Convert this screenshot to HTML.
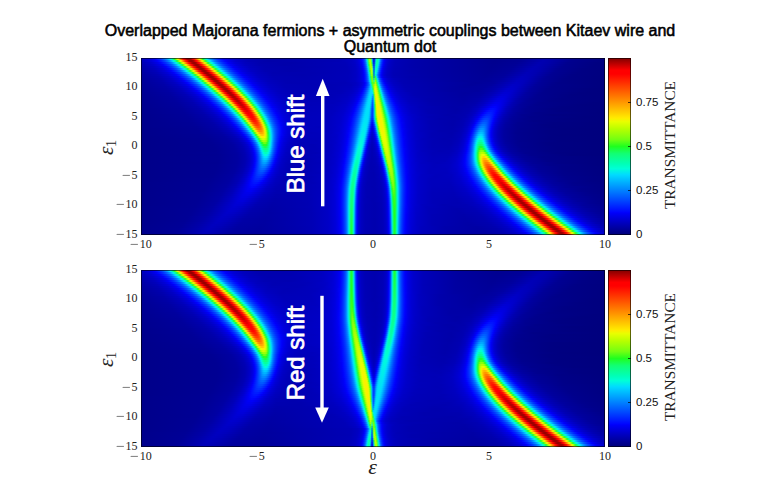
<!DOCTYPE html>
<html lang="en">
<head>
<meta charset="utf-8">
<title>Overlapped Majorana fermions - transmittance</title>
<style>
html,body{margin:0;padding:0;background:#fff}
body{width:780px;height:500px;position:relative;overflow:hidden;font-family:"Liberation Sans",sans-serif;color:#000}
.abs{position:absolute}
.title{left:0;width:780px;text-align:center;font-weight:normal;font-size:16px;line-height:18px;white-space:nowrap;color:#000;-webkit-text-stroke:.55px #000}
.hm{position:absolute;width:464px;height:177px;overflow:hidden;background:#0000c8}
.hm i{display:block;width:464px;height:2px}
.hm b{display:block;filter:blur(.6px)}
.frame{position:absolute;box-sizing:border-box;border:1px solid rgba(0,0,0,.6)}
.cb{position:absolute;width:23px;height:177px;background:linear-gradient(0deg,#000078 0.0%,#0000bb 6.5%,#0000fa 12.5%,#0005ff 13.0%,#006bff 23.0%,#00dbff 34.0%,#00ffd6 37.5%,#00ffb9 40.0%,#12ff73 46.0%,#1fff1f 50.0%,#73ff12 54.0%,#b9ff00 60.0%,#e8ff00 64.0%,#ffec00 66.0%,#ff7b00 78.0%,#ff0000 91.0%,#ff0000 93.0%,#800000 100.0%)}
.cbt{position:absolute;width:3px;height:1px;background:rgba(0,0,0,.7)}
.tk{position:absolute;font-family:"Liberation Serif",serif;font-size:12px;line-height:14px;color:#222;white-space:nowrap}
.m{display:inline-block;transform:scaleX(1.3);transform-origin:100% 50%;margin-left:2px;margin-right:.5px}
.tky{width:30px;text-align:right}
.tkx{width:40px;text-align:center}
.cl{position:absolute;font-family:"Liberation Sans",sans-serif;font-size:11.5px;line-height:14px;color:#111;white-space:nowrap}
.rot{position:absolute;white-space:nowrap;transform-origin:0 0;transform:rotate(-90deg)}
.tr{font-family:"Liberation Serif",serif;font-size:15.3px;line-height:16px;color:#222;width:160px;text-align:center}
.sh{font-family:"Liberation Sans",sans-serif;font-weight:normal;font-size:24px;line-height:22px;color:#fff;width:140px;-webkit-text-stroke:.7px #fff;text-align:center}
.eps{font-family:"Liberation Serif",serif;font-style:italic;color:#222}
</style>
</head>
<body>
<div class="abs title" style="top:21.5px">Overlapped Majorana fermions + asymmetric couplings between Kitaev wire and</div>
<div class="abs title" style="top:38px">Quantum dot</div>
<div class="hm" style="left:141px;top:58px"><b>
<i style="background:linear-gradient(90deg,#0000be 0,#00d 9px,#0000fa 14px,#0007ff 15px,#0035ff 20px,#005dff 23px,#0092ff 26px,#00dcff 29px,#00f9dd 30px,#00ffb8 31px,#0bff90 32px,#16ff58 33px,#3aff1b 34px,#86ff0d 35px,#bf0 36px,#f2f700 37px,#ffc900 38px,#ff4300 41px,#ff1c00 42px,#f00 43px,#e50000 44px,#be0000 45px,#a50000 46px,#980000 47px,#960000 48px,#9b0000 49px,#ab0000 50px,#c80000 51px,#f30000 52px,#ff0400 53px,#ff4f00 55px,#ffd600 58px,#e2ff00 59px,#abff04 60px,#7f1 61px,#21ff1e 62px,#13ff6f 63px,#00ffc3 65px,#00f0e7 66px,#00d4ff 67px,#008cff 70px,#0059ff 73px,#0029ff 77px,#0007ff 81px,#0001fa 82px,#0000d8 89px,#0000bd 99px,#0000ad 115px,#0000a9 144px,#0000b8 204px,#0000c6 213px,#0000d7 217px,#0000e8 219px,#0000f4 220px,#000aff 221px,#001fff 222px,#003cff 223px,#0064ff 224px,#00a1ff 225px,#00fbdb 226px,#17ff51 227px,#99ff08 228px,#beff00 229px,#75ff12 230px,#00e1f9 231px,#0025ff 232px,#0000be 233px,#0045ff 234px,#00d3ff 235px,#05ffa4 236px,#05ffa4 237px,#00f2e4 238px,#00a6ff 239px,#0068ff 240px,#003cff 241px,#001cff 242px,#0005fe 243px,#0000e1 245px,#0000ca 248px,#0000b8 254px,#0000ab 271px,#00008f 355px,#000094 380px,#0000b0 405px,#0000a3 416px,#00008d 434px,#000081 464px)"></i>
<i style="background:linear-gradient(90deg,#0000b8 0,#0000d6 10px,#0000f5 16px,#0002fc 17px,#001aff 20px,#0045ff 24px,#0072ff 27px,#0098ff 29px,#00c9ff 31px,#00e5f4 32px,#00ffd1 33px,#04ffab 34px,#0fff81 35px,#1aff3c 36px,#58ff16 37px,#98ff09 38px,#ceff00 39px,#ffe600 40px,#ff5e00 43px,#ff0f00 45px,#f00 46px,#d40000 47px,#b20000 48px,#9e0000 49px,#970000 50px,#970000 51px,#a00000 52px,#b50000 53px,#f00 55px,#ff1300 56px,#ff6200 58px,#ffeb00 61px,#c8ff00 62px,#92ff0a 63px,#4fff18 64px,#19ff44 65px,#0dff86 66px,#03ffaf 67px,#00ffd5 68px,#00e2f7 69px,#00c6ff 70px,#0082ff 73px,#0052ff 76px,#0024ff 80px,#0004fe 84px,#0000ec 87px,#00c 95px,#0000b6 107px,#00a 127px,#0000b4 198px,#0000c0 211px,#0000cf 216px,#0000e4 219px,#0004fe 221px,#0018ff 222px,#0032ff 223px,#0057ff 224px,#008cff 225px,#00e1f9 226px,#0fff80 227px,#81ff0f 228px,#bfff00 229px,#9dff07 230px,#01ffb4 231px,#003dff 232px,#0000c2 233px,#0061ff 234px,#00f5e1 235px,#06ffa1 236px,#02ffb3 237px,#00ddfd 238px,#0091ff 239px,#0059ff 240px,#0031ff 241px,#0013ff 242px,#0000f8 243px,#00d 245px,#0000c8 248px,#0000b7 254px,#0000ab 272px,#00008f 354px,#000095 378px,#0000b1 402px,#0000a6 412px,#00008e 430px,#000082 461px,#000081 464px)"></i>
<i style="background:linear-gradient(90deg,#0000b2 0,#0000cb 10px,#0000ea 17px,#0004fe 20px,#0030ff 25px,#0057ff 28px,#008aff 31px,#00d2ff 34px,#00efe9 35px,#00ffc5 36px,#13ff71 38px,#20ff1e 39px,#76ff11 40px,#abff04 41px,#e3ff00 42px,#ffd500 43px,#ff4d00 46px,#ff0200 48px,#ef0000 49px,#c50000 50px,#a90000 51px,#9a0000 52px,#960000 53px,#9a0000 54px,#a80000 55px,#c30000 56px,#ed0000 57px,#f00 58px,#ff2300 59px,#f70 61px,#ffd300 63px,#e5ff00 64px,#aeff03 65px,#79ff11 66px,#24ff1e 67px,#13ff6d 68px,#08ff9b 69px,#00ffc3 70px,#00f0e7 71px,#00d3ff 72px,#008bff 75px,#0058ff 78px,#0028ff 82px,#0007ff 86px,#0000fa 87px,#0000d7 94px,#0000be 104px,#0000ae 120px,#0000ab 150px,#0000b8 205px,#0000c6 214px,#0000d9 218px,#0000eb 220px,#0000f9 221px,#01f 222px,#0029ff 223px,#004bff 224px,#007aff 225px,#00c7ff 226px,#06ffa3 227px,#56ff17 228px,#baff00 229px,#b6ff01 230px,#15ff60 231px,#005bff 232px,#0000c8 233px,#0082ff 234px,#00ffc3 235px,#06ffa4 236px,#00ffc7 237px,#00c5ff 238px,#007cff 239px,#004bff 240px,#0026ff 241px,#000bff 242px,#0000f2 243px,#0000d9 245px,#0000c6 248px,#0000b6 254px,#00a 274px,#000090 353px,#000096 376px,#0000b2 399px,#00a 408px,#00008f 426px,#000082 455px,#000081 464px)"></i>
<i style="background:linear-gradient(90deg,#0000ae 0,#0000c9 12px,#0000e6 19px,#0000f8 22px,#0006ff 23px,#0034ff 28px,#005bff 31px,#0091ff 34px,#00dcff 37px,#00fadc 38px,#01ffb7 39px,#0bff8e 40px,#17ff53 41px,#41ff1a 42px,#8aff0c 43px,#c0ff00 44px,#f9f100 45px,#ffc300 46px,#ff3c00 49px,#ff1600 50px,#f00 51px,#b70000 53px,#a10000 54px,#970000 55px,#970000 56px,#9f0000 57px,#b30000 58px,#d50000 59px,#f00 60px,#ff1000 61px,#ff6000 63px,#ffea00 66px,#c9ff00 67px,#92ff0a 68px,#4eff18 69px,#19ff46 70px,#0dff87 71px,#02ffb1 72px,#00ffd7 73px,#00e0f9 74px,#00c4ff 75px,#0080ff 78px,#0050ff 81px,#02f 85px,#0003fd 89px,#00d 95px,#0000c2 104px,#0000b1 118px,#0000ab 143px,#0000b7 205px,#0000c4 214px,#0000d6 218px,#0000e7 220px,#0000f3 221px,#000aff 222px,#0020ff 223px,#003fff 224px,#0069ff 225px,#00acff 226px,#00ffc7 227px,#1dff27 228px,#aaff04 229px,#c2ff00 230px,#5dff16 231px,#0083ff 232px,#0000cf 233px,#00acff 234px,#02ffb2 235px,#04ffab 236px,#00f5e1 237px,#00abff 238px,#006aff 239px,#003cff 240px,#001bff 241px,#0003fd 242px,#0000df 244px,#0000c8 247px,#0000b7 253px,#0000ab 271px,#000091 352px,#000097 374px,#0000b3 397px,#0000a8 407px,#00008f 424px,#000082 453px,#000080 464px)"></i>
<i style="background:linear-gradient(90deg,#00a 0,#0000c3 13px,#0000e2 21px,#0001fa 25px,#0010ff 27px,#0038ff 31px,#0061ff 34px,#0083ff 36px,#00caff 39px,#00e6f2 40px,#00ffcf 41px,#05ffa8 42px,#10ff7d 43px,#1cff32 44px,#64ff14 45px,#a0ff07 46px,#d7ff00 47px,#ffde00 48px,#ff5400 51px,#ff0700 53px,#f60000 54px,#c90000 55px,#ab0000 56px,#9b0000 57px,#970000 58px,#900 59px,#a70000 60px,#c20000 61px,#eb0000 62px,#f00 63px,#f20 64px,#f70 66px,#ffd400 68px,#e3ff00 69px,#abff04 70px,#76ff11 71px,#1fff1f 72px,#12ff73 73px,#00ffc6 75px,#00edeb 76px,#00d0ff 77px,#08f 80px,#0056ff 83px,#0026ff 87px,#0005ff 91px,#0000f8 92px,#0000d7 99px,#0000be 109px,#0000af 125px,#0000ad 158px,#0000b7 206px,#0000c3 214px,#0000d3 218px,#00e 221px,#0003fd 222px,#0017ff 223px,#03f 224px,#0059ff 225px,#0092ff 226px,#00ebed 227px,#13ff6d 228px,#90ff0b 229px,#c6ff00 230px,#9dff07 231px,#0bf 232px,#0000d9 233px,#00d3ff 234px,#03ffae 235px,#00ffba 236px,#00dbff 237px,#0090ff 238px,#0058ff 239px,#002fff 240px,#01f 241px,#0000f5 242px,#0000da 244px,#0000c6 247px,#0000b6 253px,#00a 273px,#000091 351px,#000098 372px,#0000b4 394px,#0000ab 403px,#000090 421px,#000083 449px,#000080 464px)"></i>
<i style="background:linear-gradient(90deg,#0000a6 0,#0000bf 14px,#0000da 22px,#0003fd 28px,#0030ff 33px,#0057ff 36px,#008bff 39px,#00d5ff 42px,#00f2e5 43px,#00ffc0 44px,#09ff97 45px,#14ff64 46px,#2fff1c 47px,#80ff0f 48px,#b7ff01 49px,#eff900 50px,#ffca00 51px,#ff4100 54px,#ff1a00 55px,#f00 56px,#df0000 57px,#ba0000 58px,#a20000 59px,#980000 60px,#970000 61px,#9f0000 62px,#b30000 63px,#d50000 64px,#f00 65px,#f10 66px,#ff6200 68px,#fdee00 71px,#c4ff00 72px,#8dff0b 73px,#45ff19 74px,#17ff50 75px,#0cff8d 76px,#01ffb6 77px,#00fadc 78px,#00dbff 79px,#0090ff 82px,#005bff 85px,#002aff 89px,#0008ff 93px,#0001fb 94px,#0000dc 100px,#0000c2 109px,#0000b1 123px,#0000ad 150px,#0000b7 206px,#0000c4 215px,#0000d7 219px,#0000e9 221px,#0000f7 222px,#000fff 223px,#0028ff 224px,#004aff 225px,#007bff 226px,#00cbff 227px,#08ff9a 228px,#6aff14 229px,#c2ff00 230px,#bcff00 231px,#00f8df 232px,#0000e8 233px,#00efe9 234px,#02ffb1 235px,#00ffd2 236px,#00bfff 237px,#0078ff 238px,#0046ff 239px,#0021ff 240px,#0007ff 241px,#00e 242px,#0000d6 244px,#0000c3 247px,#0000b4 254px,#0000a7 283px,#000092 350px,#009 370px,#0000b5 391px,#0000af 399px,#000092 417px,#000084 442px,#000080 464px)"></i>
<i style="background:linear-gradient(90deg,#0000a4 0,#0000ba 15px,#0000d7 24px,#0000f8 30px,#0005ff 31px,#0029ff 35px,#005cff 39px,#0093ff 42px,#00c4ff 44px,#00e0f9 45px,#00ffd6 46px,#03ffaf 47px,#0eff85 48px,#1aff40 49px,#57ff16 50px,#98ff09 51px,#d0ff00 52px,#ffe400 53px,#ff5800 56px,#ff0900 58px,#f90000 59px,#cb0000 60px,#ac0000 61px,#9c0000 62px,#970000 63px,#9a0000 64px,#a80000 65px,#c30000 66px,#e00 67px,#ff0200 68px,#ff2500 69px,#ff7b00 71px,#ffda00 73px,#dcff00 74px,#a4ff06 75px,#6aff14 76px,#1cff2e 77px,#10ff7b 78px,#05ffa6 79px,#00ffce 80px,#00e7f2 81px,#00caff 82px,#0083ff 85px,#0052ff 88px,#0023ff 92px,#0003fd 96px,#0000e1 101px,#0000c5 110px,#0000b3 124px,#0000ad 150px,#0000b7 207px,#0000c3 215px,#0000d4 219px,#0000e5 221px,#0000f2 222px,#0008ff 223px,#001fff 224px,#003eff 225px,#006aff 226px,#00aeff 227px,#00ffc3 228px,#22ff1e 229px,#b0ff02 230px,#c9ff00 231px,#08ff99 232px,#0008ff 233px,#00fdd9 234px,#0fb 235px,#00e9ef 236px,#00a1ff 237px,#0063ff 238px,#0037ff 239px,#0016ff 240px,#0000f9 241px,#0000dc 243px,#0000c6 246px,#0000b6 252px,#00a 271px,#000093 349px,#00009c 369px,#0000b7 389px,#0000b0 397px,#000092 415px,#000084 441px,#000080 464px)"></i>
<i style="background:linear-gradient(90deg,#0000a1 0,#0000b7 16px,#0000d4 26px,#0000f3 32px,#0001fa 33px,#0010ff 35px,#0038ff 39px,#0063ff 42px,#0087ff 44px,#00d0ff 47px,#00edeb 48px,#00ffc5 49px,#07ff9d 50px,#13ff6f 51px,#25ff1e 52px,#7bff10 53px,#b2ff02 54px,#ebfc00 55px,#ffcd00 56px,#ff4200 59px,#ff1b00 60px,#f00 61px,#e00000 62px,#ba0000 63px,#a20000 64px,#900 65px,#980000 66px,#a00000 67px,#b60000 68px,#f00 70px,#ff1600 71px,#ff6800 73px,#ffc700 75px,#f3f600 76px,#b9ff00 77px,#82ff0e 78px,#31ff1c 79px,#15ff63 80px,#09ff97 81px,#00ffc0 82px,#00f1e6 83px,#00d3ff 84px,#0089ff 87px,#0056ff 90px,#0026ff 94px,#0005ff 98px,#0000f8 99px,#0000d7 106px,#0000bf 116px,#0000b0 132px,#0000b0 172px,#0000b8 208px,#0000c6 216px,#0000da 220px,#00e 222px,#0004fe 223px,#0018ff 224px,#0035ff 225px,#005cff 226px,#0096ff 227px,#00f0e8 228px,#14ff66 229px,#93ff0a 230px,#cf0 231px,#14ff6a 232px,#0028ff 233px,#00fdd9 234px,#00ffd0 235px,#0cf 236px,#0085ff 237px,#0051ff 238px,#002aff 239px,#000dff 240px,#0000f3 241px,#0000d8 243px,#0000c5 246px,#0000b5 252px,#00a 273px,#000094 347px,#00009c 366px,#0000b8 386px,#0000b2 394px,#000093 412px,#000085 436px,#000080 464px)"></i>
<i style="background:linear-gradient(90deg,#00009f 0,#0000b3 17px,#0000ce 27px,#0000ef 34px,#0003fd 36px,#0026ff 40px,#0059ff 44px,#0090ff 47px,#00c0ff 49px,#00dcfe 50px,#00fbda 51px,#01ffb3 52px,#0dff89 53px,#19ff47 54px,#50ff17 55px,#95ff09 56px,#cdff00 57px,#ffe500 58px,#ff5700 61px,#ff2d00 62px,#ff0800 63px,#f70000 64px,#ca0000 65px,#ab0000 66px,#9c0000 67px,#980000 68px,#9c0000 69px,#ab0000 70px,#c90000 71px,#f60000 72px,#ff0800 73px,#ff2d00 74px,#ff8500 76px,#ffe500 78px,#ceff00 79px,#95ff09 80px,#51ff17 81px,#19ff46 82px,#0dff88 83px,#02ffb3 84px,#00fcda 85px,#00ddfd 86px,#00a7ff 88px,#007cff 90px,#004cff 93px,#001fff 97px,#0007ff 100px,#0000fa 101px,#0000dc 107px,#0000c3 116px,#0000b2 131px,#0000af 162px,#0000b8 207px,#0000c3 215px,#0000d3 219px,#0000ed 222px,#0001fb 223px,#0014ff 224px,#002eff 225px,#0052ff 226px,#0084ff 227px,#00d5ff 228px,#0aff92 229px,#6dff13 230px,#c3ff00 231px,#1aff3f 232px,#0049ff 233px,#0bff8f 234px,#00ecec 235px,#00aeff 236px,#0070ff 237px,#0042ff 238px,#0020ff 239px,#0006ff 240px,#00e 241px,#0000d6 243px,#0000c4 246px,#0000b4 253px,#0000a8 281px,#000095 345px,#00009d 364px,#0000ba 384px,#0000b3 392px,#000094 409px,#000085 432px,#000080 464px)"></i>
<i style="background:linear-gradient(90deg,#00009d 0,#0000b0 18px,#0000cb 29px,#0000eb 36px,#0000f8 38px,#0006ff 39px,#002bff 43px,#0051ff 46px,#0084ff 49px,#00cdff 52px,#00ebee 53px,#00ffc8 54px,#12ff72 56px,#22ff1e 57px,#7aff10 58px,#b1ff02 59px,#ebfc00 60px,#fc0 61px,#ff4000 64px,#ff1800 65px,#f00 66px,#b70000 68px,#a10000 69px,#900 70px,#9a0000 71px,#a40000 72px,#bc0000 73px,#e40000 74px,#f00 75px,#ff1f00 76px,#ff7500 78px,#ffd400 80px,#e1ff00 81px,#a8ff05 82px,#6fff13 83px,#1dff2b 84px,#10ff7b 85px,#05ffa7 86px,#00ffcf 87px,#00e5f4 88px,#00c8ff 89px,#0080ff 92px,#004fff 95px,#0021ff 99px,#0008ff 102px,#0002fb 103px,#00d 109px,#0000c3 118px,#0000b4 132px,#0000b0 162px,#0000b8 207px,#0000c3 215px,#0000d3 219px,#0000ec 222px,#0000fa 223px,#0012ff 224px,#002aff 225px,#004bff 226px,#0078ff 227px,#00bfff 228px,#01ffb4 229px,#2dff1c 230px,#afff03 231px,#23ff1e 232px,#0074ff 233px,#28ff1d 234px,#08ff9a 235px,#00cdff 236px,#007dff 237px,#004bff 238px,#0027ff 239px,#000eff 240px,#0000f5 241px,#0000dc 243px,#0000c8 246px,#0000b7 252px,#0000ab 270px,#000096 344px,#00009e 362px,#0000bc 381px,#0000b7 388px,#000095 406px,#000086 428px,#00007f 464px)"></i>
<i style="background:linear-gradient(90deg,#00009b 0,#0000ad 19px,#0000c6 30px,#0000e2 37px,#0002fb 41px,#001aff 44px,#0049ff 48px,#0079ff 51px,#00a5ff 53px,#00dbff 55px,#00fadb 56px,#01ffb4 57px,#0dff89 58px,#19ff46 59px,#53ff17 60px,#97ff09 61px,#d0ff00 62px,#ffe200 63px,#ff5300 66px,#ff2900 67px,#ff0300 68px,#f00000 69px,#c50000 70px,#a90000 71px,#9c0000 72px,#900 73px,#9f0000 74px,#b20000 75px,#d50000 76px,#f00 77px,#ff1200 78px,#f60 80px,#ffc500 82px,#f3f600 83px,#b8ff00 84px,#80ff0f 85px,#2cff1d 86px,#14ff6a 87px,#08ff9b 88px,#00ffc5 89px,#00edeb 90px,#00cfff 91px,#009bff 93px,#0072ff 95px,#0045ff 98px,#001aff 102px,#0003fd 105px,#00d 111px,#0000c4 120px,#0000b4 134px,#0000b1 165px,#0000b8 207px,#0000c4 215px,#0000d4 219px,#0000ec 222px,#0000f9 223px,#01f 224px,#0027ff 225px,#0046ff 226px,#006fff 227px,#00aeff 228px,#00ffcf 229px,#18ff4b 230px,#96ff09 231px,#4bff18 232px,#00b9ff 233px,#7eff0f 234px,#1aff3f 235px,#00ffc9 236px,#00b3ff 237px,#0072ff 238px,#0048ff 239px,#0029ff 240px,#01f 241px,#0000f9 242px,#0000e1 244px,#00c 247px,#0000ba 253px,#0000ad 269px,#000097 341px,#00009f 359px,#0000be 379px,#0000b9 386px,#000097 403px,#000087 424px,#00007f 464px)"></i>
<i style="background:linear-gradient(90deg,#009 0,#0000ac 21px,#0000c4 32px,#0000e4 40px,#0000f7 43px,#0005ff 44px,#0029ff 48px,#004fff 51px,#0083ff 54px,#00b2ff 56px,#00cdff 57px,#00ebed 58px,#00ffc7 59px,#07ff9e 60px,#13ff6e 61px,#28ff1d 62px,#7eff0f 63px,#b7ff01 64px,#f2f700 65px,#ffc600 66px,#f60 68px,#ff1200 70px,#f00 71px,#d40000 72px,#b20000 73px,#a00000 74px,#9a0000 75px,#9d0000 76px,#ab0000 77px,#c80000 78px,#f50000 79px,#ff0700 80px,#ff2d00 81px,#ff8700 83px,#ffe900 85px,#c8ff00 86px,#8fff0b 87px,#43ff19 88px,#17ff55 89px,#0bff91 90px,#0fb 91px,#00f4e2 92px,#00d5ff 93px,#00a0ff 95px,#0076ff 97px,#0047ff 100px,#001bff 104px,#0004fe 107px,#0000f1 109px,#0000d3 116px,#0000be 126px,#0000b2 144px,#0000b7 204px,#0000c1 214px,#0000d2 219px,#0000e9 222px,#0000f6 223px,#000cff 224px,#0020ff 225px,#003cff 226px,#0062ff 227px,#0098ff 228px,#00e8f0 229px,#0fff81 230px,#78ff11 231px,#73ff12 232px,#00ffbe 233px,#a7ff05 234px,#5bff16 235px,#0aff92 236px,#00dffb 237px,#0093ff 238px,#0060ff 239px,#003bff 240px,#0020ff 241px,#000cff 242px,#0000f6 243px,#0000d8 246px,#0000c4 250px,#0000b4 259px,#00009b 323px,#00009a 349px,#0000a9 363px,#0000c0 376px,#0000bc 383px,#000097 401px,#000087 422px,#00007f 464px)"></i>
<i style="background:linear-gradient(90deg,#000098 0,#00a 22px,#0000c2 34px,#0000e1 42px,#0000fa 46px,#0010ff 48px,#003bff 52px,#0067ff 55px,#008eff 57px,#00c0ff 59px,#00dcfe 60px,#00fcd9 61px,#02ffb1 62px,#0eff85 63px,#1aff3c 64px,#5eff15 65px,#9fff07 66px,#d9ff00 67px,#ffda00 68px,#ff4a00 71px,#ff2000 72px,#f00 73px,#e40000 74px,#bd0000 75px,#a50000 76px,#9c0000 77px,#9c0000 78px,#a60000 79px,#bf0000 80px,#e70000 81px,#f00 82px,#f20 83px,#ff7b00 85px,#fd0 87px,#d5ff00 88px,#9bff08 89px,#58ff16 90px,#19ff42 91px,#0dff88 92px,#01ffb3 93px,#00fadb 94px,#00dbff 95px,#00a4ff 97px,#0078ff 99px,#0049ff 102px,#001cff 106px,#0005fe 109px,#0000f2 111px,#0000d4 118px,#0000bf 128px,#0000b2 146px,#0000b6 205px,#0000c0 215px,#0000d2 220px,#0000eb 223px,#0000f9 224px,#0012ff 225px,#002aff 226px,#004bff 227px,#0079ff 228px,#00c1ff 229px,#02ffb0 230px,#35ff1b 231px,#80ff0f 232px,#19ff43 233px,#c6ff00 234px,#93ff0a 235px,#19ff44 236px,#00ffc3 237px,#00beff 238px,#007dff 239px,#0053ff 240px,#0034ff 241px,#001bff 242px,#0009ff 243px,#0000f4 244px,#0000d8 247px,#0000c2 252px,#0000b3 262px,#009 335px,#00009f 353px,#0000b5 366px,#0000c3 375px,#0000bc 382px,#009 398px,#008 417px,#00007f 464px)"></i>
<i style="background:linear-gradient(90deg,#000097 0,#0000a8 23px,#0000c0 36px,#0000de 44px,#0000f6 48px,#0004fe 49px,#0029ff 53px,#004fff 56px,#0084ff 59px,#00b3ff 61px,#00cfff 62px,#00eee9 63px,#00ffc2 64px,#09ff97 65px,#15ff60 66px,#38ff1b 67px,#89ff0d 68px,#c3ff00 69px,#ffec00 70px,#ff5a00 73px,#ff2e00 74px,#ff0700 75px,#f50000 76px,#c80000 77px,#ac0000 78px,#9e0000 79px,#9c0000 80px,#a30000 81px,#b80000 82px,#f00 84px,#ff1900 85px,#ff7100 87px,#ffd300 89px,#e1ff00 90px,#a6ff05 91px,#6aff14 92px,#1cff33 93px,#0fff80 94px,#03ffad 95px,#00ffd6 96px,#00dffb 97px,#00a7ff 99px,#007aff 101px,#004aff 104px,#001dff 108px,#0005ff 111px,#0000f8 112px,#0000db 118px,#0000c4 127px,#0000b5 142px,#0000b3 188px,#0000b9 210px,#0000c6 217px,#0000db 221px,#0000ef 223px,#0004fe 224px,#0017ff 225px,#002fff 226px,#004eff 227px,#0073ff 228px,#00a2ff 229px,#00f0e8 230px,#15ff60 231px,#7dff10 232px,#7aff10 233px,#daff00 234px,#b7ff01 235px,#56ff16 236px,#0cff8a 237px,#00edeb 238px,#00a5ff 239px,#006fff 240px,#004bff 241px,#002eff 242px,#0007ff 244px,#0000f4 245px,#0000d9 248px,#0000c3 253px,#0000b4 263px,#00009a 330px,#0000a0 350px,#0000b5 363px,#0000c6 372px,#0000c2 378px,#00009b 395px,#00008a 413px,#00007f 463px,#00007f 464px)"></i>
<i style="background:linear-gradient(90deg,#000096 0,#0000a7 25px,#0000be 38px,#0000db 46px,#0000fa 51px,#0008ff 52px,#002fff 56px,#0058ff 59px,#007bff 61px,#00a8ff 63px,#00c3ff 64px,#00e1f8 65px,#00ffd2 66px,#04ffa9 67px,#10ff7b 68px,#1dff28 69px,#74ff12 70px,#adff03 71px,#e9fe00 72px,#fc0 73px,#ff6900 75px,#ff3b00 76px,#ff1300 77px,#f00 78px,#d50000 79px,#b30000 80px,#a20000 81px,#9e0000 82px,#a20000 83px,#b30000 84px,#d40000 85px,#f00 86px,#ff1200 87px,#ff3a00 88px,#ff9800 90px,#ffca00 91px,#ebfc00 92px,#afff03 93px,#76ff12 94px,#1eff26 95px,#10ff7a 96px,#05ffa8 97px,#00ffd1 98px,#00e2f7 99px,#00c4ff 100px,#0091ff 102px,#0069ff 104px,#003dff 107px,#0014ff 111px,#0005ff 113px,#0000f8 114px,#0000db 120px,#0000c4 129px,#0000b5 144px,#0000b4 191px,#00b 210px,#0000ca 217px,#0000da 220px,#0000ed 222px,#0000fa 223px,#01f 224px,#0026ff 225px,#0041ff 226px,#0062ff 227px,#08f 228px,#00b5ff 229px,#00d8ff 230px,#05ffa5 231px,#58ff16 232px,#a1ff06 233px,#e5ff00 234px,#d0ff00 235px,#8eff0b 236px,#1aff3d 237px,#01ffb5 238px,#00d0ff 239px,#0091ff 240px,#0065ff 241px,#04f 242px,#002bff 243px,#0007ff 245px,#0000f4 246px,#0000da 249px,#0000c5 254px,#0000b4 264px,#00009c 323px,#00009f 345px,#0000ae 357px,#0000c9 370px,#0000c4 376px,#00009b 393px,#00008a 411px,#00007f 461px,#00007f 464px)"></i>
<i style="background:linear-gradient(90deg,#000095 0,#0000a5 26px,#0000ba 39px,#0000d4 47px,#0000f6 53px,#0004fe 54px,#0029ff 58px,#0051ff 61px,#0087ff 64px,#00b8ff 66px,#00d5ff 67px,#00f5e1 68px,#00ffb8 69px,#0cff8c 70px,#19ff48 71px,#54ff17 72px,#9aff08 73px,#d6ff00 74px,#ffdb00 75px,#ff4800 78px,#ff1e00 79px,#f00 80px,#e10000 81px,#bc0000 82px,#a70000 83px,#a00000 84px,#a20000 85px,#b00000 86px,#ce0000 87px,#fc0000 88px,#ff0c00 89px,#ff3400 90px,#ff9200 92px,#ffc400 93px,#f2f600 94px,#b6ff01 95px,#7bff10 96px,#20ff1e 97px,#12ff76 98px,#05ffa4 99px,#00ffcf 100px,#00e4f5 101px,#00c6ff 102px,#0092ff 104px,#006aff 106px,#003dff 109px,#0014ff 113px,#0005ff 115px,#0000f8 116px,#0000db 122px,#0000c4 131px,#0000b6 146px,#0000b4 192px,#0000bd 210px,#0000cb 216px,#0000e2 220px,#0000f7 222px,#000cff 223px,#0037ff 225px,#0075ff 227px,#00c3ff 229px,#00defc 230px,#00eaee 231px,#1aff3b 232px,#a9ff04 233px,#eafd00 234px,#e2ff00 235px,#b1ff02 236px,#55ff17 237px,#0fff81 238px,#00fcda 239px,#00b9ff 240px,#0081ff 241px,#005cff 242px,#003fff 243px,#0016ff 245px,#0007ff 246px,#0000f4 247px,#0000db 250px,#0000c6 255px,#0000b5 265px,#00009f 315px,#00009e 340px,#0000ac 353px,#0000cb 367px,#0000c9 373px,#00009e 390px,#00008c 406px,#000080 447px,#00007f 464px)"></i>
<i style="background:linear-gradient(90deg,#000094 0,#0000a3 27px,#0000b9 41px,#0000d7 50px,#0000fa 56px,#01f 58px,#003dff 62px,#006bff 65px,#0095ff 67px,#00cbff 69px,#00eaee 70px,#00ffc7 71px,#08ff9b 72px,#14ff65 73px,#35ff1b 74px,#89ff0d 75px,#c4ff00 76px,#ffea00 77px,#ff5400 80px,#ff2800 81px,#ff0200 82px,#e00 83px,#c40000 84px,#ac0000 85px,#a20000 86px,#a30000 87px,#af0000 88px,#ca0000 89px,#f60000 90px,#ff0800 91px,#ff2f00 92px,#ff8d00 94px,#ffc000 95px,#f7f200 96px,#baff00 97px,#7fff0f 98px,#25ff1e 99px,#12ff74 100px,#06ffa3 101px,#00ffce 102px,#00e5f4 103px,#00c6ff 104px,#0091ff 106px,#0069ff 108px,#003dff 111px,#0014ff 115px,#0005ff 117px,#0000f2 119px,#0000d4 126px,#0000c0 136px,#0000b5 154px,#0000b7 201px,#0000c3 212px,#0000d4 217px,#0000ea 220px,#0000f5 221px,#0009ff 222px,#002fff 224px,#06f 226px,#08f 227px,#00afff 228px,#00ceff 229px,#00e0f9 230px,#00e2f8 231px,#08ff99 232px,#95ff09 233px,#ebfc00 234px,#ecfb00 235px,#caff00 236px,#89ff0c 237px,#1bff38 238px,#04ffa9 239px,#00e1f9 240px,#00a5ff 241px,#0076ff 242px,#05f 243px,#003bff 244px,#0015ff 246px,#0007ff 247px,#0000f5 248px,#00d 251px,#0000c7 256px,#0000b6 266px,#0000a2 309px,#00009f 337px,#0000ac 350px,#0000cf 365px,#00c 371px,#00009f 388px,#00008c 404px,#000081 445px,#00007f 464px)"></i>
<i style="background:linear-gradient(90deg,#000093 0,#0000a2 29px,#0000b8 43px,#0000d4 52px,#0000f7 58px,#0005fe 59px,#002bff 63px,#0054ff 66px,#008dff 69px,#00c1ff 71px,#00dffa 72px,#00ffd4 73px,#04ffa9 74px,#11ff7a 75px,#1eff23 76px,#79ff11 77px,#b4ff01 78px,#f2f700 79px,#ffc400 80px,#ff5f00 82px,#ff3200 83px,#ff0a00 84px,#f90000 85px,#c00 86px,#b10000 87px,#a50000 88px,#a50000 89px,#af0000 90px,#c80000 91px,#f30000 92px,#ff0600 93px,#ff2d00 94px,#ff8a00 96px,#ffbd00 97px,#faf100 98px,#bf0 99px,#80ff0f 100px,#26ff1d 101px,#12ff74 102px,#06ffa3 103px,#00ffce 104px,#00e4f6 105px,#00c5ff 106px,#0090ff 108px,#0068ff 110px,#003cff 113px,#0013ff 117px,#0004fe 119px,#0000f1 121px,#0000d4 128px,#0000c0 138px,#0000b5 157px,#0000b8 200px,#0000c4 211px,#0000d5 216px,#0000ea 219px,#0000f4 220px,#0006ff 221px,#0028ff 223px,#005aff 225px,#0079ff 226px,#00bfff 228px,#00d7ff 229px,#00e1f8 230px,#00dcfe 231px,#00edea 232px,#5eff15 233px,#e5ff00 234px,#f2f700 235px,#df0 236px,#a9ff04 237px,#50ff17 238px,#10ff7b 239px,#0fc 240px,#00c9ff 241px,#0094ff 242px,#006dff 243px,#004fff 244px,#0024ff 246px,#0007ff 248px,#0000f6 249px,#0000d8 253px,#0000c4 259px,#0000b3 272px,#00009f 324px,#0000a5 342px,#0000b9 353px,#0000d3 363px,#0000d2 368px,#00009f 386px,#00008d 401px,#000081 439px,#00007f 464px)"></i>
<i style="background:linear-gradient(90deg,#000092 0,#0000a1 30px,#0000b6 45px,#0000d2 54px,#0000f4 60px,#0001fb 61px,#0012ff 63px,#0040ff 67px,#0071ff 70px,#009dff 72px,#00d6ff 74px,#00f7df 75px,#01ffb5 76px,#0dff87 77px,#1aff3b 78px,#65ff14 79px,#a6ff05 80px,#e4ff00 81px,#ffcf00 82px,#ff6900 84px,#ff3a00 85px,#f10 86px,#f00 87px,#d40000 88px,#b60000 89px,#a90000 90px,#a70000 91px,#b00000 92px,#c80000 93px,#f20000 94px,#ff0500 95px,#ff2c00 96px,#ff8a00 98px,#ffbd00 99px,#f9f100 100px,#baff00 101px,#7eff0f 102px,#22ff1e 103px,#12ff76 104px,#05ffa6 105px,#00ffd1 106px,#00e1f8 107px,#00c2ff 108px,#008dff 110px,#06f 112px,#003aff 115px,#01f 119px,#0003fd 121px,#0000de 127px,#0000c6 136px,#0000b8 151px,#0000b6 191px,#0000c0 207px,#0000d1 214px,#0000e9 218px,#0005fe 220px,#0024ff 222px,#0051ff 224px,#008cff 226px,#00afff 227px,#0cf 228px,#00ddfd 229px,#00e1f8 230px,#00d1ff 231px,#0af 232px,#17ff52 233px,#d6ff00 234px,#f4f500 235px,#eafd00 236px,#c2ff00 237px,#83ff0e 238px,#1bff38 239px,#06ffa1 240px,#00edeb 241px,#00b4ff 242px,#0085ff 243px,#0064ff 244px,#03f 246px,#0013ff 248px,#0006ff 249px,#0000f6 250px,#0000d9 254px,#0000c5 260px,#0000b3 273px,#0000a0 322px,#0000a5 339px,#0000b8 350px,#0000d7 361px,#0000d6 366px,#0000a3 383px,#00008f 397px,#000082 430px,#00007f 464px)"></i>
<i style="background:linear-gradient(90deg,#000091 0,#0000a0 32px,#0000b5 47px,#0000d0 56px,#0000f1 62px,#0000f8 63px,#0006ff 64px,#002eff 68px,#005aff 71px,#007fff 73px,#00b1ff 75px,#00ceff 76px,#00efe9 77px,#00ffbf 78px,#0aff92 79px,#17ff50 80px,#4fff17 81px,#9aff08 82px,#d8ff00 83px,#ffd800 84px,#ff7100 86px,#ff4100 87px,#ff1700 88px,#f00 89px,#bc0000 91px,#ad0000 92px,#ab0000 93px,#b30000 94px,#cb0000 95px,#f40000 96px,#ff0600 97px,#ff2d00 98px,#ff8c00 100px,#ffc000 101px,#f5f400 102px,#b6ff01 103px,#7aff11 104px,#1eff23 105px,#10ff7b 106px,#04ffab 107px,#00ffd6 108px,#00ddfd 109px,#00a2ff 111px,#0075ff 113px,#04f 116px,#0018ff 120px,#0008ff 122px,#0001fb 123px,#00d 129px,#0000c6 138px,#0000b8 153px,#0000b7 191px,#0000c1 206px,#0000d2 213px,#0000e9 217px,#0003fd 219px,#001fff 221px,#0048ff 223px,#007eff 225px,#00bfff 227px,#00d6ff 228px,#00e1f9 229px,#00e0fa 230px,#00baff 231px,#007bff 232px,#06ffa1 233px,#bf0 234px,#f5f400 235px,#f3f600 236px,#d6ff00 237px,#a0ff06 238px,#47ff19 239px,#10ff7a 240px,#00ffc4 241px,#00d4ff 242px,#00a2ff 243px,#0079ff 244px,#005cff 245px,#002fff 247px,#01f 249px,#0005ff 250px,#0000f5 251px,#0000da 255px,#0000c3 262px,#0000b3 276px,#0000a1 321px,#0000a7 338px,#0000ba 348px,#0000dc 359px,#0000db 364px,#0000a4 381px,#000090 395px,#000083 427px,#00007f 464px)"></i>
<i style="background:linear-gradient(90deg,#000091 0,#00009f 33px,#0000b4 49px,#0000cf 58px,#00e 64px,#0003fd 66px,#002bff 70px,#05f 73px,#0079ff 75px,#0af 77px,#00c7ff 78px,#00e7f2 79px,#00ffc9 80px,#08ff9b 81px,#15ff62 82px,#3dff1a 83px,#90ff0b 84px,#ceff00 85px,#ffe000 86px,#ff7800 88px,#ff4700 89px,#ff1c00 90px,#f00 91px,#c10000 93px,#b10000 94px,#af0000 95px,#b70000 96px,#cf0000 97px,#f90000 98px,#ff0900 99px,#ff3100 100px,#ff9100 102px,#ffc500 103px,#eefa00 104px,#aeff03 105px,#71ff13 106px,#1cff31 107px,#0eff83 108px,#02ffb2 109px,#00f9dd 110px,#00d7ff 111px,#009dff 113px,#0070ff 115px,#0041ff 118px,#0016ff 122px,#0006ff 124px,#0000f9 125px,#0000dc 131px,#0000c5 140px,#0000b8 156px,#0000b9 193px,#0000c5 207px,#0000d6 213px,#0000f1 217px,#0001fb 218px,#001cff 220px,#0042ff 222px,#0074ff 224px,#00b2ff 226px,#0cf 227px,#00ddfe 228px,#00e1f8 229px,#00dbff 230px,#009cff 231px,#0064ff 232px,#00ffd0 233px,#9bff08 234px,#f4f500 235px,#f7f200 236px,#e5ff00 237px,#baff00 238px,#7cff10 239px,#1aff3b 240px,#07ff9d 241px,#00f5e1 242px,#00c0ff 243px,#0093ff 244px,#0070ff 245px,#003fff 247px,#001dff 249px,#0005ff 251px,#0000ed 253px,#0000d2 258px,#0000bf 266px,#0000ae 286px,#0000a2 324px,#0000ab 338px,#0000bf 347px,#0000e0 357px,#0000e1 362px,#0000c3 370px,#0000a5 379px,#000091 392px,#000084 421px,#00007f 464px)"></i>
<i style="background:linear-gradient(90deg,#000090 0,#00009e 35px,#0000b3 51px,#0000cd 60px,#0000ec 66px,#0001fa 68px,#0012ff 70px,#0041ff 74px,#0075ff 77px,#00a4ff 79px,#00c1ff 80px,#00e1f9 81px,#00ffd0 82px,#06ffa3 83px,#13ff70 84px,#2fff1c 85px,#88ff0d 86px,#c6ff00 87px,#ffe600 88px,#ff4b00 91px,#ff2000 92px,#f00 93px,#e70000 94px,#c60000 95px,#b70000 96px,#b40000 97px,#bd0000 98px,#d60000 99px,#f00 100px,#ff0f00 101px,#ff3700 102px,#f90 104px,#ffce00 105px,#e3ff00 106px,#a3ff06 107px,#5eff15 108px,#19ff45 109px,#0bff8d 110px,#00ffbc 111px,#00f0e7 112px,#00cfff 113px,#0096ff 115px,#006bff 117px,#003dff 120px,#0013ff 124px,#0004fd 126px,#0000eb 129px,#0000d1 136px,#0000bf 147px,#0000b7 169px,#0000bc 198px,#0000ca 208px,#0000dc 213px,#0000f1 216px,#0000fa 217px,#0019ff 219px,#003cff 221px,#0085ff 224px,#00c1ff 226px,#00d6ff 227px,#00e0f9 228px,#00e1f8 229px,#00d0ff 230px,#0080ff 231px,#0058ff 232px,#00e9ef 233px,#7aff10 234px,#eff900 235px,#faf000 236px,#f1f700 237px,#d0ff00 238px,#9aff08 239px,#44ff19 240px,#12ff76 241px,#0fb 242px,#00e0fa 243px,#00b0ff 244px,#0086ff 245px,#0068ff 246px,#003bff 248px,#001cff 250px,#0005ff 252px,#00e 254px,#0000d3 259px,#0000be 268px,#0000ad 289px,#0000a4 323px,#0000ad 337px,#0000c4 346px,#0000e5 355px,#0000e8 359px,#0000da 364px,#0000ac 375px,#000096 386px,#000087 408px,#00007f 464px)"></i>
<i style="background:linear-gradient(90deg,#000090 0,#00009d 36px,#0000b0 52px,#0000cb 62px,#0000ea 68px,#0000f8 70px,#0006ff 71px,#0030ff 75px,#005eff 78px,#0086ff 80px,#00bcff 82px,#00dcff 83px,#00ffd6 84px,#04ffa9 85px,#1f7 86px,#24ff1e 87px,#82ff0e 88px,#c1ff00 89px,#ffea00 90px,#ff4e00 93px,#f20 94px,#f00 95px,#ec0000 96px,#cb0000 97px,#bc0000 98px,#b00 99px,#c50000 100px,#f00 102px,#ff1600 103px,#ff4000 104px,#ffa400 106px,#ffd900 107px,#d4ff00 108px,#95ff09 109px,#44ff19 110px,#15ff5e 111px,#08ff9a 112px,#00ffc9 113px,#00e6f3 114px,#00c5ff 115px,#008eff 117px,#0065ff 119px,#0038ff 122px,#000fff 126px,#0001fb 128px,#00d 134px,#0000c6 143px,#0000b9 159px,#0000ba 192px,#0000c6 205px,#0000d8 211px,#0000f0 215px,#0000f9 216px,#000aff 217px,#0037ff 220px,#007bff 223px,#00b5ff 225px,#00cdff 226px,#00ddfe 227px,#00e1f8 228px,#00e0fa 229px,#00c0ff 230px,#006cff 231px,#0052ff 232px,#00d9ff 233px,#4fff18 234px,#e6ff00 235px,#fbef00 236px,#f9f100 237px,#e1ff00 238px,#b5ff01 239px,#7aff11 240px,#1bff36 241px,#09ff95 242px,#00ffd5 243px,#00ceff 244px,#00a1ff 245px,#007dff 246px,#004bff 248px,#0028ff 250px,#0005ff 253px,#00e 255px,#0000d4 260px,#0000bf 269px,#0000ae 290px,#0000a5 322px,#0000ae 335px,#0000c2 343px,#0000ed 354px,#00e 358px,#0000db 363px,#0000b2 372px,#00009a 382px,#00008a 400px,#00007f 454px,#00007f 464px)"></i>
<i style="background:linear-gradient(90deg,#00008f 0,#00009d 38px,#0000b0 54px,#0000ca 64px,#0000e8 70px,#0000f6 72px,#0004fe 73px,#002eff 77px,#005bff 80px,#0082ff 82px,#00b8ff 84px,#00d8ff 85px,#00fbdb 86px,#03ffad 87px,#10ff7b 88px,#1eff20 89px,#7fff0f 90px,#beff00 91px,#ffeb00 92px,#ff8000 94px,#ff4f00 95px,#ff2300 96px,#f00 97px,#ef0000 98px,#d00000 99px,#c30000 100px,#c30000 101px,#cf0000 102px,#ed0000 103px,#f00 104px,#ff2100 105px,#ff4c00 106px,#ffb200 108px,#ffe800 109px,#c2ff00 110px,#82ff0e 111px,#23ff1e 112px,#11ff78 113px,#04ffaa 114px,#00fdd8 115px,#00daff 116px,#009dff 118px,#0070ff 120px,#003fff 123px,#0014ff 127px,#0004fe 129px,#0000f1 131px,#0000d4 138px,#0000c2 148px,#0000b8 168px,#0000be 196px,#0000cb 206px,#0000e2 212px,#0000f8 215px,#0009ff 216px,#03f 219px,#0072ff 222px,#00c3ff 225px,#00d6ff 226px,#00e0f9 227px,#00e1f8 228px,#00dcff 229px,#00afff 230px,#005cff 231px,#004fff 232px,#00cdff 233px,#23ff1e 234px,#d9ff00 235px,#fbef00 236px,#fcee00 237px,#eef900 238px,#cbff00 239px,#97ff09 240px,#44ff19 241px,#13ff6f 242px,#02ffb1 243px,#00ebed 244px,#00bdff 245px,#0094ff 246px,#0074ff 247px,#0047ff 249px,#0019ff 252px,#0004fe 254px,#00e 256px,#0000d5 261px,#0000c0 270px,#0000ae 291px,#0000a6 321px,#0000b0 334px,#0000c6 342px,#0000f3 352px,#0000f5 356px,#0000e2 361px,#0000b5 370px,#00009c 379px,#00008c 395px,#000080 440px,#00007e 464px)"></i>
<i style="background:linear-gradient(90deg,#00008f 0,#00009c 39px,#0000af 56px,#0000c9 66px,#0000e6 72px,#0002fc 75px,#002bff 79px,#0058ff 82px,#0080ff 84px,#00b5ff 86px,#00d5ff 87px,#00f9dd 88px,#02ffb0 89px,#10ff7d 90px,#1eff22 91px,#7eff0f 92px,#beff00 93px,#ffeb00 94px,#ff7f00 96px,#ff4e00 97px,#f20 98px,#f00 99px,#f20000 100px,#d60000 101px,#cb0000 102px,#cd0000 103px,#dc0000 104px,#fe0000 105px,#ff0900 106px,#ff2f00 107px,#ff5c00 108px,#ffc500 110px,#ecfb00 111px,#aaff04 112px,#66ff14 113px,#1aff40 114px,#0cff8d 115px,#00ffbe 116px,#00eeea 117px,#0cf 118px,#0091ff 120px,#0067ff 122px,#0038ff 125px,#000fff 129px,#0000fa 131px,#0000dc 137px,#0000c6 146px,#0000ba 162px,#0000bc 191px,#0000c9 204px,#00d 210px,#0000f7 214px,#0006ff 215px,#002eff 218px,#0069ff 221px,#009dff 223px,#00cdff 225px,#00dcfe 226px,#00e1f8 227px,#00e1f9 228px,#00d4ff 229px,#009cff 230px,#004fff 231px,#004cff 232px,#00c0ff 233px,#19ff47 234px,#c8ff00 235px,#faf000 236px,#fded00 237px,#f8f200 238px,#dcff00 239px,#b0ff02 240px,#7f1 241px,#1cff33 242px,#0bff8f 243px,#0fc 244px,#00d7ff 245px,#00adff 246px,#0087ff 247px,#05f 249px,#0031ff 251px,#000cff 254px,#0003fd 255px,#0000e2 259px,#0000ca 266px,#0000b7 279px,#0000a7 312px,#0000ab 328px,#0000bc 337px,#0000da 344px,#0000f9 350px,#0003fd 354px,#0000ef 358px,#0000bc 367px,#0000a2 375px,#000090 388px,#000083 421px,#00007e 464px)"></i>
<i style="background:linear-gradient(90deg,#00008e 0,#00009b 41px,#0000ae 58px,#0000c8 68px,#0000e5 74px,#0001fa 77px,#0013ff 79px,#0037ff 82px,#0069ff 85px,#0097ff 87px,#00d4ff 89px,#00f8de 90px,#02ffb0 91px,#10ff7d 92px,#1eff21 93px,#80ff0f 94px,#c0ff00 95px,#ffe900 96px,#ff7c00 98px,#ff4b00 99px,#ff2100 100px,#f00 101px,#f50000 102px,#d00 103px,#d60000 104px,#da0000 105px,#f00 107px,#ff1800 108px,#ff4000 109px,#ffa400 111px,#ffdb00 112px,#d0ff00 113px,#8fff0b 114px,#37ff1b 115px,#13ff6d 116px,#05ffa4 117px,#00ffd3 118px,#00dcfe 119px,#009eff 121px,#0084ff 122px,#004cff 125px,#0025ff 128px,#0003fd 132px,#00d 138px,#0000c7 147px,#0000ba 163px,#0000bd 191px,#0000c9 203px,#0000dc 209px,#0000f5 213px,#0004fe 214px,#0028ff 217px,#0060ff 220px,#0090ff 222px,#00c3ff 224px,#00d6ff 225px,#00e0fa 226px,#00dffa 228px,#00caff 229px,#0089ff 230px,#0042ff 231px,#0046ff 232px,#00b1ff 233px,#1f7 234px,#b2ff02 235px,#f5f400 236px,#feed00 237px,#fdee00 238px,#ebfd00 239px,#c5ff00 240px,#92ff0a 241px,#40ff1a 242px,#13ff6d 243px,#03ffad 244px,#00f1e6 245px,#00c4ff 246px,#009dff 247px,#007cff 248px,#004eff 250px,#001fff 253px,#000aff 255px,#0001fb 256px,#00d 261px,#0000c5 269px,#0000b3 285px,#0000a7 316px,#0000af 329px,#0000c3 337px,#0000e8 344px,#0000fa 347px,#0008ff 349px,#000cff 352px,#0004fe 355px,#0000f3 357px,#0000c0 365px,#0000a6 372px,#000092 384px,#000084 412px,#00007e 464px)"></i>
<i style="background:linear-gradient(90deg,#00008e 0,#00009a 42px,#0000ad 60px,#0000c7 70px,#0000e3 76px,#0000f9 79px,#0008ff 80px,#0035ff 84px,#0068ff 87px,#0096ff 89px,#00d4ff 91px,#00f8de 92px,#03ffaf 93px,#10ff7b 94px,#23ff1e 95px,#84ff0e 96px,#c6ff00 97px,#ffe400 98px,#f70 100px,#ff4700 101px,#ff1e00 102px,#f00 103px,#fa0000 104px,#e60000 105px,#e20000 106px,#ea0000 107px,#f00 108px,#ff0800 109px,#ff2b00 110px,#ff5600 111px,#ffbe00 113px,#f3f600 114px,#b0ff02 115px,#6dff13 116px,#1aff3d 117px,#0cff8c 118px,#00ffbe 119px,#00ecec 120px,#00c9ff 121px,#008eff 123px,#0063ff 125px,#0035ff 128px,#000cff 132px,#0005ff 133px,#0000f1 135px,#0000d7 141px,#0000c3 151px,#0000ba 170px,#0000bf 194px,#0000ce 204px,#0000e5 210px,#0001fb 213px,#0016ff 215px,#04f 218px,#0083ff 221px,#00b8ff 223px,#00cdff 224px,#00dcff 225px,#00e1f8 226px,#00e1f8 227px,#00dcfe 228px,#00bfff 229px,#003aff 231px,#0046ff 232px,#0af 233px,#0dff89 234px,#9eff07 235px,#eefa00 236px,#feed00 237px,#feed00 238px,#f5f400 239px,#d7ff00 240px,#aaff04 241px,#73ff12 242px,#1bff36 243px,#0bff8e 244px,#00ffc8 245px,#00ddfe 246px,#00b3ff 247px,#008eff 248px,#0072ff 249px,#0048ff 251px,#001cff 254px,#0008ff 256px,#0000f9 257px,#0000dc 262px,#0000c5 270px,#0000b3 286px,#0000a8 315px,#0000b0 328px,#0000c2 335px,#0000e2 341px,#0000f7 344px,#0004fd 345px,#0012ff 348px,#0015ff 351px,#000aff 354px,#0003fd 355px,#0000df 359px,#0000ba 365px,#0000a2 372px,#000090 385px,#000083 418px,#00007e 464px)"></i>
<i style="background:linear-gradient(90deg,#00008e 0,#00009a 44px,#0000ad 62px,#0000c6 72px,#0000e2 78px,#0000f8 81px,#0007ff 82px,#0027ff 85px,#0054ff 88px,#007dff 90px,#00b4ff 92px,#00d5ff 93px,#00fbdb 94px,#04ffab 95px,#12ff76 96px,#2eff1c 97px,#8bff0c 98px,#ceff00 99px,#ffdc00 100px,#ff7100 102px,#ff4200 103px,#ff1b00 104px,#f00 105px,#f00 106px,#f20000 107px,#f30000 108px,#f00 109px,#f00 110px,#ff1c00 111px,#ff4300 112px,#ff7200 113px,#fd0 115px,#cdff00 116px,#8aff0c 117px,#2cff1d 118px,#1f7 119px,#03ffac 120px,#00fadb 121px,#00d5ff 122px,#0097ff 124px,#0069ff 126px,#0038ff 129px,#000eff 133px,#0006ff 134px,#0000f9 135px,#0000db 141px,#0000c6 150px,#00b 166px,#0000be 191px,#00c 202px,#0000df 208px,#0000f9 212px,#0008ff 213px,#002dff 216px,#0063ff 219px,#0092ff 221px,#00c3ff 223px,#00d5ff 224px,#00e0fa 225px,#00e1f9 227px,#00d8ff 228px,#00b5ff 229px,#0037ff 231px,#0049ff 232px,#00a9ff 233px,#09ff95 234px,#8eff0b 235px,#e4ff00 236px,#fcee00 237px,#feed00 238px,#fbef00 239px,#e6ff00 240px,#c0ff00 241px,#8eff0b 242px,#3cff1a 243px,#13ff6d 244px,#04ffaa 245px,#00f5e1 246px,#00caff 247px,#00a3ff 248px,#0082ff 249px,#0054ff 251px,#0025ff 254px,#0006ff 257px,#0000f8 258px,#0000dc 263px,#0000c5 271px,#0000b2 288px,#0000a9 315px,#0000b1 327px,#0000c4 334px,#0000e1 339px,#0000f8 342px,#0006ff 343px,#001dff 347px,#001eff 350px,#000fff 353px,#0008ff 354px,#0000f9 355px,#0000ca 361px,#0000ad 367px,#000098 376px,#000089 395px,#00007e 458px,#00007e 464px)"></i>
<i style="background:linear-gradient(90deg,#00008d 0,#009 45px,#00a 63px,#0000c1 73px,#0000e1 80px,#0000f7 83px,#0006ff 84px,#0027ff 87px,#05f 90px,#007eff 92px,#00b7ff 94px,#00d9ff 95px,#00ffd6 96px,#05ffa5 97px,#14ff6a 98px,#3eff1a 99px,#96ff09 100px,#daff00 101px,#ffd200 102px,#ff6900 104px,#ff3c00 105px,#ff1900 106px,#f00 107px,#f00 111px,#ff1400 112px,#ff3500 113px,#ff6100 114px,#ffc900 116px,#e5ff00 117px,#a1ff06 118px,#52ff17 119px,#16ff58 120px,#08ff9c 121px,#00ffce 122px,#00dffa 123px,#009eff 125px,#0082ff 126px,#0049ff 129px,#02f 132px,#0007ff 135px,#0000fa 136px,#0000db 142px,#0000c6 151px,#00b 167px,#0000bf 191px,#0000ce 202px,#0000e3 208px,#0000f6 211px,#0005ff 212px,#0027ff 215px,#005aff 218px,#0085ff 220px,#00b8ff 222px,#00cdff 223px,#00dbff 224px,#00e2f8 225px,#00e0f9 227px,#00d4ff 228px,#00acff 229px,#03f 231px,#004bff 232px,#00a6ff 233px,#06ffa2 234px,#7cff10 235px,#d9ff00 236px,#f9f100 237px,#fded00 239px,#f1f700 240px,#d2ff00 241px,#a5ff05 242px,#6eff13 243px,#1bff38 244px,#0cff8d 245px,#00ffc5 246px,#00e1f9 247px,#00b8ff 248px,#0094ff 249px,#07f 250px,#004dff 252px,#0021ff 255px,#0004fd 258px,#0000e9 261px,#0000ce 268px,#0000ba 280px,#00a 307px,#0000ae 323px,#0000be 331px,#0000d7 336px,#0000f7 340px,#0006ff 341px,#0024ff 345px,#002aff 348px,#001dff 351px,#0003fd 354px,#0000e1 357px,#0000bd 362px,#0000a3 369px,#000090 381px,#000083 411px,#00007e 464px)"></i>
<i style="background:linear-gradient(90deg,#00008d 0,#009 47px,#00a 65px,#0000c1 75px,#0000db 81px,#0000f6 85px,#0005ff 86px,#0027ff 89px,#0056ff 92px,#0080ff 94px,#0bf 96px,#00defc 97px,#00ffce 98px,#08ff9c 99px,#16ff57 100px,#55ff17 101px,#a4ff05 102px,#e9fe00 103px,#ffc600 104px,#ff5f00 106px,#ff3600 107px,#ff1700 108px,#ff0400 109px,#f00 111px,#ff0100 112px,#ff1200 113px,#ff2e00 114px,#f50 115px,#ff8500 116px,#ffba00 117px,#f8f100 118px,#b3ff01 119px,#6fff13 120px,#1aff3e 121px,#0bff8f 122px,#00ffc3 123px,#00e7f2 124px,#00c3ff 125px,#0086ff 127px,#005cff 129px,#002fff 132px,#0007ff 136px,#0000fa 137px,#0000df 142px,#0000c9 150px,#0000bc 164px,#0000be 188px,#0000cb 200px,#0000e1 207px,#0002fc 211px,#02f 214px,#0051ff 217px,#007aff 219px,#00c3ff 222px,#00d5ff 223px,#00e0f9 224px,#00e3f7 226px,#00dffb 227px,#00cdff 228px,#00a1ff 229px,#0064ff 230px,#002dff 231px,#0046ff 232px,#009aff 233px,#00ffb9 234px,#57ff16 235px,#caff00 236px,#f4f500 237px,#fdee00 238px,#fded00 239px,#f8f100 240px,#e0ff00 241px,#baff00 242px,#89ff0d 243px,#36ff1b 244px,#13ff70 245px,#04ffaa 246px,#00f7df 247px,#0cf 248px,#0085ff 250px,#0058ff 252px,#0028ff 255px,#0009ff 258px,#0001fb 259px,#0000de 264px,#0000c7 272px,#0000b3 288px,#00a 313px,#0000b2 325px,#0000c4 331px,#0000e2 336px,#0000f4 338px,#0004fe 339px,#002aff 343px,#0036ff 346px,#002dff 349px,#0007ff 353px,#0000f6 354px,#0000c9 359px,#0000af 364px,#00009a 372px,#00008a 389px,#00007f 443px,#00007e 464px)"></i>
<i style="background:linear-gradient(90deg,#00008d 0,#000098 48px,#0000a9 67px,#0000c0 77px,#0000da 83px,#0000f6 87px,#0005ff 88px,#0027ff 91px,#0057ff 94px,#0083ff 96px,#00c0ff 98px,#00e5f4 99px,#00ffc4 100px,#0bff90 101px,#1aff3e 102px,#72ff13 103px,#b5ff01 104px,#fbf000 105px,#ff8400 107px,#ff5600 108px,#ff3200 109px,#ff1800 110px,#ff0b00 111px,#ff0700 112px,#ff0900 113px,#ff1600 114px,#ff2d00 115px,#ff5000 116px,#ff7d00 117px,#ffe700 119px,#c0ff00 120px,#7cff10 121px,#1dff2c 122px,#0dff87 123px,#00ffbc 124px,#00ecec 125px,#00c6ff 126px,#08f 128px,#005dff 130px,#002eff 133px,#0006ff 137px,#0000f9 138px,#0000de 143px,#0000c9 151px,#0000bc 165px,#0000be 188px,#00c 200px,#0000df 206px,#0000f8 210px,#0007ff 211px,#0029ff 214px,#005bff 217px,#0086ff 219px,#00b8ff 221px,#00cdff 222px,#00dcfe 223px,#00e3f6 224px,#00e3f6 226px,#00ddfe 227px,#00c3ff 228px,#0090ff 229px,#05f 230px,#02f 231px,#003aff 232px,#0081ff 233px,#00f8df 234px,#1dff29 235px,#b2ff02 236px,#ebfc00 237px,#fbef00 238px,#fcef00 240px,#ecfb00 241px,#cbff00 242px,#9eff07 243px,#62ff15 244px,#19ff42 245px,#0aff91 246px,#00ffc8 247px,#00dffa 248px,#0094ff 250px,#0078ff 251px,#004eff 253px,#02f 256px,#0005ff 259px,#0000f0 261px,#0000d5 267px,#0000bf 277px,#0000ad 299px,#0000ac 318px,#0000ba 327px,#0000cf 332px,#0000ef 336px,#0000f9 337px,#000aff 338px,#0036ff 342px,#0041ff 344px,#0042ff 346px,#0038ff 348px,#000cff 352px,#0000fa 353px,#0000d1 357px,#0000b3 362px,#00009d 369px,#00008d 383px,#000081 424px,#00007e 464px)"></i>
<i style="background:linear-gradient(90deg,#00008c 0,#000098 50px,#0000a9 69px,#0000c0 79px,#0000da 85px,#0000f6 89px,#0006ff 90px,#0028ff 93px,#005aff 96px,#08f 98px,#00c8ff 100px,#00efe9 101px,#00ffb7 102px,#0fff80 103px,#1fff1e 104px,#86ff0d 105px,#caff00 106px,#ffdf00 107px,#ff7800 109px,#ff4f00 110px,#ff3000 111px,#ff1e00 112px,#ff1600 113px,#ff1600 114px,#ff1e00 115px,#ff3200 116px,#ff5100 117px,#ff7a00 118px,#ffe200 120px,#c6ff00 121px,#82ff0e 122px,#1eff24 123px,#0eff83 124px,#00ffba 125px,#00edeb 126px,#00c7ff 127px,#0087ff 129px,#005cff 131px,#002dff 134px,#0005ff 138px,#0000f8 139px,#00d 144px,#0000c8 152px,#0000bc 166px,#0000bf 188px,#0000cd 200px,#0000e1 206px,#0002fc 210px,#0021ff 213px,#0051ff 216px,#0079ff 218px,#00c2ff 221px,#00d5ff 222px,#00e1f8 223px,#00e5f4 225px,#00e3f6 226px,#00d6ff 227px,#00b3ff 228px,#0040ff 230px,#01f 231px,#0025ff 232px,#0062ff 233px,#00c6ff 234px,#0eff83 235px,#8aff0c 236px,#daff00 237px,#f7f300 238px,#fcef00 240px,#f4f500 241px,#d9ff00 242px,#b1ff02 243px,#7fff0f 244px,#24ff1e 245px,#10ff7a 246px,#02ffb2 247px,#00f1e7 248px,#00c7ff 249px,#0082ff 251px,#0056ff 253px,#0027ff 256px,#0008ff 259px,#0000fa 260px,#0000de 265px,#0000c6 273px,#0000b3 289px,#0000ab 313px,#0000b3 323px,#0000c5 329px,#0000df 333px,#0004fd 336px,#0042ff 341px,#004fff 343px,#0050ff 345px,#04f 347px,#0012ff 351px,#0004fe 352px,#0000e6 354px,#0000c3 358px,#00a 363px,#000096 372px,#000087 392px,#00007e 464px)"></i>
<i style="background:linear-gradient(90deg,#00008c 0,#000097 51px,#0000a8 71px,#0000bf 81px,#0000da 87px,#0000f7 91px,#0007ff 92px,#002aff 95px,#005fff 98px,#008fff 100px,#00d3ff 102px,#00fbdb 103px,#05ffa7 104px,#14ff68 105px,#46ff19 106px,#9dff07 107px,#e2ff00 108px,#ffcd00 109px,#ff9a00 110px,#ff6d00 111px,#ff4b00 112px,#ff3400 113px,#ff2900 114px,#ff2700 115px,#ff2c00 116px,#ff3c00 117px,#ff5700 118px,#ff7e00 119px,#ffae00 120px,#ffe300 121px,#c6ff00 122px,#81ff0f 123px,#1eff26 124px,#0eff85 125px,#00ffbc 126px,#00eaee 127px,#00c4ff 128px,#0084ff 130px,#0059ff 132px,#002aff 135px,#000bff 138px,#0003fd 139px,#0000e0 144px,#0000c9 152px,#0000bc 166px,#0000bf 188px,#00c 199px,#0000df 205px,#0000f7 209px,#0005ff 210px,#0027ff 213px,#0059ff 216px,#0083ff 218px,#00b6ff 220px,#0cf 221px,#00dcfe 222px,#00e6f3 223px,#00e6f2 225px,#00e1f8 226px,#0cf 227px,#009cff 228px,#0061ff 229px,#002bff 230px,#0002fc 231px,#0012ff 232px,#0045ff 233px,#0096ff 234px,#00ffc2 235px,#41ff1a 236px,#c0ff00 237px,#eff900 238px,#faf000 239px,#f9f100 241px,#e5ff00 242px,#c2ff00 243px,#93ff0a 244px,#4cff18 245px,#16ff59 246px,#07ff9d 247px,#00ffd3 248px,#00d6ff 249px,#008dff 251px,#0073ff 252px,#004aff 254px,#001fff 257px,#0003fd 260px,#0000df 265px,#0000c7 273px,#0000b3 289px,#0000ab 312px,#0000b3 322px,#0000c5 328px,#0000df 332px,#0000f4 334px,#0007ff 335px,#004dff 340px,#005eff 342px,#005fff 344px,#0053ff 346px,#0019ff 350px,#000aff 351px,#0000f6 352px,#0000d4 355px,#0000b8 359px,#0000a1 365px,#00008f 377px,#000083 410px,#00007e 464px)"></i>
<i style="background:linear-gradient(90deg,#00008c 0,#000097 53px,#0000a8 73px,#0000bf 83px,#0000da 89px,#0000f8 93px,#0008ff 94px,#002dff 97px,#0064ff 100px,#007cff 101px,#00baff 103px,#00e0fa 104px,#00ffc9 105px,#0aff92 106px,#1aff3e 107px,#73ff12 108px,#b7ff00 109px,#fbef00 110px,#fb0 111px,#ff8c00 112px,#ff6700 113px,#ff4c00 114px,#ff3e00 115px,#ff3a00 116px,#ff3d00 117px,#ff4b00 118px,#ff6400 119px,#f80 120px,#ffb600 121px,#ffea00 122px,#beff00 123px,#7aff11 124px,#1cff33 125px,#0cff8c 126px,#00ffc3 127px,#00e4f5 128px,#00beff 129px,#007fff 131px,#0054ff 133px,#0026ff 136px,#0008ff 139px,#0000fa 140px,#00d 145px,#0000c8 153px,#0000bc 167px,#0000c0 189px,#0000cf 200px,#0000e6 206px,#0000fa 209px,#0013ff 211px,#003cff 214px,#0076ff 217px,#00c1ff 220px,#00d5ff 221px,#00e3f7 222px,#00e8f0 223px,#00e7f2 225px,#00dcfe 226px,#00bcff 227px,#0049ff 229px,#0018ff 230px,#00e 231px,#0003fc 232px,#002dff 233px,#006eff 234px,#00d9ff 235px,#14ff67 236px,#9aff08 237px,#e0ff00 238px,#f7f300 239px,#faf000 241px,#eef900 242px,#d0ff00 243px,#a6ff05 244px,#71ff13 245px,#1cff32 246px,#0dff88 247px,#00ffc0 248px,#00e6f3 249px,#00bdff 250px,#09f 251px,#007bff 252px,#0051ff 254px,#0023ff 257px,#0006ff 260px,#0000f8 261px,#0000dc 266px,#0000c6 274px,#0000b3 290px,#0000ab 312px,#0000b4 322px,#0000c4 327px,#0000e0 331px,#0000f5 333px,#0009ff 334px,#0059ff 339px,#006dff 341px,#0070ff 343px,#0063ff 345px,#0034ff 348px,#0002fc 351px,#0000d7 354px,#0000b9 358px,#0000a1 364px,#000090 375px,#000083 405px,#00007e 464px)"></i>
<i style="background:linear-gradient(90deg,#00008c 0,#000096 55px,#0000a8 75px,#0000bf 85px,#0000da 91px,#0000fa 95px,#000aff 96px,#0031ff 99px,#05f 101px,#0084ff 103px,#00c8ff 105px,#00f0e7 106px,#02ffb3 107px,#11ff79 108px,#30ff1c 109px,#90ff0b 110px,#d3ff00 111px,#ffda00 112px,#ffab00 113px,#ff8300 114px,#ff6700 115px,#ff5600 116px,#ff5100 117px,#ff5300 118px,#ff5e00 119px,#ff7500 120px,#ff9800 121px,#ffc400 122px,#f1f700 123px,#aeff03 124px,#64ff14 125px,#18ff4d 126px,#08ff9a 127px,#00ffd0 128px,#00d9ff 129px,#0092ff 131px,#07f 132px,#004dff 134px,#0021ff 137px,#0004fd 140px,#0000e9 143px,#0000d1 149px,#0000c0 159px,#00b 178px,#0000c5 194px,#0000d6 202px,#00e 207px,#0004fd 209px,#0024ff 212px,#0056ff 215px,#007fff 217px,#00caff 220px,#00ddfe 221px,#00e8f1 222px,#00e9ef 224px,#00e6f3 225px,#00d3ff 226px,#00a7ff 227px,#006aff 228px,#03f 229px,#0007ff 230px,#0000e3 231px,#0000ef 232px,#0018ff 233px,#004fff 234px,#00a5ff 235px,#03ffad 236px,#61ff15 237px,#c8ff00 238px,#f0f800 239px,#f8f100 240px,#f9f100 241px,#f4f500 242px,#df0 243px,#b6ff01 244px,#85ff0d 245px,#31ff1c 246px,#12ff74 247px,#03ffac 248px,#00f5e2 249px,#00cbff 250px,#0084ff 252px,#0057ff 254px,#0027ff 257px,#0008ff 260px,#0000fa 261px,#00d 266px,#0000c6 274px,#0000b3 290px,#0000ac 312px,#0000b4 321px,#0000c4 326px,#0000df 330px,#0000f5 332px,#0009ff 333px,#0050ff 337px,#0072ff 339px,#007cff 340px,#0082ff 342px,#007fff 343px,#0076ff 344px,#0056ff 346px,#000bff 350px,#0000f5 351px,#0000d1 354px,#0000b5 358px,#0000a0 364px,#00008f 376px,#000082 410px,#00007e 464px)"></i>
<i style="background:linear-gradient(90deg,#00008b 0,#000095 56px,#0000a6 76px,#00b 86px,#0000d4 92px,#0000f1 96px,#0001fb 97px,#0018ff 99px,#0047ff 102px,#0073ff 104px,#008fff 105px,#00d7ff 107px,#00ffd3 108px,#08ff9b 109px,#18ff4e 110px,#63ff15 111px,#adff03 112px,#eefa00 113px,#ffc900 114px,#ffa000 115px,#ff8200 116px,#ff7100 117px,#ff6a00 118px,#ff6b00 119px,#ff7600 120px,#ff8c00 121px,#ffae00 122px,#ffda00 123px,#d7ff00 124px,#95ff09 125px,#39ff1b 126px,#12ff75 127px,#02ffb0 128px,#00f2e5 129px,#00c9ff 130px,#0084ff 132px,#0056ff 134px,#0026ff 137px,#0006ff 140px,#0000f8 141px,#0000db 146px,#0000c6 154px,#00b 168px,#0000c0 189px,#0000ce 199px,#0000e4 205px,#0000f8 208px,#0007ff 209px,#002aff 212px,#005dff 215px,#008aff 217px,#00beff 219px,#00d3ff 220px,#00e3f6 221px,#00ebed 222px,#00eaee 224px,#00e2f8 225px,#00c5ff 226px,#0051ff 228px,#001eff 229px,#0000f3 230px,#0000da 231px,#0000e4 232px,#0007ff 233px,#0034ff 234px,#0078ff 235px,#00eaee 236px,#19ff46 237px,#a6ff05 238px,#e4ff00 239px,#f6f400 240px,#f7f300 242px,#e7ff00 243px,#c6ff00 244px,#98ff09 245px,#55ff17 246px,#17ff50 247px,#08ff99 248px,#00ffd0 249px,#00d8ff 250px,#008eff 252px,#0073ff 253px,#004aff 255px,#001fff 258px,#0002fc 261px,#0000df 266px,#0000c6 274px,#0000b4 289px,#0000ac 311px,#0000b6 321px,#0000c8 326px,#0000de 329px,#0000f4 331px,#0008ff 332px,#003fff 335px,#007cff 338px,#008bff 339px,#0094ff 340px,#0095ff 342px,#008cff 343px,#006bff 345px,#0016ff 349px,#0005ff 350px,#0000f0 351px,#0000cd 354px,#0000b2 358px,#00009c 365px,#00008c 379px,#000080 423px,#00007e 464px)"></i>
<i style="background:linear-gradient(90deg,#00008b 0,#000095 58px,#0000a5 78px,#0000ba 88px,#0000d3 94px,#0000f1 98px,#0001fb 99px,#0019ff 101px,#004aff 104px,#0079ff 106px,#0098ff 107px,#00bcff 108px,#00e6f3 109px,#00ffbe 110px,#0eff83 111px,#1fff1f 112px,#86ff0d 113px,#c7ff00 114px,#ffe800 115px,#ffbf00 116px,#ffa000 117px,#ff8d00 118px,#ff8600 119px,#ff8700 120px,#ff9200 121px,#ffa900 122px,#ffcb00 123px,#f1f800 124px,#b2ff02 125px,#6eff13 126px,#19ff44 127px,#09ff97 128px,#00ffd0 129px,#00d8ff 130px,#008eff 132px,#005bff 134px,#0036ff 136px,#0010ff 139px,#0006ff 140px,#0000f7 141px,#0000da 146px,#0000c7 153px,#00b 166px,#0000be 187px,#00c 198px,#0000e1 204px,#0001fb 208px,#0015ff 210px,#003fff 213px,#007bff 216px,#00c8ff 219px,#00dcfe 220px,#00e9ef 221px,#00eceb 223px,#00eaef 224px,#00daff 225px,#00b0ff 226px,#0039ff 228px,#000cff 229px,#0000e6 230px,#0000d2 231px,#0000db 232px,#0000f2 233px,#001dff 234px,#0056ff 235px,#00b2ff 236px,#08ff9c 237px,#76ff12 238px,#ceff00 239px,#f0f800 240px,#f6f300 241px,#f6f300 242px,#eff900 243px,#d3ff00 244px,#a9ff04 245px,#75ff12 246px,#1dff2c 247px,#0dff86 248px,#00ffbe 249px,#00e6f2 250px,#00bdff 251px,#09f 252px,#007bff 253px,#0050ff 255px,#02f 258px,#0005fe 261px,#0000f0 263px,#0000d4 269px,#0000be 279px,#0000ae 300px,#0000ae 315px,#0000ba 322px,#00c 326px,#0000e5 329px,#0005ff 331px,#0028ff 333px,#0097ff 338px,#00a4ff 339px,#0af 340px,#0af 341px,#00a4ff 342px,#0097ff 343px,#0054ff 346px,#0012ff 349px,#0000fa 350px,#0000d3 353px,#0000b5 357px,#00009f 363px,#00008f 375px,#000082 409px,#00007e 464px)"></i>
<i style="background:linear-gradient(90deg,#00008b 0,#000095 60px,#0000a4 80px,#0000b9 90px,#0000d3 96px,#0000f1 100px,#0002fc 101px,#002aff 104px,#0050ff 106px,#0083ff 108px,#0cf 110px,#00f9dd 111px,#05ffa4 112px,#16ff5c 113px,#55ff17 114px,#a3ff06 115px,#dfff00 116px,#ffdc00 117px,#ffbe00 118px,#ffab00 119px,#ffa500 120px,#ffa700 121px,#ffb200 122px,#ffca00 123px,#fcee00 124px,#c4ff00 125px,#85ff0d 126px,#1fff1f 127px,#0eff83 128px,#00ffbf 129px,#00e4f5 130px,#00baff 131px,#0095ff 132px,#07f 133px,#0049ff 135px,#001aff 138px,#0005ff 140px,#00e 142px,#0000d5 147px,#0000c2 155px,#0000b9 170px,#0000c1 190px,#0000d2 200px,#0000e8 205px,#0004fe 208px,#0025ff 211px,#0058ff 214px,#0084ff 216px,#0bf 218px,#00d2ff 219px,#00e4f5 220px,#00edea 221px,#00eeea 223px,#00e7f2 224px,#0cf 225px,#0096ff 226px,#0059ff 227px,#0024ff 228px,#0000f6 229px,#0000dc 230px,#00c 231px,#0000d3 232px,#0000e6 233px,#000aff 234px,#0039ff 235px,#0080ff 236px,#00f6e1 237px,#1cff30 238px,#acff03 239px,#e4ff00 240px,#f3f600 241px,#f2f600 243px,#deff00 244px,#b9ff00 245px,#88ff0d 246px,#34ff1c 247px,#12ff73 248px,#03ffac 249px,#00f4e2 250px,#00c9ff 251px,#0082ff 253px,#05f 255px,#0026ff 258px,#0007ff 261px,#0000f8 262px,#0000dc 267px,#0000c5 275px,#0000b3 291px,#0000ad 311px,#0000b7 320px,#0000ca 325px,#0000e2 328px,#0001fb 330px,#0023ff 332px,#006bff 335px,#009eff 337px,#00b2ff 338px,#00bdff 339px,#00c0ff 340px,#00beff 341px,#00b4ff 342px,#00a1ff 343px,#0023ff 348px,#000fff 349px,#0000f7 350px,#0000d1 353px,#0000b4 357px,#00009f 363px,#00008e 375px,#000082 410px,#00007e 464px)"></i>
<i style="background:linear-gradient(90deg,#00008b 0,#000094 62px,#0000a3 82px,#0000b8 92px,#0000d2 98px,#0000f2 102px,#0003fd 103px,#002eff 106px,#0058ff 108px,#0071ff 109px,#0090ff 110px,#00b6ff 111px,#00e1f8 112px,#00ffc1 113px,#0eff85 114px,#1eff22 115px,#82ff0e 116px,#bdff00 117px,#eff900 118px,#ffdc00 119px,#ffcb00 120px,#ffc700 121px,#ffc900 122px,#ffd700 123px,#f8f100 124px,#c9ff00 125px,#90ff0b 126px,#37ff1b 127px,#11ff76 128px,#01ffb3 129px,#00ecec 130px,#00c0ff 131px,#09f 132px,#0079ff 133px,#0049ff 135px,#0026ff 137px,#0003fd 140px,#0000e0 144px,#0000c9 150px,#00b 161px,#00b 182px,#0000c9 196px,#0000de 203px,#0000f8 207px,#0007ff 208px,#002aff 211px,#0060ff 214px,#008fff 216px,#00c5ff 218px,#00dbff 219px,#00ebed 220px,#00f0e7 221px,#00eeea 223px,#00e0fa 224px,#00b8ff 225px,#003fff 227px,#0010ff 228px,#0000e9 229px,#0000d4 230px,#0000c6 231px,#0000cd 232px,#0000dc 233px,#0000f4 234px,#0020ff 235px,#005bff 236px,#0bf 237px,#0aff91 238px,#7eff10 239px,#d0ff00 240px,#edfb00 241px,#f2f700 243px,#e6ff00 244px,#c6ff00 245px,#99ff08 246px,#55ff17 247px,#17ff51 248px,#08ff9b 249px,#00ffd2 250px,#00d6ff 251px,#008bff 253px,#005aff 255px,#0029ff 258px,#0009ff 261px,#0000fa 262px,#00d 267px,#0000c6 275px,#0000b3 291px,#0000ae 311px,#0000b9 320px,#0000cf 325px,#0000e9 328px,#0000f6 329px,#000bff 330px,#0032ff 332px,#0082ff 335px,#00baff 337px,#0cf 338px,#00d6ff 339px,#00d7ff 340px,#00d2ff 341px,#00c3ff 342px,#00acff 343px,#003aff 347px,#000eff 349px,#0000f7 350px,#0000d1 353px,#0000b4 357px,#00009f 363px,#00008e 376px,#000081 414px,#00007e 464px)"></i>
<i style="background:linear-gradient(90deg,#00008a 0,#000094 64px,#0000a2 84px,#0000b7 94px,#0000d2 100px,#0000f4 104px,#0006ff 105px,#0035ff 108px,#0062ff 110px,#007fff 111px,#00a3ff 112px,#0cf 113px,#00fbdb 114px,#07ffa0 115px,#17ff55 116px,#58ff16 117px,#9dff07 118px,#cf0 119px,#ecfb00 120px,#fded00 121px,#ffeb00 122px,#fbf000 123px,#e6ff00 124px,#c1ff00 125px,#8fff0b 126px,#3dff1a 127px,#13ff70 128px,#03ffae 129px,#00efe8 130px,#00c2ff 131px,#009aff 132px,#0078ff 133px,#0047ff 135px,#0024ff 137px,#000aff 139px,#0000f9 140px,#00d 144px,#0000c7 150px,#0000ba 161px,#00b 182px,#0000c7 195px,#0000db 202px,#0000f2 206px,#0000fa 207px,#0015ff 209px,#0040ff 212px,#007fff 215px,#00d0ff 218px,#00e4f5 219px,#00f0e7 220px,#00f2e5 222px,#00ecec 223px,#00d3ff 224px,#009eff 225px,#005fff 226px,#0028ff 227px,#0000f9 228px,#0000de 229px,#0000cd 230px,#0000c2 231px,#0000c8 232px,#0000d4 233px,#0000e7 234px,#000cff 235px,#003cff 236px,#0086ff 237px,#00fdd8 238px,#1eff22 239px,#afff03 240px,#e2ff00 241px,#eef900 242px,#eff900 243px,#ebfc00 244px,#d2ff00 245px,#a9ff04 246px,#74ff12 247px,#1cff30 248px,#0dff89 249px,#00ffc2 250px,#00e2f7 251px,#00b9ff 252px,#0094ff 253px,#07f 254px,#004cff 256px,#001fff 259px,#0002fc 262px,#0000de 267px,#0000c6 275px,#0000b4 290px,#0000ae 310px,#0000b8 319px,#00c 324px,#0000e5 327px,#0000f1 328px,#0005ff 329px,#002aff 331px,#005cff 333px,#0bf 336px,#00d5ff 337px,#00e7f1 338px,#00efe8 339px,#00efe9 340px,#00e7f2 341px,#00d5ff 342px,#00baff 343px,#005aff 346px,#0026ff 348px,#01f 349px,#0000f9 350px,#0000d2 353px,#0000b5 357px,#00009f 363px,#00008f 375px,#000082 410px,#00007e 464px)"></i>
<i style="background:linear-gradient(90deg,#00008a 0,#000093 66px,#0000a2 86px,#0000b6 96px,#0000cd 101px,#0000ec 105px,#0000f7 106px,#000aff 107px,#002aff 109px,#05f 111px,#0071ff 112px,#0092ff 113px,#0bf 114px,#00e8f0 115px,#01ffb7 116px,#10ff7b 117px,#27ff1d 118px,#7eff0f 119px,#a9ff04 120px,#c5ff00 121px,#d1ff00 122px,#d1ff00 123px,#c7ff00 124px,#adff03 125px,#83ff0e 126px,#32ff1c 127px,#12ff74 128px,#02ffb0 129px,#00eeea 130px,#00c0ff 131px,#0097ff 132px,#0075ff 133px,#0043ff 135px,#001fff 137px,#0006ff 139px,#0000f5 140px,#0000d9 144px,#0000c5 150px,#0000b8 161px,#00b 183px,#0000ca 196px,#0000dc 202px,#0000f4 206px,#0003fd 207px,#0026ff 210px,#005aff 213px,#0089ff 215px,#00c2ff 217px,#00daff 218px,#00eceb 219px,#00f4e2 220px,#00f3e4 222px,#00e6f3 223px,#00c0ff 224px,#0045ff 226px,#0014ff 227px,#0000eb 228px,#0000d5 229px,#0000c7 230px,#0000be 231px,#0000c3 232px,#0000cd 233px,#00d 234px,#0000f6 235px,#0023ff 236px,#005fff 237px,#00c1ff 238px,#0cff8b 239px,#81ff0f 240px,#cfff00 241px,#e9fe00 242px,#ecfc00 244px,#dcff00 245px,#b7ff01 246px,#86ff0d 247px,#2eff1c 248px,#1f7 249px,#02ffb2 250px,#00efe8 251px,#00c4ff 252px,#009dff 253px,#007dff 254px,#0050ff 256px,#02f 259px,#0004fe 262px,#0000e9 265px,#0000d0 271px,#00b 282px,#0000ae 303px,#0000b3 315px,#0000c1 321px,#0000d8 325px,#0000f8 328px,#000eff 329px,#0036ff 331px,#006eff 333px,#00d5ff 336px,#00f0e7 337px,#00ffd3 338px,#00ffcb 339px,#0fc 340px,#00fed7 341px,#00e9ef 342px,#00cbff 343px,#0064ff 346px,#002cff 348px,#0004fe 350px,#0000d5 353px,#0000b7 357px,#0000a0 363px,#00008f 375px,#000082 408px,#00007e 464px)"></i>
<i style="background:linear-gradient(90deg,#00008a 0,#000093 68px,#0000a1 88px,#0000b3 97px,#0000ce 103px,#0000f0 107px,#0002fc 108px,#0021ff 110px,#004bff 112px,#0085ff 114px,#00adff 115px,#00daff 116px,#00ffc9 117px,#0bff8f 118px,#1aff41 119px,#54ff17 120px,#86ff0d 121px,#9bff08 122px,#a2ff06 123px,#9eff07 124px,#8dff0b 125px,#68ff14 126px,#1dff28 127px,#0fff80 128px,#00ffb9 129px,#00e7f2 130px,#00b9ff 131px,#0090ff 132px,#006fff 133px,#003dff 135px,#001aff 137px,#0000fa 139px,#0000e1 142px,#0000ca 147px,#0000ba 156px,#0000b7 175px,#0000c3 192px,#0000d5 200px,#0000ef 205px,#0000f7 206px,#0006ff 207px,#002aff 210px,#0062ff 213px,#0095ff 215px,#00ceff 217px,#00e4f4 218px,#00f4e3 219px,#00f7df 221px,#00f2e5 222px,#00daff 223px,#00a6ff 224px,#0065ff 225px,#002dff 226px,#0003fc 227px,#0000e0 228px,#0000ce 229px,#00b 231px,#0000c8 233px,#0000d5 234px,#0000e8 235px,#000eff 236px,#003fff 237px,#008aff 238px,#00ffd3 239px,#22ff1e 240px,#afff02 241px,#deff00 242px,#e9fe00 243px,#e9fe00 244px,#e2ff00 245px,#c4ff00 246px,#96ff09 247px,#4eff18 248px,#16ff5a 249px,#06ffa1 250px,#00fcda 251px,#00cfff 252px,#00a7ff 253px,#0084ff 254px,#05f 256px,#0025ff 259px,#0005ff 262px,#0000f7 263px,#0000db 268px,#0000c4 276px,#0000b3 292px,#0000b0 310px,#0000ba 318px,#0000ce 323px,#0000e6 326px,#0000f2 327px,#0006ff 328px,#002bff 330px,#005eff 332px,#007eff 333px,#00caff 335px,#00eeea 336px,#00ffc9 337px,#01ffb4 338px,#03ffac 339px,#03ffad 340px,#00ffba 341px,#00ffd4 342px,#00e1f8 343px,#00bcff 344px,#0071ff 346px,#0036ff 348px,#000bff 350px,#0000f4 351px,#0000d0 354px,#0000b4 358px,#00009d 365px,#00008d 379px,#000081 421px,#00007e 464px)"></i>
<i style="background:linear-gradient(90deg,#00008a 0,#000093 70px,#0000a1 90px,#0000b3 99px,#0000c9 104px,#0000ea 108px,#0000f6 109px,#000aff 110px,#002dff 112px,#005eff 114px,#007dff 115px,#00a3ff 116px,#00cfff 117px,#00fed7 118px,#07ffa0 119px,#14ff68 120px,#21ff1e 121px,#55ff17 122px,#6cff13 123px,#6fff13 124px,#5dff15 125px,#31ff1c 126px,#17ff53 127px,#0aff92 128px,#00ffc9 129px,#00dbff 130px,#0086ff 132px,#004cff 134px,#0023ff 136px,#0006ff 138px,#0000f4 139px,#0000d6 143px,#0000c1 149px,#0000b6 160px,#0000ba 183px,#0000c8 195px,#0000df 202px,#0000f9 206px,#0009ff 207px,#0030ff 210px,#006aff 213px,#0082ff 214px,#00d9ff 217px,#00eeea 218px,#00f9dd 219px,#00f8de 221px,#00eceb 222px,#00c8ff 223px,#004aff 225px,#0017ff 226px,#00e 227px,#0000d7 228px,#0000c8 229px,#0000b9 231px,#0000c3 233px,#0000ce 234px,#0000de 235px,#0000f7 236px,#0024ff 237px,#0061ff 238px,#00c5ff 239px,#0dff87 240px,#82ff0e 241px,#cf0 242px,#e3ff00 243px,#e4ff00 245px,#cfff00 246px,#a5ff05 247px,#6eff13 248px,#1bff3a 249px,#0bff90 250px,#00ffca 251px,#00daff 252px,#00b1ff 253px,#008cff 254px,#0070ff 255px,#0046ff 257px,#001bff 260px,#0007ff 262px,#0000f8 263px,#0000dc 268px,#0000c5 276px,#0000b3 292px,#0000b1 310px,#0000bc 318px,#0000d2 323px,#0000ec 326px,#0000f8 327px,#000dff 328px,#0034ff 330px,#006bff 332px,#008dff 333px,#00defc 335px,#00ffd0 336px,#03ffac 337px,#09ff95 338px,#0cff8c 339px,#0bff8d 340px,#08ff99 341px,#02ffb3 342px,#00fdd9 343px,#00d5ff 344px,#0085ff 346px,#0045ff 348px,#0016ff 350px,#0004fe 351px,#0000d6 354px,#0000b8 358px,#0000a1 364px,#000090 376px,#000083 408px,#00007e 464px)"></i>
<i style="background:linear-gradient(90deg,#00008a 0,#000093 72px,#0000a1 92px,#0000b5 101px,#0000ce 106px,#0000e9 109px,#0000f5 110px,#0009ff 111px,#002dff 113px,#005fff 115px,#007fff 116px,#00d2ff 118px,#00ffd5 119px,#06ffa1 120px,#12ff73 121px,#1bff37 122px,#29ff1d 123px,#32ff1c 124px,#2aff1d 125px,#1bff34 126px,#13ff70 127px,#07ff9e 128px,#00ffd2 129px,#00d5ff 130px,#0081ff 132px,#0048ff 134px,#001fff 136px,#0002fc 138px,#0000e0 141px,#0000c7 146px,#0000b9 154px,#0000b5 172px,#0000c2 191px,#0000d3 199px,#0000ec 204px,#0002fc 206px,#0025ff 209px,#0047ff 211px,#0073ff 213px,#00cbff 216px,#00e4f5 217px,#00f6e0 218px,#00fcd9 219px,#00f8df 221px,#00e1f8 222px,#00aeff 223px,#006aff 224px,#0031ff 225px,#0005ff 226px,#0000e2 227px,#0000cf 228px,#0000bc 230px,#0000b7 231px,#0000c0 233px,#0000d5 235px,#0000e9 236px,#000fff 237px,#0040ff 238px,#008dff 239px,#00ffcf 240px,#26ff1e 241px,#aeff03 242px,#d9ff00 243px,#e2ff00 244px,#e3ff00 245px,#d7ff00 246px,#b3ff02 247px,#81ff0f 248px,#23ff1e 249px,#0fff7f 250px,#0fb 251px,#00e6f2 252px,#0bf 253px,#0095ff 254px,#0076ff 255px,#004aff 257px,#001dff 260px,#0008ff 262px,#0000fa 263px,#0000dc 268px,#0000c5 276px,#0000b4 291px,#0000b1 309px,#0000bc 317px,#0000cf 322px,#0000e6 325px,#0004fe 327px,#0026ff 329px,#0057ff 331px,#0075ff 332px,#00c4ff 334px,#00efe8 335px,#00ffb9 336px,#0aff92 337px,#11ff78 338px,#14ff67 339px,#14ff66 340px,#12ff76 341px,#0bff8e 342px,#01ffb3 343px,#00f5e1 344px,#00caff 345px,#0079ff 347px,#003dff 349px,#01f 351px,#0000f9 352px,#0000d4 355px,#0000b7 359px,#0000a2 365px,#000090 377px,#000083 409px,#00007e 464px)"></i>
<i style="background:linear-gradient(90deg,#00008a 0,#000093 73px,#0000a1 93px,#0000b5 102px,#0000ce 107px,#0000e9 110px,#0000f5 111px,#000aff 112px,#0030ff 114px,#0064ff 116px,#0085ff 117px,#00d9ff 119px,#00ffcf 120px,#06ffa0 121px,#16ff59 123px,#18ff49 124px,#18ff4c 125px,#15ff64 126px,#0dff87 127px,#03ffaf 128px,#00f7e0 129px,#00caff 130px,#007aff 132px,#0042ff 134px,#001aff 136px,#000aff 137px,#0000f8 138px,#0000dc 141px,#0000c5 146px,#0000b7 154px,#0000b5 173px,#0000c2 191px,#0000d4 199px,#00e 204px,#0005ff 206px,#002aff 209px,#004eff 211px,#007cff 213px,#00d7ff 216px,#00efe9 217px,#00fdd8 218px,#00fed7 220px,#00f3e4 221px,#00cfff 222px,#004eff 224px,#001bff 225px,#0000f0 226px,#0000d8 227px,#0000c9 228px,#0000ba 230px,#0000b5 231px,#0000c4 234px,#0000ce 235px,#0000de 236px,#0000f8 237px,#0026ff 238px,#0063ff 239px,#00c7ff 240px,#0eff84 241px,#82ff0e 242px,#c8ff00 243px,#df0 244px,#e0ff00 245px,#dcff00 246px,#c0ff00 247px,#91ff0a 248px,#43ff19 249px,#14ff69 250px,#04ffab 251px,#00f3e4 252px,#00c6ff 253px,#009eff 254px,#007cff 255px,#004eff 257px,#001fff 260px,#000aff 262px,#0001fb 263px,#00d 268px,#0000c5 276px,#0000b4 291px,#0000b2 308px,#0000be 317px,#0000d2 322px,#0000ea 325px,#0000f6 326px,#0009ff 327px,#002cff 329px,#005eff 331px,#007eff 332px,#00d0ff 334px,#00fdd9 335px,#05ffa7 336px,#10ff7c 337px,#18ff4b 338px,#1cff2e 339px,#1dff28 340px,#1bff34 341px,#16ff59 342px,#01ffb5 344px,#00efe8 345px,#00c2ff 346px,#0098ff 347px,#0072ff 348px,#0038ff 350px,#000eff 352px,#0000f8 353px,#0000d4 356px,#0000b8 360px,#0000a0 367px,#00008e 380px,#000082 416px,#00007e 464px)"></i>
<i style="background:linear-gradient(90deg,#00008a 0,#000093 74px,#0000a1 94px,#0000b5 103px,#0000cf 108px,#0000eb 111px,#0000f8 112px,#000eff 113px,#0036ff 115px,#006dff 117px,#0090ff 118px,#00b9ff 119px,#00e3f6 120px,#00ffc8 121px,#06ffa2 122px,#0dff89 123px,#10ff7d 124px,#10ff7d 125px,#0dff87 126px,#07ffa0 127px,#00ffc5 128px,#00e7f2 129px,#00bcff 130px,#0093ff 131px,#0070ff 132px,#003aff 134px,#0014ff 136px,#0005ff 137px,#0000f3 138px,#0000d9 141px,#0000c3 146px,#0000b6 155px,#0000b6 176px,#0000c4 192px,#0000d5 199px,#0000f0 204px,#0000f8 205px,#0008ff 206px,#002fff 209px,#05f 211px,#0086ff 213px,#00c6ff 215px,#00e3f6 216px,#00f9dd 217px,#00ffd3 218px,#00fed7 220px,#00e9ef 221px,#00b6ff 222px,#0070ff 223px,#0035ff 224px,#0008ff 225px,#0000e4 226px,#0000d1 227px,#0000bd 229px,#0000b4 231px,#0000c0 234px,#0000d6 236px,#0000ea 237px,#0010ff 238px,#0042ff 239px,#008fff 240px,#00ffcd 241px,#28ff1d 242px,#acff03 243px,#d4ff00 244px,#dcff00 245px,#dcff00 246px,#caff00 247px,#a0ff06 248px,#62ff15 249px,#18ff49 250px,#08ff9a 251px,#00ffd5 252px,#00d0ff 253px,#00a7ff 254px,#0083ff 255px,#0053ff 257px,#0030ff 259px,#000cff 262px,#0003fd 263px,#0000de 268px,#0000c6 276px,#0000b5 291px,#0000b3 308px,#0000c0 317px,#0000d6 322px,#00e 325px,#0000fa 326px,#000dff 327px,#0031ff 329px,#0063ff 331px,#0083ff 332px,#00d7ff 334px,#00ffce 335px,#15ff63 337px,#1eff21 338px,#44ff19 339px,#52ff17 340px,#4dff18 341px,#32ff1c 342px,#1aff41 343px,#0eff82 344px,#01ffb6 345px,#00ecec 346px,#00beff 347px,#0094ff 348px,#0070ff 349px,#0037ff 351px,#000fff 353px,#0000f8 354px,#0000d5 357px,#0000b9 361px,#0000a1 368px,#00008f 381px,#000082 416px,#00007e 464px)"></i>
<i style="background:linear-gradient(90deg,#00008a 0,#000092 75px,#0000a1 95px,#0000b2 103px,#0000c9 108px,#0000e3 111px,#0004fd 113px,#0028ff 115px,#005bff 117px,#007aff 118px,#00c7ff 120px,#00edea 121px,#00ffc5 122px,#04ffab 123px,#07ff9e 124px,#07ff9d 125px,#05ffa6 126px,#0fb 127px,#00f8de 128px,#00d3ff 129px,#0085ff 131px,#0049ff 133px,#001eff 135px,#000dff 136px,#0000f9 137px,#0000dc 140px,#0000c7 144px,#0000b8 151px,#0000b3 167px,#0000be 188px,#0000cf 197px,#0000e4 202px,#0001fb 205px,#0017ff 207px,#0034ff 209px,#005dff 211px,#0075ff 212px,#00d4ff 215px,#00efe8 216px,#00ffd3 217px,#00ffcf 218px,#00ffd0 219px,#00fbdb 220px,#00d8ff 221px,#0053ff 223px,#001eff 224px,#0000f3 225px,#0000da 226px,#0000cb 227px,#0000ba 229px,#0000b3 231px,#0000bd 234px,#0000cf 236px,#0000df 237px,#0000f9 238px,#0027ff 239px,#0065ff 240px,#00c9ff 241px,#0eff82 242px,#82ff0e 243px,#c4ff00 244px,#d7ff00 245px,#d8ff00 246px,#d1ff00 247px,#aeff03 248px,#7bff10 249px,#1dff29 250px,#0cff89 251px,#00ffc6 252px,#00dcff 253px,#00b0ff 254px,#008aff 255px,#006eff 256px,#0043ff 258px,#0018ff 261px,#0004fe 263px,#0000ef 265px,#0000d3 271px,#0000be 281px,#0000b3 299px,#0000b8 312px,#0000ca 319px,#0000e1 323px,#0000f3 325px,#0005ff 326px,#0023ff 328px,#004eff 330px,#0069ff 331px,#008aff 332px,#00dffb 334px,#00ffc4 335px,#0cff8c 336px,#19ff42 337px,#49ff18 338px,#79ff11 339px,#88ff0d 340px,#8aff0c 341px,#81ff0f 342px,#63ff15 343px,#1fff1f 344px,#12ff75 345px,#03ffac 346px,#00f3e4 347px,#00c4ff 348px,#009aff 349px,#0075ff 350px,#003dff 352px,#0013ff 354px,#0003fd 355px,#0000d9 358px,#0000bc 362px,#0000a5 368px,#000093 379px,#000085 406px,#00007e 464px)"></i>
<i style="background:linear-gradient(90deg,#00008a 0,#000093 76px,#0000a1 96px,#0000b3 104px,#00c 109px,#0000e9 112px,#0000f6 113px,#000bff 114px,#0034ff 116px,#006aff 118px,#00b1ff 120px,#00d5ff 121px,#00f4e3 122px,#00ffca 123px,#00ffbe 124px,#00ffbc 125px,#00ffc4 126px,#00fdd9 127px,#00e1f9 128px,#00beff 129px,#0076ff 131px,#003eff 133px,#0016ff 135px,#0006ff 136px,#0000f3 137px,#0000d8 140px,#0000c1 145px,#0000b4 154px,#0000b5 175px,#0000c3 191px,#0000d7 199px,#0000ed 203px,#0004fe 205px,#0029ff 208px,#004eff 210px,#007fff 212px,#00c1ff 214px,#00e1f8 215px,#00fbdb 216px,#0fc 217px,#00ffcf 219px,#00f2e6 220px,#00beff 221px,#0076ff 222px,#0039ff 223px,#000bff 224px,#0000e6 225px,#0000d2 226px,#0000be 228px,#0000b2 231px,#00b 234px,#0000c9 236px,#0000d6 237px,#0000eb 238px,#01f 239px,#0043ff 240px,#0091ff 241px,#00ffca 242px,#29ff1d 243px,#a9ff04 244px,#ceff00 245px,#d4ff00 246px,#d3ff00 247px,#baff00 248px,#8bff0c 249px,#33ff1c 250px,#11ff78 251px,#01ffb7 252px,#00e7f1 253px,#00baff 254px,#0092ff 255px,#0073ff 256px,#0047ff 258px,#001aff 261px,#0005ff 263px,#0000f7 264px,#0000db 269px,#0000c5 277px,#0000b6 292px,#0000b6 308px,#0000c3 316px,#0000d8 321px,#0000ef 324px,#0000f9 325px,#000bff 326px,#002aff 328px,#05f 330px,#0070ff 331px,#0092ff 332px,#00baff 333px,#00e7f2 334px,#00ffb9 335px,#0fff7f 336px,#1eff22 337px,#74ff12 338px,#9bff08 339px,#b2ff02 340px,#bf0 341px,#b9ff00 342px,#abff04 343px,#8dff0c 344px,#53ff17 345px,#18ff4b 346px,#09ff97 347px,#00ffd1 348px,#00d4ff 349px,#00a8ff 350px,#0082ff 351px,#0048ff 353px,#001dff 355px,#000cff 356px,#0000f8 357px,#0000d7 360px,#0000bc 364px,#0000a3 371px,#000090 384px,#000083 416px,#00007e 464px)"></i>
<i style="background:linear-gradient(90deg,#00008a 0,#000092 76px,#0000a0 96px,#0000b1 104px,#0000c9 109px,#0000e4 112px,#0000f1 113px,#0006ff 114px,#002cff 116px,#005fff 118px,#00a0ff 120px,#00c1ff 121px,#00defc 122px,#00f1e6 123px,#00fadb 124px,#00fbdb 125px,#00f4e3 126px,#00e2f7 127px,#00c7ff 128px,#0084ff 130px,#004aff 132px,#001eff 134px,#000dff 135px,#0000f9 136px,#0000db 139px,#0000c6 143px,#0000b7 150px,#0000b3 166px,#0000bf 188px,#0000d1 197px,#0000e8 202px,#0000f7 204px,#0007ff 205px,#002eff 208px,#0056ff 210px,#008aff 212px,#00d0ff 214px,#00efe9 215px,#00ffcf 216px,#00ffc7 217px,#00ffc8 218px,#00ffd2 219px,#00e1f9 220px,#009fff 221px,#0059ff 222px,#02f 223px,#0000f6 224px,#0000dc 225px,#00c 226px,#00b 228px,#0000b2 231px,#0000be 235px,#0000d0 237px,#0000e0 238px,#0000fa 239px,#0028ff 240px,#06f 241px,#00cbff 242px,#0fff81 243px,#81ff0f 244px,#bfff00 245px,#cfff00 246px,#d0ff00 247px,#c4ff00 248px,#9aff08 249px,#53ff17 250px,#16ff5d 251px,#05ffa7 252px,#00f4e3 253px,#00c4ff 254px,#009bff 255px,#0079ff 256px,#004bff 258px,#0029ff 260px,#0007ff 263px,#0000f8 264px,#0000db 269px,#0000c5 277px,#0000b7 292px,#0000b8 308px,#0000c6 316px,#0000dc 321px,#0000f3 324px,#0004fe 325px,#002fff 328px,#0059ff 330px,#0075ff 331px,#0096ff 332px,#00bdff 333px,#00eaee 334px,#01ffb6 335px,#10ff7a 336px,#2aff1d 337px,#83ff0e 338px,#b2ff02 339px,#d4ff00 340px,#e6ff00 341px,#eafd00 342px,#e6ff00 343px,#d3ff00 344px,#b0ff02 345px,#80ff0f 346px,#25ff1e 347px,#10ff7d 348px,#00ffb9 349px,#00e7f1 350px,#0bf 351px,#0093ff 352px,#0072ff 353px,#003dff 355px,#0017ff 357px,#0008ff 358px,#0000f4 359px,#0000d6 362px,#0000b7 367px,#0000a0 375px,#00008e 390px,#000081 429px,#00007e 464px)"></i>
<i style="background:linear-gradient(90deg,#00008a 0,#000093 77px,#0000a0 96px,#0000b0 104px,#0000c8 109px,#0000e2 112px,#0002fc 114px,#0027ff 116px,#0058ff 118px,#00b1ff 121px,#00caff 122px,#00dbff 123px,#00e2f7 124px,#00e2f8 125px,#00d9ff 126px,#00c7ff 127px,#008eff 129px,#05f 131px,#0026ff 133px,#0005ff 135px,#0000e7 137px,#0000d0 140px,#0000be 145px,#0000b3 155px,#0000b8 179px,#0000c7 193px,#0000d9 199px,#0000f1 203px,#0000fa 204px,#000aff 205px,#0034ff 208px,#005eff 210px,#0078ff 211px,#00dffb 214px,#00fcd9 215px,#00ffc5 216px,#00ffc3 217px,#00ffc6 218px,#00fadb 219px,#00c8ff 220px,#007cff 221px,#003eff 222px,#000fff 223px,#0000e9 224px,#0000d4 225px,#0000bf 227px,#0000b1 231px,#00b 235px,#0000ca 237px,#0000d7 238px,#0000ec 239px,#0012ff 240px,#04f 241px,#0092ff 242px,#00ffca 243px,#27ff1d 244px,#a5ff05 245px,#c7ff00 246px,#cf0 247px,#c8ff00 248px,#a8ff04 249px,#73ff12 250px,#1aff3b 251px,#09ff95 252px,#00ffd4 253px,#00d0ff 254px,#00a4ff 255px,#0080ff 256px,#004fff 258px,#002cff 260px,#0009ff 263px,#0000fa 264px,#0000dc 269px,#0000c6 277px,#0000b8 292px,#0000b9 307px,#0000c9 316px,#0000df 321px,#0000f7 324px,#0007ff 325px,#0032ff 328px,#005bff 330px,#0076ff 331px,#0096ff 332px,#00bcff 333px,#00e8f1 334px,#00ffba 335px,#10ff7e 336px,#27ff1d 337px,#86ff0d 338px,#bdff00 339px,#e9fe00 340px,#ffe600 341px,#ffda00 342px,#ffd800 343px,#ffde00 344px,#faf000 345px,#d5ff00 346px,#a3ff06 347px,#5fff15 348px,#18ff4e 349px,#08ff9c 350px,#00ffd6 351px,#00d1ff 352px,#00a8ff 353px,#0084ff 354px,#004dff 356px,#0024ff 358px,#0005ff 360px,#0000f2 361px,#0000ce 365px,#0000b1 371px,#00009a 381px,#000089 401px,#00007f 461px,#00007f 464px)"></i>
<i style="background:linear-gradient(90deg,#00008a 0,#000093 77px,#0000a1 97px,#0000b3 105px,#0000c7 109px,#0000e1 112px,#0001fb 114px,#0025ff 116px,#006eff 119px,#00a4ff 121px,#00baff 122px,#00c7ff 123px,#00cbff 124px,#00c9ff 125px,#00bfff 126px,#00acff 127px,#04f 131px,#001bff 133px,#000aff 134px,#0000f6 135px,#0000d9 138px,#0000c4 142px,#0000b6 149px,#0000b2 166px,#0000be 187px,#0000d0 196px,#0000e5 201px,#0003fd 204px,#0029ff 207px,#004fff 209px,#0083ff 211px,#0cf 213px,#00eeea 214px,#00ffcb 215px,#00ffbf 216px,#00ffbf 217px,#00ffc8 218px,#00e9ef 219px,#00a6ff 220px,#005eff 221px,#0026ff 222px,#0000f8 223px,#0000de 224px,#0000ce 225px,#0000bc 227px,#0000b1 231px,#0000b9 235px,#0000c5 237px,#0000d0 238px,#0000e0 239px,#0000fa 240px,#0028ff 241px,#0065ff 242px,#00caff 243px,#0eff84 244px,#7cff10 245px,#b8ff00 246px,#c7ff00 247px,#c8ff00 248px,#b5ff01 249px,#85ff0e 250px,#25ff1e 251px,#0eff82 252px,#00ffc3 253px,#00dcfe 254px,#00afff 255px,#0087ff 256px,#006bff 257px,#0040ff 259px,#0015ff 262px,#0001fb 264px,#00d 269px,#0000c7 277px,#0000b9 291px,#0000ba 306px,#0000c9 315px,#0000dc 320px,#0000fa 324px,#000aff 325px,#03f 328px,#005bff 330px,#0074ff 331px,#0093ff 332px,#00b7ff 333px,#00e0f9 334px,#00ffc4 335px,#0cff89 336px,#1dff2b 337px,#7dff10 338px,#baff00 339px,#eff900 340px,#ffd700 341px,#ffc000 342px,#ffb600 343px,#ffb500 344px,#ffbd00 345px,#ffd000 346px,#fbef00 347px,#c8ff00 348px,#8cff0c 349px,#2eff1c 350px,#10ff7a 351px,#01ffb6 352px,#00ebed 353px,#00c0ff 354px,#009aff 355px,#007aff 356px,#0047ff 358px,#0021ff 360px,#0004fe 362px,#0000e8 364px,#0000c9 368px,#0000af 374px,#009 384px,#000089 405px,#00007f 464px)"></i>
<i style="background:linear-gradient(90deg,#00008a 0,#000093 77px,#0000a0 96px,#0000b0 104px,#0000c8 109px,#0000e2 112px,#0002fc 114px,#0025ff 116px,#09f 121px,#0af 122px,#00b3ff 123px,#00b5ff 124px,#00b0ff 125px,#00a4ff 126px,#0079ff 128px,#0034ff 131px,#000fff 133px,#0001fb 134px,#0000dc 137px,#0000c5 141px,#0000b6 148px,#0000b2 164px,#0000be 186px,#0000ce 195px,#0000e1 200px,#0000f7 203px,#0006ff 204px,#002fff 207px,#0058ff 209px,#0071ff 210px,#0091ff 211px,#00dcfe 213px,#00fdd8 214px,#00ffbe 215px,#00ffba 216px,#00ffbd 217px,#00ffd2 218px,#00cfff 219px,#0081ff 220px,#0041ff 221px,#01f 222px,#0000ea 223px,#0000d5 224px,#0000c0 226px,#0000b2 230px,#0000b5 234px,#0000c2 237px,#0000d7 239px,#0000eb 240px,#01f 241px,#0043ff 242px,#008fff 243px,#00ffce 244px,#1fff1f 245px,#9fff07 246px,#bfff00 247px,#c3ff00 248px,#bdff00 249px,#95ff09 250px,#48ff19 251px,#13ff6c 252px,#02ffb1 253px,#00eaee 254px,#00baff 255px,#0091ff 256px,#0071ff 257px,#04f 259px,#0023ff 261px,#0003fd 264px,#0000e3 268px,#0000cb 275px,#00b 288px,#0000ba 304px,#0000c8 314px,#0000de 320px,#0001fb 324px,#0016ff 326px,#04f 329px,#0070ff 331px,#008cff 332px,#00d5ff 334px,#00ffd4 335px,#08ff9c 336px,#18ff4f 337px,#61ff15 338px,#a9ff04 339px,#e6ff00 340px,#ffd600 341px,#ffb400 342px,#ff9f00 343px,#ff9600 344px,#ff9500 345px,#ff9d00 346px,#ffb000 347px,#ffcf00 348px,#f0f800 349px,#b4ff01 350px,#74ff12 351px,#1aff3c 352px,#0aff92 353px,#00ffcb 354px,#00dcfe 355px,#0091ff 357px,#0059ff 359px,#0030ff 361px,#0004fe 364px,#0000e8 366px,#0000ca 370px,#0000b0 376px,#00009a 386px,#000089 407px,#00007f 464px)"></i>
<i style="background:linear-gradient(90deg,#00008a 0,#000092 76px,#0000a0 96px,#0000b1 104px,#0000ca 109px,#0000e4 112px,#0005ff 114px,#003dff 117px,#007dff 120px,#008fff 121px,#009bff 122px,#00a0ff 123px,#009fff 124px,#0098ff 125px,#0078ff 127px,#0024ff 131px,#0005fe 133px,#0000e7 135px,#0000cb 139px,#0000b9 145px,#0000b1 157px,#0000ba 182px,#0000c9 193px,#0000de 199px,#0000fa 203px,#000aff 204px,#0024ff 206px,#0049ff 208px,#007cff 210px,#00c7ff 212px,#00edeb 213px,#00ffc7 214px,#01ffb6 215px,#01ffb6 216px,#00ffbf 217px,#00f2e5 218px,#00adff 219px,#0062ff 220px,#0028ff 221px,#0000fa 222px,#0000e0 223px,#0000cf 224px,#0000bd 226px,#0000b1 230px,#0000b6 235px,#0000c6 238px,#0000d0 239px,#0000e0 240px,#0000fa 241px,#0027ff 242px,#0064ff 243px,#00c7ff 244px,#0dff88 245px,#76ff11 246px,#b1ff02 247px,#beff00 248px,#beff00 249px,#a4ff05 250px,#6aff14 251px,#19ff48 252px,#07ff9e 253px,#00f8de 254px,#00c6ff 255px,#009bff 256px,#0078ff 257px,#0048ff 259px,#0026ff 261px,#0005ff 264px,#0000ef 266px,#0000d7 271px,#0000c3 280px,#0000b9 296px,#0000c0 309px,#0000d2 317px,#0000ec 322px,#0002fb 324px,#02f 327px,#0054ff 330px,#0083ff 332px,#00c6ff 334px,#00efe8 335px,#01ffb4 336px,#10ff7a 337px,#2dff1c 338px,#8dff0b 339px,#ceff00 340px,#ffe300 341px,#ffb800 342px,#ff9700 343px,#ff8200 344px,#ff7900 345px,#ff7800 346px,#ff7e00 347px,#ff9000 348px,#ffae00 349px,#ffd600 350px,#dfff00 351px,#9fff07 352px,#4eff18 353px,#15ff62 354px,#05ffa5 355px,#00fbdb 356px,#00d1ff 357px,#008aff 359px,#0056ff 361px,#002fff 363px,#0005ff 366px,#0000ea 368px,#0000c6 373px,#0000ac 380px,#000096 392px,#000087 417px,#00007f 464px)"></i>
<i style="background:linear-gradient(90deg,#00008a 0,#000093 76px,#0000a1 96px,#0000b3 104px,#00c 109px,#0000e8 112px,#0000f5 113px,#0009ff 114px,#003fff 117px,#07f 120px,#008aff 122px,#08f 124px,#0072ff 126px,#0016ff 131px,#0007ff 132px,#0000f4 133px,#0000d8 136px,#0000c4 140px,#0000b5 147px,#0000b2 163px,#0000be 186px,#0000cf 195px,#0000e5 200px,#0003fd 203px,#002aff 206px,#0052ff 208px,#0089ff 210px,#00d8ff 212px,#00fdd8 213px,#00ffb9 214px,#02ffb1 215px,#01ffb4 216px,#00ffc8 217px,#00d7ff 218px,#0087ff 219px,#0045ff 220px,#0014ff 221px,#0000ec 222px,#0000d7 223px,#0000c1 225px,#0000b2 229px,#0000b2 233px,#0000bc 237px,#0000cb 239px,#0000d8 240px,#0000ec 241px,#01f 242px,#0042ff 243px,#008eff 244px,#00ffd0 245px,#1eff26 246px,#98ff09 247px,#b6ff01 248px,#baff00 249px,#afff03 250px,#80ff0f 251px,#1eff24 252px,#0cff8b 253px,#00ffcd 254px,#00d3ff 255px,#00a5ff 256px,#007fff 257px,#004dff 259px,#0029ff 261px,#0006ff 264px,#0000f8 265px,#0000db 270px,#0000c7 278px,#00b 293px,#0000c0 308px,#0000d0 316px,#0000e5 321px,#0001fa 324px,#0014ff 326px,#003cff 329px,#0061ff 331px,#0094ff 333px,#00daff 335px,#00ffd0 336px,#08ff9b 337px,#17ff51 338px,#5dff15 339px,#a8ff04 340px,#e9fe00 341px,#fc0 342px,#ffa100 343px,#ff8000 344px,#ff6900 345px,#ff5f00 346px,#ff5d00 347px,#ff6200 348px,#ff7200 349px,#ff8d00 350px,#ffb300 351px,#ffe100 352px,#cdff00 353px,#8bff0c 354px,#2bff1d 355px,#10ff7b 356px,#01ffb4 357px,#00f0e7 358px,#00c8ff 359px,#0086ff 361px,#0054ff 363px,#001fff 366px,#0006ff 368px,#0000f5 369px,#0000d4 373px,#0000b7 379px,#00009e 389px,#00008c 408px,#000080 457px,#000080 464px)"></i>
<i style="background:linear-gradient(90deg,#00008a 0,#000093 76px,#0000a0 95px,#0000b1 103px,#0000c9 108px,#0000e2 111px,#0000fa 113px,#000eff 114px,#0063ff 119px,#07f 121px,#0078ff 123px,#0068ff 125px,#0008ff 131px,#0000f6 132px,#0000da 135px,#0000c5 139px,#0000b6 146px,#0000b1 162px,#0000be 185px,#0000d0 195px,#0000e7 200px,#0000f6 202px,#0006ff 203px,#001fff 205px,#0043ff 207px,#0075ff 209px,#0098ff 210px,#00c0ff 211px,#00e9f0 212px,#00ffc7 213px,#03ffaf 214px,#03ffae 215px,#01ffb5 216px,#00fbda 217px,#00b7ff 218px,#0068ff 219px,#002dff 220px,#0003fd 221px,#0000e2 222px,#0000d0 223px,#0000be 225px,#0000b2 229px,#0000b1 233px,#0000ba 237px,#0000c6 239px,#0000d1 240px,#0000e1 241px,#0001fa 242px,#0028ff 243px,#0065ff 244px,#00c8ff 245px,#0dff88 246px,#73ff12 247px,#a9ff04 248px,#b5ff01 249px,#b2ff02 250px,#90ff0b 251px,#3cff1a 252px,#11ff78 253px,#0fb 254px,#00e0fa 255px,#00b0ff 256px,#0087ff 257px,#0069ff 258px,#003dff 260px,#001eff 262px,#0008ff 264px,#0000f9 265px,#0000dc 270px,#0000c7 278px,#00b 293px,#0000c0 308px,#0000d2 317px,#0000e9 322px,#0000f7 324px,#0005ff 325px,#0025ff 328px,#0054ff 331px,#0080ff 333px,#00beff 335px,#00e4f5 336px,#00ffc4 337px,#0bff8e 338px,#1bff39 339px,#75ff12 340px,#b7ff01 341px,#f9f100 342px,#ffbf00 343px,#ff9200 344px,#ff6e00 345px,#f50 346px,#ff4800 347px,#ff4500 348px,#ff4800 349px,#f50 350px,#ff6e00 351px,#ff9100 352px,#ffbe00 353px,#faf000 354px,#b8ff00 355px,#75ff12 356px,#1bff39 357px,#0bff8e 358px,#00ffc4 359px,#00e4f5 360px,#00beff 361px,#007fff 363px,#0050ff 365px,#001eff 368px,#0005ff 370px,#0000eb 372px,#0000c9 377px,#0000ae 384px,#000098 396px,#008 421px,#000080 464px)"></i>
<i style="background:linear-gradient(90deg,#00008a 0,#000093 75px,#0000a0 94px,#0000b4 103px,#0000cd 108px,#0000e7 111px,#0000f3 112px,#0006ff 113px,#0052ff 118px,#0065ff 120px,#0068ff 122px,#005dff 124px,#03f 127px,#0008ff 130px,#0000f6 131px,#0000da 134px,#0000c2 139px,#0000b4 147px,#0000b3 166px,#0000c1 187px,#0000d1 195px,#0000e9 200px,#0000f9 202px,#0009ff 203px,#0024ff 205px,#004aff 207px,#007fff 209px,#00d0ff 211px,#00f9dd 212px,#00ffb7 213px,#04ffaa 214px,#04ffab 215px,#00ffbc 216px,#00e4f5 217px,#0093ff 218px,#004dff 219px,#0019ff 220px,#0000f0 221px,#0000da 222px,#0000cb 223px,#0000bc 225px,#0000b0 230px,#0000b6 236px,#0000c3 239px,#0000d9 241px,#0000ed 242px,#0013ff 243px,#0045ff 244px,#0093ff 245px,#00ffca 246px,#1eff20 247px,#95ff0a 248px,#aeff03 249px,#b0ff02 250px,#9dff07 251px,#5cff16 252px,#16ff5a 253px,#04ffaa 254px,#00edeb 255px,#0bf 256px,#0090ff 257px,#006fff 258px,#0041ff 260px,#0021ff 262px,#000aff 264px,#0001fb 265px,#0000e1 269px,#0000cb 276px,#0000bd 289px,#0000bd 305px,#0000cb 315px,#0000e1 321px,#0000fa 325px,#0008ff 326px,#0029ff 329px,#0059ff 332px,#0085ff 334px,#00c4ff 336px,#00eaee 337px,#00ffbe 338px,#0dff88 339px,#1cff2e 340px,#7bff10 341px,#bdff00 342px,#ffeb00 343px,#ffb700 344px,#ff8900 345px,#ff6200 346px,#ff4700 347px,#ff3600 348px,#ff3000 349px,#ff3100 350px,#ff3b00 351px,#ff4f00 352px,#ff6f00 353px,#f90 354px,#ffca00 355px,#e7ff00 356px,#a4ff05 357px,#56ff17 358px,#16ff58 359px,#07ff9d 360px,#00ffd1 361px,#00daff 362px,#0096ff 364px,#0063ff 366px,#002bff 369px,#0005ff 372px,#0000eb 374px,#0000c9 379px,#0000af 386px,#000098 398px,#008 422px,#000080 464px)"></i>
<i style="background:linear-gradient(90deg,#00008a 0,#000093 74px,#0000a1 94px,#0000b3 102px,#0000cb 107px,#00e 111px,#0000fa 112px,#000dff 113px,#04f 117px,#0056ff 119px,#005aff 121px,#0051ff 123px,#002eff 126px,#0007ff 129px,#0000f5 130px,#0000d4 134px,#0000bf 139px,#0000b3 148px,#0000b4 170px,#0000c2 188px,#0000d6 196px,#0000eb 200px,#0002fc 202px,#0029ff 205px,#0051ff 207px,#006cff 208px,#008cff 209px,#00b5ff 210px,#00e0fa 211px,#00ffcb 212px,#04ffab 213px,#05ffa6 214px,#04ffab 215px,#00ffcb 216px,#00c7ff 217px,#0074ff 218px,#0035ff 219px,#0009ff 220px,#0000e6 221px,#0000d3 222px,#0000c0 224px,#0000b3 228px,#0000b1 233px,#00b 238px,#0000c8 240px,#0000d2 241px,#0000e3 242px,#0004fe 243px,#002dff 244px,#006cff 245px,#00d3ff 246px,#10ff7d 247px,#76ff11 248px,#a3ff06 249px,#abff04 250px,#a4ff06 251px,#76ff12 252px,#1bff3a 253px,#08ff99 254px,#00fadc 255px,#00c6ff 256px,#0098ff 257px,#0075ff 258px,#0045ff 260px,#0023ff 262px,#0002fc 265px,#0000e2 269px,#0000cb 276px,#0000bd 289px,#0000be 306px,#0000cd 316px,#0000e3 322px,#0002fc 326px,#001fff 329px,#0049ff 332px,#0070ff 334px,#08f 335px,#00c6ff 337px,#00ebed 338px,#00ffbd 339px,#0dff88 340px,#1cff2f 341px,#7aff11 342px,#bcff00 343px,#ffec00 344px,#ff8600 346px,#ff5d00 347px,#ff3d00 348px,#ff2900 349px,#ff1f00 350px,#ff1e00 351px,#ff2300 352px,#f30 353px,#ff4f00 354px,#ff7400 355px,#ffa200 356px,#ffd600 357px,#d7ff00 358px,#94ff0a 359px,#3aff1b 360px,#13ff70 361px,#04ffa9 362px,#00fbdb 363px,#00d4ff 364px,#0092ff 366px,#0061ff 368px,#002bff 371px,#0005ff 374px,#0000ec 376px,#0000ca 381px,#0000af 388px,#009 400px,#000089 424px,#000081 464px)"></i>
<i style="background:linear-gradient(90deg,#00008a 0,#000093 73px,#0000a1 93px,#0000b3 101px,#0000ca 106px,#0000eb 110px,#0000f5 111px,#0007ff 112px,#0038ff 116px,#0048ff 118px,#004cff 120px,#0045ff 122px,#0027ff 125px,#0004fe 128px,#0000ea 130px,#0000cf 134px,#00b 140px,#0000b1 151px,#0000b8 177px,#0000c8 191px,#0000db 197px,#0000f5 201px,#0005ff 202px,#001dff 204px,#0041ff 206px,#0074ff 208px,#0098ff 209px,#00c3ff 210px,#00efe8 211px,#0fb 212px,#06ffa3 213px,#06ffa3 214px,#03ffaf 215px,#00f7e0 216px,#00a8ff 217px,#005bff 218px,#0023ff 219px,#0000f7 220px,#0000de 221px,#0000ce 222px,#0000be 224px,#0000b2 228px,#0000b0 233px,#0000ba 238px,#0000c4 240px,#0000dc 242px,#0000f1 243px,#001aff 244px,#004fff 245px,#00a3ff 246px,#01ffb6 247px,#33ff1c 248px,#93ff0a 249px,#a4ff05 250px,#a4ff06 251px,#82ff0e 252px,#1fff1f 253px,#0cff8a 254px,#00ffce 255px,#00d0ff 256px,#00a0ff 257px,#007aff 258px,#0048ff 260px,#0025ff 262px,#0003fd 265px,#0000e2 269px,#00c 276px,#0000bd 289px,#0000bd 306px,#0000cb 316px,#0000e4 323px,#0000f6 326px,#0004fe 327px,#0021ff 330px,#004aff 333px,#0071ff 335px,#00a5ff 337px,#00c5ff 338px,#00e9ef 339px,#00ffc1 340px,#0cff8d 341px,#1aff3b 342px,#72ff13 343px,#b4ff01 344px,#f7f300 345px,#ffbd00 346px,#ff8a00 347px,#ff5d00 348px,#ff3a00 349px,#ff2000 350px,#ff1200 351px,#ff0e00 352px,#ff1000 353px,#ff1a00 354px,#ff3000 355px,#ff5000 356px,#ff7a00 357px,#ffe100 359px,#caff00 360px,#87ff0d 361px,#26ff1e 362px,#10ff7b 363px,#02ffb1 364px,#00f5e1 365px,#00cfff 366px,#0090ff 368px,#0060ff 370px,#002bff 373px,#0006ff 376px,#0000f6 377px,#0000d1 382px,#0000b3 389px,#00009c 400px,#00008b 421px,#000081 464px)"></i>
<i style="background:linear-gradient(90deg,#00008a 0,#000093 72px,#0000a2 92px,#0000b7 101px,#0000d0 106px,#0000f2 110px,#0003fc 111px,#0036ff 116px,#003eff 118px,#003dff 120px,#002aff 123px,#000bff 126px,#0000fa 127px,#0000da 131px,#0000c3 136px,#0000b4 144px,#0000b2 162px,#0000bf 185px,#0000d1 194px,#0000e8 199px,#0000f8 201px,#0008ff 202px,#02f 204px,#0048ff 206px,#007eff 208px,#00d2ff 210px,#00fed7 211px,#03ffad 212px,#07ff9f 213px,#06ffa1 214px,#00ffb8 215px,#00dffa 216px,#0089ff 217px,#0045ff 218px,#0013ff 219px,#0000ed 220px,#0000d8 221px,#0000c2 223px,#0000b3 227px,#0000b0 233px,#0000b8 238px,#0000ca 241px,#0000d5 242px,#0000e8 243px,#000aff 244px,#0037ff 245px,#007bff 246px,#00eaee 247px,#16ff5d 248px,#7cff10 249px,#9cff08 250px,#9fff07 251px,#8bff0c 252px,#38ff1b 253px,#10ff7b 254px,#00ffc1 255px,#00daff 256px,#00a9ff 257px,#0080ff 258px,#004bff 260px,#0027ff 262px,#0004fe 265px,#00e 267px,#0000d6 272px,#0000c4 281px,#00b 297px,#0000c1 311px,#0000d4 320px,#0000f0 326px,#0004fe 328px,#002dff 332px,#005bff 335px,#0086ff 337px,#00c0ff 339px,#00e3f6 340px,#00ffc9 341px,#09ff97 342px,#17ff50 343px,#59ff16 344px,#a5ff05 345px,#e8ff00 346px,#ffc900 347px,#ff6500 349px,#ff3d00 350px,#ff1e00 351px,#ff0a00 352px,#ff0100 353px,#f00 354px,#ff0600 355px,#ff1500 356px,#ff2f00 357px,#ff5300 358px,#ff8000 359px,#ffe900 361px,#bfff00 362px,#7eff0f 363px,#1dff26 364px,#0eff82 365px,#01ffb6 366px,#00f2e5 367px,#00cdff 368px,#008fff 370px,#0060ff 372px,#002cff 375px,#0007ff 378px,#0000f7 379px,#0000d2 384px,#0000b4 391px,#00009d 402px,#00008b 423px,#000081 464px)"></i>
<i style="background:linear-gradient(90deg,#00008a 0,#000093 71px,#0000a2 91px,#0000b7 100px,#0000cf 105px,#0000f9 110px,#0009ff 111px,#002bff 115px,#03f 118px,#0028ff 121px,#0005ff 125px,#0000f6 126px,#0000d3 131px,#0000bd 137px,#0000b2 147px,#0000b5 171px,#0000c4 188px,#0000d5 195px,#0000ea 199px,#0000fa 201px,#0017ff 203px,#0039ff 205px,#0069ff 207px,#0089ff 208px,#00b4ff 209px,#00e1f8 210px,#00ffc6 211px,#06ffa1 212px,#08ff9b 213px,#06ffa2 214px,#00ffc8 215px,#00c3ff 216px,#006fff 217px,#0031ff 218px,#0006ff 219px,#0000e4 220px,#0000d3 221px,#0000c0 223px,#0000b3 227px,#0000b0 233px,#00b 239px,#0000c6 241px,#0000d0 242px,#0000e0 243px,#0000f8 244px,#0023ff 245px,#005dff 246px,#0bf 247px,#08ff9b 248px,#4bff18 249px,#8fff0b 250px,#98ff08 251px,#90ff0b 252px,#50ff17 253px,#14ff67 254px,#02ffb2 255px,#00e4f4 256px,#00b2ff 257px,#0087ff 258px,#0068ff 259px,#003bff 261px,#001bff 263px,#0005ff 265px,#0000f7 266px,#0000da 271px,#0000c6 279px,#00b 294px,#0000bf 310px,#0000d1 320px,#0000ea 326px,#0000f6 328px,#0004fe 329px,#002bff 333px,#0058ff 336px,#0081ff 338px,#00b9ff 340px,#00daff 341px,#00ffd5 342px,#05ffa5 343px,#13ff6e 344px,#37ff1b 345px,#90ff0b 346px,#d2ff00 347px,#ffda00 348px,#ff7300 350px,#ff4600 351px,#ff2300 352px,#ff0900 353px,#f00 354px,#f00 357px,#f10 358px,#ff2f00 359px,#ff5600 360px,#ffb900 362px,#fbef00 363px,#b8ff00 364px,#78ff11 365px,#1cff2f 366px,#0dff85 367px,#00ffb9 368px,#00f0e7 369px,#0cf 370px,#0090ff 372px,#0061ff 374px,#002dff 377px,#0009ff 380px,#0000f9 381px,#0000d4 386px,#0000b6 393px,#00009e 404px,#00008c 425px,#000082 464px)"></i>
<i style="background:linear-gradient(90deg,#00008a 0,#000094 70px,#0000a1 89px,#0000b4 98px,#0000cf 104px,#0000f5 109px,#0005fe 110px,#02f 114px,#0028ff 117px,#001eff 120px,#0008ff 123px,#0000f9 124px,#0000d6 129px,#0000bf 135px,#0000b2 145px,#0000b4 168px,#0000c3 187px,#0000d7 195px,#0000ec 199px,#0003fd 201px,#001bff 203px,#003eff 205px,#0072ff 207px,#0096ff 208px,#00c2ff 209px,#00f1e6 210px,#01ffb5 211px,#08ff99 212px,#08ff99 213px,#05ffa7 214px,#00f8de 215px,#00a5ff 216px,#0057ff 217px,#0020ff 218px,#0000f5 219px,#00d 220px,#0000ce 221px,#0000be 223px,#0000b1 228px,#0000b2 235px,#0000bd 240px,#00c 242px,#0000d9 243px,#0000ed 244px,#0012ff 245px,#04f 246px,#0090ff 247px,#00ffd1 248px,#1bff3a 249px,#7dff10 250px,#91ff0b 251px,#90ff0b 252px,#65ff14 253px,#18ff4d 254px,#05ffa4 255px,#00efe8 256px,#0bf 257px,#008eff 258px,#006dff 259px,#003eff 261px,#001dff 263px,#0007ff 265px,#0000f8 266px,#0000df 270px,#0000ca 277px,#0000bc 290px,#0000bd 308px,#00c 319px,#0000e4 326px,#0003fd 330px,#0029ff 334px,#0054ff 337px,#007bff 339px,#00afff 341px,#00cfff 342px,#00f2e4 343px,#00ffb7 344px,#0eff85 345px,#1cff2f 346px,#7f1 347px,#b6ff01 348px,#f9f100 349px,#fb0 350px,#ff5700 352px,#ff2e00 353px,#ff0e00 354px,#f00 355px,#f00 356px,#fa0000 357px,#f00 358px,#f00 359px,#ff0f00 360px,#ff2f00 361px,#ff5800 362px,#ffbd00 364px,#f7f300 365px,#b5ff01 366px,#75ff12 367px,#1cff33 368px,#0dff87 369px,#00ffb9 370px,#00f1e6 371px,#00cdff 372px,#0091ff 374px,#0063ff 376px,#0030ff 379px,#000bff 382px,#0001fb 383px,#0000d5 388px,#0000b7 395px,#00009f 406px,#00008c 427px,#000082 464px)"></i>
<i style="background:linear-gradient(90deg,#00008a 0,#000094 69px,#0000a2 88px,#0000b5 97px,#0000cf 103px,#0001fb 109px,#000fff 111px,#001dff 114px,#001dff 117px,#0008ff 121px,#0001fa 122px,#0000d4 128px,#0000be 134px,#0000b2 144px,#0000b4 167px,#0000c2 186px,#0000d4 194px,#00e 199px,#0000f6 200px,#0006ff 201px,#001fff 203px,#0045ff 205px,#007bff 207px,#00a3ff 208px,#00d1ff 209px,#00ffd5 210px,#05ffa6 211px,#09ff95 212px,#09ff98 213px,#02ffb1 214px,#00e0f9 215px,#0087ff 216px,#0042ff 217px,#0012ff 218px,#0000ec 219px,#0000d7 220px,#0000c2 222px,#0000b4 226px,#0000b0 233px,#0000b8 239px,#0000c8 242px,#0000d3 243px,#0000e4 244px,#0005ff 245px,#002eff 246px,#006eff 247px,#00d5ff 248px,#0fff81 249px,#5aff16 250px,#87ff0d 251px,#8bff0c 252px,#74ff12 253px,#1bff35 254px,#09ff97 255px,#00fadc 256px,#00c4ff 257px,#0095ff 258px,#0071ff 259px,#0040ff 261px,#001fff 263px,#0008ff 265px,#0000f9 266px,#0000df 270px,#0000ca 277px,#0000bc 290px,#0000bc 308px,#0000c9 319px,#0000df 326px,#0001fb 331px,#01f 333px,#0032ff 336px,#0060ff 339px,#008aff 341px,#00c2ff 343px,#00e3f6 344px,#00ffcb 345px,#08ff9c 346px,#15ff5f 347px,#45ff19 348px,#97ff09 349px,#d7ff00 350px,#ffd700 351px,#ff6f00 353px,#ff4100 354px,#ff1b00 355px,#f00 356px,#fd0000 357px,#ec0000 358px,#ea0000 359px,#f00 361px,#ff0c00 362px,#ff2e00 363px,#ff5900 364px,#ffbe00 366px,#f6f400 367px,#b4ff01 368px,#75ff12 369px,#1cff31 370px,#0eff85 371px,#01ffb7 372px,#00f3e4 373px,#00d0ff 374px,#0094ff 376px,#06f 378px,#0032ff 381px,#000dff 384px,#0003fd 385px,#0000e4 388px,#0000c4 394px,#0000a9 403px,#000094 418px,#000085 450px,#000083 464px)"></i>
<i style="background:linear-gradient(90deg,#00008b 0,#000094 67px,#0000a2 87px,#0000b5 96px,#0000cf 102px,#0000f7 108px,#0004fe 109px,#0015ff 113px,#0013ff 116px,#0006ff 119px,#0000fa 120px,#0000d1 127px,#00b 134px,#0000b1 146px,#0000b7 173px,#0000c6 188px,#0000d9 195px,#0000f0 199px,#0000f8 200px,#0009ff 201px,#0023ff 203px,#004aff 205px,#0064ff 206px,#0084ff 207px,#00dffb 209px,#00ffc4 210px,#08ff9a 211px,#0aff91 212px,#08ff99 213px,#00ffc0 214px,#00c6ff 215px,#006fff 216px,#0031ff 217px,#0006ff 218px,#0000e4 219px,#0000d3 220px,#0000c0 222px,#0000b3 226px,#0000b0 234px,#0000ba 240px,#0000c5 242px,#00d 244px,#0000f4 245px,#001dff 246px,#0054ff 247px,#00abff 248px,#02ffb0 249px,#24ff1e 250px,#7aff10 251px,#83ff0e 252px,#79ff11 253px,#1eff21 254px,#0cff8b 255px,#00ffd1 256px,#0cf 257px,#009cff 258px,#0076ff 259px,#0043ff 261px,#0021ff 263px,#0009ff 265px,#0000f9 266px,#0000e0 270px,#0000ca 277px,#0000bc 290px,#00b 309px,#0000cb 321px,#0000e2 328px,#0000f9 332px,#0006ff 333px,#002dff 337px,#0058ff 340px,#007fff 342px,#00b3ff 344px,#00d2ff 345px,#00f5e2 346px,#01ffb5 347px,#0eff84 348px,#1cff32 349px,#74ff12 350px,#b2ff02 351px,#f3f600 352px,#ffc100 353px,#ff5b00 355px,#ff3000 356px,#ff0c00 357px,#f00 358px,#ea0000 359px,#d00 360px,#dc0000 361px,#e80000 362px,#f00 363px,#ff0a00 364px,#ff2d00 365px,#ff5800 366px,#ffbd00 368px,#f7f200 369px,#b6ff01 370px,#78ff11 371px,#1dff2b 372px,#0fff81 373px,#02ffb3 374px,#00f7df 375px,#00d4ff 376px,#0098ff 378px,#006aff 380px,#0036ff 383px,#0010ff 386px,#0006ff 387px,#0000f7 388px,#0000d4 393px,#0000b7 400px,#00009f 411px,#00008c 432px,#000083 464px)"></i>
<i style="background:linear-gradient(90deg,#00008b 0,#000094 66px,#0000a3 86px,#0000b6 95px,#0000d5 102px,#0000fa 108px,#0009ff 110px,#000dff 114px,#0003fd 117px,#0000e1 122px,#0000c3 129px,#0000b4 138px,#0000b0 156px,#0000be 182px,#0000cf 192px,#0000e4 197px,#0001fa 200px,#0018ff 202px,#0039ff 204px,#006bff 206px,#008eff 207px,#0bf 208px,#00eceb 209px,#01ffb5 210px,#0aff91 211px,#0bff8f 212px,#07ff9d 213px,#00ffd3 214px,#00acff 215px,#005bff 216px,#0023ff 217px,#0000f7 218px,#0000df 219px,#0000cf 220px,#0000bf 222px,#0000b3 226px,#0000b0 234px,#0000b9 240px,#0000cb 243px,#0000d8 244px,#0000eb 245px,#0010ff 246px,#003fff 247px,#08f 248px,#00f8de 249px,#17ff56 250px,#64ff15 251px,#7cff10 252px,#78ff11 253px,#2dff1d 254px,#0fff80 255px,#00ffc7 256px,#00d3ff 257px,#00a1ff 258px,#007aff 259px,#005dff 260px,#0032ff 262px,#0014ff 264px,#0009ff 265px,#0000fa 266px,#0000e0 270px,#0000ca 277px,#0000bc 290px,#0000ba 309px,#0000c8 321px,#0000e0 329px,#0003fd 334px,#0028ff 338px,#0050ff 341px,#0074ff 343px,#00a4ff 345px,#00c0ff 346px,#00e1f9 347px,#00ffd0 348px,#06ffa3 349px,#13ff6f 350px,#31ff1c 351px,#89ff0c 352px,#c8ff00 353px,#ffe400 354px,#ff7c00 356px,#ff4c00 357px,#ff2300 358px,#ff0100 359px,#f70000 360px,#db0000 361px,#d10000 362px,#d10000 363px,#df0000 364px,#fe0000 365px,#ff0700 366px,#ff2a00 367px,#f50 368px,#ffba00 370px,#fcef00 371px,#bf0 372px,#7dff10 373px,#1eff21 374px,#10ff7b 375px,#03ffac 376px,#00fcd9 377px,#00d9ff 378px,#009dff 380px,#006eff 382px,#003aff 385px,#0014ff 388px,#0009ff 389px,#0000fa 390px,#0000d6 395px,#0000b8 402px,#0000a0 413px,#00008d 433px,#000084 464px)"></i>
<i style="background:linear-gradient(90deg,#00008b 0,#000094 65px,#0000a3 85px,#0000ba 95px,#0000da 102px,#0000fa 108px,#0006ff 111px,#0003fc 114px,#0000c7 126px,#0000b5 135px,#0000af 152px,#0000bc 180px,#0000cd 191px,#0000e5 197px,#0002fc 200px,#001aff 202px,#003dff 204px,#0071ff 206px,#0097ff 207px,#00c6ff 208px,#00f8de 209px,#04ffa8 210px,#0cff8c 211px,#0bff8d 212px,#06ffa3 213px,#00f0e8 214px,#0095ff 215px,#004bff 216px,#0017ff 217px,#0000ef 218px,#0000da 219px,#0000c3 221px,#0000b6 224px,#0000af 232px,#0000b8 240px,#0000c8 243px,#0000d3 244px,#0000e4 245px,#0005ff 246px,#002fff 247px,#006fff 248px,#00d5ff 249px,#0eff85 250px,#43ff19 251px,#73ff12 252px,#75ff12 253px,#38ff1b 254px,#11ff78 255px,#00ffbf 256px,#00d9ff 257px,#00a6ff 258px,#007cff 259px,#005fff 260px,#03f 262px,#0015ff 264px,#000aff 265px,#0000fa 266px,#0000e0 270px,#0000ca 277px,#00b 291px,#0000ba 311px,#0000c9 323px,#0000de 330px,#0000f9 335px,#0007ff 336px,#002dff 340px,#0057ff 343px,#007dff 345px,#00aeff 347px,#0cf 348px,#00eceb 349px,#00ffc1 350px,#0aff93 351px,#17ff51 352px,#4fff17 353px,#9bff08 354px,#d9ff00 355px,#ffd600 356px,#ff7000 358px,#ff4100 359px,#ff1900 360px,#f00 361px,#d00000 363px,#c70000 364px,#c80000 365px,#d60000 366px,#f60000 367px,#ff0300 368px,#ff2600 369px,#ff5100 370px,#ffb400 372px,#ffe900 373px,#c3ff00 374px,#85ff0e 375px,#2bff1d 376px,#12ff73 377px,#05ffa4 378px,#00ffd1 379px,#00e0fa 380px,#00c0ff 381px,#008aff 383px,#004eff 386px,#0023ff 389px,#0003fd 392px,#0000e5 395px,#0000c5 401px,#00a 410px,#000095 425px,#000086 457px,#000084 464px)"></i>
<i style="background:linear-gradient(90deg,#00008b 0,#000094 64px,#0000a3 83px,#0000b8 93px,#0000da 101px,#0000f5 107px,#0000f9 111px,#0000e9 116px,#0000c4 125px,#0000b4 134px,#0000af 152px,#0000bd 181px,#0000cd 191px,#0000e0 196px,#0000f4 199px,#0004fe 200px,#001cff 202px,#0041ff 204px,#0059ff 205px,#0076ff 206px,#009fff 207px,#00cfff 208px,#00ffd2 209px,#07ff9d 210px,#0dff88 211px,#0cff8c 212px,#04ffaa 213px,#00dffb 214px,#0081ff 215px,#003eff 216px,#000fff 217px,#0000ea 218px,#0000d7 219px,#0000c2 221px,#0000b4 225px,#0000b0 234px,#0000b8 240px,#0000c6 243px,#0000d0 244px,#0000df 245px,#0000f7 246px,#02f 247px,#005cff 248px,#00b8ff 249px,#05ffa5 250px,#20ff1e 251px,#63ff15 252px,#6cff13 253px,#3eff1a 254px,#12ff73 255px,#00ffba 256px,#00dcfe 257px,#00a9ff 258px,#007eff 259px,#0060ff 260px,#03f 262px,#0015ff 264px,#000aff 265px,#0000fa 266px,#0000e0 270px,#0000ca 277px,#0000ba 291px,#0000b9 311px,#0000c7 324px,#0000e0 332px,#0003fc 337px,#0026ff 341px,#004dff 344px,#0084ff 347px,#00b7ff 349px,#00d5ff 350px,#00f6e0 351px,#01ffb6 352px,#0dff87 353px,#1aff3b 354px,#66ff14 355px,#a7ff05 356px,#e6ff00 357px,#fc0 358px,#ff6700 360px,#ff3900 361px,#ff1200 362px,#f00 363px,#df0000 364px,#c70000 365px,#be0000 366px,#c00000 367px,#ce0000 368px,#e00 369px,#f00 370px,#ff2000 371px,#ff4b00 372px,#ffad00 374px,#ffe100 375px,#cdff00 376px,#90ff0b 377px,#3eff1a 378px,#15ff61 379px,#08ff9a 380px,#00ffc8 381px,#00e8f1 382px,#00c8ff 383px,#0091ff 385px,#0054ff 388px,#0027ff 391px,#0007ff 394px,#0000f8 395px,#0000d6 400px,#0000b8 407px,#00009f 419px,#00008c 441px,#000085 464px)"></i>
<i style="background:linear-gradient(90deg,#00008b 0,#000094 63px,#0000a3 82px,#0000b8 92px,#0000f1 106px,#0000f2 110px,#0000d9 117px,#0000bf 125px,#0000b0 136px,#0000b1 159px,#0000bf 183px,#0000d0 192px,#0000e6 197px,#0000f5 199px,#0005ff 200px,#001eff 202px,#0043ff 204px,#005cff 205px,#007aff 206px,#00a4ff 207px,#00d6ff 208px,#00ffc9 209px,#09ff95 210px,#0eff85 211px,#0cff8b 212px,#02ffb2 213px,#00d1ff 214px,#0075ff 215px,#0035ff 216px,#0009ff 217px,#0000e6 218px,#0000d4 219px,#0000c1 221px,#0000b4 225px,#0000b0 234px,#0000ba 241px,#0000c5 243px,#0000dc 245px,#0000f1 246px,#0019ff 247px,#004fff 248px,#00a2ff 249px,#00ffbf 250px,#1aff3d 251px,#53ff17 252px,#61ff15 253px,#3eff1a 254px,#13ff6f 255px,#00ffb8 256px,#00defc 257px,#00a9ff 258px,#007eff 259px,#0060ff 260px,#03f 262px,#0015ff 264px,#0009ff 265px,#0000f9 266px,#0000df 270px,#0000c9 277px,#0000ba 291px,#0000b8 312px,#0000c6 325px,#00d 333px,#0000f8 338px,#0005ff 339px,#002aff 343px,#0051ff 346px,#008aff 349px,#00bdff 351px,#00dcff 352px,#00fdd8 353px,#03ffad 354px,#0fff7e 355px,#1dff2b 356px,#75ff12 357px,#b0ff02 358px,#eef900 359px,#ffc600 360px,#ff6200 362px,#ff3500 363px,#ff0e00 364px,#f00 365px,#d90000 366px,#c00000 367px,#b80000 368px,#b90000 369px,#c60000 370px,#f00 372px,#ff1a00 373px,#ff4300 374px,#ffa300 376px,#ffd700 377px,#daff00 378px,#9cff07 379px,#55ff17 380px,#18ff4a 381px,#0bff8f 382px,#00ffbc 383px,#00f1e6 384px,#00d1ff 385px,#09f 387px,#006cff 389px,#003aff 392px,#000bff 396px,#0002fc 397px,#0000d8 402px,#0000ba 409px,#0000a1 420px,#00008e 440px,#000085 464px)"></i>
<i style="background:linear-gradient(90deg,#00008b 0,#000095 62px,#0000a4 81px,#0000b9 91px,#0000ea 104px,#0000eb 109px,#0000be 123px,#0000b0 134px,#0000b0 157px,#0000bf 183px,#0000d1 192px,#0000e7 197px,#0000f6 199px,#0005ff 200px,#001fff 202px,#04f 204px,#005eff 205px,#007dff 206px,#00a9ff 207px,#00dbff 208px,#00ffc2 209px,#0bff8f 210px,#0eff82 211px,#0cff8b 212px,#00ffb9 213px,#00c5ff 214px,#006bff 215px,#002eff 216px,#0004fe 217px,#0000e3 218px,#0000d2 219px,#0000c0 221px,#0000b4 225px,#0000b0 234px,#0000ba 241px,#00c 244px,#0000d9 245px,#0000ed 246px,#0012ff 247px,#04f 248px,#008fff 249px,#00ffd6 250px,#16ff5b 251px,#44ff19 252px,#57ff16 253px,#3cff1a 254px,#13ff6d 255px,#00ffb8 256px,#00defc 257px,#00a9ff 258px,#007eff 259px,#005fff 260px,#0032ff 262px,#0014ff 264px,#0008ff 265px,#0000f9 266px,#0000df 270px,#0000c9 277px,#0000b9 291px,#0000b7 313px,#0000c4 326px,#0000da 334px,#0000fa 340px,#0007ff 341px,#002cff 345px,#05f 348px,#0078ff 350px,#00a7ff 352px,#00c2ff 353px,#00e0f9 354px,#00ffd2 355px,#05ffa8 356px,#11ff78 357px,#1eff21 358px,#7aff10 359px,#b5ff01 360px,#f3f600 361px,#ffc300 362px,#ff5f00 364px,#f30 365px,#ff0c00 366px,#f00 367px,#d50000 368px,#bc0000 369px,#b20000 370px,#b30000 371px,#bf0000 372px,#db0000 373px,#f00 374px,#ff1200 375px,#ff3a00 376px,#ff9800 378px,#ffcb00 379px,#e9fe00 380px,#abff04 381px,#6fff13 382px,#1cff31 383px,#0fff81 384px,#03ffaf 385px,#00fcda 386px,#00dbff 387px,#00a2ff 389px,#0074ff 391px,#0040ff 394px,#000fff 398px,#0006ff 399px,#0000f7 400px,#0000d6 405px,#0000b6 413px,#00009e 425px,#00008c 448px,#000086 464px)"></i>
<i style="background:linear-gradient(90deg,#00008b 0,#000095 61px,#0000a4 80px,#0000ba 90px,#0000e5 102px,#0000e7 107px,#0000b9 123px,#0000ad 136px,#0000b3 165px,#0000c2 185px,#0000d4 193px,#00e 198px,#0000f6 199px,#0006ff 200px,#0020ff 202px,#0046ff 204px,#0060ff 205px,#0080ff 206px,#00adff 207px,#00e1f9 208px,#00ffba 209px,#0dff88 210px,#0fff7f 211px,#0cff8b 212px,#00ffc1 213px,#00b9ff 214px,#0062ff 215px,#0027ff 216px,#0000fa 217px,#0000e1 218px,#0000d1 219px,#0000c0 221px,#0000b4 225px,#0000b0 234px,#0000b9 241px,#0000ca 244px,#0000d6 245px,#0000e9 246px,#000cff 247px,#003aff 248px,#007fff 249px,#00ecec 250px,#1f7 251px,#34ff1b 252px,#4dff18 253px,#3aff1b 254px,#13ff6b 255px,#01ffb7 256px,#00defc 257px,#00a9ff 258px,#007dff 259px,#005fff 260px,#0031ff 262px,#0013ff 264px,#0008ff 265px,#0000f8 266px,#0000de 270px,#0000c8 277px,#0000b9 291px,#0000b6 313px,#0000c3 327px,#0000d7 335px,#0000f4 341px,#0001fb 342px,#01f 344px,#003bff 348px,#0068ff 351px,#0091ff 353px,#00c5ff 355px,#00e3f6 356px,#00ffcf 357px,#05ffa5 358px,#12ff76 359px,#21ff1e 360px,#7cff10 361px,#b7ff01 362px,#f4f500 363px,#ffc300 364px,#ff6000 366px,#f30 367px,#ff0d00 368px,#f00 369px,#d40000 370px,#b90000 371px,#ae0000 372px,#ad0000 373px,#b70000 374px,#d00000 375px,#fa0000 376px,#ff0900 377px,#ff2f00 378px,#ff8b00 380px,#ffbe00 381px,#faf000 382px,#bdff00 383px,#82ff0e 384px,#2aff1d 385px,#13ff70 386px,#06ffa0 387px,#0fc 388px,#00e6f3 389px,#00c7ff 390px,#0092ff 392px,#0056ff 395px,#002bff 398px,#000aff 401px,#0002fb 402px,#0000d9 407px,#00b 414px,#0000a2 425px,#00008f 445px,#000087 464px)"></i>
<i style="background:linear-gradient(90deg,#00008b 0,#000095 60px,#0000a5 79px,#0000be 90px,#0000e2 101px,#0000e1 106px,#0000b9 121px,#0000ad 134px,#0000b2 163px,#0000c2 185px,#0000d4 193px,#00e 198px,#0000f6 199px,#0006ff 200px,#0020ff 202px,#0047ff 204px,#0062ff 205px,#0082ff 206px,#00b1ff 207px,#00e6f3 208px,#01ffb3 209px,#0eff83 210px,#10ff7d 211px,#0cff8c 212px,#00ffca 213px,#00adff 214px,#005aff 215px,#0021ff 216px,#0000f6 217px,#0000de 218px,#0000cf 219px,#0000bf 221px,#0000b2 226px,#0000b0 235px,#0000b8 241px,#0000c9 244px,#0000d4 245px,#0000e5 246px,#0007ff 247px,#0031ff 248px,#0073ff 249px,#00daff 250px,#0dff87 251px,#25ff1e 252px,#46ff19 253px,#39ff1b 254px,#14ff69 255px,#01ffb6 256px,#00dffb 257px,#00a9ff 258px,#007dff 259px,#005eff 260px,#0031ff 262px,#0012ff 264px,#0007ff 265px,#0000f7 266px,#0000de 270px,#0000c8 277px,#0000b9 291px,#0000b5 314px,#0000c1 328px,#0000d8 337px,#0000f5 343px,#0002fc 344px,#0025ff 348px,#004aff 351px,#007dff 354px,#00abff 356px,#00c6ff 357px,#00e4f5 358px,#00ffce 359px,#05ffa4 360px,#12ff76 361px,#20ff1e 362px,#7bff10 363px,#b5ff01 364px,#f1f700 365px,#ffc500 366px,#ff6300 368px,#ff3600 369px,#ff0f00 370px,#f00 371px,#d50000 372px,#b80000 373px,#ab0000 374px,#a90000 375px,#b00000 376px,#c60000 377px,#ec0000 378px,#f00 379px,#ff2400 380px,#ff7d00 382px,#ffe100 384px,#d0ff00 385px,#95ff09 386px,#4bff18 387px,#17ff50 388px,#0bff90 389px,#00ffbc 390px,#00f3e4 391px,#00d3ff 392px,#009cff 394px,#005eff 397px,#0031ff 400px,#0006ff 404px,#0000f7 405px,#0000d1 411px,#0000b4 419px,#00009c 432px,#00008a 457px,#008 464px)"></i>
<i style="background:linear-gradient(90deg,#00008b 0,#000095 59px,#0000a5 78px,#0000bf 89px,#00d 99px,#00d 104px,#0000b6 120px,#0000ab 134px,#0000b3 166px,#0000c4 186px,#0000d8 194px,#00e 198px,#0000f7 199px,#0007ff 200px,#0021ff 202px,#0048ff 204px,#0063ff 205px,#0085ff 206px,#00b4ff 207px,#00ebed 208px,#03ffad 209px,#0fff7e 210px,#10ff7a 211px,#0bff8e 212px,#00ffd2 213px,#00a3ff 214px,#0052ff 215px,#001cff 216px,#0000f3 217px,#0000dc 218px,#0000c5 220px,#0000b7 223px,#0000af 232px,#0000b6 240px,#0000c0 243px,#0000d2 245px,#0000e2 246px,#0002fc 247px,#002aff 248px,#0068ff 249px,#00cbff 250px,#09ff96 251px,#1eff26 252px,#3fff1a 253px,#37ff1b 254px,#14ff65 255px,#01ffb4 256px,#00dffb 257px,#00a9ff 258px,#007dff 259px,#005eff 260px,#0030ff 262px,#0012ff 264px,#0007ff 265px,#0000f7 266px,#00d 270px,#0000c8 277px,#0000b8 292px,#0000b4 316px,#0000c1 330px,#0000d8 339px,#0000f6 345px,#000aff 347px,#0030ff 351px,#0059ff 354px,#007dff 356px,#00abff 358px,#00c6ff 359px,#00e4f5 360px,#00ffd0 361px,#05ffa6 362px,#11ff78 363px,#1eff24 364px,#7f1 365px,#b0ff02 366px,#ebfc00 367px,#ffca00 368px,#ff6900 370px,#ff3c00 371px,#ff1400 372px,#f00 373px,#da0000 374px,#b90000 375px,#a90000 376px,#a50000 377px,#a00 378px,#bc0000 379px,#f00 381px,#ff1800 382px,#ff6d00 384px,#ffcf00 386px,#e5ff00 387px,#aaff04 388px,#6fff13 389px,#1cff2d 390px,#10ff7e 391px,#04ffab 392px,#00ffd4 393px,#00e0fa 394px,#00c2ff 395px,#008fff 397px,#05f 400px,#002bff 403px,#0002fc 407px,#0000da 412px,#0000b9 420px,#0000a0 432px,#00008d 454px,#000089 464px)"></i>
<i style="background:linear-gradient(90deg,#00008b 0,#000095 57px,#0000a4 76px,#0000bd 87px,#0000d9 97px,#0000da 102px,#0000b3 119px,#00a 134px,#0000b4 168px,#0000c4 186px,#0000d8 194px,#0000ef 198px,#0000f7 199px,#0007ff 200px,#0021ff 202px,#0049ff 204px,#0065ff 205px,#0087ff 206px,#00b7ff 207px,#00efe9 208px,#05ffa7 209px,#10ff7a 210px,#11ff78 211px,#0bff8f 212px,#00fbdb 213px,#09f 214px,#004cff 215px,#0018ff 216px,#0000f0 217px,#0000da 218px,#0000c4 220px,#0000b7 223px,#0000af 232px,#0000b8 241px,#0000c6 244px,#0000d0 245px,#0000e0 246px,#0000f8 247px,#0024ff 248px,#005fff 249px,#00bdff 250px,#06ffa4 251px,#1cff33 252px,#3aff1b 253px,#36ff1b 254px,#15ff62 255px,#01ffb3 256px,#00dffb 257px,#00a9ff 258px,#007cff 259px,#005dff 260px,#002fff 262px,#01f 264px,#0006ff 265px,#0000f6 266px,#00d 270px,#0000c7 277px,#0000b7 292px,#0000b3 316px,#0000bf 331px,#0000d4 340px,#0000f0 346px,#0003fd 348px,#0025ff 352px,#004aff 355px,#007cff 358px,#0af 360px,#00c4ff 361px,#00e1f8 362px,#00ffd3 363px,#04ffaa 364px,#10ff7d 365px,#1cff2e 366px,#6eff13 367px,#a8ff04 368px,#e3ff00 369px,#ffd200 370px,#ff4300 373px,#ff1a00 374px,#f00 375px,#e10000 376px,#bd0000 377px,#a90000 378px,#a30000 379px,#a50000 380px,#b30000 381px,#cf0000 382px,#fc0000 383px,#ff0b00 384px,#ff3100 385px,#ff8c00 387px,#fcee00 389px,#c1ff00 390px,#87ff0d 391px,#36ff1b 392px,#15ff62 393px,#09ff98 394px,#00ffc2 395px,#00eee9 396px,#00d0ff 397px,#009bff 399px,#005eff 402px,#0031ff 405px,#0007ff 409px,#0000f9 410px,#0000d2 416px,#0000b5 424px,#00009d 437px,#00008b 461px,#00008a 464px)"></i>
<i style="background:linear-gradient(90deg,#00008b 0,#000095 56px,#0000a5 75px,#0000c1 87px,#0000d7 96px,#0000d3 102px,#0000b2 117px,#0000a9 132px,#0000b3 167px,#0000c4 186px,#0000d8 194px,#0000ef 198px,#0000f7 199px,#0007ff 200px,#02f 202px,#004aff 204px,#06f 205px,#08f 206px,#00baff 207px,#00f2e5 208px,#06ffa2 209px,#11ff76 210px,#12ff76 211px,#0aff91 212px,#00f4e2 213px,#0091ff 214px,#0046ff 215px,#0014ff 216px,#00e 217px,#0000d9 218px,#0000c3 220px,#0000b5 224px,#0000af 234px,#0000b7 241px,#0000c5 244px,#0000cf 245px,#0000de 246px,#0000f5 247px,#001fff 248px,#0058ff 249px,#00b1ff 250px,#02ffb1 251px,#1aff3f 252px,#35ff1b 253px,#34ff1b 254px,#15ff61 255px,#02ffb3 256px,#00dffb 257px,#00a8ff 258px,#007bff 259px,#005cff 260px,#002fff 262px,#01f 264px,#0005ff 265px,#0000f6 266px,#0000dc 270px,#0000c7 277px,#0000b7 292px,#0000b2 317px,#0000bd 332px,#0000d4 342px,#0000ef 348px,#0003fc 350px,#0025ff 354px,#0049ff 357px,#007bff 360px,#00a7ff 362px,#00defc 364px,#00fdd8 365px,#02ffb0 366px,#0eff84 367px,#1aff3c 368px,#5dff15 369px,#9eff07 370px,#d8ff00 371px,#ffdc00 372px,#ff4d00 375px,#ff2300 376px,#f00 377px,#eb0000 378px,#c30000 379px,#ab0000 380px,#a10000 381px,#a10000 382px,#ab0000 383px,#c20000 384px,#e90000 385px,#f00 386px,#f20 387px,#ff7900 389px,#ffda00 391px,#d9ff00 392px,#9fff07 393px,#60ff15 394px,#1bff3a 395px,#0eff83 396px,#03ffaf 397px,#00fed7 398px,#00defc 399px,#00a7ff 401px,#0067ff 404px,#0039ff 407px,#000cff 411px,#0004fe 412px,#0000e7 415px,#0000c4 422px,#0000a9 432px,#000094 449px,#00008b 464px)"></i>
<i style="background:linear-gradient(90deg,#00008b 0,#000095 55px,#0000a4 73px,#0000bf 85px,#0000d4 94px,#0000d1 100px,#0000b1 115px,#0000a8 131px,#0000b3 167px,#0000c4 186px,#0000d8 194px,#0000ef 198px,#0000f7 199px,#0007ff 200px,#02f 202px,#004aff 204px,#06f 205px,#0089ff 206px,#00bcff 207px,#00f5e2 208px,#07ff9d 209px,#12ff73 210px,#12ff74 211px,#0aff93 212px,#00efe9 213px,#008aff 214px,#0042ff 215px,#01f 216px,#0000ec 217px,#0000d8 218px,#0000c3 220px,#0000b4 224px,#0000af 234px,#0000b7 241px,#0000c5 244px,#0000dc 246px,#0000f2 247px,#001bff 248px,#0051ff 249px,#00a7ff 250px,#00ffbc 251px,#18ff4b 252px,#2fff1c 253px,#32ff1c 254px,#15ff60 255px,#01ffb4 256px,#00defc 257px,#00a6ff 258px,#007aff 259px,#005bff 260px,#002eff 262px,#0010ff 264px,#0005fe 265px,#0000ed 267px,#0000d4 272px,#0000c0 281px,#0000b2 302px,#0000b4 325px,#0000c3 338px,#0000db 346px,#0002fc 352px,#0024ff 356px,#0048ff 359px,#0078ff 362px,#00a3ff 364px,#00d9ff 366px,#00f8df 367px,#00ffb8 368px,#0bff8d 369px,#18ff4e 370px,#49ff18 371px,#91ff0a 372px,#caff00 373px,#ffe700 374px,#ff5800 377px,#ff2e00 378px,#ff0800 379px,#f80000 380px,#c00 381px,#af0000 382px,#a10000 383px,#9f0000 384px,#a40000 385px,#b60000 386px,#d70000 387px,#f00 388px,#ff1200 389px,#ff6500 391px,#ffc400 393px,#f4f500 394px,#baff00 395px,#82ff0e 396px,#2eff1c 397px,#14ff67 398px,#08ff9a 399px,#00ffc4 400px,#00eeea 401px,#00d0ff 402px,#009cff 404px,#0060ff 407px,#03f 410px,#0009ff 414px,#0001fa 415px,#0000d4 421px,#0000b6 429px,#00009d 442px,#00008c 464px)"></i>
<i style="background:linear-gradient(90deg,#00008c 0,#000095 54px,#0000a5 72px,#0000c2 85px,#0000d1 93px,#0000ca 100px,#0000af 114px,#0000a7 131px,#0000b5 170px,#0000c5 187px,#0000d8 194px,#00e 198px,#0000f7 199px,#0007ff 200px,#02f 202px,#004aff 204px,#06f 205px,#008aff 206px,#00bdff 207px,#00f7e0 208px,#08ff9a 209px,#13ff6d 210px,#13ff71 211px,#0aff94 212px,#00eaee 213px,#0085ff 214px,#003eff 215px,#000fff 216px,#0000ea 217px,#0000d7 218px,#0000c2 220px,#0000b4 224px,#0000af 234px,#0000b7 241px,#0000c4 244px,#0000da 246px,#0000f0 247px,#0017ff 248px,#004cff 249px,#009eff 250px,#00ffc5 251px,#17ff56 252px,#2aff1d 253px,#2fff1c 254px,#15ff62 255px,#01ffb5 256px,#00dcfe 257px,#00a4ff 258px,#0078ff 259px,#0059ff 260px,#002cff 262px,#000fff 264px,#0004fd 265px,#0000e6 268px,#0000cd 274px,#00b 285px,#0000b0 311px,#0000b6 331px,#0000c7 342px,#0000e3 350px,#0001fb 354px,#0010ff 356px,#0039ff 360px,#0063ff 363px,#08f 365px,#00b7ff 367px,#00d3ff 368px,#00f1e7 369px,#00ffc1 370px,#09ff97 371px,#15ff63 372px,#32ff1c 373px,#83ff0e 374px,#bf0 375px,#f5f500 376px,#ffc500 377px,#ff3a00 380px,#ff1300 381px,#f00 382px,#b60000 384px,#a30000 385px,#9d0000 386px,#9f0000 387px,#ac0000 388px,#c60000 389px,#f00000 390px,#ff0300 391px,#ff2700 392px,#ff7e00 394px,#ffde00 396px,#d6ff00 397px,#9dff07 398px,#5dff15 399px,#1aff3b 400px,#0eff83 401px,#03ffae 402px,#00ffd6 403px,#00e0fa 404px,#00c3ff 405px,#007dff 408px,#004aff 411px,#0018ff 415px,#0006ff 417px,#0000f8 418px,#0000d3 424px,#0000b5 432px,#00009d 445px,#00008e 464px)"></i>
<i style="background:linear-gradient(90deg,#00008c 0,#000096 53px,#0000a6 71px,#0000ce 90px,#0000ca 97px,#0000ae 112px,#0000a6 129px,#0000b3 168px,#0000c4 186px,#0000d8 194px,#00e 198px,#0000f7 199px,#0007ff 200px,#0021ff 202px,#004aff 204px,#06f 205px,#0089ff 206px,#00bdff 207px,#00f8df 208px,#09ff98 209px,#14ff68 210px,#13ff6d 211px,#0aff94 212px,#00e7f1 213px,#0081ff 214px,#003cff 215px,#000dff 216px,#0000e9 217px,#0000d6 218px,#0000c2 220px,#0000b4 224px,#0000af 234px,#0000b6 241px,#0000c3 244px,#0000d9 246px,#00e 247px,#0015ff 248px,#0048ff 249px,#0098ff 250px,#00ffcd 251px,#15ff5e 252px,#26ff1e 253px,#2bff1d 254px,#14ff65 255px,#00ffb8 256px,#00d9ff 257px,#00a2ff 258px,#0076ff 259px,#0057ff 260px,#002bff 262px,#000dff 264px,#0003fc 265px,#0000df 269px,#0000ca 275px,#0000b8 288px,#0000ae 316px,#0000b6 334px,#0000c9 345px,#0000e2 352px,#0000f9 356px,#0007ff 357px,#002bff 361px,#0051ff 364px,#0084ff 367px,#00cbff 370px,#00e9f0 371px,#00ffcb 372px,#06ffa3 373px,#1f7 374px,#1eff26 375px,#73ff12 376px,#a9ff04 377px,#e2ff00 378px,#ffd400 379px,#ff4900 382px,#ff2000 383px,#f00 384px,#e80000 385px,#c10000 386px,#a80000 387px,#9d0000 388px,#9c0000 389px,#a30000 390px,#b80000 391px,#f00 393px,#ff1500 394px,#ff6800 396px,#ffc600 398px,#f4f500 399px,#baff00 400px,#83ff0e 401px,#32ff1c 402px,#15ff63 403px,#09ff97 404px,#00ffc0 405px,#00f1e6 406px,#00d3ff 407px,#0089ff 410px,#0053ff 413px,#001fff 417px,#0003fd 420px,#0000e1 424px,#0000c1 431px,#0000a6 442px,#000091 461px,#00008f 464px)"></i>
<i style="background:linear-gradient(90deg,#00008c 0,#000096 51px,#0000a6 69px,#00c 88px,#0000c7 95px,#0000ad 110px,#0000a5 128px,#0000b4 169px,#0000c5 187px,#0000d8 194px,#00e 198px,#0000f6 199px,#0006ff 200px,#0021ff 202px,#0049ff 204px,#0065ff 205px,#0089ff 206px,#00bcff 207px,#00f8de 208px,#09ff96 209px,#15ff63 210px,#14ff69 211px,#0aff94 212px,#00e5f4 213px,#007fff 214px,#003aff 215px,#000cff 216px,#0000e8 217px,#0000d6 218px,#0000c2 220px,#0000b4 224px,#0000af 234px,#0000b6 241px,#0000c3 244px,#0000d8 246px,#0000ec 247px,#0012ff 248px,#0045ff 249px,#0092ff 250px,#00ffd4 251px,#14ff66 252px,#22ff1e 253px,#28ff1d 254px,#14ff69 255px,#00ffbc 256px,#00d6ff 257px,#009fff 258px,#0074ff 259px,#05f 260px,#0029ff 262px,#000cff 264px,#0002fb 265px,#0000df 269px,#0000ca 275px,#0000b8 288px,#0000ad 317px,#0000b5 336px,#0000c8 347px,#0000e1 354px,#0000f8 358px,#0005ff 359px,#0028ff 363px,#004dff 366px,#007fff 369px,#00c4ff 372px,#00e0fa 373px,#00fed7 374px,#02ffb0 375px,#0dff86 376px,#19ff43 377px,#54ff17 378px,#96ff09 379px,#ceff00 380px,#ffe500 381px,#ff5900 384px,#ff0a00 386px,#fc0000 387px,#ce0000 388px,#b00000 389px,#9f0000 390px,#9b0000 391px,#9d0000 392px,#ab0000 393px,#c70000 394px,#f20000 395px,#ff0400 396px,#ff2800 397px,#ff7e00 399px,#ffdc00 401px,#d9ff00 402px,#a1ff06 403px,#65ff14 404px,#1cff32 405px,#10ff7e 406px,#04ffa9 407px,#00ffd0 408px,#00e5f4 409px,#00c8ff 410px,#0082ff 413px,#004eff 416px,#001cff 420px,#0009ff 422px,#0001fb 423px,#0000d5 429px,#0000b7 437px,#00009e 450px,#000091 464px)"></i>
<i style="background:linear-gradient(90deg,#00008c 0,#000096 50px,#0000a7 68px,#0000ca 86px,#0000c5 93px,#0000ab 109px,#0000a4 128px,#0000b5 171px,#0000c5 187px,#0000d8 194px,#00e 198px,#0000f6 199px,#0006ff 200px,#0020ff 202px,#0048ff 204px,#0064ff 205px,#08f 206px,#00bcff 207px,#00f9de 208px,#0aff94 209px,#15ff5e 210px,#14ff65 211px,#0aff94 212px,#00e2f7 213px,#007cff 214px,#0038ff 215px,#000bff 216px,#0000e7 217px,#0000d5 218px,#0000c2 220px,#0000b4 224px,#0000af 234px,#0000b6 241px,#0000c3 244px,#0000d7 246px,#0000eb 247px,#0010ff 248px,#0041ff 249px,#008dff 250px,#00fcda 251px,#13ff6e 252px,#1eff20 253px,#25ff1e 254px,#00ffbf 256px,#00d3ff 257px,#009cff 258px,#0072ff 259px,#0053ff 260px,#0028ff 262px,#000bff 264px,#0001fa 265px,#0000de 269px,#0000c9 275px,#0000b8 288px,#0000ac 318px,#0000b3 337px,#0000c7 349px,#0000e5 357px,#0003fd 361px,#0025ff 365px,#0057ff 369px,#008cff 372px,#00d6ff 375px,#00f4e3 376px,#00ffbe 377px,#09ff95 378px,#15ff61 379px,#32ff1c 380px,#82ff0e 381px,#b8ff00 382px,#f1f800 383px,#ffc900 384px,#ff4100 387px,#ff1900 388px,#f00 389px,#e00000 390px,#b00 391px,#a40000 392px,#9b0000 393px,#9a0000 394px,#a20000 395px,#b70000 396px,#f00 398px,#ff1400 399px,#ff6500 401px,#ffc200 403px,#f9f100 404px,#c1ff00 405px,#8aff0c 406px,#3fff1a 407px,#17ff55 408px,#0bff8f 409px,#00ffb8 410px,#00f8de 411px,#00daff 412px,#008fff 415px,#0058ff 418px,#0023ff 422px,#0007ff 425px,#0000f8 426px,#0000d4 432px,#0000b4 441px,#00009c 455px,#000093 464px)"></i>
<i style="background:linear-gradient(90deg,#00008c 0,#000096 49px,#0000a6 66px,#0000c8 84px,#0000c1 92px,#00a 107px,#0000a4 127px,#0000b5 171px,#0000c5 187px,#0000d8 194px,#00e 198px,#0000f6 199px,#0006ff 200px,#0020ff 202px,#0048ff 204px,#0064ff 205px,#0087ff 206px,#00bcff 207px,#00f9dd 208px,#0aff92 209px,#16ff59 210px,#15ff61 211px,#0aff94 212px,#00e0fa 213px,#007aff 214px,#0036ff 215px,#0009ff 216px,#0000e7 217px,#0000d5 218px,#0000c2 220px,#0000b4 224px,#0000af 234px,#0000b6 241px,#0000c2 244px,#0000d7 246px,#0000ea 247px,#000eff 248px,#003eff 249px,#0087ff 250px,#00f6e0 251px,#12ff74 252px,#1eff23 253px,#22ff1e 254px,#00ffc2 256px,#00d0ff 257px,#09f 258px,#0070ff 259px,#0051ff 260px,#0026ff 262px,#000aff 264px,#0000f9 265px,#00d 269px,#0000c7 276px,#0000b5 291px,#0000ab 322px,#0000b3 340px,#0000c6 351px,#0000e3 359px,#0001fb 363px,#0010ff 365px,#0038ff 369px,#0062ff 372px,#009bff 375px,#0cf 377px,#00e8f0 378px,#00ffcd 379px,#05ffa6 380px,#10ff7b 381px,#1cff2f 382px,#67ff14 383px,#a1ff06 384px,#d8ff00 385px,#fd0 386px,#ff5400 389px,#ff0700 391px,#f70000 392px,#cb0000 393px,#ad0000 394px,#9d0000 395px,#900 396px,#9c0000 397px,#a90000 398px,#c40000 399px,#e00 400px,#ff0100 401px,#ff2400 402px,#ff7800 404px,#ffd500 406px,#e2ff00 407px,#aaff04 408px,#75ff12 409px,#1eff20 410px,#12ff74 411px,#00ffc7 413px,#00edeb 414px,#00d0ff 415px,#08f 418px,#0053ff 421px,#0020ff 425px,#0004fe 428px,#0000ef 430px,#0000ce 436px,#0000b1 445px,#009 460px,#000096 464px)"></i>
<i style="background:linear-gradient(90deg,#00008c 0,#000096 47px,#0000a8 65px,#0000c5 81px,#0000c2 88px,#0000a9 105px,#0000a3 125px,#0000b4 170px,#0000c5 187px,#0000d7 194px,#0000ed 198px,#0000f5 199px,#0005ff 200px,#001fff 202px,#0047ff 204px,#0063ff 205px,#0087ff 206px,#0bf 207px,#00f9dd 208px,#0bff90 209px,#17ff54 210px,#15ff5d 211px,#0aff94 212px,#00defc 213px,#07f 214px,#0034ff 215px,#0008ff 216px,#0000e6 217px,#0000d4 218px,#0000c1 220px,#0000b4 224px,#0000af 234px,#0000b6 241px,#0000c2 244px,#0000d6 246px,#0000e8 247px,#000cff 248px,#003bff 249px,#0083ff 250px,#00f1e6 251px,#11ff79 252px,#1dff27 253px,#20ff1e 254px,#00ffc5 256px,#00cdff 257px,#0096ff 258px,#006dff 259px,#0050ff 260px,#0025ff 262px,#0009ff 264px,#0000f9 265px,#00d 269px,#0000c6 276px,#0000b5 291px,#00a 323px,#0000b2 342px,#0000c8 354px,#0000e6 362px,#0000f8 365px,#0005ff 366px,#0029ff 370px,#005cff 374px,#0092ff 377px,#00dcfe 380px,#00fadc 381px,#01ffb6 382px,#0bff8e 383px,#17ff54 384px,#3fff1a 385px,#89ff0c 386px,#bfff00 387px,#f7f200 388px,#ffc400 389px,#ff3e00 392px,#ff1800 393px,#f00 394px,#ba0000 396px,#a30000 397px,#900 398px,#900 399px,#a00000 400px,#b30000 401px,#d40000 402px,#f00 403px,#ff0f00 404px,#ff5e00 406px,#ffe700 409px,#cdff00 410px,#96ff09 411px,#55ff17 412px,#1aff3f 413px,#0eff83 414px,#03ffad 415px,#00ffd3 416px,#00e3f6 417px,#00c7ff 418px,#0082ff 421px,#004fff 424px,#001dff 428px,#0003fc 431px,#0000d6 437px,#0000b8 445px,#00009f 458px,#000098 464px)"></i>
<i style="background:linear-gradient(90deg,#00008c 0,#000096 46px,#0000a7 63px,#0000c4 79px,#0000bf 87px,#0000a7 103px,#0000a2 124px,#0000b4 170px,#0000c5 187px,#0000d7 194px,#0000ed 198px,#0000f5 199px,#0005ff 200px,#001fff 202px,#0047ff 204px,#0063ff 205px,#0086ff 206px,#0bf 207px,#00f9dd 208px,#0bff8e 209px,#17ff4f 210px,#16ff5a 211px,#0aff94 212px,#00dbff 213px,#0075ff 214px,#03f 215px,#0007ff 216px,#0000e5 217px,#0000d4 218px,#0000c1 220px,#0000b4 224px,#0000ae 234px,#0000b8 242px,#0000c9 245px,#0000d5 246px,#0000e7 247px,#000aff 248px,#0038ff 249px,#007fff 250px,#00ecec 251px,#10ff7d 252px,#1dff2b 253px,#1eff20 254px,#00ffc8 256px,#00caff 257px,#0093ff 258px,#006bff 259px,#004eff 260px,#0024ff 262px,#0008ff 264px,#0000f8 265px,#0000dc 269px,#0000c6 276px,#0000b5 291px,#0000a9 324px,#0000b1 343px,#0000c4 355px,#0000df 363px,#0003fc 368px,#002fff 373px,#0056ff 376px,#0089ff 379px,#00d0ff 382px,#00eceb 383px,#00ffc8 384px,#11ff76 386px,#1dff27 387px,#6fff13 388px,#a5ff05 389px,#dbff00 390px,#ffdb00 391px,#ff5400 394px,#ff0700 396px,#f80000 397px,#c00 398px,#ae0000 399px,#9d0000 400px,#980000 401px,#9a0000 402px,#a60000 403px,#bf0000 404px,#e60000 405px,#f00 406px,#ff1d00 407px,#ff6e00 409px,#ffca00 411px,#f1f800 412px,#b9ff00 413px,#84ff0e 414px,#37ff1b 415px,#16ff5b 416px,#0aff91 417px,#00ffba 418px,#00f8df 419px,#00daff 420px,#0091ff 423px,#005aff 426px,#0025ff 430px,#0009ff 433px,#0001fb 434px,#0000d5 440px,#0000b8 448px,#00009f 461px,#00009b 464px)"></i>
<i style="background:linear-gradient(90deg,#00008c 0,#000096 44px,#0000a7 61px,#0000c2 77px,#0000bd 85px,#0000a6 102px,#0000a1 124px,#0000b6 172px,#0000c7 188px,#0000dc 195px,#0000f5 199px,#0005ff 200px,#001fff 202px,#0046ff 204px,#0062ff 205px,#0085ff 206px,#00baff 207px,#00f9dc 208px,#0cff8d 209px,#18ff4b 210px,#17ff56 211px,#0aff95 212px,#00d9ff 213px,#0073ff 214px,#0031ff 215px,#0006ff 216px,#0000e5 217px,#0000d3 218px,#0000c1 220px,#0000b4 224px,#0000ae 234px,#0000b8 242px,#0000c9 245px,#0000d4 246px,#0000e6 247px,#0009ff 248px,#0036ff 249px,#007bff 250px,#00e7f2 251px,#0fff80 252px,#1cff2e 253px,#1eff22 254px,#00ffcb 256px,#00c7ff 257px,#0091ff 258px,#0069ff 259px,#004cff 260px,#02f 262px,#0007ff 264px,#0000f7 265px,#0000dc 269px,#0000c6 276px,#0000b4 291px,#0000a8 325px,#0000b0 345px,#0000c2 357px,#00d 365px,#0000fa 370px,#0007ff 371px,#002bff 375px,#005eff 379px,#0095ff 382px,#00c4ff 384px,#00dffb 385px,#00fcd9 386px,#01ffb4 387px,#0cff8c 388px,#17ff51 389px,#41ff1a 390px,#8aff0c 391px,#bfff00 392px,#f6f300 393px,#ffc500 394px,#ff4100 397px,#ff1a00 398px,#f00 399px,#e30000 400px,#bd0000 401px,#a50000 402px,#900 403px,#970000 404px,#9d0000 405px,#ae0000 406px,#c00 407px,#f80000 408px,#ff0700 409px,#ff5300 411px,#ffd900 414px,#deff00 415px,#a7ff05 416px,#73ff12 417px,#1eff22 418px,#12ff74 419px,#00ffc5 421px,#00efe9 422px,#00d2ff 423px,#008bff 426px,#0056ff 429px,#0023ff 433px,#0007ff 436px,#0000f9 437px,#0000d5 443px,#0000b5 452px,#00009f 464px)"></i>
<i style="background:linear-gradient(90deg,#00008c 0,#000097 43px,#0000a9 60px,#0000c1 75px,#0000ba 84px,#0000a5 100px,#0000a1 123px,#0000b6 172px,#0000c7 188px,#0000db 195px,#0000f5 199px,#0005fe 200px,#001eff 202px,#0046ff 204px,#0061ff 205px,#0085ff 206px,#00baff 207px,#00fadc 208px,#0cff8b 209px,#19ff46 210px,#17ff52 211px,#09ff95 212px,#00d7ff 213px,#0071ff 214px,#002fff 215px,#0005ff 216px,#0000e4 217px,#0000d3 218px,#0000c1 220px,#0000b4 224px,#0000ae 234px,#0000b8 242px,#0000c8 245px,#0000d3 246px,#0000e5 247px,#0007ff 248px,#03f 249px,#0078ff 250px,#00e3f7 251px,#0eff84 252px,#1cff31 253px,#1eff24 254px,#00ffce 256px,#00c5ff 257px,#008eff 258px,#0068ff 259px,#004bff 260px,#0021ff 262px,#0006ff 264px,#0000f6 265px,#0000db 269px,#0000c6 276px,#0000b4 291px,#0000a7 326px,#0000af 347px,#0000c1 359px,#0000db 367px,#0000f6 372px,#0003fd 373px,#0030ff 378px,#0057ff 381px,#008bff 384px,#00d1ff 387px,#00edeb 388px,#00ffc8 389px,#1f7 391px,#1dff29 392px,#6bff14 393px,#a2ff06 394px,#d8ff00 395px,#ffdf00 396px,#ff5800 399px,#ff0c00 401px,#f00 402px,#d20000 403px,#b10000 404px,#9f0000 405px,#970000 406px,#980000 407px,#a10000 408px,#b70000 409px,#f00 411px,#ff1200 412px,#ff6100 414px,#ffe800 417px,#cdff00 418px,#97ff09 419px,#59ff16 420px,#1bff3b 421px,#0fff80 422px,#04ffa9 423px,#00ffcf 424px,#00e7f2 425px,#00cbff 426px,#0086ff 429px,#0053ff 432px,#0021ff 436px,#0005ff 439px,#0000f8 440px,#0000d4 446px,#0000b4 455px,#0000a3 464px)"></i>
<i style="background:linear-gradient(90deg,#00008d 0,#000097 41px,#0000a9 58px,#0000bf 72px,#00b 80px,#0000a4 98px,#0000a0 122px,#0000b6 172px,#0000c7 188px,#0000db 195px,#0000f5 199px,#0004fe 200px,#001eff 202px,#0045ff 204px,#0061ff 205px,#0084ff 206px,#00b9ff 207px,#00f9dc 208px,#0cff8a 209px,#1aff42 210px,#18ff4f 211px,#09ff95 212px,#00d5ff 213px,#006fff 214px,#002eff 215px,#0004fe 216px,#0000e3 217px,#0000d3 218px,#0000c1 220px,#0000b4 224px,#0000ae 234px,#0000b8 242px,#0000c8 245px,#0000d3 246px,#0000e4 247px,#0006ff 248px,#0031ff 249px,#0074ff 250px,#00defc 251px,#0dff87 252px,#1cff34 253px,#1dff26 254px,#00ffd0 256px,#00c2ff 257px,#008cff 258px,#06f 259px,#0049ff 260px,#0020ff 262px,#0005ff 264px,#0000f5 265px,#0000db 269px,#0000c5 276px,#0000b3 292px,#0000a6 328px,#0000ae 349px,#0000c0 361px,#0000d9 369px,#0000fa 375px,#0007ff 376px,#002bff 380px,#005fff 384px,#0095ff 387px,#00defc 390px,#00fbdb 391px,#01ffb6 392px,#0bff8f 393px,#16ff57 394px,#39ff1b 395px,#84ff0e 396px,#b9ff00 397px,#eff900 398px,#fc0 399px,#ff4800 402px,#ff2100 403px,#f00 404px,#ec0000 405px,#c40000 406px,#a90000 407px,#9a0000 408px,#970000 409px,#9a0000 410px,#a70000 411px,#c10000 412px,#e80000 413px,#f00 414px,#ff1e00 415px,#ff6e00 417px,#ffc800 419px,#f4f500 420px,#bdff00 421px,#88ff0d 422px,#40ff1a 423px,#17ff51 424px,#0cff8b 425px,#01ffb3 426px,#00fdd8 427px,#00e0fa 428px,#00acff 430px,#006fff 433px,#0042ff 436px,#0015ff 440px,#0004fe 442px,#0000ef 444px,#0000cb 451px,#0000ad 461px,#0000a8 464px)"></i>
<i style="background:linear-gradient(90deg,#00008d 0,#000097 40px,#00a 57px,#0000be 70px,#0000b8 79px,#0000a3 96px,#00009f 120px,#0000b4 170px,#0000c5 187px,#0000d7 194px,#0000ed 198px,#0004fe 200px,#001dff 202px,#0045ff 204px,#0060ff 205px,#0083ff 206px,#00b8ff 207px,#00f9dd 208px,#0dff88 209px,#1aff3d 210px,#18ff4b 211px,#09ff95 212px,#00d3ff 213px,#006dff 214px,#002dff 215px,#0003fd 216px,#0000e3 217px,#0000d2 218px,#0000c0 220px,#0000b4 224px,#0000ae 234px,#0000b7 242px,#0000c7 245px,#0000d2 246px,#0000e3 247px,#0004fe 248px,#002fff 249px,#0071ff 250px,#00daff 251px,#0cff8a 252px,#1bff36 253px,#1dff28 254px,#00ffd3 256px,#00bfff 257px,#0089ff 258px,#0064ff 259px,#0047ff 260px,#001fff 262px,#0005ff 264px,#0000ec 266px,#0000d2 271px,#0000be 280px,#0000ac 304px,#0000a5 336px,#0000b0 354px,#0000c6 366px,#0000e5 374px,#0000f6 377px,#0003fd 378px,#0030ff 383px,#06f 387px,#009eff 390px,#00cfff 392px,#00eaee 393px,#0fc 394px,#05ffa6 395px,#10ff7d 396px,#1bff35 397px,#5dff15 398px,#99ff08 399px,#ceff00 400px,#ffe700 401px,#ff6200 404px,#ff1400 406px,#f00 407px,#b80000 409px,#a20000 410px,#980000 411px,#970000 412px,#9d0000 413px,#ae0000 414px,#c00 415px,#f70000 416px,#ff0600 417px,#ff5000 419px,#ffd500 422px,#e5ff00 423px,#afff03 424px,#7bff10 425px,#2aff1d 426px,#14ff65 427px,#09ff96 428px,#00ffbd 429px,#00f6e1 430px,#00d9ff 431px,#0091ff 434px,#005cff 437px,#0027ff 441px,#0003fd 445px,#0000d7 451px,#0000b9 459px,#0000ad 464px)"></i>
<i style="background:linear-gradient(90deg,#00008d 0,#000098 38px,#00a 55px,#0000bd 68px,#0000b6 77px,#0000a2 94px,#00009e 119px,#0000b4 170px,#0000c5 187px,#0000d7 194px,#0000ec 198px,#0004fe 200px,#001dff 202px,#04f 204px,#005fff 205px,#0082ff 206px,#00b8ff 207px,#00f9dd 208px,#0dff87 209px,#1bff39 210px,#19ff48 211px,#09ff95 212px,#00d1ff 213px,#006cff 214px,#002bff 215px,#0002fc 216px,#0000e2 217px,#0000d2 218px,#0000c0 220px,#0000b3 224px,#0000ae 234px,#0000b7 242px,#0000c7 245px,#0000d2 246px,#0000e2 247px,#0003fd 248px,#002dff 249px,#006fff 250px,#00d7ff 251px,#0bff8d 252px,#1bff38 253px,#1dff29 254px,#00ffd6 256px,#00bdff 257px,#0087ff 258px,#0062ff 259px,#0046ff 260px,#001eff 262px,#0004fe 264px,#0000ec 266px,#0000d2 271px,#0000be 280px,#0000ac 304px,#0000a4 337px,#0000ae 356px,#0000c4 368px,#0000e2 376px,#0000f9 380px,#0007ff 381px,#0035ff 386px,#005dff 389px,#0092ff 392px,#00daff 395px,#00f6e0 396px,#00ffbd 397px,#09ff96 398px,#14ff66 399px,#28ff1d 400px,#7aff11 401px,#adff03 402px,#e2ff00 403px,#ffd700 404px,#ff5300 407px,#ff0800 409px,#fb0000 410px,#ce0000 411px,#af0000 412px,#9d0000 413px,#970000 414px,#970000 415px,#a00000 416px,#b50000 417px,#d70000 418px,#f00 419px,#ff0f00 420px,#ff5c00 422px,#ffe000 425px,#d7ff00 426px,#a2ff06 427px,#6cff13 428px,#1dff27 429px,#12ff75 430px,#00ffc5 432px,#00f0e8 433px,#00d4ff 434px,#008dff 437px,#0059ff 440px,#0026ff 444px,#000aff 447px,#0002fc 448px,#0000d7 454px,#0000b6 463px,#0000b4 464px)"></i>
<i style="background:linear-gradient(90deg,#00008d 0,#000098 37px,#0000ac 54px,#0000bc 66px,#0000b3 76px,#0000a1 93px,#00009e 120px,#0000b6 172px,#0000c7 188px,#0000db 195px,#0000f4 199px,#0004fe 200px,#001dff 202px,#04f 204px,#005fff 205px,#0082ff 206px,#00b7ff 207px,#00f9dd 208px,#0dff86 209px,#1bff34 210px,#19ff45 211px,#09ff95 212px,#00d0ff 213px,#006aff 214px,#002aff 215px,#0002fb 216px,#0000e2 217px,#0000d2 218px,#0000c0 220px,#0000b3 224px,#0000ae 234px,#0000b7 242px,#0000c6 245px,#0000d1 246px,#0000e1 247px,#0002fb 248px,#002bff 249px,#006cff 250px,#00d3ff 251px,#0bff90 252px,#1bff3a 253px,#1dff2a 254px,#00fdd8 256px,#0bf 257px,#0085ff 258px,#0061ff 259px,#0045ff 260px,#001dff 262px,#0003fd 264px,#0000e5 267px,#0000cf 272px,#0000bc 282px,#0000a8 312px,#0000a4 343px,#0000b1 361px,#0000c8 372px,#0000e4 379px,#0003fd 383px,#002fff 388px,#0064ff 392px,#009bff 395px,#00c9ff 397px,#00e4f5 398px,#00ffd3 399px,#03ffae 400px,#0dff87 401px,#18ff49 402px,#47ff19 403px,#8cff0c 404px,#c0ff00 405px,#f6f400 406px,#ffc700 407px,#ff4500 410px,#ff1f00 411px,#f00 412px,#eb0000 413px,#c30000 414px,#a90000 415px,#9a0000 416px,#960000 417px,#900 418px,#a50000 419px,#bd0000 420px,#e20000 421px,#f00 422px,#ff1800 423px,#f60 425px,#ffeb00 428px,#caff00 429px,#96ff09 430px,#59ff16 431px,#1bff39 432px,#0fff7e 433px,#05ffa7 434px,#0fc 435px,#00eaee 436px,#00ceff 437px,#008aff 440px,#0056ff 443px,#0024ff 447px,#0008ff 450px,#0001fb 451px,#0000d6 457px,#0000bc 464px)"></i>
<i style="background:linear-gradient(90deg,#00008d 0,#000098 35px,#0000ac 52px,#00b 63px,#0000b3 73px,#0000a0 90px,#00009d 116px,#0000b3 167px,#0000c4 186px,#0000d7 194px,#0000ec 198px,#0004fe 200px,#001dff 202px,#0043ff 204px,#005eff 205px,#0081ff 206px,#00b6ff 207px,#00f8de 208px,#0dff86 209px,#1cff30 210px,#1aff41 211px,#09ff95 212px,#00ceff 213px,#0069ff 214px,#0029ff 215px,#0001fb 216px,#0000e1 217px,#0000d1 218px,#0000c0 220px,#0000b3 224px,#0000ae 234px,#0000b7 242px,#0000c6 245px,#0000d0 246px,#0000e1 247px,#0000fa 248px,#0029ff 249px,#006aff 250px,#00d0ff 251px,#0aff92 252px,#1aff3c 253px,#1dff2b 254px,#00fbdb 256px,#00b8ff 257px,#0083ff 258px,#005fff 259px,#04f 260px,#001cff 262px,#0003fd 264px,#0000e4 267px,#0000ce 272px,#00b 282px,#0000a8 312px,#0000a3 344px,#0000af 362px,#0000c6 374px,#0000e6 382px,#0000f8 385px,#0006ff 386px,#03f 391px,#006aff 395px,#00a3ff 398px,#00d3ff 400px,#00efe9 401px,#00ffc6 402px,#11ff78 404px,#1cff2d 405px,#65ff14 406px,#9dff07 407px,#d1ff00 408px,#ffe500 409px,#ff6200 412px,#ff1500 414px,#f00 415px,#ba0000 417px,#a30000 418px,#980000 419px,#960000 420px,#9b0000 421px,#a00 422px,#c50000 423px,#ed0000 424px,#f00 425px,#ff2100 426px,#ff7000 428px,#ffc800 430px,#f5f400 431px,#bfff00 432px,#8bff0c 433px,#47ff19 434px,#18ff49 435px,#0dff86 436px,#03ffae 437px,#00ffd3 438px,#00e5f4 439px,#00caff 440px,#0087ff 443px,#0054ff 446px,#0023ff 450px,#0008ff 453px,#0000fa 454px,#0000d6 460px,#0000c5 464px)"></i>
<i style="background:linear-gradient(90deg,#00008e 0,#009 34px,#0000b0 52px,#0000ba 62px,#0000ab 76px,#00009d 94px,#0000a0 127px,#0000ba 178px,#0000cb 190px,#0000e0 196px,#0000f4 199px,#0004fd 200px,#001cff 202px,#0043ff 204px,#005eff 205px,#0080ff 206px,#00b5ff 207px,#00f8de 208px,#0eff85 209px,#1dff2c 210px,#1aff3e 211px,#09ff95 212px,#00cdff 213px,#0067ff 214px,#0028ff 215px,#0000fa 216px,#0000e1 217px,#0000d1 218px,#0000c0 220px,#0000b3 224px,#0000ae 235px,#0000b7 242px,#0000c6 245px,#0000d0 246px,#0000e0 247px,#0000f9 248px,#0028ff 249px,#0068ff 250px,#00cdff 251px,#0aff94 252px,#1aff3d 253px,#1dff2b 254px,#0eff84 255px,#00f9dd 256px,#00b6ff 257px,#0081ff 258px,#005eff 259px,#0043ff 260px,#001cff 262px,#0002fc 264px,#0000e4 267px,#0000cb 273px,#0000b8 285px,#0000a4 322px,#0000a3 350px,#0000b1 367px,#0000ca 378px,#0000e8 385px,#0001fb 388px,#0010ff 390px,#0038ff 394px,#0060ff 397px,#0095ff 400px,#00dcfe 403px,#00f8de 404px,#00ffba 405px,#0aff94 406px,#15ff63 407px,#2aff1d 408px,#7aff10 409px,#adff03 410px,#e1ff00 411px,#ffd800 412px,#ff5600 415px,#ff0c00 417px,#f00 418px,#d30000 419px,#b30000 420px,#9f0000 421px,#970000 422px,#960000 423px,#9d0000 424px,#af0000 425px,#cd0000 426px,#f90000 427px,#ff0700 428px,#ff4f00 430px,#ffd100 433px,#eafd00 434px,#b5ff01 435px,#82ff0e 436px,#37ff1b 437px,#16ff58 438px,#0bff8e 439px,#01ffb5 440px,#00fdd9 441px,#00e0fa 442px,#00c6ff 443px,#0084ff 446px,#0052ff 449px,#02f 453px,#0007ff 456px,#0000f9 457px,#0000d5 463px,#0000d1 464px)"></i>
</b></div>
<div class="hm" style="left:141px;top:270px"><b>
<i style="background:linear-gradient(90deg,#0000bf 0,#0000de 9px,#0001fb 14px,#0010ff 16px,#0036ff 20px,#005dff 23px,#0093ff 26px,#00dcfe 29px,#00fadc 30px,#00ffb7 31px,#0bff8f 32px,#16ff57 33px,#3bff1a 34px,#86ff0d 35px,#bf0 36px,#f2f600 37px,#ffc800 38px,#ff4300 41px,#ff1c00 42px,#f00 43px,#e50000 44px,#be0000 45px,#a50000 46px,#980000 47px,#960000 48px,#9b0000 49px,#a00 50px,#c80000 51px,#f30000 52px,#ff0400 53px,#ff4f00 55px,#ffd600 58px,#e2ff00 59px,#acff03 60px,#7f1 61px,#22ff1e 62px,#13ff6e 63px,#08ff9b 64px,#00ffc2 65px,#00f1e6 66px,#00d5ff 67px,#008dff 70px,#005aff 73px,#002aff 77px,#0002fc 82px,#0000d9 89px,#0000bf 99px,#0000af 115px,#0000ad 142px,#0000be 179px,#0000d0 191px,#0000e7 197px,#0000f6 199px,#0005ff 200px,#001eff 202px,#04f 204px,#005fff 205px,#0082ff 206px,#00b7ff 207px,#00fadc 208px,#0eff83 209px,#1dff2b 210px,#1aff3c 211px,#0aff93 212px,#00cfff 213px,#0069ff 214px,#0029ff 215px,#0001fb 216px,#0000e2 217px,#0000d2 218px,#0000c0 220px,#0000b4 224px,#0000ae 235px,#0000b6 242px,#0000c5 245px,#0000d0 246px,#0000e0 247px,#0000f9 248px,#0028ff 249px,#0068ff 250px,#00cdff 251px,#09ff95 252px,#1aff3f 253px,#1cff2e 254px,#0eff85 255px,#00f8de 256px,#00b6ff 257px,#0081ff 258px,#005dff 259px,#0042ff 260px,#001bff 262px,#0001fb 264px,#0000e3 267px,#00c 272px,#0000b9 282px,#00009f 317px,#000091 358px,#000096 381px,#0000b1 405px,#0000a5 416px,#00008e 434px,#000082 464px)"></i>
<i style="background:linear-gradient(90deg,#0000b9 0,#0000d6 10px,#0000f6 16px,#000aff 18px,#002eff 22px,#0062ff 26px,#09f 29px,#00caff 31px,#00e5f3 32px,#00ffd0 33px,#04ffaa 34px,#0fff81 35px,#1aff3b 36px,#59ff16 37px,#98ff09 38px,#ceff00 39px,#ffe600 40px,#ff5e00 43px,#ff0f00 45px,#f00 46px,#d40000 47px,#b20000 48px,#9e0000 49px,#970000 50px,#970000 51px,#a00000 52px,#b50000 53px,#f00 55px,#ff1200 56px,#ff6200 58px,#ffeb00 61px,#c9ff00 62px,#93ff0a 63px,#51ff17 64px,#19ff43 65px,#0eff85 66px,#03ffae 67px,#00ffd4 68px,#00e3f6 69px,#00c7ff 70px,#0083ff 73px,#0053ff 76px,#0025ff 80px,#0005ff 84px,#0000f9 85px,#0000d7 92px,#0000bf 102px,#0000af 118px,#0000af 146px,#0000bf 180px,#0000d0 191px,#0000e8 197px,#0000f6 199px,#0006ff 200px,#001fff 202px,#0045ff 204px,#0061ff 205px,#0084ff 206px,#00b9ff 207px,#00fcda 208px,#1dff2a 210px,#1aff3b 211px,#0aff91 212px,#00d2ff 213px,#006bff 214px,#002bff 215px,#0002fc 216px,#0000e2 217px,#0000d2 218px,#0000c1 220px,#0000b4 224px,#0000ae 234px,#0000b6 242px,#0000c5 245px,#0000d0 246px,#0000e0 247px,#0000fa 248px,#0029ff 249px,#0069ff 250px,#00cfff 251px,#09ff95 252px,#19ff43 253px,#1cff32 254px,#0dff86 255px,#00f9dd 256px,#00b6ff 257px,#0081ff 258px,#005eff 259px,#0042ff 260px,#001bff 262px,#0001fb 264px,#0000e3 267px,#00c 272px,#0000b9 282px,#00009f 317px,#000091 357px,#000098 379px,#0000b2 402px,#0000a8 412px,#00008f 430px,#000082 461px,#000082 464px)"></i>
<i style="background:linear-gradient(90deg,#0000b3 0,#00c 10px,#0000eb 17px,#0000f7 19px,#0004fe 20px,#0031ff 25px,#0057ff 28px,#008bff 31px,#00d3ff 34px,#00efe8 35px,#00ffc4 36px,#13ff70 38px,#21ff1e 39px,#7f1 40px,#acff03 41px,#e3ff00 42px,#ffd500 43px,#ff4d00 46px,#ff0200 48px,#ef0000 49px,#c50000 50px,#a90000 51px,#9a0000 52px,#960000 53px,#9a0000 54px,#a80000 55px,#c30000 56px,#ed0000 57px,#f00 58px,#ff2300 59px,#ff7600 61px,#ffd200 63px,#e6ff00 64px,#aeff03 65px,#7aff11 66px,#25ff1e 67px,#13ff6c 68px,#08ff9a 69px,#00ffc2 70px,#00f1e6 71px,#00d4ff 72px,#008cff 75px,#0059ff 78px,#0029ff 82px,#0008ff 86px,#0002fb 87px,#0000d9 94px,#0000c0 104px,#0000b0 120px,#0000b0 148px,#0000c0 181px,#0000d0 191px,#0000e2 196px,#0000f7 199px,#0006ff 200px,#001fff 202px,#0046ff 204px,#0062ff 205px,#0086ff 206px,#00bcff 207px,#00fed7 208px,#1dff2a 210px,#1bff39 211px,#0bff8f 212px,#00d5ff 213px,#006dff 214px,#002dff 215px,#0003fd 216px,#0000e3 217px,#0000d3 218px,#0000c1 220px,#0000b4 224px,#0000ae 234px,#0000b7 242px,#0000c6 245px,#0000d0 246px,#0000e0 247px,#0001fa 248px,#002aff 249px,#006aff 250px,#00d0ff 251px,#09ff95 252px,#19ff46 253px,#1bff37 254px,#0dff87 255px,#00f9dd 256px,#00b7ff 257px,#0082ff 258px,#005fff 259px,#0043ff 260px,#001bff 262px,#0001fb 264px,#0000e3 267px,#00c 272px,#0000b9 282px,#0000a0 316px,#000092 356px,#009 378px,#0000b3 399px,#0000ab 408px,#000090 426px,#000083 455px,#000082 464px)"></i>
<i style="background:linear-gradient(90deg,#0000af 0,#0000c9 12px,#0000e7 19px,#0000f9 22px,#0006ff 23px,#0035ff 28px,#005cff 31px,#0092ff 34px,#00dcfe 37px,#00fadc 38px,#01ffb6 39px,#0bff8d 40px,#17ff52 41px,#42ff1a 42px,#8bff0c 43px,#c1ff00 44px,#f9f100 45px,#ffc200 46px,#ff3c00 49px,#ff1600 50px,#f00 51px,#b70000 53px,#a10000 54px,#970000 55px,#970000 56px,#9f0000 57px,#b30000 58px,#d50000 59px,#f00 60px,#ff1000 61px,#ff6000 63px,#ffea00 66px,#caff00 67px,#93ff0a 68px,#50ff17 69px,#19ff44 70px,#0dff86 71px,#02ffaf 72px,#00ffd6 73px,#00e1f8 74px,#00c6ff 75px,#0081ff 78px,#0051ff 81px,#0024ff 85px,#0004fe 89px,#0000f2 91px,#0000d4 98px,#0000bc 109px,#0000af 127px,#0000b4 160px,#0000c4 184px,#0000d6 193px,#0000ef 198px,#0000f7 199px,#0007ff 200px,#0020ff 202px,#0048ff 204px,#0064ff 205px,#08f 206px,#00beff 207px,#00ffd5 208px,#1dff28 210px,#1bff37 211px,#0cff8c 212px,#00d8ff 213px,#0070ff 214px,#002fff 215px,#0005ff 216px,#0000e4 217px,#0000d3 218px,#0000c1 220px,#0000b4 224px,#0000ae 234px,#0000b7 242px,#0000c6 245px,#0000d1 246px,#0000e1 247px,#0001fb 248px,#002bff 249px,#006cff 250px,#00d2ff 251px,#09ff95 252px,#18ff4a 253px,#1aff3b 254px,#0dff88 255px,#00f9dd 256px,#00b8ff 257px,#0083ff 258px,#005fff 259px,#0043ff 260px,#001bff 262px,#0002fb 264px,#0000e3 267px,#00c 272px,#0000b9 282px,#0000a0 316px,#000093 355px,#00009b 376px,#0000b4 396px,#0000ad 405px,#000091 423px,#000084 450px,#000081 464px)"></i>
<i style="background:linear-gradient(90deg,#0000ab 0,#0000c4 13px,#0000e3 21px,#0001fb 25px,#0019ff 28px,#0045ff 32px,#0072ff 35px,#09f 37px,#00cbff 39px,#00e7f2 40px,#00ffce 41px,#05ffa7 42px,#10ff7c 43px,#1cff31 44px,#65ff14 45px,#a0ff06 46px,#d7ff00 47px,#ffde00 48px,#ff5400 51px,#ff0600 53px,#f60000 54px,#c90000 55px,#ab0000 56px,#9b0000 57px,#970000 58px,#900 59px,#a70000 60px,#c10000 61px,#eb0000 62px,#f00 63px,#f20 64px,#ff7600 66px,#ffd300 68px,#e4ff00 69px,#acff03 70px,#7f1 71px,#20ff1e 72px,#13ff72 73px,#00ffc5 75px,#00eeea 76px,#00d1ff 77px,#0089ff 80px,#0057ff 83px,#0027ff 87px,#0007ff 91px,#0000fa 92px,#0000d9 99px,#0000c0 109px,#0000b1 125px,#0000b2 154px,#0000c1 182px,#0000d3 192px,#0000e9 197px,#0000f8 199px,#0007ff 200px,#0021ff 202px,#0049ff 204px,#0065ff 205px,#008aff 206px,#00c1ff 207px,#00ffd2 208px,#1dff27 210px,#1bff35 211px,#0dff89 212px,#00dcfe 213px,#0073ff 214px,#0031ff 215px,#0006ff 216px,#0000e5 217px,#0000d4 218px,#0000c2 220px,#0000b4 224px,#0000ae 234px,#0000b7 242px,#0000c6 245px,#0000d1 246px,#0000e2 247px,#0002fc 248px,#002cff 249px,#006eff 250px,#00d4ff 251px,#09ff95 252px,#18ff4d 253px,#1aff3f 254px,#0dff89 255px,#00f9dd 256px,#00b9ff 257px,#0083ff 258px,#0060ff 259px,#04f 260px,#001cff 262px,#0002fc 264px,#0000e3 267px,#00c 272px,#0000b9 282px,#0000a0 316px,#000094 354px,#00009c 374px,#0000b6 394px,#0000ad 403px,#000091 421px,#000084 449px,#000081 464px)"></i>
<i style="background:linear-gradient(90deg,#0000a7 0,#0000bf 14px,#0000db 22px,#0000f6 27px,#0004fe 28px,#0031ff 33px,#0058ff 36px,#008cff 39px,#00d5ff 42px,#00f3e4 43px,#00ffbf 44px,#09ff96 45px,#15ff63 46px,#30ff1c 47px,#81ff0f 48px,#b7ff00 49px,#f0f800 50px,#ffc900 51px,#ff4100 54px,#ff1a00 55px,#f00 56px,#df0000 57px,#b90000 58px,#a20000 59px,#980000 60px,#970000 61px,#9f0000 62px,#b30000 63px,#d50000 64px,#f00 65px,#f10 66px,#ff6200 68px,#feed00 71px,#c5ff00 72px,#8eff0b 73px,#46ff19 74px,#18ff4e 75px,#0cff8c 76px,#01ffb5 77px,#00fbdb 78px,#00dcfe 79px,#0091ff 82px,#005cff 85px,#002bff 89px,#0003fc 94px,#0000de 100px,#0000c4 109px,#0000b4 123px,#0000b1 148px,#0000c0 180px,#0000d1 191px,#0000e4 196px,#0000f8 199px,#0008ff 200px,#02f 202px,#004bff 204px,#0067ff 205px,#008dff 206px,#00c3ff 207px,#00ffcf 208px,#1eff25 210px,#1cff33 211px,#0dff86 212px,#00e0f9 213px,#0076ff 214px,#03f 215px,#0007ff 216px,#0000e6 217px,#0000d5 218px,#0000c2 220px,#0000b4 224px,#0000ae 234px,#0000b7 242px,#0000c6 245px,#0000d1 246px,#0000e2 247px,#0003fd 248px,#002eff 249px,#0070ff 250px,#00d6ff 251px,#09ff95 252px,#17ff51 253px,#19ff44 254px,#0cff8a 255px,#00f9dc 256px,#00b9ff 257px,#0084ff 258px,#0060ff 259px,#04f 260px,#001cff 262px,#0002fc 264px,#0000e3 267px,#00c 272px,#0000b9 282px,#0000a0 316px,#000095 352px,#00009c 371px,#0000b7 391px,#0000b1 399px,#000093 417px,#000085 442px,#000081 464px)"></i>
<i style="background:linear-gradient(90deg,#0000a4 0,#00b 15px,#0000d8 24px,#0000f9 30px,#0006ff 31px,#002aff 35px,#005dff 39px,#0094ff 42px,#00c5ff 44px,#00e1f9 45px,#00ffd5 46px,#03ffae 47px,#0eff84 48px,#1aff3f 49px,#58ff16 50px,#99ff08 51px,#d0ff00 52px,#ffe300 53px,#ff5800 56px,#ff0900 58px,#f90000 59px,#cb0000 60px,#ac0000 61px,#9c0000 62px,#970000 63px,#9a0000 64px,#a80000 65px,#c30000 66px,#e00 67px,#ff0100 68px,#ff2500 69px,#ff7b00 71px,#ffd900 73px,#dcff00 74px,#a4ff05 75px,#6cff13 76px,#1dff2c 77px,#10ff7a 78px,#05ffa5 79px,#00ffcd 80px,#00e8f1 81px,#00cbff 82px,#0084ff 85px,#0053ff 88px,#0025ff 92px,#0005ff 96px,#0000f2 98px,#0000d4 105px,#0000bd 116px,#0000b2 134px,#0000b8 167px,#0000c7 186px,#0000db 194px,#0000f1 198px,#0000f9 199px,#0009ff 200px,#0023ff 202px,#004cff 204px,#0069ff 205px,#008fff 206px,#00c6ff 207px,#0fc 208px,#1eff23 210px,#1cff30 211px,#0eff82 212px,#00e5f4 213px,#0079ff 214px,#0035ff 215px,#0009ff 216px,#0000e7 217px,#0000d5 218px,#0000c2 220px,#0000b4 224px,#0000ae 234px,#0000b7 242px,#0000c7 245px,#0000d2 246px,#0000e3 247px,#0004fe 248px,#002fff 249px,#0072ff 250px,#00d8ff 251px,#09ff95 252px,#17ff54 253px,#19ff48 254px,#0cff8c 255px,#00f9dc 256px,#00baff 257px,#0085ff 258px,#0061ff 259px,#0045ff 260px,#001cff 262px,#0002fc 264px,#0000e3 267px,#00c 272px,#0000b9 282px,#0000a1 315px,#000096 351px,#00009e 370px,#0000b8 389px,#0000b1 397px,#000093 415px,#000085 441px,#000081 464px)"></i>
<i style="background:linear-gradient(90deg,#0000a2 0,#0000b7 16px,#0000d5 26px,#0000f4 32px,#0001fb 33px,#01f 35px,#0039ff 39px,#0063ff 42px,#0087ff 44px,#00d0ff 47px,#00eeea 48px,#00ffc5 49px,#08ff9c 50px,#13ff6d 51px,#26ff1e 52px,#7cff10 53px,#b2ff02 54px,#ebfc00 55px,#ffcd00 56px,#ff4200 59px,#ff1a00 60px,#f00 61px,#e00000 62px,#ba0000 63px,#a20000 64px,#900 65px,#980000 66px,#a00000 67px,#b60000 68px,#f00 70px,#ff1500 71px,#ff6800 73px,#ffc600 75px,#f3f600 76px,#baff00 77px,#83ff0e 78px,#33ff1c 79px,#15ff62 80px,#09ff96 81px,#00ffbf 82px,#00f2e5 83px,#00d5ff 84px,#008bff 87px,#0057ff 90px,#0027ff 94px,#0007ff 98px,#0000fa 99px,#0000d9 106px,#0000c1 116px,#0000b3 132px,#0000b6 162px,#0000c4 184px,#0000d7 193px,#0000f2 198px,#0000fa 199px,#000aff 200px,#0025ff 202px,#004eff 204px,#006bff 205px,#0092ff 206px,#00c9ff 207px,#00ffc9 208px,#1eff21 210px,#1dff2c 211px,#0fff7e 212px,#00e9ef 213px,#007dff 214px,#0038ff 215px,#000bff 216px,#0000e8 217px,#0000d6 218px,#0000c3 220px,#0000b4 224px,#0000ae 234px,#0000b7 242px,#0000c7 245px,#0000d2 246px,#0000e3 247px,#0005ff 248px,#0031ff 249px,#0074ff 250px,#00daff 251px,#0aff94 252px,#16ff58 253px,#18ff4d 254px,#0bff8d 255px,#00f9dd 256px,#00baff 257px,#0086ff 258px,#0062ff 259px,#0045ff 260px,#001dff 262px,#0002fc 264px,#0000e3 267px,#00c 272px,#0000b8 282px,#0000a1 315px,#000097 350px,#0000a0 368px,#0000ba 386px,#0000b3 394px,#000094 412px,#000085 436px,#000080 464px)"></i>
<i style="background:linear-gradient(90deg,#00009f 0,#0000b4 17px,#0000ce 27px,#0000f0 34px,#0004fe 36px,#0027ff 40px,#005aff 44px,#0090ff 47px,#00c1ff 49px,#00ddfd 50px,#00fcd9 51px,#02ffb3 52px,#0dff88 53px,#19ff46 54px,#51ff17 55px,#96ff09 56px,#ceff00 57px,#ffe500 58px,#ff5700 61px,#ff2d00 62px,#ff0800 63px,#f70000 64px,#c90000 65px,#ab0000 66px,#9c0000 67px,#980000 68px,#9c0000 69px,#ab0000 70px,#c90000 71px,#f60000 72px,#ff0700 73px,#ff2d00 74px,#ff8500 76px,#ffe400 78px,#ceff00 79px,#96ff09 80px,#53ff17 81px,#19ff45 82px,#0dff87 83px,#02ffb2 84px,#00fdd9 85px,#00defc 86px,#00a8ff 88px,#007dff 90px,#004dff 93px,#0021ff 97px,#0002fc 101px,#0000de 107px,#0000c5 116px,#0000b6 130px,#0000b5 156px,#0000c2 182px,#0000d5 192px,#0000eb 197px,#0001fb 199px,#0017ff 201px,#0038ff 203px,#0050ff 204px,#006dff 205px,#0094ff 206px,#00cbff 207px,#00ffc6 208px,#12ff75 209px,#1fff1f 210px,#1dff29 211px,#10ff7b 212px,#00eee9 213px,#0081ff 214px,#003aff 215px,#000cff 216px,#0000e9 217px,#0000d7 218px,#0000c3 220px,#0000b5 224px,#0000ae 234px,#0000b7 242px,#0000c7 245px,#0000d3 246px,#0000e4 247px,#0006ff 248px,#0032ff 249px,#0076ff 250px,#00dcfe 251px,#0aff94 252px,#16ff5b 253px,#17ff52 254px,#0bff8f 255px,#00f9dd 256px,#0bf 257px,#0086ff 258px,#0062ff 259px,#0046ff 260px,#001dff 262px,#0003fd 264px,#0000e3 267px,#00c 272px,#0000b9 282px,#0000a1 315px,#000098 348px,#0000a0 365px,#0000bc 384px,#0000b4 392px,#000095 409px,#000086 432px,#000080 464px)"></i>
<i style="background:linear-gradient(90deg,#00009d 0,#0000b1 18px,#00c 29px,#0000ec 36px,#0000f9 38px,#0007ff 39px,#002bff 43px,#0051ff 46px,#0085ff 49px,#00ceff 52px,#00ebed 53px,#00ffc7 54px,#13ff71 56px,#23ff1e 57px,#7bff10 58px,#b2ff02 59px,#ecfc00 60px,#fc0 61px,#ff4000 64px,#ff1800 65px,#f00 66px,#b70000 68px,#a10000 69px,#900 70px,#9a0000 71px,#a40000 72px,#bc0000 73px,#e40000 74px,#f00 75px,#ff1e00 76px,#ff7400 78px,#ffd400 80px,#e2ff00 81px,#a8ff04 82px,#71ff13 83px,#1dff29 84px,#11ff79 85px,#05ffa5 86px,#00ffce 87px,#00e6f2 88px,#00c9ff 89px,#0082ff 92px,#0051ff 95px,#0023ff 99px,#0003fd 103px,#0000ec 106px,#0000cf 114px,#00b 126px,#0000b4 146px,#0000be 177px,#0000cd 189px,#0000e1 195px,#0002fc 199px,#0018ff 201px,#003aff 203px,#0051ff 204px,#006fff 205px,#0097ff 206px,#00ceff 207px,#00ffc3 208px,#21ff1e 210px,#1eff25 211px,#1f7 212px,#00f3e3 213px,#0085ff 214px,#003dff 215px,#000eff 216px,#0000ea 217px,#0000d8 218px,#0000c3 220px,#0000b5 224px,#0000ae 234px,#0000b7 242px,#0000c8 245px,#0000d3 246px,#0000e5 247px,#0007ff 248px,#0034ff 249px,#0078ff 250px,#00dffb 251px,#0aff94 252px,#15ff5f 253px,#16ff57 254px,#0aff91 255px,#00f9dd 256px,#0bf 257px,#0087ff 258px,#0063ff 259px,#0047ff 260px,#001eff 262px,#0003fd 264px,#0000e3 267px,#00c 272px,#0000b9 282px,#0000a2 314px,#009 347px,#0000a3 364px,#0000bd 381px,#0000b9 388px,#000096 406px,#000087 428px,#000080 464px)"></i>
<i style="background:linear-gradient(90deg,#00009c 0,#0000ae 19px,#0000c6 30px,#0000e3 37px,#0002fc 41px,#0025ff 45px,#0058ff 49px,#008fff 52px,#00bfff 54px,#00dcfe 55px,#00fbdb 56px,#01ffb3 57px,#0dff88 58px,#19ff45 59px,#54ff17 60px,#98ff09 61px,#d1ff00 62px,#ffe200 63px,#ff5300 66px,#ff2800 67px,#ff0300 68px,#f00000 69px,#c40000 70px,#a90000 71px,#9c0000 72px,#900 73px,#9f0000 74px,#b20000 75px,#d40000 76px,#f00 77px,#ff1200 78px,#ff6500 80px,#ffc500 82px,#f4f500 83px,#b9ff00 84px,#81ff0f 85px,#2eff1c 86px,#14ff68 87px,#08ff9a 88px,#00ffc3 89px,#00eee9 90px,#00d0ff 91px,#009dff 93px,#0074ff 95px,#0046ff 98px,#001bff 102px,#0005ff 105px,#0000f2 107px,#0000d5 114px,#0000bf 125px,#0000b5 143px,#0000bc 174px,#00c 188px,#0000e1 195px,#0003fc 199px,#0019ff 201px,#003cff 203px,#0053ff 204px,#0071ff 205px,#009aff 206px,#00d1ff 207px,#00ffc0 208px,#24ff1e 210px,#1eff22 211px,#12ff72 212px,#00f9dd 213px,#008aff 214px,#0040ff 215px,#0010ff 216px,#0000ec 217px,#0000d8 218px,#0000c4 220px,#0000b5 224px,#0000ae 234px,#0000b7 242px,#0000c8 245px,#0000d3 246px,#0000e6 247px,#0009ff 248px,#0036ff 249px,#007bff 250px,#00e1f8 251px,#0aff94 252px,#15ff63 253px,#16ff5c 254px,#0aff93 255px,#00f9dd 256px,#00bcff 257px,#08f 258px,#0064ff 259px,#0047ff 260px,#001eff 262px,#0003fd 264px,#0000e3 267px,#00c 272px,#0000b9 282px,#0000a2 314px,#00009a 346px,#0000a4 362px,#0000c0 379px,#0000ba 386px,#000098 403px,#008 424px,#000080 464px)"></i>
<i style="background:linear-gradient(90deg,#00009a 0,#0000ad 21px,#0000c4 32px,#0000e5 40px,#0000f8 43px,#0005ff 44px,#002aff 48px,#0050ff 51px,#0084ff 54px,#00b2ff 56px,#00ceff 57px,#00ecec 58px,#00ffc6 59px,#07ff9d 60px,#13ff6d 61px,#29ff1d 62px,#7fff0f 63px,#b7ff00 64px,#f2f600 65px,#ffc600 66px,#ff6500 68px,#f10 70px,#f00 71px,#d40000 72px,#b20000 73px,#a00000 74px,#9a0000 75px,#9d0000 76px,#ab0000 77px,#c80000 78px,#f50000 79px,#ff0700 80px,#ff2d00 81px,#ff8700 83px,#ffe800 85px,#c8ff00 86px,#8fff0b 87px,#45ff19 88px,#17ff53 89px,#0bff90 90px,#00ffba 91px,#00f5e1 92px,#00d6ff 93px,#00a1ff 95px,#07f 97px,#0048ff 100px,#001dff 104px,#0006ff 107px,#0000f9 108px,#0000d9 115px,#0000c2 125px,#0000b6 141px,#00b 170px,#0000c8 186px,#0000d9 193px,#0000ed 197px,#0004fd 199px,#001bff 201px,#003dff 203px,#05f 204px,#0073ff 205px,#009dff 206px,#00d4ff 207px,#00ffbd 208px,#27ff1d 210px,#20ff1e 211px,#14ff6a 212px,#00fed7 213px,#008fff 214px,#04f 215px,#0012ff 216px,#0000ed 217px,#0000d9 218px,#0000c4 220px,#0000b5 224px,#0000ae 234px,#0000b8 242px,#0000c8 245px,#0000d4 246px,#0000e6 247px,#000aff 248px,#0038ff 249px,#007dff 250px,#00e4f5 251px,#0aff94 252px,#14ff67 253px,#15ff60 254px,#0aff95 255px,#00f8de 256px,#00bcff 257px,#08f 258px,#0064ff 259px,#0048ff 260px,#001fff 262px,#0004fe 264px,#0000e4 267px,#0000cd 272px,#0000b9 282px,#0000a3 313px,#00009b 344px,#0000a6 360px,#0000c2 377px,#00b 384px,#000098 401px,#008 422px,#000080 464px)"></i>
<i style="background:linear-gradient(90deg,#009 0,#0000ab 22px,#0000c3 34px,#0000e2 42px,#0001fb 46px,#01f 48px,#003bff 52px,#0068ff 55px,#008fff 57px,#00c0ff 59px,#00ddfd 60px,#00fdd8 61px,#02ffb0 62px,#0eff84 63px,#1aff3b 64px,#60ff15 65px,#a0ff07 66px,#daff00 67px,#ffd900 68px,#ff4900 71px,#ff2000 72px,#f00 73px,#e40000 74px,#bd0000 75px,#a50000 76px,#9c0000 77px,#9c0000 78px,#a60000 79px,#bf0000 80px,#e70000 81px,#f00 82px,#f20 83px,#ff7b00 85px,#ffdc00 87px,#d6ff00 88px,#9cff08 89px,#5aff16 90px,#1aff40 91px,#0dff86 92px,#02ffb2 93px,#00fbda 94px,#00dcfe 95px,#00a5ff 97px,#007aff 99px,#004aff 102px,#001eff 106px,#0006ff 109px,#0000fa 110px,#00d 116px,#0000c6 125px,#0000b8 140px,#0000ba 167px,#0000c7 185px,#0000da 193px,#00e 197px,#0005fe 199px,#001cff 201px,#003fff 203px,#0057ff 204px,#0075ff 205px,#00a0ff 206px,#00d7ff 207px,#00ffba 208px,#14ff68 209px,#2aff1d 210px,#24ff1e 211px,#15ff62 212px,#00ffd0 213px,#0095ff 214px,#0047ff 215px,#0015ff 216px,#0000ef 217px,#0000da 218px,#0000c5 220px,#0000b5 224px,#0000ae 234px,#0000b8 242px,#0000c9 245px,#0000d5 246px,#0000e7 247px,#000bff 248px,#003aff 249px,#0080ff 250px,#00e6f3 251px,#0aff94 252px,#14ff6b 253px,#14ff65 254px,#09ff97 255px,#00f8de 256px,#00bcff 257px,#0089ff 258px,#0065ff 259px,#0048ff 260px,#001fff 262px,#0004fe 264px,#0000eb 266px,#0000d4 270px,#0000be 278px,#0000ab 298px,#00009c 336px,#0000a2 354px,#00b 368px,#0000c5 376px,#0000b8 384px,#00009a 398px,#000089 417px,#000080 464px)"></i>
<i style="background:linear-gradient(90deg,#000097 0,#0000a8 23px,#0000c1 36px,#0000df 44px,#0000f7 48px,#0005ff 49px,#002aff 53px,#0050ff 56px,#0084ff 59px,#00b4ff 61px,#00d0ff 62px,#00efe8 63px,#00ffc1 64px,#09ff97 65px,#15ff5f 66px,#39ff1b 67px,#89ff0c 68px,#c3ff00 69px,#ffec00 70px,#ff5900 73px,#ff2e00 74px,#ff0700 75px,#f50000 76px,#c80000 77px,#ac0000 78px,#9e0000 79px,#9c0000 80px,#a30000 81px,#b80000 82px,#f00 84px,#ff1900 85px,#ff7000 87px,#ffd200 89px,#e2ff00 90px,#a7ff05 91px,#6bff13 92px,#1cff31 93px,#0fff7f 94px,#03ffac 95px,#00ffd4 96px,#00e0f9 97px,#00c3ff 98px,#0091ff 100px,#006aff 102px,#003fff 105px,#0016ff 109px,#0007ff 111px,#0000fa 112px,#00d 118px,#0000c6 127px,#0000b9 142px,#00b 169px,#0000c9 186px,#0000da 193px,#0000ef 197px,#0000f6 198px,#0006ff 199px,#001dff 201px,#0041ff 203px,#0059ff 204px,#0078ff 205px,#00a3ff 206px,#00daff 207px,#01ffb7 208px,#15ff64 209px,#2dff1d 210px,#28ff1d 211px,#16ff5a 212px,#00ffc9 213px,#009bff 214px,#004aff 215px,#0017ff 216px,#0000f0 217px,#0000db 218px,#0000c5 220px,#0000b5 224px,#0000ae 234px,#0000b5 241px,#0000c1 244px,#0000d5 246px,#0000e8 247px,#000dff 248px,#003cff 249px,#0083ff 250px,#00e9f0 251px,#0aff94 252px,#13ff6f 253px,#14ff6a 254px,#08ff99 255px,#00f7df 256px,#00bdff 257px,#008aff 258px,#0065ff 259px,#0049ff 260px,#0020ff 262px,#0004fe 264px,#0000eb 266px,#0000d4 270px,#0000bf 278px,#0000ab 298px,#00009d 335px,#0000a4 352px,#00b 365px,#0000c8 373px,#0000bf 380px,#00009c 395px,#00008a 413px,#000080 463px,#000080 464px)"></i>
<i style="background:linear-gradient(90deg,#000096 0,#0000a8 25px,#0000bf 38px,#0000dc 46px,#0001fb 51px,#01f 53px,#003cff 57px,#0069ff 60px,#0091ff 62px,#00c4ff 64px,#00e2f7 65px,#00ffd1 66px,#04ffa8 67px,#10ff7a 68px,#1dff27 69px,#75ff12 70px,#aeff03 71px,#eafd00 72px,#ffcb00 73px,#ff6900 75px,#ff3b00 76px,#ff1300 77px,#f00 78px,#d50000 79px,#b30000 80px,#a20000 81px,#9e0000 82px,#a20000 83px,#b30000 84px,#d40000 85px,#f00 86px,#ff1200 87px,#ff3a00 88px,#ff9800 90px,#ffca00 91px,#ecfc00 92px,#b0ff02 93px,#7f1 94px,#1eff24 95px,#11ff79 96px,#05ffa6 97px,#00ffd0 98px,#00e3f6 99px,#00c5ff 100px,#0092ff 102px,#006bff 104px,#003fff 107px,#0016ff 111px,#0007ff 113px,#0001fb 114px,#00d 120px,#0000c7 129px,#0000b9 144px,#0000bc 171px,#0000cb 187px,#0000df 194px,#0000f7 198px,#0007ff 199px,#001eff 201px,#0042ff 203px,#005bff 204px,#0079ff 205px,#00a5ff 206px,#00ddfd 207px,#01ffb5 208px,#15ff61 209px,#30ff1c 210px,#2dff1d 211px,#17ff51 212px,#00ffc1 213px,#00a2ff 214px,#004fff 215px,#001aff 216px,#0000f2 217px,#0000dc 218px,#0000c6 220px,#0000b8 223px,#0000ae 232px,#0000b5 241px,#0000c1 244px,#0000d6 246px,#0000e9 247px,#000fff 248px,#003fff 249px,#0087ff 250px,#00eceb 251px,#0aff93 252px,#12ff73 253px,#13ff70 254px,#08ff9c 255px,#00f6e0 256px,#00bcff 257px,#008aff 258px,#06f 259px,#0049ff 260px,#0020ff 262px,#0005ff 264px,#0000ec 266px,#0000d4 270px,#0000bf 278px,#0000ac 297px,#00009e 333px,#0000a5 350px,#0000be 363px,#0000cb 371px,#0000c1 378px,#00009e 392px,#00008c 409px,#000081 453px,#000080 464px)"></i>
<i style="background:linear-gradient(90deg,#000095 0,#0000a6 26px,#00b 39px,#0000d5 47px,#0000f7 53px,#0005ff 54px,#002aff 58px,#0052ff 61px,#08f 64px,#00b9ff 66px,#00d6ff 67px,#00f6e0 68px,#00ffb8 69px,#0cff8b 70px,#19ff47 71px,#55ff17 72px,#9bff08 73px,#d6ff00 74px,#ffdb00 75px,#ff4800 78px,#ff1e00 79px,#f00 80px,#e10000 81px,#bc0000 82px,#a60000 83px,#a00000 84px,#a20000 85px,#b00000 86px,#ce0000 87px,#fc0000 88px,#ff0c00 89px,#ff3400 90px,#ff9100 92px,#ffc400 93px,#f3f600 94px,#b6ff01 95px,#7cff10 96px,#22ff1e 97px,#12ff75 98px,#06ffa3 99px,#00ffcd 100px,#00e5f4 101px,#00c7ff 102px,#0093ff 104px,#006bff 106px,#003fff 109px,#0016ff 113px,#0007ff 115px,#0001fa 116px,#00d 122px,#0000c7 131px,#0000ba 146px,#0000bd 172px,#0000cb 187px,#0000df 194px,#0000f8 198px,#0007ff 199px,#001fff 201px,#04f 203px,#005cff 204px,#007bff 205px,#00a7ff 206px,#00defc 207px,#01ffb3 208px,#15ff60 209px,#33ff1c 210px,#32ff1c 211px,#19ff45 212px,#01ffb7 213px,#00abff 214px,#05f 215px,#001eff 216px,#0000f4 217px,#0000de 218px,#0000c6 220px,#0000b8 223px,#0000ae 232px,#0000b5 241px,#0000c2 244px,#0000d7 246px,#0000eb 247px,#01f 248px,#0043ff 249px,#008dff 250px,#00f1e6 251px,#0aff92 252px,#12ff75 253px,#12ff74 254px,#07ffa0 255px,#00f4e3 256px,#0bf 257px,#0089ff 258px,#0065ff 259px,#0049ff 260px,#0020ff 262px,#0005ff 264px,#0000ec 266px,#0000d4 270px,#0000bf 278px,#0000ac 297px,#00009f 332px,#0000a6 348px,#0000be 360px,#0000cd 368px,#0000c8 374px,#00009f 390px,#00008d 406px,#000081 447px,#00007f 464px)"></i>
<i style="background:linear-gradient(90deg,#000094 0,#0000a4 27px,#0000ba 41px,#0000d7 50px,#0001fb 56px,#0012ff 58px,#003dff 62px,#006cff 65px,#0096ff 67px,#00cbff 69px,#00ebed 70px,#00ffc6 71px,#08ff9a 72px,#15ff64 73px,#37ff1b 74px,#89ff0c 75px,#c5ff00 76px,#ffe900 77px,#ff5400 80px,#ff2800 81px,#ff0200 82px,#e00 83px,#c40000 84px,#ab0000 85px,#a20000 86px,#a30000 87px,#ae0000 88px,#ca0000 89px,#f60000 90px,#ff0800 91px,#ff2f00 92px,#ff8d00 94px,#ffbf00 95px,#f8f200 96px,#bf0 97px,#80ff0f 98px,#27ff1d 99px,#12ff72 100px,#06ffa1 101px,#0fc 102px,#00e6f3 103px,#00c7ff 104px,#0093ff 106px,#006bff 108px,#003fff 111px,#0016ff 115px,#0007ff 117px,#0000fa 118px,#00d 124px,#0000c7 133px,#00b 148px,#0000be 173px,#00c 187px,#0000e0 194px,#0000f9 198px,#0008ff 199px,#0020ff 201px,#04f 203px,#005dff 204px,#007cff 205px,#00a8ff 206px,#00dffb 207px,#01ffb3 208px,#15ff61 209px,#35ff1b 210px,#37ff1b 211px,#1bff39 212px,#04ffaa 213px,#00b7ff 214px,#005cff 215px,#02f 216px,#0000f7 217px,#0000e0 218px,#0000d1 219px,#0000c0 221px,#0000b3 226px,#0000af 236px,#0000b8 242px,#0000c2 244px,#0000d8 246px,#0000ed 247px,#0015ff 248px,#0048ff 249px,#0095ff 250px,#00f8df 251px,#0bff90 252px,#1f7 253px,#11ff78 254px,#05ffa4 255px,#00f1e7 256px,#00b9ff 257px,#08f 258px,#0065ff 259px,#0049ff 260px,#0020ff 262px,#0005ff 264px,#0000ec 266px,#0000d4 270px,#0000bf 278px,#0000ac 297px,#0000a0 331px,#0000a8 346px,#0000bd 357px,#0000d1 366px,#0000cb 372px,#0000a1 387px,#00008e 402px,#000082 438px,#00007f 464px)"></i>
<i style="background:linear-gradient(90deg,#000093 0,#0000a3 29px,#0000b8 43px,#0000d5 52px,#0000f8 58px,#0005ff 59px,#002cff 63px,#05f 66px,#008eff 69px,#00c2ff 71px,#00e0f9 72px,#00ffd3 73px,#04ffa8 74px,#11ff79 75px,#1eff22 76px,#7aff11 77px,#b5ff01 78px,#f2f600 79px,#ffc300 80px,#ff5f00 82px,#ff3200 83px,#ff0a00 84px,#f90000 85px,#c00 86px,#b10000 87px,#a50000 88px,#a50000 89px,#af0000 90px,#c80000 91px,#f30000 92px,#ff0600 93px,#ff2c00 94px,#ff8a00 96px,#faf000 98px,#bcff00 99px,#81ff0f 100px,#28ff1d 101px,#12ff72 102px,#06ffa2 103px,#00ffcd 104px,#00e5f4 105px,#00c6ff 106px,#0091ff 108px,#006aff 110px,#003dff 113px,#0015ff 117px,#0006ff 119px,#0000f9 120px,#00d 126px,#0000c7 135px,#00b 150px,#0000bf 175px,#0000ce 188px,#0000e0 194px,#0000f9 198px,#0009ff 199px,#0021ff 201px,#0045ff 203px,#005eff 204px,#007cff 205px,#00a9ff 206px,#00dffb 207px,#01ffb4 208px,#15ff64 209px,#37ff1b 210px,#3cff1a 211px,#1dff2c 212px,#07ff9d 213px,#00c3ff 214px,#0064ff 215px,#0028ff 216px,#0001fb 217px,#0000e2 218px,#0000d2 219px,#0000c1 221px,#0000b4 225px,#0000af 235px,#0000b9 242px,#0000c3 244px,#0000da 246px,#0000f0 247px,#0019ff 248px,#004eff 249px,#009eff 250px,#00ffd7 251px,#0bff8e 252px,#11ff79 253px,#10ff7c 254px,#04ffaa 255px,#00edeb 256px,#00b6ff 257px,#0086ff 258px,#0064ff 259px,#0048ff 260px,#001fff 262px,#0004fe 264px,#0000eb 266px,#0000d4 270px,#0000bf 278px,#0000ac 297px,#0000a1 329px,#0000a9 344px,#0000c0 355px,#0000d4 363px,#0000d3 368px,#0000a0 386px,#00008e 401px,#000082 438px,#00007f 464px)"></i>
<i style="background:linear-gradient(90deg,#000093 0,#0000a2 30px,#0000b7 45px,#0000d3 54px,#0000f4 60px,#0002fc 61px,#0028ff 65px,#004fff 68px,#0086ff 71px,#00b9ff 73px,#00d7ff 74px,#00f8de 75px,#01ffb4 76px,#0dff86 77px,#1bff3a 78px,#66ff14 79px,#a6ff05 80px,#e4ff00 81px,#ffce00 82px,#ff6900 84px,#ff3a00 85px,#f10 86px,#f00 87px,#d40000 88px,#b60000 89px,#a90000 90px,#a70000 91px,#b00000 92px,#c80000 93px,#f20000 94px,#ff0500 95px,#ff2c00 96px,#ff8a00 98px,#ffbd00 99px,#faf100 100px,#bf0 101px,#7fff0f 102px,#24ff1e 103px,#12ff75 104px,#05ffa4 105px,#00ffd0 106px,#00e2f7 107px,#00c3ff 108px,#008fff 110px,#0067ff 112px,#003cff 115px,#0013ff 119px,#0005ff 121px,#0000f2 123px,#0000d6 130px,#0000c2 141px,#00b 160px,#0000c4 181px,#0000d6 191px,#0000eb 196px,#0000fa 198px,#0009ff 199px,#02f 201px,#0046ff 203px,#005eff 204px,#007dff 205px,#00a9ff 206px,#00dffb 207px,#01ffb5 208px,#14ff67 209px,#38ff1b 210px,#42ff19 211px,#1fff1f 212px,#0bff8f 213px,#00d2ff 214px,#006eff 215px,#002eff 216px,#0005ff 217px,#0000e5 218px,#0000d4 219px,#0000c2 221px,#0000b5 225px,#0000af 235px,#0000b9 242px,#0000c4 244px,#0000cd 245px,#0000dc 246px,#0000f3 247px,#001dff 248px,#05f 249px,#00a8ff 250px,#00ffce 251px,#0cff8d 252px,#10ff7c 253px,#0fff81 254px,#02ffb0 255px,#00e8f0 256px,#00b3ff 257px,#0083ff 258px,#0062ff 259px,#0047ff 260px,#001fff 262px,#0004fe 264px,#0000eb 266px,#0000d0 271px,#00b 280px,#0000a9 304px,#0000a2 331px,#0000ad 344px,#0000c9 355px,#0000d9 362px,#0000d5 367px,#0000a6 382px,#000092 395px,#000084 424px,#00007f 464px)"></i>
<i style="background:linear-gradient(90deg,#000092 0,#0000a1 32px,#0000b6 47px,#0000d1 56px,#0000f2 62px,#0000f9 63px,#0007ff 64px,#002fff 68px,#005aff 71px,#0080ff 73px,#00b1ff 75px,#00cfff 76px,#00efe8 77px,#00ffbf 78px,#0aff91 79px,#18ff4f 80px,#51ff17 81px,#9aff08 82px,#d8ff00 83px,#ffd800 84px,#ff7100 86px,#ff4100 87px,#ff1700 88px,#f00 89px,#bc0000 91px,#ad0000 92px,#ab0000 93px,#b30000 94px,#cb0000 95px,#f40000 96px,#ff0600 97px,#ff2d00 98px,#ff8c00 100px,#ffc000 101px,#f6f400 102px,#b7ff01 103px,#7bff10 104px,#1eff22 105px,#11ff7a 106px,#04ffa9 107px,#00ffd5 108px,#00defc 109px,#00a4ff 111px,#0076ff 113px,#0046ff 116px,#001aff 120px,#0003fd 123px,#0000e7 127px,#0000ce 135px,#0000bf 148px,#0000be 170px,#0000cb 186px,#00d 193px,#0000f2 197px,#0001fa 198px,#0015ff 200px,#0032ff 202px,#005fff 204px,#007dff 205px,#00a9ff 206px,#00defc 207px,#01ffb6 208px,#14ff6a 209px,#39ff1b 210px,#49ff18 211px,#2dff1d 212px,#0fff7f 213px,#00e3f7 214px,#0079ff 215px,#0036ff 216px,#000aff 217px,#0000e8 218px,#0000d6 219px,#0000c3 221px,#0000b5 225px,#0000af 235px,#0000b6 241px,#0000c5 244px,#0000ce 245px,#0000de 246px,#0000f6 247px,#0023ff 248px,#005dff 249px,#00b3ff 250px,#00ffc5 251px,#0cff8c 252px,#0fff7e 253px,#0dff86 254px,#01ffb7 255px,#00e3f6 256px,#00afff 257px,#0081ff 258px,#0060ff 259px,#0030ff 261px,#0010ff 263px,#0004fe 264px,#0000e4 267px,#0000cd 272px,#0000b9 282px,#0000a6 310px,#0000a5 333px,#0000b2 344px,#00d 359px,#0000dc 364px,#0000a5 381px,#000090 395px,#000083 427px,#00007f 464px)"></i>
<i style="background:linear-gradient(90deg,#000091 0,#0000a0 33px,#0000b5 49px,#0000cf 58px,#0000ef 64px,#0004fe 66px,#002bff 70px,#0056ff 73px,#007aff 75px,#00abff 77px,#00c8ff 78px,#00e8f1 79px,#00ffc8 80px,#08ff9a 81px,#15ff60 82px,#3fff1a 83px,#90ff0b 84px,#ceff00 85px,#ffdf00 86px,#f70 88px,#ff4700 89px,#ff1c00 90px,#f00 91px,#c10000 93px,#b10000 94px,#af0000 95px,#b70000 96px,#cf0000 97px,#f90000 98px,#ff0900 99px,#ff3100 100px,#ff9100 102px,#ffc500 103px,#eff900 104px,#afff03 105px,#73ff12 106px,#1cff2f 107px,#0fff81 108px,#02ffb1 109px,#00fadc 110px,#00d8ff 111px,#009eff 113px,#0072ff 115px,#0043ff 118px,#0018ff 122px,#0008ff 124px,#0001fb 125px,#0000de 131px,#0000c9 140px,#0000bd 155px,#0000c2 177px,#0000d1 189px,#0000e7 195px,#0001fb 198px,#0015ff 200px,#03f 202px,#005fff 204px,#007dff 205px,#00a9ff 206px,#00defc 207px,#00ffb7 208px,#13ff6c 209px,#3bff1a 210px,#52ff17 211px,#3cff1a 212px,#14ff6b 213px,#00f5e2 214px,#0087ff 215px,#003fff 216px,#0010ff 217px,#0000ec 218px,#0000d9 219px,#0000c4 221px,#0000b5 225px,#0000af 235px,#0000b7 241px,#0000c6 244px,#0000d0 245px,#0000e0 246px,#0001fb 247px,#0029ff 248px,#06f 249px,#00bfff 250px,#00ffbd 251px,#0cff8b 252px,#0fff81 253px,#0cff8b 254px,#00ffbe 255px,#00defc 256px,#00abff 257px,#007eff 258px,#005eff 259px,#002fff 261px,#000fff 263px,#0003fd 264px,#0000e4 267px,#00c 272px,#0000b9 282px,#0000a7 309px,#0000a6 331px,#0000b3 342px,#0000d2 352px,#0000e3 358px,#0000df 363px,#0000a8 378px,#000094 390px,#000085 416px,#00007f 464px)"></i>
<i style="background:linear-gradient(90deg,#000091 0,#00009f 35px,#0000b4 51px,#0000ce 60px,#0000ed 66px,#0001fb 68px,#001dff 71px,#0042ff 74px,#0076ff 77px,#00a5ff 79px,#00c2ff 80px,#00e1f8 81px,#00ffcf 82px,#06ffa2 83px,#13ff6f 84px,#30ff1c 85px,#88ff0d 86px,#c7ff00 87px,#ffe500 88px,#ff4b00 91px,#ff2000 92px,#f00 93px,#e70000 94px,#c60000 95px,#b60000 96px,#b40000 97px,#bd0000 98px,#d60000 99px,#f00 100px,#ff0e00 101px,#ff3700 102px,#ff9800 104px,#ffcd00 105px,#e4ff00 106px,#a4ff05 107px,#5fff15 108px,#19ff43 109px,#0cff8c 110px,#0fb 111px,#00f2e5 112px,#00d0ff 113px,#0098ff 115px,#006dff 117px,#003eff 120px,#0015ff 124px,#0006ff 126px,#0000f9 127px,#00d 133px,#0000c8 142px,#0000be 157px,#0000c3 178px,#0000d2 189px,#0000e7 195px,#0002fc 198px,#0024ff 201px,#0048ff 203px,#0060ff 204px,#007eff 205px,#00a9ff 206px,#00defc 207px,#00ffb8 208px,#13ff6f 209px,#3dff1a 210px,#5bff16 211px,#4bff18 212px,#18ff4c 213px,#00ffcb 214px,#0098ff 215px,#0049ff 216px,#0017ff 217px,#0000f0 218px,#0000db 219px,#0000c5 221px,#0000b5 225px,#0000af 234px,#0000b7 241px,#0000c7 244px,#0000d2 245px,#0000e3 246px,#0005ff 247px,#0030ff 248px,#0070ff 249px,#00cbff 250px,#01ffb5 251px,#0cff8b 252px,#0eff84 253px,#0aff92 254px,#00ffc6 255px,#00d9ff 256px,#00a6ff 257px,#007bff 258px,#005cff 259px,#002dff 261px,#000eff 263px,#0003fc 264px,#0000e3 267px,#00c 272px,#0000b9 282px,#0000a7 309px,#0000a7 330px,#0000b6 341px,#0000d5 350px,#0000e8 356px,#0000e7 360px,#0000d1 366px,#0000ad 375px,#000097 386px,#000087 408px,#00007f 464px)"></i>
<i style="background:linear-gradient(90deg,#000090 0,#00009e 36px,#0000b1 52px,#00c 62px,#0000eb 68px,#0000f9 70px,#0007ff 71px,#0031ff 75px,#005fff 78px,#0087ff 80px,#00bdff 82px,#00dcfe 83px,#00ffd5 84px,#04ffa8 85px,#11ff76 86px,#26ff1e 87px,#83ff0e 88px,#c1ff00 89px,#ffe900 90px,#ff4e00 93px,#f20 94px,#f00 95px,#eb0000 96px,#cb0000 97px,#bc0000 98px,#b00 99px,#c50000 100px,#f00 102px,#ff1600 103px,#ff4000 104px,#ffa300 106px,#ffd900 107px,#d5ff00 108px,#96ff09 109px,#46ff19 110px,#16ff5c 111px,#08ff99 112px,#00ffc7 113px,#00e7f1 114px,#00c7ff 115px,#008fff 117px,#06f 119px,#003aff 122px,#01f 126px,#0003fd 128px,#0000df 134px,#0000c9 143px,#0000be 158px,#0000c4 179px,#0000d5 190px,#0000e8 195px,#0002fc 198px,#0024ff 201px,#0048ff 203px,#0061ff 204px,#007eff 205px,#00a9ff 206px,#00ddfd 207px,#00ffb9 208px,#13ff71 209px,#3eff1a 210px,#66ff14 211px,#5bff16 212px,#1cff2e 213px,#02ffb3 214px,#00acff 215px,#05f 216px,#001eff 217px,#0000f5 218px,#0000de 219px,#0000c6 221px,#0000b8 224px,#0000af 233px,#0000b7 241px,#0000c8 244px,#0000d4 245px,#0000e7 246px,#000aff 247px,#0038ff 248px,#007bff 249px,#00d7ff 250px,#03ffae 251px,#0cff8c 252px,#0dff87 253px,#08ff99 254px,#00ffce 255px,#00d3ff 256px,#00a2ff 257px,#0078ff 258px,#005aff 259px,#002cff 261px,#000dff 263px,#0002fc 264px,#0000e3 267px,#00c 272px,#0000b9 282px,#0000a8 308px,#0000a8 328px,#0000b4 338px,#0000ce 346px,#00e 354px,#00e 358px,#0000db 363px,#0000b2 372px,#00009a 382px,#00008a 400px,#00007f 454px,#00007f 464px)"></i>
<i style="background:linear-gradient(90deg,#000090 0,#00009d 37px,#0000b0 54px,#0000cb 64px,#0000e9 70px,#0000f7 72px,#0005ff 73px,#002eff 77px,#005bff 80px,#0083ff 82px,#00b9ff 84px,#00d8ff 85px,#00fcda 86px,#03ffad 87px,#10ff7b 88px,#1fff1f 89px,#7fff0f 90px,#beff00 91px,#ffeb00 92px,#ff8000 94px,#ff4f00 95px,#ff2300 96px,#f00 97px,#ef0000 98px,#d00000 99px,#c30000 100px,#c30000 101px,#cf0000 102px,#ed0000 103px,#f00 104px,#ff2100 105px,#ff4c00 106px,#ffb200 108px,#ffe800 109px,#c2ff00 110px,#83ff0e 111px,#25ff1e 112px,#1f7 113px,#04ffa9 114px,#00ffd7 115px,#00dbff 116px,#009fff 118px,#0071ff 120px,#0041ff 123px,#0016ff 127px,#0006ff 129px,#0000f9 130px,#00d 136px,#0000c9 145px,#0000bf 160px,#0000c5 180px,#0000d5 190px,#0000e8 195px,#0003fd 198px,#0024ff 201px,#0048ff 203px,#0060ff 204px,#007dff 205px,#00a7ff 206px,#00dbff 207px,#00ffbd 208px,#12ff76 209px,#3bff1a 210px,#71ff13 211px,#6bff13 212px,#31ff1c 213px,#09ff96 214px,#00c6ff 215px,#0065ff 216px,#0029ff 217px,#0002fc 218px,#0000e3 219px,#0000d3 220px,#0000c1 222px,#0000b4 226px,#0000af 235px,#0000b8 241px,#0000ca 244px,#0000d7 245px,#0000eb 246px,#0012ff 247px,#0043ff 248px,#008aff 249px,#00e7f2 250px,#05ffa7 251px,#0cff8c 252px,#0cff8a 253px,#06ffa2 254px,#00fed8 255px,#00cbff 256px,#009bff 257px,#0074ff 258px,#0056ff 259px,#002aff 261px,#000cff 263px,#0001fa 264px,#0000dc 268px,#0000c6 274px,#0000b4 287px,#0000a6 316px,#0000ac 331px,#0000c0 340px,#0000f3 352px,#0000f5 356px,#0000e2 361px,#0000b5 370px,#00009d 379px,#00008c 395px,#000080 440px,#00007f 464px)"></i>
<i style="background:linear-gradient(90deg,#00008f 0,#00009c 39px,#0000af 56px,#0000ca 66px,#0000e7 72px,#0003fd 75px,#002cff 79px,#0059ff 82px,#0080ff 84px,#00b6ff 86px,#00d6ff 87px,#00f9dc 88px,#03ffaf 89px,#10ff7d 90px,#1eff21 91px,#7eff0f 92px,#beff00 93px,#ffeb00 94px,#ff7f00 96px,#ff4e00 97px,#f20 98px,#f00 99px,#f20000 100px,#d60000 101px,#cb0000 102px,#cd0000 103px,#dc0000 104px,#fe0000 105px,#ff0900 106px,#ff2e00 107px,#ff5c00 108px,#ffc400 110px,#edfb00 111px,#abff04 112px,#68ff14 113px,#1aff3f 114px,#0cff8b 115px,#00ffbc 116px,#00efe8 117px,#00cdff 118px,#0093ff 120px,#0068ff 122px,#003aff 125px,#01f 129px,#0002fc 131px,#0000df 137px,#0000c9 146px,#0000bf 161px,#0000c5 180px,#0000d5 190px,#0000e8 195px,#0003fc 198px,#0024ff 201px,#0047ff 203px,#005eff 204px,#007bff 205px,#00a4ff 206px,#00d6ff 207px,#00ffc3 208px,#10ff7c 209px,#33ff1c 210px,#7f1 211px,#7f1 212px,#53ff17 213px,#12ff74 214px,#00e6f3 215px,#007aff 216px,#0037ff 217px,#000bff 218px,#0000e9 219px,#0000d7 220px,#0000c3 222px,#0000b5 226px,#0000b0 235px,#0000b9 241px,#0000c3 243px,#00c 244px,#0000db 245px,#0000f2 246px,#001cff 247px,#0052ff 248px,#00a0ff 249px,#00f8de 250px,#07ff9f 251px,#0bff8e 252px,#0bff8e 253px,#03ffae 254px,#00f2e4 255px,#00c1ff 256px,#0092ff 257px,#006eff 258px,#003aff 260px,#0017ff 262px,#000aff 263px,#0000f9 264px,#0000db 268px,#0000c6 274px,#0000b3 287px,#0000a7 316px,#0000ae 330px,#0000c0 338px,#0000e6 346px,#0002fc 351px,#0002fc 355px,#0000e4 360px,#0000b8 368px,#0000a0 376px,#00008d 391px,#000081 430px,#00007f 464px)"></i>
<i style="background:linear-gradient(90deg,#00008f 0,#00009b 40px,#0000af 58px,#0000c8 68px,#0000e5 74px,#0001fb 77px,#0014ff 79px,#0037ff 82px,#006aff 85px,#0098ff 87px,#00d4ff 89px,#00f8de 90px,#02ffb0 91px,#10ff7d 92px,#1eff20 93px,#80ff0f 94px,#c1ff00 95px,#ffe800 96px,#ff7c00 98px,#ff4b00 99px,#ff2100 100px,#f00 101px,#f50000 102px,#d00 103px,#d60000 104px,#da0000 105px,#f00 107px,#ff1800 108px,#ff4000 109px,#ffa400 111px,#ffdb00 112px,#d1ff00 113px,#90ff0b 114px,#38ff1b 115px,#13ff6b 116px,#06ffa3 117px,#00ffd2 118px,#00defc 119px,#009fff 121px,#0085ff 122px,#004eff 125px,#0027ff 128px,#0005ff 132px,#0000f2 134px,#0000d6 141px,#0000c5 151px,#0000c0 169px,#0000cb 185px,#0000df 193px,#0000f4 197px,#0002fc 198px,#0023ff 201px,#0045ff 203px,#0078ff 205px,#009fff 206px,#00d0ff 207px,#0fc 208px,#0dff86 209px,#25ff1e 210px,#79ff11 211px,#7fff0f 212px,#72ff12 213px,#1bff37 214px,#00ffc7 215px,#09f 216px,#0049ff 217px,#0017ff 218px,#0000f0 219px,#0000db 220px,#0000c5 222px,#0000b5 226px,#0000af 234px,#0000b6 240px,#0000c5 243px,#0000d0 244px,#0000e0 245px,#0000fa 246px,#0028ff 247px,#0064ff 248px,#00b9ff 249px,#00ffca 250px,#08ff9a 251px,#0bff90 252px,#09ff95 253px,#00ffbc 254px,#00e6f3 255px,#00b5ff 256px,#0089ff 257px,#0067ff 258px,#0036ff 260px,#0014ff 262px,#0008ff 263px,#0000f7 264px,#0000da 268px,#0000c5 274px,#0000b3 287px,#0000a7 315px,#0000af 329px,#0000c3 337px,#0000e8 344px,#0000fa 347px,#0009ff 349px,#000cff 352px,#0004fe 355px,#0000f3 357px,#0000c0 365px,#0000a6 372px,#000092 384px,#000084 412px,#00007e 464px)"></i>
<i style="background:linear-gradient(90deg,#00008e 0,#00009b 42px,#0000ae 60px,#0000c7 70px,#0000e4 76px,#0000fa 79px,#0009ff 80px,#0036ff 84px,#0068ff 87px,#0097ff 89px,#00d5ff 91px,#00f9dd 92px,#03ffae 93px,#10ff7a 94px,#24ff1e 95px,#85ff0e 96px,#c6ff00 97px,#ffe300 98px,#f70 100px,#ff4700 101px,#ff1e00 102px,#f00 103px,#f90000 104px,#e60000 105px,#e20000 106px,#ea0000 107px,#f00 108px,#ff0800 109px,#ff2b00 110px,#ff5600 111px,#ffbe00 113px,#f4f500 114px,#b1ff02 115px,#6eff13 116px,#1aff3b 117px,#0cff8b 118px,#00ffbd 119px,#00edea 120px,#00caff 121px,#008fff 123px,#0065ff 125px,#0037ff 128px,#000eff 132px,#0007ff 133px,#0000fa 134px,#00d 140px,#0000c9 149px,#0000c0 164px,#0000c7 182px,#0000d8 191px,#0000ed 196px,#0002fb 198px,#0021ff 201px,#0043ff 203px,#0074ff 205px,#0098ff 206px,#00c8ff 207px,#00ffd6 208px,#0aff91 209px,#1dff2b 210px,#7f1 211px,#87ff0d 212px,#81ff0f 213px,#40ff1a 214px,#08ff98 215px,#00bfff 216px,#0061ff 217px,#0026ff 218px,#0000fa 219px,#0000e2 220px,#0000d2 221px,#0000c1 223px,#0000b4 227px,#0000b0 235px,#00b 241px,#0000c8 243px,#0000d4 244px,#0000e7 245px,#000bff 246px,#0038ff 247px,#007aff 248px,#00d3ff 249px,#00ffb8 250px,#09ff98 251px,#0aff93 252px,#07ffa0 253px,#0fc 254px,#00d8ff 255px,#007fff 257px,#0046ff 259px,#0020ff 261px,#0005ff 263px,#0000ec 265px,#0000d5 269px,#0000bf 277px,#0000ae 295px,#0000a9 319px,#0000b4 330px,#0000ca 337px,#0000f7 344px,#0003fd 345px,#0012ff 348px,#0015ff 351px,#000aff 354px,#0003fd 355px,#0000df 359px,#0000ba 365px,#0000a2 372px,#000090 385px,#000083 418px,#00007e 464px)"></i>
<i style="background:linear-gradient(90deg,#00008e 0,#00009b 44px,#0000ad 62px,#0000c6 72px,#0000e3 78px,#0000f9 81px,#0007ff 82px,#0028ff 85px,#05f 88px,#007eff 90px,#00b5ff 92px,#00d6ff 93px,#00fcda 94px,#04ffaa 95px,#12ff75 96px,#2fff1c 97px,#8cff0c 98px,#cfff00 99px,#ffdc00 100px,#ff7000 102px,#ff4200 103px,#ff1b00 104px,#f00 105px,#f00 106px,#f20000 107px,#f20000 108px,#f00 109px,#f00 110px,#ff1c00 111px,#ff4300 112px,#ff7100 113px,#fd0 115px,#ceff00 116px,#8bff0c 117px,#2eff1c 118px,#12ff76 119px,#04ffaa 120px,#00fcda 121px,#00d6ff 122px,#0098ff 124px,#007eff 125px,#0048ff 128px,#02f 131px,#0008ff 134px,#0001fb 135px,#0000de 141px,#0000c9 150px,#0000c0 165px,#0000c8 182px,#0000d8 191px,#0000ed 196px,#0001fb 198px,#0014ff 200px,#002eff 202px,#05f 204px,#006fff 205px,#0091ff 206px,#00bfff 207px,#00f5e2 208px,#07ff9e 209px,#1aff41 210px,#6eff13 211px,#8eff0b 212px,#8cff0c 213px,#71ff13 214px,#15ff62 215px,#00ecec 216px,#007dff 217px,#0039ff 218px,#000cff 219px,#0000e9 220px,#0000d7 221px,#0000c3 223px,#0000b5 227px,#0000b0 235px,#0000b8 240px,#0000c2 242px,#0000d9 244px,#0000ef 245px,#0018ff 246px,#004cff 247px,#0096ff 248px,#00edeb 249px,#03ffac 250px,#09ff98 251px,#09ff97 252px,#03ffad 253px,#00f9de 254px,#00caff 255px,#009cff 256px,#0076ff 257px,#0040ff 259px,#001bff 261px,#0002fc 263px,#0000e3 266px,#00c 271px,#0000b9 281px,#0000a9 306px,#0000ac 323px,#0000ba 331px,#0000d3 337px,#0000f7 342px,#0006ff 343px,#001dff 347px,#001eff 350px,#000fff 353px,#0008ff 354px,#0000f9 355px,#0000ca 361px,#0000ad 367px,#000098 376px,#000089 395px,#00007e 458px,#00007e 464px)"></i>
<i style="background:linear-gradient(90deg,#00008e 0,#00009a 45px,#0000ab 63px,#0000c2 73px,#0000e2 80px,#0000f8 83px,#0007ff 84px,#0027ff 87px,#05f 90px,#007fff 92px,#00b7ff 94px,#00d9ff 95px,#00ffd5 96px,#06ffa4 97px,#14ff69 98px,#40ff1a 99px,#97ff09 100px,#daff00 101px,#ffd200 102px,#ff6800 104px,#ff3c00 105px,#ff1900 106px,#f00 107px,#f00 111px,#ff1400 112px,#ff3500 113px,#ff6000 114px,#ffc900 116px,#e6ff00 117px,#a2ff06 118px,#53ff17 119px,#16ff57 120px,#08ff9a 121px,#0fc 122px,#00e0f9 123px,#00beff 124px,#0084ff 126px,#005bff 128px,#002fff 131px,#0009ff 135px,#0002fc 136px,#0000de 142px,#0000c9 151px,#0000c1 166px,#0000c9 183px,#0000db 192px,#0000f2 197px,#0000fa 198px,#0008ff 199px,#002cff 202px,#0052ff 204px,#006bff 205px,#008aff 206px,#00b6ff 207px,#00eaee 208px,#04ffab 209px,#16ff5a 210px,#5bff16 211px,#91ff0a 212px,#95ff09 213px,#87ff0d 214px,#29ff1d 215px,#01ffb6 216px,#00a4ff 217px,#0050ff 218px,#001bff 219px,#0000f3 220px,#00d 221px,#0000c6 223px,#0000b8 226px,#0000af 233px,#0000b6 239px,#0000c5 242px,#0000cf 243px,#0000df 244px,#0000f9 245px,#0027ff 246px,#0062ff 247px,#00b4ff 248px,#00ffd2 249px,#05ffa4 250px,#08ff9a 251px,#07ff9d 252px,#00ffbd 253px,#00e9ef 254px,#0bf 255px,#008fff 256px,#006dff 257px,#003aff 259px,#0017ff 261px,#000aff 262px,#0000f9 263px,#0000db 267px,#0000c6 273px,#0000b3 286px,#0000a8 312px,#0000b0 325px,#0000c2 332px,#0000de 337px,#0000f6 340px,#0006ff 341px,#0024ff 345px,#002aff 348px,#001dff 351px,#0003fd 354px,#0000d0 359px,#0000b4 364px,#00009c 372px,#00008c 387px,#000080 431px,#00007e 464px)"></i>
<i style="background:linear-gradient(90deg,#00008d 0,#009 47px,#00a 65px,#0000c1 75px,#0000db 81px,#0000f7 85px,#0006ff 86px,#0027ff 89px,#0056ff 92px,#0081ff 94px,#0bf 96px,#00dffb 97px,#00ffce 98px,#08ff9b 99px,#17ff56 100px,#56ff17 101px,#a5ff05 102px,#e9fe00 103px,#ffc600 104px,#ff5f00 106px,#ff3600 107px,#ff1700 108px,#ff0400 109px,#f00 111px,#ff0100 112px,#ff1200 113px,#ff2e00 114px,#f50 115px,#ff8400 116px,#ffb900 117px,#f9f100 118px,#b4ff01 119px,#71ff13 120px,#1aff3c 121px,#0bff8e 122px,#00ffc2 123px,#00e8f0 124px,#00c4ff 125px,#08f 127px,#005eff 129px,#0030ff 132px,#0009ff 136px,#0002fc 137px,#0000e1 142px,#00c 150px,#0000c1 164px,#0000c6 181px,#0000d7 191px,#0000ec 196px,#0000f9 198px,#0007ff 199px,#002aff 202px,#004eff 204px,#0083ff 206px,#00adff 207px,#00dffb 208px,#00ffba 209px,#12ff74 210px,#44ff19 211px,#8fff0b 212px,#9cff08 213px,#96ff09 214px,#6aff14 215px,#0fff80 216px,#00d2ff 217px,#006cff 218px,#002dff 219px,#0005ff 220px,#0000e4 221px,#0000d4 222px,#0000c1 224px,#0000b4 228px,#0000b0 235px,#0000ba 240px,#0000c8 242px,#0000d4 243px,#0000e7 244px,#000cff 245px,#003aff 246px,#007bff 247px,#00d2ff 248px,#00ffbf 249px,#06ffa1 250px,#07ff9d 251px,#05ffa7 252px,#00ffcf 253px,#00d9ff 254px,#0083ff 256px,#004aff 258px,#02f 260px,#0007ff 262px,#0000f6 263px,#0000da 267px,#0000c5 273px,#0000b3 286px,#0000a9 312px,#0000b0 324px,#0000c3 331px,#0000e1 336px,#0003fd 339px,#002aff 343px,#0036ff 346px,#002dff 349px,#0007ff 353px,#0000f6 354px,#0000c9 359px,#0000af 364px,#00009a 372px,#00008a 389px,#00007f 443px,#00007e 464px)"></i>
<i style="background:linear-gradient(90deg,#00008d 0,#000098 48px,#00a 67px,#0000c1 77px,#0000db 83px,#0000f7 87px,#0006ff 88px,#0028ff 91px,#0058ff 94px,#0084ff 96px,#00c1ff 98px,#00e6f3 99px,#00ffc4 100px,#0bff8f 101px,#1aff3c 102px,#73ff12 103px,#b6ff01 104px,#fbef00 105px,#ff8400 107px,#ff5600 108px,#ff3200 109px,#ff1800 110px,#ff0a00 111px,#ff0700 112px,#ff0900 113px,#ff1500 114px,#ff2d00 115px,#ff5000 116px,#ff7c00 117px,#ffe700 119px,#c1ff00 120px,#7dff10 121px,#1dff2a 122px,#0dff85 123px,#0fb 124px,#00edeb 125px,#00c8ff 126px,#008aff 128px,#005eff 130px,#0030ff 133px,#0008ff 137px,#0001fb 138px,#0000e0 143px,#00c 151px,#0000c1 165px,#0000c7 182px,#0000d7 191px,#0000eb 196px,#0000f8 198px,#0006ff 199px,#0028ff 202px,#004aff 204px,#007dff 206px,#00a4ff 207px,#00d4ff 208px,#00ffc8 209px,#0eff83 210px,#2bff1d 211px,#87ff0d 212px,#a2ff06 213px,#a0ff06 214px,#89ff0d 215px,#1cff32 216px,#00ffd2 217px,#008eff 218px,#0043ff 219px,#0013ff 220px,#0000ed 221px,#0000d9 222px,#0000c4 224px,#0000b4 228px,#0000b0 234px,#0000b8 239px,#0000c2 241px,#0000cb 242px,#0000da 243px,#0000f0 244px,#001aff 245px,#004fff 246px,#09f 247px,#00ecec 248px,#02ffb3 249px,#06ffa2 250px,#06ffa1 251px,#01ffb4 252px,#00f6e0 253px,#00caff 254px,#009fff 255px,#0079ff 256px,#0043ff 258px,#001eff 260px,#0004fe 262px,#0000eb 264px,#0000d0 269px,#0000bd 277px,#0000ac 297px,#00a 317px,#0000b6 326px,#0000c8 331px,#0000e4 335px,#0000f8 337px,#000aff 338px,#0035ff 342px,#0041ff 344px,#0042ff 346px,#0038ff 348px,#000cff 352px,#0000f9 353px,#0000d1 357px,#0000b2 362px,#00009d 369px,#00008c 383px,#000081 424px,#00007e 464px)"></i>
<i style="background:linear-gradient(90deg,#00008d 0,#000098 50px,#0000a9 69px,#0000c0 79px,#0000db 85px,#0000f7 89px,#0007ff 90px,#0029ff 93px,#005bff 96px,#0089ff 98px,#00c9ff 100px,#00f0e8 101px,#01ffb6 102px,#0fff7f 103px,#21ff1e 104px,#86ff0d 105px,#caff00 106px,#ffdf00 107px,#ff7800 109px,#ff4f00 110px,#ff3000 111px,#ff1e00 112px,#ff1600 113px,#ff1600 114px,#ff1e00 115px,#ff3200 116px,#ff5100 117px,#ff7a00 118px,#ffe200 120px,#c7ff00 121px,#83ff0e 122px,#1eff22 123px,#0eff82 124px,#00ffb8 125px,#00eee9 126px,#00c8ff 127px,#0089ff 129px,#005dff 131px,#002fff 134px,#0007ff 138px,#0000f9 139px,#0000df 144px,#0000cb 152px,#0000c1 166px,#0000c8 183px,#0000da 192px,#0000f0 197px,#0005ff 199px,#0026ff 202px,#0047ff 204px,#0078ff 206px,#009cff 207px,#00cbff 208px,#00ffd5 209px,#0aff91 210px,#1dff2c 211px,#7dff10 212px,#a4ff05 213px,#a8ff04 214px,#9cff08 215px,#58ff16 216px,#08ff99 217px,#00baff 218px,#005dff 219px,#0023ff 220px,#0000f8 221px,#0000e0 222px,#0000d1 223px,#0000c0 225px,#0000b3 229px,#0000b1 235px,#0000b9 239px,#0000c5 241px,#0000d0 242px,#0000e0 243px,#0002fb 244px,#002bff 245px,#0067ff 246px,#00b7ff 247px,#00ffd5 248px,#03ffad 249px,#05ffa4 250px,#05ffa7 251px,#00ffc3 252px,#00e8f1 253px,#00bcff 254px,#0092ff 255px,#0070ff 256px,#003dff 258px,#001aff 260px,#0001fb 262px,#0000dc 266px,#0000c6 272px,#0000b4 284px,#0000a9 310px,#0000b0 322px,#0000c0 328px,#0000d6 332px,#0003fd 336px,#0041ff 341px,#004fff 343px,#0050ff 345px,#04f 347px,#01f 351px,#0004fe 352px,#0000e5 354px,#0000c2 358px,#00a 363px,#000096 372px,#000087 392px,#00007e 464px)"></i>
<i style="background:linear-gradient(90deg,#00008c 0,#000097 51px,#0000a9 71px,#0000c0 81px,#0000db 87px,#0000f8 91px,#0007ff 92px,#002bff 95px,#005fff 98px,#0090ff 100px,#00d3ff 102px,#00fcda 103px,#05ffa6 104px,#14ff67 105px,#47ff19 106px,#9dff07 107px,#e2ff00 108px,#ffcd00 109px,#f90 110px,#ff6d00 111px,#ff4b00 112px,#ff3400 113px,#ff2900 114px,#ff2700 115px,#ff2c00 116px,#ff3b00 117px,#ff5700 118px,#ff7e00 119px,#ffae00 120px,#ffe300 121px,#c6ff00 122px,#82ff0e 123px,#1eff24 124px,#0eff84 125px,#0fb 126px,#00ecec 127px,#00c5ff 128px,#0086ff 130px,#005aff 132px,#002cff 135px,#0005ff 139px,#0000f1 141px,#0000d7 147px,#0000c6 156px,#0000c1 172px,#00c 186px,#0000e0 194px,#0000f6 198px,#0004fe 199px,#0023ff 202px,#04f 204px,#0072ff 206px,#0094ff 207px,#00c0ff 208px,#00f3e3 209px,#06ffa1 210px,#18ff4a 211px,#6bff14 212px,#a1ff06 213px,#adff03 214px,#a9ff04 215px,#87ff0d 216px,#17ff52 217px,#00eeea 218px,#007dff 219px,#0039ff 220px,#000cff 221px,#0000e9 222px,#0000d6 223px,#0000c2 225px,#0000b4 229px,#0000b0 234px,#0000ba 239px,#0000c8 241px,#0000d5 242px,#0000e9 243px,#0010ff 244px,#0040ff 245px,#0082ff 246px,#00d6ff 247px,#00ffc3 248px,#04ffab 249px,#05ffa8 250px,#02ffb1 251px,#00ffd4 252px,#00d8ff 253px,#0085ff 255px,#004dff 257px,#0025ff 259px,#0009ff 261px,#0000f8 262px,#0000db 266px,#0000c5 272px,#0000b3 285px,#0000a9 310px,#0000b1 322px,#0000c4 328px,#0000de 332px,#0000f3 334px,#0006ff 335px,#004dff 340px,#005dff 342px,#005fff 344px,#0052ff 346px,#0019ff 350px,#000aff 351px,#0000f5 352px,#0000d4 355px,#0000b7 359px,#0000a1 365px,#00008f 377px,#000082 410px,#00007e 464px)"></i>
<i style="background:linear-gradient(90deg,#00008c 0,#000097 53px,#0000a9 73px,#0000c0 83px,#0000db 89px,#0000f9 93px,#0009ff 94px,#002eff 97px,#0065ff 100px,#007cff 101px,#0bf 103px,#00e1f9 104px,#00ffc8 105px,#0aff91 106px,#1aff3d 107px,#74ff12 108px,#b8ff00 109px,#fcef00 110px,#ffba00 111px,#ff8c00 112px,#f60 113px,#ff4c00 114px,#ff3e00 115px,#ff3a00 116px,#ff3d00 117px,#ff4a00 118px,#ff6300 119px,#f80 120px,#ffb600 121px,#ffea00 122px,#beff00 123px,#7aff10 124px,#1cff32 125px,#0cff8b 126px,#00ffc2 127px,#00e5f4 128px,#00bfff 129px,#0080ff 131px,#05f 133px,#0028ff 136px,#0009ff 139px,#0002fb 140px,#0000e0 145px,#0000cb 153px,#0000c1 166px,#0000c8 183px,#0000d9 192px,#00e 197px,#0002fc 199px,#0021ff 202px,#0040ff 204px,#006dff 206px,#008bff 207px,#00b5ff 208px,#00e6f2 209px,#02ffb3 210px,#14ff6b 211px,#4cff18 212px,#97ff09 213px,#b2ff02 214px,#b1ff02 215px,#a0ff07 216px,#4aff18 217px,#04ffa9 218px,#00adff 219px,#0054ff 220px,#001eff 221px,#0000f4 222px,#00d 223px,#0000c5 225px,#0000b7 228px,#0000b0 234px,#0000b8 238px,#0000c3 240px,#0000cd 241px,#0000dc 242px,#0000f5 243px,#0021ff 244px,#0059ff 245px,#00a5ff 246px,#00f0e7 247px,#00ffb8 248px,#03ffac 249px,#03ffac 250px,#00ffbf 251px,#00f1e6 252px,#00c8ff 253px,#007aff 255px,#0046ff 257px,#0020ff 259px,#0006ff 261px,#0000f5 262px,#0000d9 266px,#0000c2 273px,#0000b1 287px,#0000a9 311px,#0000b1 321px,#0000c3 327px,#0000df 331px,#0000f4 333px,#0008ff 334px,#0058ff 339px,#006cff 341px,#0070ff 343px,#0062ff 345px,#0034ff 348px,#0002fc 351px,#0000d6 354px,#0000b8 358px,#0000a1 364px,#000090 375px,#000083 405px,#00007e 464px)"></i>
<i style="background:linear-gradient(90deg,#00008c 0,#000097 55px,#0000a7 74px,#0000bc 84px,#0000d5 90px,#0000f1 94px,#0001fa 95px,#0016ff 97px,#0043ff 100px,#006cff 102px,#0085ff 103px,#00c8ff 105px,#00f1e6 106px,#02ffb2 107px,#11ff78 108px,#31ff1c 109px,#91ff0b 110px,#d4ff00 111px,#ffda00 112px,#fa0 113px,#ff8300 114px,#f60 115px,#ff5600 116px,#ff5100 117px,#ff5200 118px,#ff5e00 119px,#ff7500 120px,#ff9800 121px,#ffc400 122px,#f2f700 123px,#afff03 124px,#66ff14 125px,#18ff4b 126px,#08ff99 127px,#00ffcf 128px,#00dbff 129px,#0094ff 131px,#0078ff 132px,#004fff 134px,#0023ff 137px,#0005ff 140px,#0000f8 141px,#00d 146px,#0000c9 154px,#0000c1 168px,#0000c9 184px,#0000dc 193px,#0000f4 198px,#0001fb 199px,#0013ff 201px,#003cff 204px,#0067ff 206px,#0082ff 207px,#0af 208px,#00d9ff 209px,#00ffc4 210px,#0fff81 211px,#2bff1d 212px,#88ff0d 213px,#b1ff02 214px,#b7ff00 215px,#b1ff02 216px,#87ff0d 217px,#15ff5e 218px,#00e5f3 219px,#0078ff 220px,#0035ff 221px,#0009ff 222px,#0000e7 223px,#0000d5 224px,#0000c1 226px,#0000b3 230px,#0000b0 234px,#0000b9 238px,#0000c6 240px,#0000d3 241px,#0000e6 242px,#000aff 243px,#0038ff 244px,#07f 245px,#00c8ff 246px,#00ffd0 247px,#01ffb4 248px,#02ffaf 249px,#01ffb3 250px,#00ffcf 251px,#00e0f9 252px,#00b8ff 253px,#0090ff 254px,#0070ff 255px,#003eff 257px,#001bff 259px,#0002fc 261px,#00d 265px,#0000c6 271px,#0000b4 283px,#0000a9 308px,#0000b1 320px,#0000c3 326px,#0000de 330px,#0000f4 332px,#0008ff 333px,#004fff 337px,#0071ff 339px,#007cff 340px,#0082ff 342px,#007eff 343px,#0075ff 344px,#0056ff 346px,#000aff 350px,#0000f5 351px,#0000d1 354px,#0000b4 358px,#00009f 364px,#00008e 376px,#000082 411px,#00007e 464px)"></i>
<i style="background:linear-gradient(90deg,#00008c 0,#000096 56px,#0000a6 76px,#0000bc 86px,#0000d5 92px,#0000f2 96px,#0002fc 97px,#0026ff 100px,#005cff 103px,#008fff 105px,#00d7ff 107px,#00ffd2 108px,#08ff9a 109px,#18ff4d 110px,#65ff14 111px,#aeff03 112px,#eff900 113px,#ffc900 114px,#ffa000 115px,#ff8200 116px,#ff7000 117px,#ff6a00 118px,#ff6b00 119px,#ff7500 120px,#ff8c00 121px,#ffae00 122px,#ffda00 123px,#d8ff00 124px,#96ff09 125px,#3aff1b 126px,#12ff74 127px,#03ffaf 128px,#00f3e4 129px,#00caff 130px,#0086ff 132px,#0057ff 134px,#0027ff 137px,#0008ff 140px,#0000fa 141px,#0000de 146px,#0000c9 154px,#0000c0 168px,#0000c8 184px,#0000db 193px,#0000f3 198px,#0000fa 199px,#0008ff 200px,#0029ff 203px,#004bff 205px,#007bff 207px,#00a0ff 208px,#0cf 209px,#00ffd5 210px,#0aff94 211px,#1bff36 212px,#7f1 213px,#aaff04 214px,#bcff00 215px,#baff00 216px,#a6ff05 217px,#4bff18 218px,#03ffac 219px,#00a9ff 220px,#0052ff 221px,#001cff 222px,#0000f3 223px,#0000dc 224px,#0000c4 226px,#0000b6 229px,#0000b1 234px,#00b 238px,#0000cb 240px,#0000da 241px,#0000f2 242px,#001dff 243px,#0053ff 244px,#009aff 245px,#00e6f3 246px,#00ffc2 247px,#01ffb5 248px,#01ffb4 249px,#00ffc0 250px,#00f5e2 251px,#00cfff 252px,#0082ff 254px,#004dff 256px,#0025ff 258px,#000aff 260px,#0000f9 261px,#0000db 265px,#0000c5 271px,#0000b4 283px,#0000a9 308px,#0000b0 319px,#0000c2 325px,#0000dc 329px,#0000f3 331px,#0007ff 332px,#003eff 335px,#007bff 338px,#008aff 339px,#0093ff 340px,#0094ff 342px,#008cff 343px,#006aff 345px,#0016ff 349px,#0004fe 350px,#0000e2 352px,#0000c4 355px,#0000a9 360px,#000096 368px,#008 387px,#00007e 456px,#00007e 464px)"></i>
<i style="background:linear-gradient(90deg,#00008b 0,#000096 58px,#0000a5 78px,#0000ba 88px,#0000d4 94px,#0000f2 98px,#0002fc 99px,#0028ff 102px,#004bff 104px,#007aff 106px,#09f 107px,#00bdff 108px,#00e6f2 109px,#00ffbd 110px,#0eff82 111px,#20ff1e 112px,#87ff0d 113px,#c8ff00 114px,#ffe800 115px,#ffbe00 116px,#ff9f00 117px,#ff8d00 118px,#ff8600 119px,#ff8700 120px,#ff9200 121px,#ffa800 122px,#ffcb00 123px,#f1f700 124px,#b3ff02 125px,#70ff13 126px,#19ff42 127px,#09ff96 128px,#00ffce 129px,#00d9ff 130px,#008fff 132px,#0073ff 133px,#0049ff 135px,#001cff 138px,#0008ff 140px,#0000f9 141px,#0000dc 146px,#0000c9 153px,#0000c0 166px,#0000c7 183px,#0000d7 192px,#0000eb 197px,#0000f8 199px,#0006ff 200px,#0026ff 203px,#0047ff 205px,#0075ff 207px,#0096ff 208px,#00c0ff 209px,#00f1e6 210px,#05ffa7 211px,#16ff5a 212px,#59ff16 213px,#9dff07 214px,#beff00 215px,#c1ff00 216px,#b9ff00 217px,#8cff0c 218px,#16ff5a 219px,#00e6f3 220px,#0078ff 221px,#0034ff 222px,#0009ff 223px,#0000e6 224px,#0000d4 225px,#0000c1 227px,#0000b3 231px,#0000b1 234px,#0000be 238px,#0000d1 240px,#0000e4 241px,#0007ff 242px,#0034ff 243px,#0071ff 244px,#00bfff 245px,#00fbda 246px,#00ffbd 247px,#00ffb8 248px,#00ffba 249px,#00ffcf 250px,#00e4f5 251px,#00bfff 252px,#07f 254px,#0045ff 256px,#0020ff 258px,#0006ff 260px,#0000f6 261px,#0000da 265px,#0000c5 271px,#0000b3 284px,#00a 308px,#0000b2 319px,#0000c0 324px,#0000da 328px,#0000f0 330px,#0004fe 331px,#0027ff 333px,#0096ff 338px,#00a3ff 339px,#00a9ff 340px,#0af 341px,#00a4ff 342px,#0096ff 343px,#0053ff 346px,#01f 349px,#0000f9 350px,#0000d2 353px,#0000b5 357px,#00009f 363px,#00008e 375px,#000082 410px,#00007d 464px)"></i>
<i style="background:linear-gradient(90deg,#00008b 0,#000095 60px,#0000a4 80px,#0000b9 90px,#0000d4 96px,#0000f2 100px,#0003fc 101px,#002bff 104px,#0051ff 106px,#0083ff 108px,#00cdff 110px,#00fadc 111px,#06ffa3 112px,#16ff5b 113px,#57ff16 114px,#a4ff06 115px,#e0ff00 116px,#ffdc00 117px,#ffbd00 118px,#ffab00 119px,#ffa500 120px,#ffa600 121px,#ffb200 122px,#ffca00 123px,#fdee00 124px,#c5ff00 125px,#86ff0d 126px,#21ff1e 127px,#0eff82 128px,#00ffbe 129px,#00e5f4 130px,#0bf 131px,#0096ff 132px,#0078ff 133px,#004bff 135px,#001cff 138px,#0007ff 140px,#0000f8 141px,#0000db 146px,#0000c8 153px,#0000bf 166px,#0000c6 183px,#0000d7 192px,#0000f0 198px,#0005fe 200px,#0024ff 203px,#0043ff 205px,#006eff 207px,#008cff 208px,#00b4ff 209px,#00e3f6 210px,#00ffba 211px,#11ff79 212px,#36ff1b 213px,#8dff0b 214px,#b9ff00 215px,#c5ff00 216px,#c3ff00 217px,#adff03 218px,#54ff17 219px,#04ffa9 220px,#00acff 221px,#0053ff 222px,#001cff 223px,#0000f3 224px,#0000dc 225px,#0000c4 227px,#0000b6 230px,#0000b2 234px,#0000ba 237px,#0000ca 239px,#0000d9 240px,#0000f0 241px,#001aff 242px,#004fff 243px,#00ddfd 245px,#0fc 246px,#00ffbe 247px,#00ffbc 248px,#00ffc4 249px,#00f6e1 250px,#00d4ff 251px,#008aff 253px,#0053ff 255px,#002bff 257px,#0003fc 260px,#00d 264px,#0000c6 270px,#0000b4 282px,#00a 306px,#0000b1 318px,#0000c3 324px,#0000d7 327px,#0000f9 330px,#0010ff 331px,#0038ff 333px,#009dff 337px,#00b1ff 338px,#00bcff 339px,#00c0ff 340px,#00bdff 341px,#00b3ff 342px,#00a0ff 343px,#02f 348px,#000eff 349px,#0000f6 350px,#0000d0 353px,#0000b3 357px,#00009e 363px,#00008e 375px,#000082 410px,#00007d 464px)"></i>
<i style="background:linear-gradient(90deg,#00008b 0,#000095 62px,#0000a4 82px,#0000b8 92px,#0000d3 98px,#0000f3 102px,#0004fe 103px,#002fff 106px,#0058ff 108px,#0072ff 109px,#0091ff 110px,#00b7ff 111px,#00e2f8 112px,#00ffc0 113px,#0eff84 114px,#1eff20 115px,#82ff0e 116px,#beff00 117px,#eff900 118px,#ffdc00 119px,#ffcb00 120px,#ffc600 121px,#ffc900 122px,#ffd700 123px,#f9f100 124px,#caff00 125px,#91ff0a 126px,#38ff1b 127px,#12ff75 128px,#02ffb2 129px,#00edea 130px,#00c1ff 131px,#009bff 132px,#007aff 133px,#004bff 135px,#0028ff 137px,#0005fe 140px,#00e 142px,#0000d5 147px,#0000c3 155px,#0000be 170px,#0000c9 186px,#0000dc 194px,#0000f5 199px,#0003fd 200px,#0021ff 203px,#003fff 205px,#0068ff 207px,#0083ff 208px,#00a9ff 209px,#00d6ff 210px,#00ffcb 211px,#0cff8c 212px,#1dff2a 213px,#7cff10 214px,#afff03 215px,#c9ff00 216px,#caff00 217px,#c1ff00 218px,#93ff0a 219px,#17ff51 220px,#00e9ef 221px,#0079ff 222px,#0035ff 223px,#0009ff 224px,#0000e6 225px,#0000d4 226px,#0000c0 228px,#0000b2 232px,#0000b5 235px,#0000c4 238px,#0000d0 239px,#0000e2 240px,#0005ff 241px,#0031ff 242px,#006dff 243px,#00b8ff 244px,#00f3e4 245px,#00ffc6 246px,#00ffc1 247px,#00ffc1 248px,#00ffd2 249px,#00e6f3 250px,#00c4ff 251px,#007dff 253px,#004bff 255px,#0025ff 257px,#000aff 259px,#0000f9 260px,#0000dc 264px,#0000c6 270px,#0000b4 282px,#00a 306px,#0000b1 317px,#0000c2 323px,#00d 327px,#0000f5 329px,#000aff 330px,#0031ff 332px,#0081ff 335px,#00b9ff 337px,#0cf 338px,#00d5ff 339px,#00d6ff 340px,#00d1ff 341px,#00c2ff 342px,#00acff 343px,#003aff 347px,#000eff 349px,#0000f6 350px,#0000d0 353px,#0000b3 357px,#00009e 363px,#00008d 376px,#000081 414px,#00007d 464px)"></i>
<i style="background:linear-gradient(90deg,#00008b 0,#000094 64px,#0000a3 84px,#0000b8 94px,#0000d3 100px,#0000f5 104px,#0007ff 105px,#0036ff 108px,#0063ff 110px,#0080ff 111px,#00a3ff 112px,#00cdff 113px,#00fcda 114px,#07ff9f 115px,#17ff53 116px,#59ff16 117px,#9dff07 118px,#cf0 119px,#edfb00 120px,#feed00 121px,#ffea00 122px,#fbef00 123px,#e7ff00 124px,#c2ff00 125px,#90ff0b 126px,#3fff1a 127px,#13ff6e 128px,#03ffad 129px,#00f1e7 130px,#00c3ff 131px,#009bff 132px,#007aff 133px,#0049ff 135px,#0025ff 137px,#0001fb 140px,#0000df 144px,#0000ca 150px,#0000be 160px,#0000c0 178px,#0000d0 190px,#0000e8 197px,#0002fc 200px,#001fff 203px,#003bff 205px,#0063ff 207px,#007cff 208px,#009fff 209px,#00caff 210px,#00fadc 211px,#07ff9e 212px,#18ff4c 213px,#63ff15 214px,#a1ff06 215px,#c7ff00 216px,#ceff00 217px,#cf0 218px,#b4ff01 219px,#5dff16 220px,#05ffa5 221px,#00aeff 222px,#0054ff 223px,#001dff 224px,#0000f3 225px,#0000dc 226px,#0000cd 227px,#0000bd 229px,#0000b1 233px,#0000ba 236px,#0000c9 238px,#0000d7 239px,#00e 240px,#0018ff 241px,#004bff 242px,#008dff 243px,#00d5ff 244px,#00ffd5 245px,#00ffc7 246px,#00ffc5 247px,#00ffca 248px,#00f5e1 249px,#00d7ff 250px,#0091ff 252px,#0072ff 253px,#0043ff 255px,#0020ff 257px,#0006ff 259px,#0000f6 260px,#0000da 264px,#0000c5 270px,#0000b4 282px,#00a 306px,#0000b2 317px,#0000c5 323px,#0000da 326px,#0004fe 329px,#0029ff 331px,#005bff 333px,#00baff 336px,#00d5ff 337px,#00e6f2 338px,#00eee9 339px,#00eeea 340px,#00e6f3 341px,#00d4ff 342px,#00b9ff 343px,#005aff 346px,#0025ff 348px,#0010ff 349px,#0000f8 350px,#0000d1 353px,#0000b4 357px,#00009f 363px,#00008e 375px,#000082 410px,#00007d 464px)"></i>
<i style="background:linear-gradient(90deg,#00008a 0,#000094 66px,#0000a2 86px,#0000b7 96px,#0000ce 101px,#0000ed 105px,#0000f8 106px,#000bff 107px,#002bff 109px,#0056ff 111px,#0072ff 112px,#0093ff 113px,#00bcff 114px,#00e9ef 115px,#01ffb6 116px,#11ff7a 117px,#28ff1d 118px,#7fff0f 119px,#aaff04 120px,#c5ff00 121px,#d2ff00 122px,#d2ff00 123px,#c7ff00 124px,#adff03 125px,#84ff0e 126px,#33ff1c 127px,#12ff73 128px,#03ffaf 129px,#00efe9 130px,#00c1ff 131px,#0098ff 132px,#0076ff 133px,#0045ff 135px,#0021ff 137px,#0007ff 139px,#0000f7 140px,#0000db 144px,#0000c7 150px,#0000bc 161px,#0000c1 179px,#0000d2 191px,#0000e8 197px,#0000fa 200px,#0012ff 202px,#0038ff 205px,#005eff 207px,#0076ff 208px,#0096ff 209px,#00bfff 210px,#00edea 211px,#03ffaf 212px,#13ff6d 213px,#43ff19 214px,#92ff0a 215px,#c0ff00 216px,#d2ff00 217px,#d2ff00 218px,#c8ff00 219px,#97ff09 220px,#18ff4e 221px,#00eaee 222px,#007aff 223px,#0035ff 224px,#0009ff 225px,#0000e6 226px,#0000d3 227px,#0000c0 229px,#0000b2 233px,#0000bc 236px,#0000cf 238px,#0000e0 239px,#0003fd 240px,#002dff 241px,#0067ff 242px,#00afff 243px,#00eaee 244px,#00ffd0 245px,#00ffc9 246px,#00ffc9 247px,#00ffd5 248px,#00e8f1 249px,#00c8ff 250px,#0084ff 252px,#0051ff 254px,#002aff 256px,#0003fd 259px,#0000de 263px,#0000c7 269px,#0000b4 281px,#0000ab 305px,#0000b2 316px,#0000c4 322px,#0000d6 325px,#0000f7 328px,#000dff 329px,#0035ff 331px,#006dff 333px,#00d4ff 336px,#00efe8 337px,#00ffd4 338px,#0fc 339px,#00ffcd 340px,#00fdd8 341px,#00e8f0 342px,#00cbff 343px,#0063ff 346px,#002bff 348px,#0003fd 350px,#0000d4 353px,#0000b6 357px,#0000a0 363px,#00008e 375px,#000082 409px,#00007d 464px)"></i>
<i style="background:linear-gradient(90deg,#00008a 0,#000094 68px,#0000a2 88px,#0000b4 97px,#0000cf 103px,#0000f1 107px,#0003fd 108px,#02f 110px,#004cff 112px,#0086ff 114px,#00aeff 115px,#00daff 116px,#00ffc8 117px,#0bff8e 118px,#1aff40 119px,#55ff17 120px,#87ff0d 121px,#9cff08 122px,#a2ff06 123px,#9fff07 124px,#8eff0b 125px,#6aff14 126px,#1eff26 127px,#0fff7f 128px,#00ffb8 129px,#00e8f1 130px,#00baff 131px,#0091ff 132px,#0070ff 133px,#003fff 135px,#001bff 137px,#0002fc 139px,#0000e3 142px,#00c 147px,#0000be 155px,#00b 171px,#0000c9 187px,#0000de 195px,#0000f9 200px,#0007ff 201px,#0027ff 204px,#0046ff 206px,#0071ff 208px,#008eff 209px,#00b5ff 210px,#00e1f8 211px,#00ffbf 212px,#0fff81 213px,#24ff1e 214px,#83ff0e 215px,#b5ff01 216px,#d3ff00 217px,#d6ff00 218px,#d3ff00 219px,#b8ff00 220px,#5fff15 221px,#05ffa6 222px,#00acff 223px,#0053ff 224px,#001cff 225px,#0000f2 226px,#0000db 227px,#00c 228px,#0000bc 230px,#0000b2 233px,#0000bf 236px,#0000c8 237px,#0000d5 238px,#0000eb 239px,#0014ff 240px,#0046ff 241px,#0085ff 242px,#0cf 243px,#00f7df 244px,#00ffcf 245px,#00ffcf 247px,#00f5e2 248px,#00daff 249px,#007aff 252px,#004aff 254px,#0025ff 256px,#000bff 258px,#0000fa 259px,#00d 263px,#0000c6 269px,#0000b4 281px,#0000ab 304px,#0000b2 315px,#0000c2 321px,#0000db 325px,#0000f0 327px,#0005fe 328px,#0029ff 330px,#005dff 332px,#007dff 333px,#00c9ff 335px,#00edeb 336px,#00ffca 337px,#01ffb5 338px,#03ffad 339px,#03ffae 340px,#0fb 341px,#00ffd4 342px,#00e1f9 343px,#0bf 344px,#0071ff 346px,#0036ff 348px,#000aff 350px,#0000f3 351px,#0000cf 354px,#0000b3 358px,#00009c 365px,#00008c 379px,#000080 421px,#00007d 464px)"></i>
<i style="background:linear-gradient(90deg,#00008a 0,#000093 70px,#0000a1 90px,#0000b4 99px,#0000ca 104px,#0000eb 108px,#0000f7 109px,#000bff 110px,#002eff 112px,#005fff 114px,#007dff 115px,#00a4ff 116px,#00d0ff 117px,#00ffd6 118px,#07ff9f 119px,#14ff66 120px,#23ff1e 121px,#56ff17 122px,#6eff13 123px,#70ff13 124px,#5fff15 125px,#32ff1c 126px,#17ff51 127px,#0aff91 128px,#00ffc8 129px,#00dcfe 130px,#0087ff 132px,#0068ff 133px,#0037ff 135px,#0014ff 137px,#0007ff 138px,#0000f6 139px,#0000d8 143px,#0000c4 149px,#0000b9 160px,#0000bf 179px,#0000d1 191px,#0000e6 197px,#0000f8 200px,#0006ff 201px,#0024ff 204px,#0042ff 206px,#006cff 208px,#0086ff 209px,#00abff 210px,#00d6ff 211px,#00ffce 212px,#0aff92 213px,#1bff39 214px,#72ff13 215px,#a8ff05 216px,#ceff00 217px,#daff00 218px,#d9ff00 219px,#cdff00 220px,#99ff08 221px,#17ff50 222px,#00e8f1 223px,#0078ff 224px,#0034ff 225px,#0007ff 226px,#0000e5 227px,#0000d2 228px,#0000bf 230px,#0000b3 233px,#0000c2 236px,#0000cd 237px,#0000de 238px,#0000f9 239px,#0029ff 240px,#0061ff 241px,#00a6ff 242px,#00e1f8 243px,#00fdd9 244px,#00ffd1 245px,#00ffd1 246px,#00fdd8 247px,#00e9ef 248px,#00cdff 249px,#008cff 251px,#0058ff 253px,#0031ff 255px,#0007ff 258px,#0000f7 259px,#0000db 263px,#0000c6 269px,#0000b4 281px,#0000ac 304px,#0000b4 315px,#0000c5 321px,#0000e0 325px,#0000f7 327px,#000cff 328px,#03f 330px,#006aff 332px,#008cff 333px,#00ddfd 335px,#00ffd1 336px,#03ffad 337px,#09ff96 338px,#0bff8d 339px,#0bff8e 340px,#08ff9a 341px,#01ffb4 342px,#00fcda 343px,#00d5ff 344px,#0084ff 346px,#04f 348px,#0015ff 350px,#0003fd 351px,#0000d5 354px,#0000b7 358px,#0000a1 364px,#00008f 376px,#000082 408px,#00007d 464px)"></i>
<i style="background:linear-gradient(90deg,#00008a 0,#000093 71px,#0000a1 91px,#0000b3 100px,#0000c9 105px,#0000ea 109px,#0000f6 110px,#000aff 111px,#002eff 113px,#0060ff 115px,#007fff 116px,#00d3ff 118px,#00ffd4 119px,#07ffa0 120px,#12ff72 121px,#1bff35 122px,#2aff1d 123px,#33ff1c 124px,#2bff1d 125px,#1cff33 126px,#13ff6e 127px,#00ffd1 129px,#00d6ff 130px,#0082ff 132px,#0049ff 134px,#0020ff 136px,#0004fd 138px,#0000e1 141px,#0000c9 146px,#00b 154px,#0000ba 171px,#0000c9 187px,#00d 195px,#0000f7 200px,#0004fe 201px,#02f 204px,#003fff 206px,#0067ff 208px,#007fff 209px,#00a2ff 210px,#00cbff 211px,#00f9dd 212px,#06ffa2 213px,#16ff59 214px,#53ff17 215px,#99ff08 216px,#c5ff00 217px,#dcff00 218px,#deff00 219px,#d9ff00 220px,#bcff00 221px,#5eff15 222px,#04ffa8 223px,#0af 224px,#0052ff 225px,#001bff 226px,#0000f1 227px,#0000da 228px,#00c 229px,#0000bc 231px,#0000b5 233px,#0000be 235px,#0000d4 237px,#0000e9 238px,#0010ff 239px,#0041ff 240px,#007eff 241px,#00c3ff 242px,#00efe9 243px,#00fed7 244px,#00ffd5 246px,#00f4e3 247px,#00ddfd 248px,#0081ff 251px,#0051ff 253px,#002bff 255px,#0004fe 258px,#0000ec 260px,#0000d1 265px,#0000bd 273px,#0000af 291px,#0000ae 309px,#0000ba 317px,#0000cd 322px,#0000e4 325px,#0003fc 327px,#0025ff 329px,#05f 331px,#0074ff 332px,#00c3ff 334px,#00eee9 335px,#00ffba 336px,#0aff93 337px,#11ff79 338px,#14ff69 339px,#14ff67 340px,#11ff76 341px,#0bff8f 342px,#01ffb4 343px,#00f4e2 344px,#00c9ff 345px,#0078ff 347px,#003cff 349px,#0010ff 351px,#0000f8 352px,#0000d3 355px,#0000b7 359px,#0000a1 365px,#00008f 377px,#000082 409px,#00007e 464px)"></i>
<i style="background:linear-gradient(90deg,#00008a 0,#000093 73px,#0000a2 93px,#0000b6 102px,#0000cf 107px,#0000ea 110px,#0000f6 111px,#000bff 112px,#0031ff 114px,#0065ff 116px,#0086ff 117px,#00daff 119px,#00ffce 120px,#07ff9f 121px,#16ff57 123px,#19ff47 124px,#18ff4a 125px,#15ff62 126px,#0dff86 127px,#03ffae 128px,#00f8de 129px,#00cbff 130px,#007bff 132px,#0043ff 134px,#001bff 136px,#000cff 137px,#0000f9 138px,#0000de 141px,#0000c7 146px,#0000ba 154px,#0000ba 171px,#0000c8 187px,#0000dc 195px,#0000f6 200px,#0003fd 201px,#0020ff 204px,#004dff 207px,#0079ff 209px,#09f 210px,#00c0ff 211px,#00edeb 212px,#02ffb3 213px,#11ff76 214px,#33ff1c 215px,#89ff0d 216px,#baff00 217px,#daff00 218px,#e1ff00 219px,#e0ff00 220px,#d2ff00 221px,#9aff08 222px,#17ff53 223px,#00e5f3 224px,#0076ff 225px,#03f 226px,#0006ff 227px,#0000e4 228px,#0000d2 229px,#0000be 231px,#0000b6 233px,#0000c1 235px,#00c 236px,#0000dc 237px,#0000f7 238px,#0025ff 239px,#005cff 240px,#009eff 241px,#00d9ff 242px,#00f6e0 243px,#00fdd8 244px,#00fadc 246px,#00e9ef 247px,#00d1ff 248px,#07f 251px,#004aff 253px,#0018ff 256px,#0001fb 258px,#0000de 262px,#0000c7 268px,#0000b5 280px,#0000ad 303px,#0000b5 314px,#0000c6 320px,#0000df 324px,#0000f4 326px,#0008ff 327px,#002bff 329px,#005dff 331px,#007cff 332px,#00cfff 334px,#00fcda 335px,#05ffa8 336px,#18ff4d 338px,#1cff30 339px,#1dff2a 340px,#1bff36 341px,#16ff5b 342px,#01ffb6 344px,#00eee9 345px,#00c1ff 346px,#0097ff 347px,#0072ff 348px,#0037ff 350px,#000dff 352px,#0000f7 353px,#0000d3 356px,#0000b7 360px,#00009f 367px,#00008e 380px,#000081 416px,#00007e 464px)"></i>
<i style="background:linear-gradient(90deg,#00008a 0,#000093 74px,#0000a1 94px,#0000b6 103px,#0000d0 108px,#0000ec 111px,#0000f9 112px,#000fff 113px,#0036ff 115px,#006eff 117px,#0091ff 118px,#00baff 119px,#00e4f5 120px,#00ffc7 121px,#06ffa1 122px,#0dff88 123px,#10ff7d 124px,#10ff7c 125px,#0dff86 126px,#07ff9f 127px,#00ffc4 128px,#00e8f1 129px,#00beff 130px,#0095ff 131px,#0071ff 132px,#003bff 134px,#0015ff 136px,#0007ff 137px,#0000f4 138px,#0000db 141px,#0000c5 146px,#0000b8 155px,#00b 174px,#0000cb 189px,#0000df 196px,#0002fc 201px,#001eff 204px,#0049ff 207px,#0074ff 209px,#0091ff 210px,#00b6ff 211px,#00e0f9 212px,#00ffc3 213px,#0dff88 214px,#1dff2a 215px,#78ff11 216px,#acff03 217px,#d3ff00 218px,#e4ff00 219px,#e4ff00 220px,#dfff00 221px,#bfff00 222px,#5dff16 223px,#04ffab 224px,#00a8ff 225px,#0050ff 226px,#0019ff 227px,#0000f0 228px,#0000d9 229px,#0000c2 231px,#0000b8 233px,#0000c5 235px,#0000d2 236px,#0000e7 237px,#000dff 238px,#003cff 239px,#0078ff 240px,#0bf 241px,#00e8f1 242px,#00f8de 243px,#00fbdb 245px,#00f2e5 246px,#00dffb 247px,#00a7ff 249px,#08f 250px,#0057ff 252px,#02f 255px,#0009ff 257px,#0000f9 258px,#0000dc 262px,#0000c7 268px,#0000b5 280px,#0000ae 302px,#0000b7 314px,#0000c9 320px,#0000e3 324px,#0000f8 326px,#000cff 327px,#002fff 329px,#0062ff 331px,#0082ff 332px,#00d6ff 334px,#00ffcf 335px,#14ff65 337px,#1eff23 338px,#43ff19 339px,#50ff17 340px,#4cff18 341px,#31ff1c 342px,#19ff43 343px,#0eff83 344px,#01ffb7 345px,#00ebed 346px,#00beff 347px,#0093ff 348px,#006fff 349px,#0037ff 351px,#000eff 353px,#0000f8 354px,#0000d4 357px,#0000b8 361px,#0000a0 368px,#00008e 381px,#000082 416px,#00007e 464px)"></i>
<i style="background:linear-gradient(90deg,#00008a 0,#000093 75px,#0000a1 95px,#0000b3 103px,#0000ca 108px,#0000e4 111px,#0004fe 113px,#0029ff 115px,#005bff 117px,#007bff 118px,#00c8ff 120px,#00eee9 121px,#00ffc4 122px,#04ffaa 123px,#07ff9e 124px,#08ff9c 125px,#05ffa5 126px,#00ffba 127px,#00f9dd 128px,#00d4ff 129px,#0086ff 131px,#004aff 133px,#001fff 135px,#0001fb 137px,#0000de 140px,#0000c9 144px,#0000ba 151px,#0000b7 166px,#0000c5 185px,#0000d8 194px,#0000f3 200px,#0000fa 201px,#01f 203px,#0035ff 206px,#0058ff 208px,#08f 210px,#00acff 211px,#00d5ff 212px,#00ffd2 213px,#08ff99 214px,#18ff4a 215px,#5eff15 216px,#9eff07 217px,#c9ff00 218px,#e4ff00 219px,#e8ff00 220px,#e6ff00 221px,#d6ff00 222px,#9bff08 223px,#16ff57 224px,#00e3f7 225px,#0074ff 226px,#0031ff 227px,#0005ff 228px,#0000e3 229px,#0000d1 230px,#0000be 232px,#0000ba 233px,#0000cb 235px,#0000db 236px,#0000f4 237px,#0021ff 238px,#0057ff 239px,#0097ff 240px,#00d2ff 241px,#00f0e8 242px,#00f8df 243px,#00f6e0 245px,#00e9ef 246px,#00d3ff 247px,#007eff 250px,#003dff 253px,#0010ff 256px,#0006ff 257px,#0000f6 258px,#0000db 262px,#0000c4 269px,#0000b4 282px,#0000af 304px,#0000b9 314px,#00c 320px,#0000e7 324px,#0003fd 326px,#02f 328px,#004dff 330px,#0068ff 331px,#0089ff 332px,#00defc 334px,#00ffc5 335px,#0cff8d 336px,#19ff44 337px,#48ff19 338px,#79ff11 339px,#87ff0d 340px,#89ff0d 341px,#81ff0f 342px,#62ff15 343px,#1eff1f 344px,#12ff76 345px,#03ffad 346px,#00f2e5 347px,#00c3ff 348px,#09f 349px,#0074ff 350px,#003cff 352px,#0013ff 354px,#0002fc 355px,#0000d8 358px,#00b 362px,#0000a4 368px,#000091 380px,#000083 409px,#00007e 464px)"></i>
<i style="background:linear-gradient(90deg,#00008a 0,#000093 75px,#0000a0 95px,#0000b4 104px,#0000cd 109px,#0000ea 112px,#0000f7 113px,#000cff 114px,#0034ff 116px,#006bff 118px,#00d6ff 121px,#00f5e2 122px,#00ffc9 123px,#00ffbd 124px,#0fb 125px,#00ffc3 126px,#00fed8 127px,#00e2f8 128px,#00bfff 129px,#07f 131px,#003fff 133px,#0017ff 135px,#0008ff 136px,#0000f5 137px,#0000da 140px,#0000c3 145px,#0000b7 154px,#0000ba 173px,#0000c9 188px,#0000de 196px,#0000f9 201px,#0007ff 202px,#0025ff 205px,#0053ff 208px,#0081ff 210px,#00a2ff 211px,#00c9ff 212px,#00f5e1 213px,#04ffa9 214px,#14ff6b 215px,#3eff1a 216px,#8eff0b 217px,#bdff00 218px,#dfff00 219px,#ebfc00 220px,#ebfd00 221px,#e4ff00 222px,#c1ff00 223px,#5aff16 224px,#03ffaf 225px,#00a5ff 226px,#004eff 227px,#0018ff 228px,#0000ef 229px,#0000d9 230px,#0000c1 232px,#0000bd 233px,#0000d1 235px,#0000e5 236px,#000aff 237px,#0038ff 238px,#0072ff 239px,#00b4ff 240px,#00e1f8 241px,#00f3e4 242px,#00f6e1 244px,#00f0e7 245px,#00e0fa 246px,#00acff 248px,#0075ff 250px,#0037ff 253px,#000dff 256px,#0003fd 257px,#0000df 261px,#0000c8 267px,#0000b7 278px,#0000b0 300px,#0000b8 312px,#00c 319px,#0000e4 323px,#0000f7 325px,#0009ff 326px,#0028ff 328px,#0053ff 330px,#006fff 331px,#0090ff 332px,#00b9ff 333px,#00e6f3 334px,#00ffba 335px,#0fff80 336px,#1eff24 337px,#73ff12 338px,#9aff08 339px,#b1ff02 340px,#baff00 341px,#b8ff00 342px,#aaff04 343px,#8cff0c 344px,#51ff17 345px,#18ff4c 346px,#09ff98 347px,#00ffd2 348px,#00d3ff 349px,#00a7ff 350px,#0081ff 351px,#0047ff 353px,#001cff 355px,#000bff 356px,#0000f7 357px,#0000d6 360px,#00b 364px,#0000a2 371px,#000090 384px,#000083 416px,#00007e 464px)"></i>
<i style="background:linear-gradient(90deg,#00008a 0,#000093 76px,#0000a1 96px,#0000b2 104px,#0000ca 109px,#0000e5 112px,#0000f2 113px,#0006ff 114px,#002cff 116px,#0060ff 118px,#00a0ff 120px,#00c2ff 121px,#00defb 122px,#00f2e5 123px,#00fbda 124px,#00fcda 125px,#00f5e2 126px,#00e3f6 127px,#00c8ff 128px,#0067ff 131px,#0034ff 133px,#000eff 135px,#0000fa 136px,#0000dc 139px,#0000c7 143px,#0000b9 150px,#0000b6 165px,#0000c4 185px,#0000d7 194px,#0000f1 200px,#0000f8 201px,#0005ff 202px,#02f 205px,#004fff 208px,#007aff 210px,#09f 211px,#00beff 212px,#00e9f0 213px,#00ffba 214px,#0fff80 215px,#1fff1f 216px,#7dff10 217px,#b0ff02 218px,#d7ff00 219px,#ecfb00 220px,#ecfb00 222px,#daff00 223px,#9aff08 224px,#15ff5e 225px,#00dffb 226px,#0071ff 227px,#002fff 228px,#0004fe 229px,#0000e2 230px,#0000d1 231px,#0000c5 232px,#0000c0 233px,#0000ca 234px,#0000d9 235px,#0000f2 236px,#001dff 237px,#0052ff 238px,#00cbff 240px,#00eaef 241px,#00f3e4 242px,#00f3e4 244px,#00e8f0 245px,#00d5ff 246px,#00a1ff 248px,#0083ff 249px,#0043ff 252px,#0015ff 255px,#000aff 256px,#0000fa 257px,#0000de 261px,#0000c8 267px,#0000b7 279px,#0000b1 300px,#00b 312px,#0000cf 319px,#0000e8 323px,#0002fc 325px,#002dff 328px,#0058ff 330px,#0073ff 331px,#0094ff 332px,#00bcff 333px,#00e9f0 334px,#00ffb7 335px,#10ff7b 336px,#28ff1d 337px,#82ff0e 338px,#b1ff02 339px,#d3ff00 340px,#e5ff00 341px,#eafd00 342px,#e5ff00 343px,#d2ff00 344px,#afff02 345px,#7fff0f 346px,#24ff1e 347px,#0fff7e 348px,#00ffba 349px,#00e6f2 350px,#00baff 351px,#0092ff 352px,#0071ff 353px,#003cff 355px,#0016ff 357px,#0007ff 358px,#0000f3 359px,#0000d5 362px,#0000b7 367px,#00009f 375px,#00008d 390px,#000081 430px,#00007e 464px)"></i>
<i style="background:linear-gradient(90deg,#00008a 0,#000093 76px,#0000a0 96px,#0000b1 104px,#0000c9 109px,#0000e3 112px,#0003fd 114px,#0027ff 116px,#0058ff 118px,#00b2ff 121px,#00cbff 122px,#00dcfe 123px,#00e3f6 124px,#00e2f7 125px,#00daff 126px,#00c8ff 127px,#008fff 129px,#0056ff 131px,#0028ff 133px,#0006ff 135px,#0000f3 136px,#0000d8 139px,#0000c2 144px,#0000b6 153px,#0000b9 173px,#0000ca 189px,#0000e1 197px,#0000f6 201px,#0004fd 202px,#0020ff 205px,#004bff 208px,#0074ff 210px,#0090ff 211px,#00dcfe 213px,#00ffca 214px,#0aff92 215px,#1aff40 216px,#66ff14 217px,#a1ff06 218px,#cf0 219px,#e9fe00 220px,#f1f800 221px,#f0f800 222px,#e8fe00 223px,#c1ff00 224px,#53ff17 225px,#01ffb5 226px,#00a0ff 227px,#004bff 228px,#0016ff 229px,#00e 230px,#0000d8 231px,#0000ca 232px,#0000c4 233px,#0000d0 234px,#0000e3 235px,#0007ff 236px,#03f 237px,#006cff 238px,#00acff 239px,#00daff 240px,#00edea 241px,#00f1e6 243px,#00eeea 244px,#00e0fa 245px,#00cbff 246px,#007aff 249px,#003cff 252px,#01f 255px,#0006ff 256px,#0000f7 257px,#0000dc 261px,#0000c5 268px,#0000b6 281px,#0000b3 302px,#0000bf 313px,#0000d2 319px,#0000ec 323px,#0000f5 324px,#0006ff 325px,#0030ff 328px,#005aff 330px,#0074ff 331px,#0095ff 332px,#0bf 333px,#00e6f2 334px,#0fb 335px,#0fff7f 336px,#25ff1e 337px,#85ff0e 338px,#bcff00 339px,#e8fe00 340px,#ffe600 341px,#ffda00 342px,#ffd800 343px,#ffdf00 344px,#faf000 345px,#d4ff00 346px,#a2ff06 347px,#5eff15 348px,#17ff4f 349px,#07ff9d 350px,#00fed7 351px,#00d0ff 352px,#00a7ff 353px,#0083ff 354px,#004cff 356px,#0023ff 358px,#0004fe 360px,#0000e7 362px,#0000c7 366px,#0000ac 372px,#000097 382px,#008 403px,#00007e 464px)"></i>
<i style="background:linear-gradient(90deg,#00008a 0,#000093 76px,#0000a0 96px,#0000b1 104px,#0000c8 109px,#0000e2 112px,#0002fc 114px,#0025ff 116px,#006fff 119px,#00a5ff 121px,#00baff 122px,#00c7ff 123px,#0cf 124px,#00caff 125px,#00c0ff 126px,#00adff 127px,#0045ff 131px,#001cff 133px,#000bff 134px,#0000f8 135px,#0000da 138px,#0000c6 142px,#0000b8 149px,#0000b5 165px,#0000c4 185px,#0000d9 195px,#0000f5 201px,#0002fc 202px,#001dff 205px,#0046ff 208px,#006dff 210px,#0086ff 211px,#00d0ff 213px,#00fbda 214px,#06ffa4 215px,#15ff62 216px,#45ff19 217px,#90ff0b 218px,#c0ff00 219px,#e3ff00 220px,#f3f600 221px,#f1f800 223px,#dbff00 224px,#97ff09 225px,#13ff6b 226px,#00d8ff 227px,#006dff 228px,#002cff 229px,#0002fc 230px,#0000e1 231px,#0000d0 232px,#0000c9 233px,#0000d8 234px,#0000ef 235px,#0019ff 236px,#004cff 237px,#00c3ff 239px,#00e4f5 240px,#00eeea 241px,#00efe8 243px,#00e7f1 244px,#00d7ff 245px,#00a6ff 247px,#0071ff 249px,#0036ff 252px,#000eff 255px,#0003fd 256px,#0000e6 259px,#00c 265px,#00b 275px,#0000b3 295px,#0000ba 309px,#0000cd 317px,#0000e7 322px,#0000f8 324px,#0008ff 325px,#0032ff 328px,#005aff 330px,#0073ff 331px,#0091ff 332px,#00b6ff 333px,#00dffb 334px,#00ffc5 335px,#0cff8a 336px,#1dff2d 337px,#7cff10 338px,#b9ff00 339px,#eff900 340px,#ffd700 341px,#ffc100 342px,#ffb700 343px,#ffb600 344px,#ffbd00 345px,#ffd000 346px,#fbf000 347px,#c7ff00 348px,#8cff0c 349px,#2dff1c 350px,#10ff7b 351px,#00ffb7 352px,#00eaee 353px,#00bfff 354px,#09f 355px,#0079ff 356px,#0046ff 358px,#0020ff 360px,#0003fd 362px,#0000de 365px,#0000bd 370px,#0000a3 378px,#000090 392px,#000083 426px,#00007f 464px)"></i>
<i style="background:linear-gradient(90deg,#00008a 0,#000093 76px,#0000a0 96px,#0000b1 104px,#0000c9 109px,#0000e3 112px,#0003fd 114px,#0026ff 116px,#009aff 121px,#00abff 122px,#00b4ff 123px,#00b5ff 124px,#00b1ff 125px,#00a5ff 126px,#007aff 128px,#0035ff 131px,#0010ff 133px,#0002fc 134px,#00d 137px,#0000c7 141px,#0000b8 148px,#0000b5 163px,#0000c2 184px,#0000d5 194px,#0000ed 200px,#0000fa 202px,#0010ff 204px,#03f 207px,#0053ff 209px,#007eff 211px,#009eff 212px,#00c3ff 213px,#00edea 214px,#01ffb5 215px,#10ff7c 216px,#23ff1e 217px,#7fff0f 218px,#b1ff02 219px,#d9ff00 220px,#f1f700 221px,#f6f400 222px,#f5f400 223px,#ebfc00 224px,#bfff00 225px,#46ff19 226px,#00ffbe 227px,#0098ff 228px,#0047ff 229px,#0013ff 230px,#0000ec 231px,#0000d7 232px,#0000cf 233px,#0000e1 234px,#0004fe 235px,#002eff 236px,#0065ff 237px,#00a4ff 238px,#00d4ff 239px,#00e9f0 240px,#00eeea 242px,#00ebec 243px,#00e0fa 244px,#00cdff 245px,#007fff 248px,#0041ff 251px,#0015ff 254px,#0000fa 256px,#0000df 260px,#0000c9 266px,#0000b9 278px,#0000b4 299px,#0000bf 311px,#0000d3 318px,#0000f0 323px,#0000f9 324px,#0009ff 325px,#0031ff 328px,#0057ff 330px,#008bff 332px,#00d4ff 334px,#00ffd5 335px,#07ff9d 336px,#17ff51 337px,#60ff15 338px,#a8ff04 339px,#e5ff00 340px,#ffd600 341px,#ffb500 342px,#ffa000 343px,#ff9600 344px,#ff9600 345px,#ff9d00 346px,#ffb000 347px,#ffcf00 348px,#f0f900 349px,#b4ff01 350px,#74ff12 351px,#1aff3d 352px,#0aff93 353px,#0fc 354px,#00dbff 355px,#0090ff 357px,#0059ff 359px,#002fff 361px,#0003fd 364px,#0000d7 368px,#0000ba 373px,#0000a2 381px,#00008f 396px,#000082 432px,#00007f 464px)"></i>
<i style="background:linear-gradient(90deg,#00008a 0,#000093 76px,#0000a1 96px,#0000b2 104px,#0000ca 109px,#0000e5 112px,#0000f1 113px,#0006ff 114px,#003dff 117px,#007eff 120px,#0090ff 121px,#009cff 122px,#00a0ff 123px,#00a0ff 124px,#09f 125px,#0078ff 127px,#0025ff 131px,#0006ff 133px,#0000f3 134px,#0000d8 137px,#0000c1 142px,#0000b5 150px,#0000b7 169px,#0000c6 187px,#0000db 196px,#0000f2 201px,#0000f8 202px,#0006ff 203px,#02f 206px,#004eff 209px,#07f 211px,#0094ff 212px,#00dffa 214px,#00ffc7 215px,#0bff8f 216px,#1aff3e 217px,#67ff14 218px,#a1ff06 219px,#cdff00 220px,#ecfc00 221px,#f7f300 222px,#f3f600 224px,#daff00 225px,#8fff0b 226px,#10ff7a 227px,#00ceff 228px,#0067ff 229px,#0028ff 230px,#0000f9 231px,#0000df 232px,#0000d6 233px,#0000ec 234px,#0015ff 235px,#0045ff 236px,#0bf 238px,#00defc 239px,#00eaee 240px,#00ecec 242px,#00e6f2 243px,#00d8ff 244px,#0af 246px,#07f 248px,#003bff 251px,#01f 254px,#0007ff 255px,#0000f7 256px,#00d 260px,#0000c6 267px,#0000b8 280px,#0000b6 300px,#0000c2 312px,#0000d8 319px,#0000f1 323px,#0000fa 324px,#0009ff 325px,#002fff 328px,#0052ff 330px,#0082ff 332px,#00c5ff 334px,#00eee9 335px,#01ffb5 336px,#10ff7b 337px,#2cff1d 338px,#8cff0c 339px,#cdff00 340px,#ffe300 341px,#ffb900 342px,#ff9800 343px,#ff8300 344px,#ff7900 345px,#ff7800 346px,#ff7f00 347px,#ff9100 348px,#ffae00 349px,#ffd600 350px,#dfff00 351px,#9fff07 352px,#4cff18 353px,#15ff63 354px,#05ffa5 355px,#00fadc 356px,#00d0ff 357px,#0089ff 359px,#0056ff 361px,#002eff 363px,#0004fe 366px,#0000e9 368px,#0000c6 373px,#0000ab 380px,#000096 392px,#000086 417px,#00007f 464px)"></i>
<i style="background:linear-gradient(90deg,#00008a 0,#000093 76px,#0000a1 96px,#0000b3 104px,#0000cd 109px,#0000e9 112px,#0000f5 113px,#000aff 114px,#0040ff 117px,#0078ff 120px,#0084ff 121px,#008bff 122px,#0089ff 124px,#0072ff 126px,#0017ff 131px,#0008ff 132px,#0000f5 133px,#0000da 136px,#0000c5 140px,#0000b7 147px,#0000b4 163px,#0000c3 185px,#0000d7 195px,#0000f0 201px,#0004fe 203px,#001fff 206px,#0048ff 209px,#0070ff 211px,#0089ff 212px,#00d2ff 214px,#00fdd9 215px,#06ffa3 216px,#15ff62 217px,#43ff19 218px,#8fff0b 219px,#beff00 220px,#e3ff00 221px,#f6f300 222px,#f7f200 224px,#ebfc00 225px,#b9ff00 226px,#2eff1c 227px,#00ffce 228px,#008dff 229px,#0041ff 230px,#000fff 231px,#0000e9 232px,#0000de 233px,#0000f9 234px,#0028ff 235px,#005eff 236px,#009aff 237px,#00cdff 238px,#00e4f5 239px,#00eaee 240px,#00e9ef 242px,#00e0f9 243px,#00cfff 244px,#009fff 246px,#006eff 248px,#0035ff 251px,#000dff 254px,#0003fd 255px,#0000e7 258px,#0000cd 264px,#0000bc 274px,#0000b5 294px,#0000be 309px,#0000d1 317px,#0000e9 322px,#0000f9 324px,#0008ff 325px,#002bff 328px,#0060ff 331px,#0093ff 333px,#00d9ff 335px,#00ffd2 336px,#08ff9c 337px,#17ff53 338px,#5cff16 339px,#a8ff05 340px,#e9fe00 341px,#ffcd00 342px,#ffa200 343px,#ff8000 344px,#ff6a00 345px,#ff5f00 346px,#ff5d00 347px,#ff6200 348px,#ff7200 349px,#ff8d00 350px,#ffb300 351px,#ffe200 352px,#cdff00 353px,#8bff0c 354px,#29ff1d 355px,#10ff7c 356px,#01ffb4 357px,#00f0e8 358px,#00c7ff 359px,#0085ff 361px,#0054ff 363px,#001fff 366px,#0005ff 368px,#0000ea 370px,#0000c7 375px,#0000ac 382px,#000097 394px,#000087 419px,#00007f 464px)"></i>
<i style="background:linear-gradient(90deg,#00008a 0,#000093 75px,#0000a1 95px,#0000b2 103px,#0000c9 108px,#0000e2 111px,#0001fb 113px,#001fff 115px,#0064ff 119px,#07f 121px,#0079ff 123px,#0069ff 125px,#0009ff 131px,#0000f7 132px,#0000db 135px,#0000c6 139px,#0000b7 146px,#0000b4 162px,#0000c3 185px,#0000d6 195px,#00e 201px,#0001fb 203px,#001cff 206px,#0043ff 209px,#0068ff 211px,#007fff 212px,#009fff 213px,#00c4ff 214px,#00edea 215px,#01ffb6 216px,#0fff7e 217px,#1fff1f 218px,#7cff10 219px,#aeff03 220px,#d7ff00 221px,#f2f700 222px,#faf100 223px,#f9f100 224px,#f4f500 225px,#d6ff00 226px,#83ff0e 227px,#0cff8c 228px,#00bfff 229px,#005eff 230px,#02f 231px,#0000f6 232px,#0000e8 233px,#000fff 234px,#003eff 235px,#00b2ff 237px,#00d8ff 238px,#00e6f2 239px,#00e9ef 241px,#00e5f3 242px,#00d9ff 243px,#00aeff 245px,#007bff 247px,#003fff 250px,#0014ff 253px,#0000fa 255px,#0000df 259px,#0000ca 265px,#0000ba 277px,#0000b6 298px,#0000c1 311px,#0000d3 318px,#0000ed 323px,#0003fd 325px,#0023ff 328px,#0052ff 331px,#007fff 333px,#00bdff 335px,#00e3f6 336px,#00ffc6 337px,#0bff8f 338px,#1aff3b 339px,#74ff12 340px,#b6ff01 341px,#f8f200 342px,#ffbf00 343px,#ff9200 344px,#ff6e00 345px,#ff5600 346px,#ff4900 347px,#ff4500 348px,#ff4800 349px,#f50 350px,#ff6e00 351px,#ff9200 352px,#ffbe00 353px,#f9f100 354px,#b7ff00 355px,#75ff12 356px,#1bff3a 357px,#0bff8f 358px,#00ffc5 359px,#00e3f6 360px,#00bdff 361px,#007eff 363px,#0050ff 365px,#001dff 368px,#0004fe 370px,#0000ea 372px,#0000c8 377px,#0000ad 384px,#000097 396px,#000087 421px,#000080 464px)"></i>
<i style="background:linear-gradient(90deg,#00008a 0,#000093 75px,#0000a0 94px,#0000b4 103px,#0000ce 108px,#0000e8 111px,#0000f4 112px,#0007ff 113px,#0053ff 118px,#06f 120px,#0069ff 122px,#005dff 124px,#0034ff 127px,#0009ff 130px,#0000f7 131px,#0000db 134px,#0000c3 139px,#0000b5 147px,#0000b5 165px,#0000c4 186px,#0000d8 196px,#0000f2 202px,#0000f9 203px,#0006ff 204px,#0023ff 207px,#004eff 210px,#07f 212px,#0093ff 213px,#00defc 215px,#00ffc9 216px,#0aff93 217px,#19ff45 218px,#5fff15 219px,#9dff07 220px,#c9ff00 221px,#eafd00 222px,#faf000 223px,#f9f100 225px,#e8fe00 226px,#aeff03 227px,#1cff30 228px,#00f5e2 229px,#0080ff 230px,#0039ff 231px,#000aff 232px,#0000f5 233px,#0021ff 234px,#05f 235px,#0090ff 236px,#00c5ff 237px,#00dffa 238px,#00e7f2 239px,#00e7f2 241px,#00e0fa 242px,#00d0ff 243px,#00a3ff 245px,#0072ff 247px,#0038ff 250px,#0010ff 253px,#0006ff 254px,#0000f7 255px,#00d 259px,#0000c7 266px,#0000b8 279px,#0000b7 300px,#0000c2 312px,#0000d6 319px,#0000f0 324px,#0000f8 325px,#0007ff 326px,#0027ff 329px,#0057ff 332px,#0084ff 334px,#00c3ff 336px,#00e9f0 337px,#00ffbf 338px,#0dff89 339px,#1cff30 340px,#7aff10 341px,#bcff00 342px,#ffec00 343px,#ffb800 344px,#ff8900 345px,#ff6300 346px,#ff4700 347px,#ff3600 348px,#ff3000 349px,#ff3200 350px,#ff3b00 351px,#ff5000 352px,#ff7000 353px,#ff9a00 354px,#ffcb00 355px,#e7ff00 356px,#a4ff06 357px,#54ff17 358px,#16ff59 359px,#07ff9e 360px,#00ffd2 361px,#00daff 362px,#0096ff 364px,#0062ff 366px,#002aff 369px,#0004fe 372px,#0000ea 374px,#0000c9 379px,#0000ae 386px,#000098 398px,#008 422px,#000080 464px)"></i>
<i style="background:linear-gradient(90deg,#00008a 0,#000093 74px,#0000a2 94px,#0000b4 102px,#00c 107px,#0000ef 111px,#0001fa 112px,#001bff 114px,#004fff 118px,#005aff 120px,#0058ff 122px,#0048ff 124px,#0007ff 129px,#0000f6 130px,#0000d5 134px,#0000c1 139px,#0000b4 148px,#0000b6 169px,#0000c6 188px,#0000da 197px,#0000f7 203px,#0004fe 204px,#001fff 207px,#0048ff 210px,#006fff 212px,#0087ff 213px,#00cfff 215px,#00f9dd 216px,#04ffa8 217px,#13ff6c 218px,#38ff1b 219px,#89ff0c 220px,#baff00 221px,#e0ff00 222px,#f7f300 223px,#fcef00 224px,#fbef00 225px,#f3f500 226px,#ceff00 227px,#71ff13 228px,#06ffa2 229px,#00aeff 230px,#0053ff 231px,#001bff 232px,#0009ff 233px,#0035ff 234px,#00a8ff 236px,#00d2ff 237px,#00e2f7 238px,#00e6f3 240px,#00e4f5 241px,#00d9ff 242px,#00b1ff 244px,#007eff 246px,#0042ff 249px,#0017ff 252px,#0002fc 254px,#0000e0 258px,#0000cb 264px,#00b 275px,#0000b6 297px,#0000c0 311px,#0000d3 319px,#0000ec 324px,#0000fa 326px,#0013ff 328px,#0038ff 331px,#006fff 334px,#0087ff 335px,#00c5ff 337px,#00eaee 338px,#00ffbe 339px,#0dff89 340px,#1cff31 341px,#79ff11 342px,#bf0 343px,#ffec00 344px,#ff8600 346px,#ff5d00 347px,#ff3d00 348px,#ff2900 349px,#ff1f00 350px,#ff1e00 351px,#ff2400 352px,#ff3400 353px,#ff4f00 354px,#ff7500 355px,#ffa300 356px,#ffd700 357px,#d7ff00 358px,#93ff0a 359px,#39ff1b 360px,#13ff71 361px,#04ffa9 362px,#00fadc 363px,#00d3ff 364px,#0092ff 366px,#0060ff 368px,#002aff 371px,#0004fe 374px,#0000eb 376px,#0000ca 381px,#0000af 388px,#000098 400px,#008 424px,#000080 464px)"></i>
<i style="background:linear-gradient(90deg,#00008a 0,#000093 73px,#0000a2 93px,#0000b3 101px,#0000ca 106px,#0000eb 110px,#0000f6 111px,#0008ff 112px,#0038ff 116px,#0048ff 118px,#004cff 120px,#0045ff 122px,#0028ff 125px,#0005ff 128px,#0000eb 130px,#0000d0 134px,#0000bc 140px,#0000b3 151px,#0000ba 176px,#0000ca 191px,#0000e0 199px,#0001fb 204px,#01f 206px,#03f 209px,#06f 212px,#007dff 213px,#009bff 214px,#00bfff 215px,#00e8f0 216px,#00ffbd 217px,#0dff86 218px,#1cff2d 219px,#74ff12 220px,#a8ff04 221px,#d3ff00 222px,#f1f800 223px,#fcee00 224px,#f9f100 226px,#e4ff00 227px,#a0ff07 228px,#16ff59 229px,#00e0fa 230px,#0072ff 231px,#0030ff 232px,#001aff 233px,#004bff 234px,#00bcff 236px,#00daff 237px,#00e3f6 238px,#00e5f4 240px,#00dffb 241px,#00d1ff 242px,#00a6ff 244px,#0074ff 246px,#003bff 249px,#0012ff 252px,#0007ff 253px,#0000f8 254px,#0000de 258px,#0000c7 265px,#0000b9 278px,#0000b6 300px,#0000c2 313px,#0000d8 321px,#0000f4 326px,#0002fc 327px,#001fff 330px,#0049ff 333px,#006fff 335px,#00a3ff 337px,#00c3ff 338px,#00e8f1 339px,#00ffc2 340px,#0bff8e 341px,#1aff3d 342px,#70ff13 343px,#b3ff02 344px,#f6f300 345px,#ffbd00 346px,#ff8a00 347px,#ff5e00 348px,#ff3a00 349px,#ff2000 350px,#ff1200 351px,#ff0e00 352px,#ff1000 353px,#ff1b00 354px,#ff3000 355px,#ff5100 356px,#ff7b00 357px,#ffe100 359px,#c9ff00 360px,#87ff0d 361px,#24ff1e 362px,#10ff7c 363px,#02ffb2 364px,#00f4e2 365px,#00cfff 366px,#008fff 368px,#005fff 370px,#002aff 373px,#0005ff 376px,#0000f5 377px,#0000d0 382px,#0000b3 389px,#00009c 400px,#00008a 421px,#000081 464px)"></i>
<i style="background:linear-gradient(90deg,#00008a 0,#000093 72px,#0000a2 92px,#0000b7 101px,#0000d0 106px,#0000f2 110px,#0003fd 111px,#0036ff 116px,#003fff 118px,#003eff 120px,#002aff 123px,#000bff 126px,#0001fb 127px,#0000da 131px,#0000c4 136px,#0000b5 144px,#0000b3 162px,#0000c3 186px,#0000d5 196px,#0000ec 202px,#0000f8 204px,#0005ff 205px,#0021ff 208px,#004bff 211px,#0073ff 213px,#008dff 214px,#00d6ff 216px,#00ffd3 217px,#07ff9d 218px,#16ff58 219px,#4cff18 220px,#94ff0a 221px,#c3ff00 222px,#e7ff00 223px,#fbf000 224px,#fcee00 226px,#f0f800 227px,#bfff00 228px,#3aff1b 229px,#00ffc9 230px,#008fff 231px,#0041ff 232px,#0028ff 233px,#005eff 234px,#09f 235px,#00c9ff 236px,#00defc 237px,#00e3f6 238px,#00e2f7 240px,#00d9ff 241px,#00b2ff 243px,#0080ff 245px,#04f 248px,#0017ff 251px,#0003fd 253px,#0000e1 257px,#0000cb 263px,#00b 274px,#0000b5 296px,#0000be 311px,#0000d2 320px,#00e 326px,#0002fc 328px,#002bff 332px,#005aff 335px,#0084ff 337px,#00bfff 339px,#00e2f7 340px,#00ffca 341px,#09ff98 342px,#17ff52 343px,#58ff16 344px,#a4ff05 345px,#e7ff00 346px,#ffc900 347px,#ff6500 349px,#ff3d00 350px,#ff1e00 351px,#ff0b00 352px,#ff0200 353px,#f00 354px,#ff0600 355px,#ff1500 356px,#ff2f00 357px,#ff5400 358px,#ff8100 359px,#ffe900 361px,#bfff00 362px,#7dff10 363px,#1dff27 364px,#0eff82 365px,#01ffb7 366px,#00f1e6 367px,#0cf 368px,#008eff 370px,#005fff 372px,#002bff 375px,#0006ff 378px,#0000f6 379px,#0000d1 384px,#0000b4 391px,#00009c 402px,#00008b 423px,#000081 464px)"></i>
<i style="background:linear-gradient(90deg,#00008a 0,#000093 71px,#0000a2 91px,#0000b7 100px,#0000d0 105px,#0000f9 110px,#0009ff 111px,#002cff 115px,#0034ff 118px,#0028ff 121px,#0006ff 125px,#0000f6 126px,#0000d3 131px,#0000be 137px,#0000b3 147px,#0000b7 171px,#0000c7 190px,#0000dc 199px,#0000f4 204px,#0001fb 205px,#01f 207px,#03f 210px,#0053ff 212px,#007eff 214px,#009eff 215px,#00c2ff 216px,#00ecec 217px,#00ffb7 218px,#0fff7f 219px,#1fff1f 220px,#7dff10 221px,#b0ff02 222px,#daff00 223px,#f5f400 224px,#feed00 225px,#fded00 226px,#f7f300 227px,#d2ff00 228px,#6fff13 229px,#03ffac 230px,#00a1ff 231px,#004aff 232px,#0031ff 233px,#00a7ff 235px,#00d1ff 236px,#00e0fa 237px,#00e3f7 239px,#00defc 240px,#00d1ff 241px,#00a6ff 243px,#0060ff 246px,#002bff 249px,#0007ff 252px,#0000f7 253px,#00d 257px,#0000c7 264px,#0000b8 277px,#0000b6 301px,#0000c3 315px,#0000d9 323px,#0000f4 328px,#0002fc 329px,#002aff 333px,#0057ff 336px,#0080ff 338px,#00b8ff 340px,#00d9ff 341px,#00ffd6 342px,#05ffa6 343px,#13ff70 344px,#36ff1b 345px,#8fff0b 346px,#d1ff00 347px,#ffdb00 348px,#ff7300 350px,#ff4700 351px,#ff2300 352px,#ff0900 353px,#f00 354px,#f00 357px,#f10 358px,#ff2f00 359px,#ff5600 360px,#ffb900 362px,#fbef00 363px,#b8ff00 364px,#7f1 365px,#1cff30 366px,#0dff86 367px,#00ffb9 368px,#00f0e8 369px,#0cf 370px,#008fff 372px,#0060ff 374px,#002dff 377px,#0008ff 380px,#0000f8 381px,#0000d3 386px,#0000b5 393px,#00009d 404px,#00008b 425px,#000081 464px)"></i>
<i style="background:linear-gradient(90deg,#00008a 0,#000094 70px,#0000a1 89px,#0000b4 98px,#0000cf 104px,#0000f6 109px,#0005ff 110px,#0023ff 114px,#0029ff 117px,#001eff 120px,#0008ff 123px,#0000f9 124px,#0000d6 129px,#0000c0 135px,#0000b3 145px,#0000b5 168px,#0000c4 189px,#0000d9 199px,#0000f6 205px,#0003fd 206px,#001eff 209px,#0048ff 212px,#0070ff 214px,#008bff 215px,#00d5ff 217px,#00ffd3 218px,#08ff9b 219px,#17ff52 220px,#56ff17 221px,#9aff08 222px,#c9ff00 223px,#ecfc00 224px,#fdee00 225px,#fbef00 227px,#dfff00 228px,#85ff0e 229px,#08ff9b 230px,#00a8ff 231px,#004bff 232px,#0035ff 233px,#00b1ff 235px,#00d6ff 236px,#00e1f9 237px,#00e1f8 239px,#00d8ff 240px,#00c8ff 241px,#09f 243px,#0069ff 245px,#0031ff 248px,#000aff 251px,#0000fa 252px,#0000df 256px,#0000c9 262px,#0000ba 274px,#0000b4 298px,#0000bf 314px,#0000d5 323px,#0000f4 329px,#0001fb 330px,#0012ff 332px,#0034ff 335px,#0065ff 338px,#0092ff 340px,#00ceff 342px,#00f1e6 343px,#00ffb8 344px,#0dff86 345px,#1cff31 346px,#76ff12 347px,#b6ff01 348px,#f8f200 349px,#ffbc00 350px,#ff5700 352px,#ff2e00 353px,#ff0e00 354px,#f00 355px,#f00 356px,#fa0000 357px,#f00 358px,#f00 359px,#ff0f00 360px,#ff2f00 361px,#ff5800 362px,#ffbd00 364px,#f6f300 365px,#b4ff01 366px,#74ff12 367px,#1bff34 368px,#0dff87 369px,#00ffba 370px,#00f0e7 371px,#00cdff 372px,#0091ff 374px,#0062ff 376px,#002fff 379px,#000aff 382px,#0000fa 383px,#0000d5 388px,#0000b6 395px,#00009e 406px,#00008c 427px,#000082 464px)"></i>
<i style="background:linear-gradient(90deg,#00008a 0,#000094 69px,#0000a2 88px,#0000b5 97px,#0000cf 103px,#0001fb 109px,#0010ff 111px,#001dff 114px,#001dff 117px,#0008ff 121px,#0001fa 122px,#0000d4 128px,#0000bf 134px,#0000b2 144px,#0000b4 168px,#0000c4 190px,#0000da 200px,#0000f1 205px,#0005ff 207px,#02f 210px,#004fff 213px,#007aff 215px,#09f 216px,#00beff 217px,#00e9ef 218px,#00ffb9 219px,#0fff7e 220px,#22ff1e 221px,#81ff0f 222px,#b5ff01 223px,#dfff00 224px,#f9f100 225px,#feed00 226px,#fdee00 227px,#e9fe00 228px,#96ff09 229px,#0bff8f 230px,#0af 231px,#0048ff 232px,#0038ff 233px,#00baff 235px,#00dbff 236px,#00e1f8 237px,#00defc 239px,#00d1ff 240px,#00a5ff 242px,#0073ff 244px,#0037ff 247px,#000dff 250px,#0003fd 251px,#0000e0 255px,#0000ca 261px,#0000ba 272px,#0000b4 297px,#0000be 314px,#0000d1 323px,#0000ec 329px,#0000f9 331px,#0007ff 332px,#0030ff 336px,#005eff 339px,#08f 341px,#00c1ff 343px,#00e2f7 344px,#00ffcd 345px,#07ff9d 346px,#15ff61 347px,#43ff19 348px,#96ff09 349px,#d7ff00 350px,#ffd700 351px,#ff6f00 353px,#ff4100 354px,#ff1b00 355px,#f00 356px,#fd0000 357px,#ec0000 358px,#ea0000 359px,#f00 361px,#ff0d00 362px,#ff2f00 363px,#ff5900 364px,#ffbe00 366px,#f5f400 367px,#b3ff01 368px,#74ff12 369px,#1cff33 370px,#0dff86 371px,#00ffb8 372px,#00f2e5 373px,#00cfff 374px,#0094ff 376px,#0065ff 378px,#0032ff 381px,#000dff 384px,#0003fd 385px,#0000d7 390px,#0000b8 397px,#00009f 408px,#00008d 428px,#000082 464px)"></i>
<i style="background:linear-gradient(90deg,#00008a 0,#000094 67px,#0000a2 87px,#0000b5 96px,#0000cf 102px,#0000f7 108px,#0004fe 109px,#0015ff 113px,#0013ff 116px,#0006ff 119px,#0000fa 120px,#0000d1 127px,#00b 134px,#0000b1 146px,#0000b7 175px,#0000c7 193px,#0000da 201px,#0000f2 206px,#0000f9 207px,#0006ff 208px,#0025ff 211px,#05f 214px,#0084ff 216px,#00a8ff 217px,#00d0ff 218px,#00fed7 219px,#07ff9d 220px,#17ff51 221px,#5bff16 222px,#9fff07 223px,#cfff00 224px,#f0f800 225px,#feed00 226px,#feed00 227px,#f2f700 228px,#a8ff04 229px,#0fff81 230px,#00acff 231px,#0046ff 232px,#003dff 233px,#00c4ff 235px,#00defc 236px,#00e1f9 238px,#00d9ff 239px,#00c8ff 240px,#0097ff 242px,#06f 244px,#002cff 247px,#0006ff 250px,#0000f6 251px,#0000dc 255px,#0000c5 262px,#0000b7 276px,#0000b4 303px,#0000c0 317px,#0000d7 326px,#0000f7 332px,#0004fe 333px,#002bff 337px,#0057ff 340px,#007eff 342px,#00b2ff 344px,#00d1ff 345px,#00f4e3 346px,#01ffb7 347px,#0dff85 348px,#1cff34 349px,#73ff12 350px,#b1ff02 351px,#f2f700 352px,#ffc100 353px,#ff5c00 355px,#ff3000 356px,#ff0c00 357px,#f00 358px,#ea0000 359px,#d00 360px,#d00 361px,#e80000 362px,#f00 363px,#ff0a00 364px,#ff2d00 365px,#ff5800 366px,#ffbd00 368px,#f7f300 369px,#b6ff01 370px,#7f1 371px,#1dff2c 372px,#0eff82 373px,#01ffb3 374px,#00f6e0 375px,#00d3ff 376px,#0098ff 378px,#0069ff 380px,#0035ff 383px,#0010ff 386px,#0005ff 387px,#0000f6 388px,#0000d3 393px,#0000b6 400px,#00009e 411px,#00008c 432px,#000083 464px)"></i>
<i style="background:linear-gradient(90deg,#00008b 0,#000094 66px,#0000a3 86px,#0000b6 95px,#0000d5 102px,#0000fa 108px,#0009ff 110px,#000dff 114px,#0003fd 117px,#0000db 123px,#0000c0 130px,#0000b2 140px,#0000b1 162px,#0000c0 189px,#0000d4 200px,#0000ed 206px,#0000fa 208px,#0012ff 210px,#0038ff 213px,#005dff 215px,#0074ff 216px,#0092ff 217px,#00b9ff 218px,#00e4f5 219px,#00ffbc 220px,#0fff7f 221px,#26ff1e 222px,#85ff0e 223px,#bf0 224px,#e4ff00 225px,#fbf000 226px,#feed00 227px,#f8f200 228px,#bdff00 229px,#15ff61 230px,#00b8ff 231px,#0049ff 232px,#0048ff 233px,#0093ff 234px,#00cfff 235px,#00e0f9 236px,#00defb 238px,#00d2ff 239px,#00beff 240px,#0070ff 243px,#0032ff 246px,#0009ff 249px,#0000f9 250px,#00d 254px,#0000c8 260px,#0000b8 272px,#0000b3 299px,#0000bd 316px,#0000cf 325px,#0000e8 331px,#0001fb 334px,#0012ff 336px,#0032ff 339px,#0060ff 342px,#0089ff 344px,#00bfff 346px,#00dffa 347px,#00ffd1 348px,#06ffa4 349px,#13ff71 350px,#2fff1c 351px,#88ff0d 352px,#c7ff00 353px,#ffe500 354px,#ff7c00 356px,#ff4d00 357px,#ff2300 358px,#ff0100 359px,#f70000 360px,#db0000 361px,#d10000 362px,#d20000 363px,#df0000 364px,#fe0000 365px,#ff0700 366px,#ff2a00 367px,#f50 368px,#ffba00 370px,#fbef00 371px,#bf0 372px,#7dff10 373px,#1eff22 374px,#10ff7c 375px,#03ffad 376px,#00fcda 377px,#00d8ff 378px,#009dff 380px,#006eff 382px,#0039ff 385px,#0013ff 388px,#0009ff 389px,#0000f9 390px,#0000d5 395px,#0000b7 402px,#00009f 413px,#00008d 433px,#000083 464px)"></i>
<i style="background:linear-gradient(90deg,#00008b 0,#000094 65px,#0000a3 85px,#0000ba 95px,#0000da 102px,#0000fa 108px,#0006ff 111px,#0002fc 114px,#0000c7 126px,#0000b4 135px,#0000af 152px,#0000bc 186px,#0000ce 199px,#0000e2 205px,#0001fb 209px,#0014ff 211px,#003cff 214px,#0064ff 216px,#007eff 217px,#00a1ff 218px,#00caff 219px,#00fadc 220px,#07ffa0 221px,#17ff50 222px,#61ff15 223px,#a4ff05 224px,#d4ff00 225px,#f4f500 226px,#fdee00 227px,#fbef00 228px,#d1ff00 229px,#1cff30 230px,#00c7ff 231px,#004eff 232px,#0056ff 233px,#00a6ff 234px,#00d8ff 235px,#00e1f8 236px,#00e1f8 237px,#00daff 238px,#00c8ff 239px,#0095ff 241px,#0062ff 243px,#0027ff 246px,#000cff 248px,#0001fb 249px,#00d 253px,#0000c7 259px,#0000b8 271px,#0000b2 300px,#0000bc 317px,#0000d0 327px,#0000eb 333px,#0000f7 335px,#0005ff 336px,#002bff 340px,#0056ff 343px,#007bff 345px,#00adff 347px,#00caff 348px,#00ebed 349px,#00ffc3 350px,#0aff94 351px,#17ff53 352px,#4eff18 353px,#9aff08 354px,#d9ff00 355px,#ffd700 356px,#ff7000 358px,#ff4100 359px,#ff1900 360px,#f00 361px,#d00000 363px,#c70000 364px,#c80000 365px,#d70000 366px,#f60000 367px,#ff0300 368px,#ff2600 369px,#ff5100 370px,#ffb500 372px,#ffe900 373px,#c2ff00 374px,#85ff0e 375px,#2aff1d 376px,#12ff74 377px,#05ffa5 378px,#00ffd2 379px,#00dffb 380px,#00a3ff 382px,#0073ff 384px,#003dff 387px,#0017ff 390px,#0003fc 392px,#0000d8 397px,#0000b9 404px,#0000a0 415px,#00008d 435px,#000084 464px)"></i>
<i style="background:linear-gradient(90deg,#00008b 0,#000094 64px,#0000a2 83px,#0000b7 93px,#0000d9 101px,#0000f5 107px,#0000f8 111px,#0000e8 116px,#0000c3 125px,#0000b3 134px,#0000ae 152px,#0000bd 188px,#0000ce 200px,#0000e2 206px,#0002fc 210px,#0021ff 213px,#0040ff 215px,#006bff 217px,#08f 218px,#00afff 219px,#00ddfe 220px,#00ffc3 221px,#0eff82 222px,#27ff1d 223px,#89ff0d 224px,#c0ff00 225px,#e8fe00 226px,#fbf000 227px,#fbef00 228px,#e0ff00 229px,#39ff1b 230px,#00d3ff 231px,#0051ff 232px,#0064ff 233px,#00b8ff 234px,#00defc 235px,#00e2f8 236px,#00dffb 237px,#00d2ff 238px,#00bcff 239px,#006aff 242px,#003eff 244px,#000eff 247px,#0003fd 248px,#0000e3 251px,#0000cd 256px,#0000bc 265px,#0000b2 288px,#0000b6 313px,#0000c7 325px,#00d 332px,#0001fa 337px,#01f 339px,#003dff 343px,#006eff 346px,#009aff 348px,#00d3ff 350px,#00f5e2 351px,#00ffb7 352px,#0dff88 353px,#1aff3d 354px,#65ff14 355px,#a7ff05 356px,#e5ff00 357px,#ffcd00 358px,#ff6700 360px,#ff3a00 361px,#ff1200 362px,#f00 363px,#e00000 364px,#c70000 365px,#be0000 366px,#c00000 367px,#ce0000 368px,#e00 369px,#f00 370px,#ff2100 371px,#ff4b00 372px,#ffad00 374px,#ffe100 375px,#cdff00 376px,#8fff0b 377px,#3dff1a 378px,#15ff62 379px,#08ff9b 380px,#00ffc8 381px,#00e7f1 382px,#00c7ff 383px,#0090ff 385px,#0053ff 388px,#0027ff 391px,#0006ff 394px,#0000f7 395px,#0000d5 400px,#0000b8 407px,#00009e 419px,#00008c 441px,#000084 464px)"></i>
<i style="background:linear-gradient(90deg,#00008b 0,#000094 63px,#0000a3 82px,#0000b8 92px,#0000f0 106px,#0000f1 110px,#0000d9 117px,#0000be 125px,#0000af 136px,#0000af 160px,#0000bf 192px,#0000cf 202px,#0000e7 208px,#0002fc 211px,#0023ff 214px,#04f 216px,#0073ff 218px,#0094ff 219px,#00bfff 220px,#00f0e7 221px,#05ffa7 222px,#16ff57 223px,#62ff15 224px,#a8ff04 225px,#d9ff00 226px,#f5f400 227px,#faf000 228px,#ebfd00 229px,#67ff14 230px,#00e0f9 231px,#0054ff 232px,#0075ff 233px,#00c9ff 234px,#00e1f9 235px,#00e1f8 236px,#00daff 237px,#00c7ff 238px,#005aff 242px,#0030ff 244px,#0004fe 247px,#0000eb 249px,#0000d3 253px,#0000c0 260px,#0000b4 276px,#0000b2 308px,#0000bf 323px,#0000d7 332px,#0000f6 338px,#0003fd 339px,#0028ff 343px,#0050ff 346px,#08f 349px,#00bcff 351px,#00daff 352px,#00fcd9 353px,#03ffaf 354px,#0fff7f 355px,#1dff2d 356px,#74ff12 357px,#afff02 358px,#eefa00 359px,#ffc600 360px,#ff6200 362px,#ff3500 363px,#ff0e00 364px,#f00 365px,#d90000 366px,#c00000 367px,#b80000 368px,#b90000 369px,#c60000 370px,#f00 372px,#ff1a00 373px,#ff4300 374px,#ffa400 376px,#ffd700 377px,#d9ff00 378px,#9cff08 379px,#53ff17 380px,#18ff4c 381px,#0bff8f 382px,#00ffbd 383px,#00f1e7 384px,#00d0ff 385px,#0098ff 387px,#006cff 389px,#0039ff 392px,#000aff 396px,#0001fb 397px,#0000d7 402px,#0000b9 409px,#0000a1 420px,#00008e 440px,#000085 464px)"></i>
<i style="background:linear-gradient(90deg,#00008b 0,#000094 62px,#0000a3 81px,#0000b9 91px,#0000ea 104px,#0000eb 109px,#0000bd 123px,#0000af 134px,#0000ae 158px,#0000bd 192px,#0000ce 203px,#0000e6 209px,#0002fc 212px,#0024ff 215px,#0048ff 217px,#007bff 219px,#00a1ff 220px,#00d0ff 221px,#00ffce 222px,#0dff89 223px,#24ff1e 224px,#8cff0c 225px,#c5ff00 226px,#ecfc00 227px,#f9f100 228px,#f2f700 229px,#8aff0c 230px,#00f5e2 231px,#005dff 232px,#008dff 233px,#00d6ff 234px,#00e1f8 235px,#00dffb 236px,#00d1ff 237px,#00baff 238px,#007cff 240px,#004aff 242px,#02f 244px,#0005ff 246px,#0000f4 247px,#0000d7 251px,#0000c3 257px,#0000b5 270px,#0000b0 304px,#0000ba 321px,#0000cd 331px,#0000eb 338px,#0000f8 340px,#0005ff 341px,#002bff 345px,#0053ff 348px,#008cff 351px,#00c1ff 353px,#00dffb 354px,#00ffd4 355px,#04ffa9 356px,#11ff7a 357px,#1eff23 358px,#79ff11 359px,#b4ff01 360px,#f2f600 361px,#ffc300 362px,#ff6000 364px,#f30 365px,#ff0c00 366px,#f00 367px,#d50000 368px,#bc0000 369px,#b20000 370px,#b30000 371px,#bf0000 372px,#db0000 373px,#f00 374px,#ff1200 375px,#ff3a00 376px,#ff9800 378px,#ffcb00 379px,#e8ff00 380px,#abff04 381px,#6eff13 382px,#1cff32 383px,#0eff82 384px,#02ffb0 385px,#00fbda 386px,#00daff 387px,#00a1ff 389px,#0073ff 391px,#003fff 394px,#000fff 398px,#0005ff 399px,#0000f6 400px,#0000d5 405px,#0000b5 413px,#00009d 425px,#00008b 448px,#000086 464px)"></i>
<i style="background:linear-gradient(90deg,#00008b 0,#000094 61px,#0000a4 80px,#0000b9 90px,#0000e4 102px,#0000e6 107px,#0000b8 123px,#0000ac 136px,#0000b0 169px,#0000bf 196px,#0000d0 205px,#0000e5 210px,#0002fc 213px,#0026ff 216px,#004dff 218px,#06f 219px,#0085ff 220px,#00b1ff 221px,#00e5f4 222px,#02ffb0 223px,#16ff5d 224px,#66ff14 225px,#aeff03 226px,#deff00 227px,#f5f400 228px,#f5f400 229px,#abff04 230px,#0fb 231px,#006eff 232px,#00acff 233px,#00defc 234px,#00e1f8 235px,#00daff 236px,#00c6ff 237px,#006bff 240px,#0039ff 242px,#0015ff 244px,#0007ff 245px,#0000f5 246px,#00d 249px,#0000c7 254px,#0000b8 264px,#0000af 295px,#0000b5 318px,#0000c6 330px,#0000e1 338px,#0000f9 342px,#0007ff 343px,#002dff 347px,#0056ff 350px,#007aff 352px,#00a8ff 354px,#00c4ff 355px,#00e2f7 356px,#00ffd0 357px,#05ffa6 358px,#1f7 359px,#1fff1f 360px,#7bff10 361px,#b6ff01 362px,#f3f600 363px,#ffc300 364px,#ff6000 366px,#ff3400 367px,#ff0d00 368px,#f00 369px,#d40000 370px,#b90000 371px,#ae0000 372px,#ad0000 373px,#b70000 374px,#d00000 375px,#fb0000 376px,#ff0900 377px,#ff2f00 378px,#ff8c00 380px,#ffbe00 381px,#f9f100 382px,#bcff00 383px,#81ff0f 384px,#29ff1d 385px,#13ff71 386px,#06ffa1 387px,#0fc 388px,#00e5f4 389px,#00c6ff 390px,#0092ff 392px,#0056ff 395px,#002aff 398px,#000aff 401px,#0001fb 402px,#0000d8 407px,#0000ba 414px,#0000a1 425px,#00008e 445px,#000086 464px)"></i>
<i style="background:linear-gradient(90deg,#00008b 0,#000094 60px,#0000a4 79px,#0000bd 90px,#0000e1 101px,#0000e0 106px,#0000b7 121px,#0000ab 134px,#0000af 167px,#0000bd 196px,#0000cf 206px,#0000e4 211px,#0002fc 214px,#0029ff 217px,#0053ff 219px,#006fff 220px,#0093ff 221px,#00c4ff 222px,#00fed7 223px,#0bff8d 224px,#27ff1d 225px,#92ff0a 226px,#cdff00 227px,#eff900 228px,#f5f400 229px,#caff00 230px,#0eff82 231px,#008fff 232px,#00c7ff 233px,#00e1f8 234px,#00dffa 235px,#00d1ff 236px,#00b8ff 237px,#0076ff 239px,#0040ff 241px,#0018ff 243px,#0009ff 244px,#0000f7 245px,#0000dc 248px,#0000c7 253px,#0000b7 263px,#0000ae 295px,#0000b4 319px,#0000c4 331px,#00d 339px,#0000fa 344px,#0008ff 345px,#002eff 349px,#0057ff 352px,#007bff 354px,#0af 356px,#00c5ff 357px,#00e3f6 358px,#00ffd0 359px,#05ffa5 360px,#1f7 361px,#1eff1f 362px,#7aff10 363px,#b4ff01 364px,#f0f800 365px,#ffc600 366px,#ff6300 368px,#ff3700 369px,#ff0f00 370px,#f00 371px,#d50000 372px,#b80000 373px,#ab0000 374px,#a90000 375px,#b00000 376px,#c60000 377px,#ec0000 378px,#f00 379px,#ff2400 380px,#ff7d00 382px,#ffe100 384px,#cfff00 385px,#94ff0a 386px,#4aff18 387px,#17ff52 388px,#0bff91 389px,#00ffbd 390px,#00f2e5 391px,#00d2ff 392px,#009cff 394px,#005dff 397px,#0030ff 400px,#0005ff 404px,#0000f7 405px,#0000d0 411px,#0000b3 419px,#00009b 432px,#00008a 457px,#000087 464px)"></i>
<i style="background:linear-gradient(90deg,#00008b 0,#000095 59px,#0000a5 78px,#0000be 89px,#0000dc 99px,#0000dc 104px,#0000b5 120px,#0000a9 134px,#0000b1 175px,#0000be 199px,#0000d1 208px,#0000ea 213px,#0002fc 215px,#001cff 217px,#0041ff 219px,#005aff 220px,#0079ff 221px,#00a4ff 222px,#00dbff 223px,#01ffb6 224px,#16ff5c 225px,#71ff13 226px,#b6ff01 227px,#e4ff00 228px,#f3f600 229px,#dfff00 230px,#27ff1d 231px,#00caff 232px,#00d8ff 233px,#00e1f8 234px,#00dbff 235px,#00c6ff 236px,#00a6ff 237px,#0082ff 238px,#0048ff 240px,#001cff 242px,#000cff 243px,#0000f8 244px,#0000dc 247px,#0000c6 252px,#0000b6 262px,#0000ad 296px,#0000b3 321px,#0000c4 333px,#0000de 341px,#0001fb 346px,#0010ff 348px,#003bff 352px,#0069ff 355px,#0091ff 357px,#00c5ff 359px,#00e2f7 360px,#00ffd1 361px,#05ffa7 362px,#11ff7a 363px,#1eff25 364px,#76ff12 365px,#afff03 366px,#ebfd00 367px,#ffcb00 368px,#ff6900 370px,#ff3c00 371px,#ff1400 372px,#f00 373px,#da0000 374px,#ba0000 375px,#a90000 376px,#a50000 377px,#a00 378px,#bc0000 379px,#f00 381px,#ff1800 382px,#ff6e00 384px,#ffd000 386px,#e5ff00 387px,#a9ff04 388px,#6eff13 389px,#1cff2f 390px,#0fff7e 391px,#03ffac 392px,#00ffd5 393px,#00dffb 394px,#00a7ff 396px,#06f 399px,#0037ff 402px,#000aff 406px,#0001fb 407px,#0000d9 412px,#0000b8 420px,#00009f 432px,#00008c 454px,#008 464px)"></i>
<i style="background:linear-gradient(90deg,#00008b 0,#000095 58px,#0000a4 76px,#0000bc 87px,#0000d8 97px,#0000d9 102px,#0000b2 119px,#0000a8 134px,#0000b4 186px,#0000c1 203px,#0000d3 210px,#0000ea 214px,#0002fc 216px,#001dff 218px,#0046ff 220px,#0061ff 221px,#0084ff 222px,#00b7ff 223px,#00f5e2 224px,#0aff91 225px,#2cff1d 226px,#9aff08 227px,#d5ff00 228px,#f0f800 229px,#e9fe00 230px,#81ff0f 231px,#00ffc1 232px,#00dffa 233px,#00e1f9 234px,#00d3ff 235px,#00b7ff 236px,#006fff 238px,#0037ff 240px,#000eff 242px,#0000fa 243px,#0000dc 246px,#0000c8 250px,#0000b9 258px,#0000ae 283px,#0000af 318px,#0000bd 332px,#0000d5 341px,#0000f4 347px,#0001fb 348px,#01f 350px,#003bff 354px,#0068ff 357px,#0090ff 359px,#00c3ff 361px,#00e0f9 362px,#00ffd4 363px,#04ffab 364px,#0fff7e 365px,#1cff30 366px,#6cff13 367px,#a7ff05 368px,#e2ff00 369px,#ffd200 370px,#ff4300 373px,#ff1b00 374px,#f00 375px,#e10000 376px,#bd0000 377px,#a90000 378px,#a30000 379px,#a50000 380px,#b30000 381px,#d00000 382px,#fc0000 383px,#ff0b00 384px,#ff3100 385px,#ff8c00 387px,#fcef00 389px,#c0ff00 390px,#87ff0d 391px,#35ff1b 392px,#15ff63 393px,#08ff99 394px,#00ffc3 395px,#00eeea 396px,#00cfff 397px,#009aff 399px,#005dff 402px,#0031ff 405px,#0006ff 409px,#0000f8 410px,#0000d2 416px,#0000b4 424px,#00009c 437px,#00008a 461px,#000089 464px)"></i>
<i style="background:linear-gradient(90deg,#00008b 0,#000094 56px,#0000a4 75px,#0000c0 87px,#0000d6 96px,#0000d2 102px,#0000b1 117px,#0000a7 133px,#0000b5 191px,#0000c2 205px,#0000d2 211px,#0000e8 215px,#0002fc 217px,#001eff 219px,#004bff 221px,#0069ff 222px,#0093ff 223px,#00cdff 224px,#00ffc1 225px,#15ff61 226px,#7f1 227px,#bfff00 228px,#e8ff00 229px,#ebfc00 230px,#a2ff06 231px,#12ff74 232px,#00e4f5 233px,#00dffb 234px,#00c9ff 235px,#00a6ff 236px,#007eff 237px,#003fff 239px,#0012ff 241px,#0002fc 242px,#0000dc 245px,#0000c8 249px,#0000b8 257px,#0000ae 283px,#0000ae 319px,#0000bd 334px,#0000d5 343px,#0000f3 349px,#0001fa 350px,#0010ff 352px,#003aff 356px,#0067ff 359px,#008eff 361px,#00c0ff 363px,#00dcfe 364px,#00fcd9 365px,#02ffb1 366px,#0dff85 367px,#1aff3e 368px,#5cff16 369px,#9dff07 370px,#d7ff00 371px,#ffdc00 372px,#ff4d00 375px,#ff2300 376px,#f00 377px,#eb0000 378px,#c30000 379px,#ab0000 380px,#a10000 381px,#a10000 382px,#ab0000 383px,#c20000 384px,#e90000 385px,#f00 386px,#f20 387px,#ff7900 389px,#ffda00 391px,#d9ff00 392px,#9fff07 393px,#5fff15 394px,#1aff3b 395px,#0eff84 396px,#02ffb0 397px,#00fdd8 398px,#00ddfd 399px,#00a6ff 401px,#0067ff 404px,#0038ff 407px,#000cff 411px,#0003fd 412px,#0000da 417px,#0000b9 425px,#0000a0 437px,#00008d 459px,#00008a 464px)"></i>
<i style="background:linear-gradient(90deg,#00008b 0,#000094 55px,#0000a4 73px,#0000bd 85px,#0000d3 94px,#0000cf 100px,#0000b0 115px,#0000a6 131px,#0000b5 193px,#0000c2 207px,#0000d4 213px,#0000e7 216px,#0001fb 218px,#0020ff 220px,#0035ff 221px,#0050ff 222px,#0073ff 223px,#00a5ff 224px,#00e6f3 225px,#08ff9b 226px,#2cff1d 227px,#a1ff06 228px,#daff00 229px,#e8ff00 230px,#a9ff04 231px,#32ff1c 232px,#00ffc8 233px,#00dbff 234px,#00bdff 235px,#006bff 237px,#004aff 238px,#002eff 239px,#0005ff 241px,#0000f1 242px,#0000d5 245px,#0000c1 250px,#0000b3 261px,#0000ab 311px,#0000b4 330px,#0000c8 341px,#0000e2 348px,#0000fa 352px,#0007ff 353px,#002dff 357px,#05f 360px,#008bff 363px,#0bf 365px,#00d7ff 366px,#00f6e0 367px,#00ffb9 368px,#0bff8e 369px,#17ff50 370px,#47ff19 371px,#91ff0b 372px,#c9ff00 373px,#ffe800 374px,#ff5900 377px,#ff2e00 378px,#ff0800 379px,#f90000 380px,#c00 381px,#af0000 382px,#a10000 383px,#9f0000 384px,#a40000 385px,#b60000 386px,#d70000 387px,#f00 388px,#ff1200 389px,#ff6500 391px,#ffc500 393px,#f4f500 394px,#b9ff00 395px,#81ff0f 396px,#2dff1c 397px,#14ff69 398px,#08ff9b 399px,#00ffc4 400px,#00edea 401px,#00cfff 402px,#009bff 404px,#005fff 407px,#03f 410px,#0008ff 414px,#0000fa 415px,#0000d3 421px,#0000b5 429px,#00009d 442px,#00008c 464px)"></i>
<i style="background:linear-gradient(90deg,#00008b 0,#000095 54px,#0000a4 72px,#0000c1 85px,#0000d0 93px,#0000c9 100px,#0000ad 114px,#0000a5 131px,#0000b8 200px,#0000c5 210px,#0000d8 215px,#0000ef 218px,#0001fb 219px,#02f 221px,#0039ff 222px,#0058ff 223px,#007fff 224px,#00baff 225px,#00ffd0 226px,#13ff6c 227px,#7aff11 228px,#c5ff00 229px,#e1ff00 230px,#92ff0a 231px,#73ff12 232px,#0eff85 233px,#00d4ff 234px,#00acff 235px,#007dff 236px,#0058ff 237px,#0038ff 238px,#001eff 239px,#000aff 240px,#0000f3 241px,#0000d6 244px,#0000c3 248px,#0000b5 257px,#0000ab 298px,#0000ae 326px,#0000be 339px,#0000d8 348px,#0000f9 354px,#0006ff 355px,#002bff 359px,#0052ff 362px,#0087ff 365px,#00b6ff 367px,#00d1ff 368px,#00efe8 369px,#00ffc2 370px,#08ff99 371px,#14ff65 372px,#30ff1c 373px,#82ff0e 374px,#baff00 375px,#f4f500 376px,#ffc500 377px,#ff3b00 380px,#ff1400 381px,#f00 382px,#b60000 384px,#a30000 385px,#9d0000 386px,#9f0000 387px,#ac0000 388px,#c60000 389px,#f00000 390px,#ff0300 391px,#ff2700 392px,#ff7e00 394px,#ffde00 396px,#d5ff00 397px,#9cff07 398px,#5cff16 399px,#1aff3c 400px,#0eff84 401px,#03ffaf 402px,#00ffd7 403px,#00dffb 404px,#00a9ff 406px,#0069ff 409px,#003bff 412px,#000eff 416px,#0005ff 417px,#0000f7 418px,#0000d2 424px,#0000b5 432px,#00009c 445px,#00008d 464px)"></i>
<i style="background:linear-gradient(90deg,#00008b 0,#000095 53px,#0000a5 71px,#0000cd 90px,#0000c8 97px,#0000ac 112px,#0000a4 130px,#0000b7 202px,#0000c6 212px,#0000d7 216px,#0000ef 219px,#0002fb 220px,#0025ff 222px,#003fff 223px,#0061ff 224px,#0090ff 225px,#00d5ff 226px,#05ffa6 227px,#2aff1d 228px,#a6ff05 229px,#d1ff00 230px,#45ff19 231px,#81ff0f 232px,#1cff31 233px,#00ffcb 234px,#00abff 235px,#0069ff 236px,#04f 237px,#0026ff 238px,#000fff 239px,#0000f7 240px,#0000de 242px,#0000ca 245px,#0000ba 251px,#0000af 268px,#0000ab 321px,#0000b7 337px,#00c 347px,#0000eb 354px,#0000f7 356px,#0005ff 357px,#0029ff 361px,#004fff 364px,#0082ff 367px,#00caff 370px,#00e7f1 371px,#00ffcd 372px,#05ffa4 373px,#11ff79 374px,#1dff28 375px,#71ff13 376px,#a8ff04 377px,#e1ff00 378px,#ffd500 379px,#ff4900 382px,#ff2100 383px,#f00 384px,#e80000 385px,#c10000 386px,#a80000 387px,#9d0000 388px,#9c0000 389px,#a30000 390px,#b80000 391px,#f00 393px,#ff1500 394px,#ff6800 396px,#ffc600 398px,#f3f600 399px,#b9ff00 400px,#82ff0e 401px,#31ff1c 402px,#14ff64 403px,#09ff98 404px,#00ffc1 405px,#00f1e7 406px,#00d3ff 407px,#0089ff 410px,#0052ff 413px,#001eff 417px,#0002fc 420px,#0000d5 426px,#0000b7 434px,#00009e 447px,#00008f 464px)"></i>
<i style="background:linear-gradient(90deg,#00008b 0,#000095 52px,#0000a6 70px,#0000ca 88px,#0000c6 95px,#0000ab 110px,#0000a3 128px,#0000b7 204px,#0000c5 213px,#0000d6 217px,#0000ef 220px,#0003fd 221px,#0014ff 222px,#002aff 223px,#0047ff 224px,#006eff 225px,#00a8ff 226px,#00f7df 227px,#12ff75 228px,#7eff0f 229px,#b8ff00 230px,#0dff89 231px,#7bff10 232px,#5aff16 233px,#09ff98 234px,#00d6ff 235px,#08f 236px,#0057ff 237px,#03f 238px,#0019ff 239px,#0005ff 240px,#0000f0 241px,#0000d4 244px,#0000c0 249px,#0000b3 260px,#0000a9 317px,#0000b2 336px,#0000c6 347px,#0000df 354px,#0000f6 358px,#0003fd 359px,#0027ff 363px,#004bff 366px,#007dff 369px,#00c2ff 372px,#00defb 373px,#00fdd8 374px,#02ffb1 375px,#0dff87 376px,#19ff44 377px,#52ff17 378px,#95ff09 379px,#cdff00 380px,#ffe600 381px,#ff5a00 384px,#ff0a00 386px,#fc0000 387px,#ce0000 388px,#b00000 389px,#9f0000 390px,#9b0000 391px,#9e0000 392px,#ab0000 393px,#c70000 394px,#f20000 395px,#ff0400 396px,#ff2800 397px,#ff7e00 399px,#ffdc00 401px,#d8ff00 402px,#a0ff06 403px,#64ff14 404px,#1cff33 405px,#0fff7e 406px,#04ffa9 407px,#00ffd1 408px,#00e4f5 409px,#00c8ff 410px,#0081ff 413px,#004dff 416px,#001bff 420px,#0008ff 422px,#0000fa 423px,#0000d4 429px,#0000b6 437px,#00009d 450px,#000090 464px)"></i>
<i style="background:linear-gradient(90deg,#00008b 0,#000095 50px,#0000a6 68px,#0000c8 86px,#0000c4 93px,#0000a9 109px,#0000a2 128px,#0000b7 205px,#0000c5 214px,#0000d6 218px,#0000f1 221px,#0006ff 222px,#0018ff 223px,#0031ff 224px,#0053ff 225px,#0080ff 226px,#00c7ff 227px,#03ffaf 228px,#2bff1d 229px,#93ff0a 230px,#00e6f3 231px,#60ff15 232px,#88ff0d 233px,#14ff67 234px,#00fadc 235px,#00a7ff 236px,#006bff 237px,#0043ff 238px,#0026ff 239px,#000fff 240px,#0000f8 241px,#0000e1 243px,#0000c9 247px,#0000b9 254px,#0000ae 275px,#0000a9 324px,#0000b5 341px,#0000cb 351px,#0000e8 358px,#0001fb 361px,#01f 363px,#003aff 367px,#06f 370px,#00a1ff 373px,#00d5ff 375px,#00f2e4 376px,#00ffbf 377px,#09ff96 378px,#15ff63 379px,#30ff1c 380px,#81ff0f 381px,#b7ff00 382px,#f0f800 383px,#ffc900 384px,#ff4100 387px,#ff1a00 388px,#f00 389px,#e00000 390px,#b00 391px,#a40000 392px,#9b0000 393px,#9a0000 394px,#a20000 395px,#b70000 396px,#f00 398px,#ff1400 399px,#ff6500 401px,#ffc200 403px,#f9f100 404px,#c0ff00 405px,#89ff0c 406px,#3eff1a 407px,#16ff56 408px,#0bff90 409px,#00ffb9 410px,#00f7df 411px,#00d9ff 412px,#008eff 415px,#0057ff 418px,#02f 422px,#0006ff 425px,#0000f8 426px,#0000d3 432px,#0000b3 441px,#00009b 455px,#000093 464px)"></i>
<i style="background:linear-gradient(90deg,#00008b 0,#000095 49px,#0000a5 66px,#0000c6 84px,#0000c0 92px,#0000a8 107px,#0000a1 127px,#0000b7 207px,#0000c3 215px,#0000d5 219px,#0000e6 221px,#0000f2 222px,#0008ff 223px,#001dff 224px,#003aff 225px,#0061ff 226px,#009aff 227px,#00efe8 228px,#12ff74 229px,#5cff16 230px,#0092ff 231px,#37ff1b 232px,#a2ff06 233px,#1cff2e 234px,#00ffc2 235px,#00b6ff 236px,#0073ff 237px,#0048ff 238px,#0028ff 239px,#0010ff 240px,#0000f9 241px,#0000e1 243px,#00c 246px,#00b 252px,#0000af 268px,#0000a8 324px,#0000b3 342px,#0000c9 353px,#0000e6 360px,#0000f9 363px,#0006ff 364px,#002bff 368px,#0051ff 371px,#0084ff 374px,#00cbff 377px,#00e7f2 378px,#00ffce 379px,#05ffa7 380px,#10ff7c 381px,#1cff30 382px,#66ff14 383px,#a0ff06 384px,#d8ff00 385px,#ffde00 386px,#ff5400 389px,#ff0700 391px,#f70000 392px,#cb0000 393px,#ad0000 394px,#9d0000 395px,#900 396px,#9c0000 397px,#a90000 398px,#c50000 399px,#e00 400px,#ff0100 401px,#ff2400 402px,#ff7800 404px,#ffd500 406px,#e2ff00 407px,#aaff04 408px,#75ff12 409px,#1eff22 410px,#12ff74 411px,#00ffc7 413px,#00ecec 414px,#00cfff 415px,#0087ff 418px,#0052ff 421px,#001fff 425px,#0004fe 428px,#0000e8 431px,#0000c5 438px,#00a 448px,#000095 464px)"></i>
<i style="background:linear-gradient(90deg,#00008b 0,#000095 47px,#0000a6 65px,#0000c4 81px,#0000c1 88px,#0000a7 105px,#0000a0 126px,#0000b6 210px,#0000c1 217px,#0000cf 220px,#0000e0 222px,#0004fe 224px,#001cff 225px,#003cff 226px,#0067ff 227px,#00a5ff 228px,#00ffc8 229px,#17ff55 230px,#005dff 231px,#1dff2d 232px,#baff00 233px,#4dff18 234px,#06ffa4 235px,#00c9ff 236px,#007dff 237px,#004eff 238px,#002bff 239px,#0012ff 240px,#0000fa 241px,#0000e0 243px,#00c 246px,#00b 252px,#0000af 268px,#0000a7 326px,#0000b2 344px,#0000c8 355px,#0000e4 362px,#0000f6 365px,#0004fe 366px,#0027ff 370px,#005aff 374px,#0091ff 377px,#00dbff 380px,#00f9dd 381px,#00ffb8 382px,#0bff8f 383px,#17ff55 384px,#3eff1a 385px,#88ff0d 386px,#beff00 387px,#f7f300 388px,#ffc500 389px,#ff3e00 392px,#ff1800 393px,#f00 394px,#ba0000 396px,#a30000 397px,#9a0000 398px,#900 399px,#a00000 400px,#b30000 401px,#d40000 402px,#f00 403px,#ff0f00 404px,#ff5e00 406px,#ffe700 409px,#cf0 410px,#96ff09 411px,#54ff17 412px,#1aff41 413px,#0eff84 414px,#03ffae 415px,#00ffd4 416px,#00e2f7 417px,#00c6ff 418px,#0081ff 421px,#004eff 424px,#001dff 428px,#0002fc 431px,#0000d6 437px,#0000b7 445px,#00009e 458px,#000097 464px)"></i>
<i style="background:linear-gradient(90deg,#00008b 0,#000095 46px,#0000a6 63px,#0000c2 79px,#0000bd 87px,#0000a5 103px,#00009f 124px,#0000b6 210px,#0000c2 217px,#0000d0 220px,#0000e3 222px,#0000f1 223px,#000aff 224px,#0025ff 225px,#004aff 226px,#007aff 227px,#00bdff 228px,#00f9dd 229px,#00ffc5 230px,#0038ff 231px,#17ff52 232px,#c9ff00 233px,#81ff0f 234px,#0fff7f 235px,#00e2f8 236px,#008cff 237px,#0056ff 238px,#0031ff 239px,#0016ff 240px,#0002fc 241px,#0000e1 243px,#00c 246px,#0000ba 252px,#0000af 268px,#0000a6 328px,#0000b1 346px,#0000c7 357px,#0000e2 364px,#0001fb 368px,#0010ff 370px,#0039ff 374px,#0064ff 377px,#009dff 380px,#00cfff 382px,#00ebed 383px,#00ffc9 384px,#06ffa2 385px,#1f7 386px,#1dff28 387px,#6dff13 388px,#a4ff05 389px,#dbff00 390px,#ffdc00 391px,#ff5400 394px,#ff0700 396px,#f80000 397px,#c00 398px,#ae0000 399px,#9d0000 400px,#980000 401px,#9a0000 402px,#a60000 403px,#bf0000 404px,#e60000 405px,#f00 406px,#ff1d00 407px,#ff6f00 409px,#ffca00 411px,#f0f800 412px,#b9ff00 413px,#83ff0e 414px,#36ff1b 415px,#16ff5c 416px,#0aff92 417px,#00ffba 418px,#00f7df 419px,#00d9ff 420px,#0090ff 423px,#0059ff 426px,#0025ff 430px,#0008ff 433px,#0000fa 434px,#0000d5 440px,#0000b7 448px,#00009e 461px,#00009b 464px)"></i>
<i style="background:linear-gradient(90deg,#00008c 0,#000096 45px,#0000a8 62px,#0000c1 77px,#0000bc 85px,#0000a4 102px,#00009e 125px,#0000b6 210px,#0000c3 217px,#0000d2 220px,#0000e7 222px,#0000f6 223px,#0012ff 224px,#0031ff 225px,#005aff 226px,#0093ff 227px,#00dbff 228px,#00ffc4 229px,#00fed7 230px,#0018ff 231px,#0fff80 232px,#cf0 233px,#a2ff06 234px,#1aff41 235px,#00ffd6 236px,#00a2ff 237px,#0062ff 238px,#0039ff 239px,#001bff 240px,#0005ff 241px,#0000ef 242px,#0000d9 244px,#0000c4 248px,#0000b5 256px,#00a 290px,#0000a5 332px,#0000b1 349px,#0000c8 360px,#0000e5 367px,#0000f8 370px,#0005ff 371px,#0029ff 375px,#005dff 379px,#0094ff 382px,#00defc 385px,#00fbda 386px,#01ffb5 387px,#0cff8d 388px,#17ff52 389px,#40ff1a 390px,#89ff0d 391px,#beff00 392px,#f6f400 393px,#ffc600 394px,#ff4100 397px,#ff1a00 398px,#f00 399px,#e30000 400px,#bd0000 401px,#a50000 402px,#900 403px,#970000 404px,#9d0000 405px,#ae0000 406px,#c00 407px,#f80000 408px,#ff0700 409px,#ff5300 411px,#ffda00 414px,#df0 415px,#a7ff05 416px,#73ff12 417px,#1eff23 418px,#12ff74 419px,#00ffc6 421px,#00eeea 422px,#00d1ff 423px,#008aff 426px,#05f 429px,#02f 433px,#0006ff 436px,#0000f8 437px,#0000d4 443px,#0000b4 452px,#00009e 464px)"></i>
<i style="background:linear-gradient(90deg,#00008c 0,#000096 43px,#0000a7 60px,#0000c0 75px,#0000b8 84px,#0000a3 100px,#00009e 123px,#0000b5 209px,#0000c1 216px,#0000d5 220px,#0000ec 222px,#0004fe 223px,#001cff 224px,#003fff 225px,#006eff 226px,#00b0ff 227px,#00f7e0 228px,#01ffb5 229px,#00f8de 230px,#0000f3 231px,#00ffba 232px,#c5ff00 233px,#bf0 234px,#47ff19 235px,#03ffae 236px,#00bcff 237px,#0072ff 238px,#04f 239px,#02f 240px,#000bff 241px,#0000f3 242px,#0000dc 244px,#0000c9 247px,#0000b9 253px,#0000ae 271px,#0000a4 331px,#0000af 350px,#0000c4 361px,#0000e3 369px,#0002fc 373px,#0024ff 377px,#0056ff 381px,#0089ff 384px,#00d0ff 387px,#00ecec 388px,#00ffc9 389px,#11ff78 391px,#1dff2b 392px,#69ff14 393px,#a1ff06 394px,#d7ff00 395px,#ffdf00 396px,#ff5900 399px,#ff0c00 401px,#f00 402px,#d20000 403px,#b10000 404px,#9f0000 405px,#970000 406px,#980000 407px,#a10000 408px,#b70000 409px,#f00 411px,#ff1300 412px,#ff6100 414px,#ffe800 417px,#cf0 418px,#97ff09 419px,#58ff16 420px,#1aff3c 421px,#0fff81 422px,#04ffaa 423px,#00ffd0 424px,#00e6f3 425px,#00caff 426px,#0085ff 429px,#0052ff 432px,#0020ff 436px,#0005ff 439px,#0000f0 441px,#0000ca 448px,#0000ad 458px,#0000a2 464px)"></i>
<i style="background:linear-gradient(90deg,#00008c 0,#000096 42px,#0000a9 59px,#0000be 72px,#0000ba 80px,#0000a2 98px,#00009d 122px,#0000b6 209px,#0000c3 216px,#0000d1 219px,#0000e4 221px,#0000f2 222px,#000dff 223px,#0028ff 224px,#004fff 225px,#0083ff 226px,#00cdff 227px,#00ffc5 228px,#03ffaf 229px,#00e3f7 230px,#0000e0 231px,#00d9ff 232px,#afff03 233px,#c5ff00 234px,#80ff0f 235px,#0eff84 236px,#00dbff 237px,#0086ff 238px,#0052ff 239px,#002dff 240px,#0012ff 241px,#0000f9 242px,#0000df 244px,#0000cb 247px,#0000ba 253px,#0000ae 270px,#0000a3 332px,#0000ad 351px,#0000c3 363px,#0000e0 371px,#0000f8 375px,#0006ff 376px,#002aff 380px,#005dff 384px,#0094ff 387px,#00ddfd 390px,#00fadc 391px,#00ffb7 392px,#0bff90 393px,#16ff59 394px,#38ff1b 395px,#84ff0e 396px,#b8ff00 397px,#eff900 398px,#fc0 399px,#ff4800 402px,#ff2100 403px,#f00 404px,#ec0000 405px,#c40000 406px,#a90000 407px,#9a0000 408px,#970000 409px,#9a0000 410px,#a70000 411px,#c10000 412px,#e80000 413px,#f00 414px,#ff1e00 415px,#ff6e00 417px,#ffc800 419px,#f3f600 420px,#bdff00 421px,#88ff0d 422px,#3fff1a 423px,#17ff52 424px,#0cff8c 425px,#01ffb4 426px,#00fcd9 427px,#00dffb 428px,#00acff 430px,#006fff 433px,#0041ff 436px,#0014ff 440px,#0003fd 442px,#0000e2 446px,#0000c2 453px,#0000a7 464px)"></i>
<i style="background:linear-gradient(90deg,#00008c 0,#000096 40px,#0000a9 57px,#0000bd 70px,#0000b7 79px,#0000a1 96px,#00009c 121px,#0000b6 208px,#0000c1 215px,#0000d5 219px,#0000ea 221px,#0000fa 222px,#0016ff 223px,#0036ff 224px,#0061ff 225px,#009eff 226px,#00e8f0 227px,#02ffb2 228px,#03ffaf 229px,#00c1ff 230px,#0000d4 231px,#009eff 232px,#84ff0e 233px,#c5ff00 234px,#9eff07 235px,#18ff49 236px,#00fcda 237px,#009fff 238px,#0061ff 239px,#0038ff 240px,#001bff 241px,#0006ff 242px,#0000ef 243px,#0000da 245px,#0000c5 249px,#0000b6 257px,#0000a9 290px,#0000a2 336px,#0000ae 355px,#0000c4 366px,#0000e3 374px,#0002fc 378px,#0024ff 382px,#05f 386px,#08f 389px,#00cdff 392px,#00e9ef 393px,#00ffcd 394px,#05ffa7 395px,#0fff7e 396px,#1bff37 397px,#5cff16 398px,#99ff08 399px,#ceff00 400px,#ffe800 401px,#ff6200 404px,#ff1400 406px,#f00 407px,#b80000 409px,#a20000 410px,#980000 411px,#970000 412px,#9d0000 413px,#ae0000 414px,#c00 415px,#f70000 416px,#ff0600 417px,#ff5000 419px,#ffd500 422px,#e4ff00 423px,#aeff03 424px,#7bff10 425px,#29ff1d 426px,#14ff66 427px,#09ff96 428px,#00ffbd 429px,#00f5e1 430px,#00d9ff 431px,#0091ff 434px,#005bff 437px,#0027ff 441px,#0002fc 445px,#0000d6 451px,#0000b9 459px,#0000ac 464px)"></i>
<i style="background:linear-gradient(90deg,#00008c 0,#000097 39px,#0000ab 56px,#0000bc 68px,#0000b5 77px,#0000a0 94px,#00009c 119px,#0000b6 208px,#0000c3 215px,#0000d1 218px,#0000e2 220px,#0000f0 221px,#0008ff 222px,#0021ff 223px,#04f 224px,#0073ff 225px,#00b8ff 226px,#00ffd4 227px,#05ffa6 228px,#00ffb9 229px,#0097ff 230px,#0000cb 231px,#006eff 232px,#20ff1e 233px,#beff00 234px,#b3ff01 235px,#37ff1b 236px,#01ffb5 237px,#00b9ff 238px,#0072ff 239px,#04f 240px,#0024ff 241px,#000cff 242px,#0000f5 243px,#0000de 245px,#0000ca 248px,#0000ba 254px,#0000ae 271px,#0000a1 335px,#0000ab 355px,#0000c0 367px,#0000db 375px,#0000f8 380px,#0005ff 381px,#0034ff 386px,#005cff 389px,#0091ff 392px,#00d9ff 395px,#00f5e1 396px,#00ffbe 397px,#09ff97 398px,#14ff68 399px,#27ff1d 400px,#79ff11 401px,#acff03 402px,#e2ff00 403px,#ffd700 404px,#ff5300 407px,#ff0800 409px,#fb0000 410px,#cf0000 411px,#b00000 412px,#9d0000 413px,#970000 414px,#970000 415px,#a00000 416px,#b50000 417px,#d70000 418px,#f00 419px,#ff0f00 420px,#ff5c00 422px,#ffe100 425px,#d6ff00 426px,#a1ff06 427px,#6bff13 428px,#1dff28 429px,#12ff76 430px,#00ffc6 432px,#00efe9 433px,#00d3ff 434px,#008dff 437px,#0058ff 440px,#0025ff 444px,#0009ff 447px,#0001fb 448px,#0000d6 454px,#0000b6 463px,#0000b3 464px)"></i>
<i style="background:linear-gradient(90deg,#00008c 0,#000097 37px,#0000ab 54px,#00b 66px,#0000b2 76px,#00009f 93px,#00009b 120px,#0000b6 207px,#0000c4 215px,#0000d4 218px,#0000e7 220px,#0000f6 221px,#0010ff 222px,#002cff 223px,#0052ff 224px,#0086ff 225px,#00d1ff 226px,#00ffbc 227px,#06ffa2 228px,#00ffd1 229px,#0071ff 230px,#0000c5 231px,#004bff 232px,#0bff8e 233px,#abff04 234px,#beff00 235px,#72ff12 236px,#0aff91 237px,#00d4ff 238px,#0082ff 239px,#0051ff 240px,#002dff 241px,#0014ff 242px,#0001fa 243px,#0000e1 245px,#00c 248px,#00b 254px,#0000af 270px,#0000a0 336px,#00a 357px,#0000be 369px,#0000d9 377px,#0001fb 383px,#01f 385px,#0039ff 389px,#0062ff 392px,#009aff 395px,#00c9ff 397px,#00e3f6 398px,#00ffd4 399px,#02ffaf 400px,#0dff88 401px,#18ff4b 402px,#46ff19 403px,#8bff0c 404px,#bfff00 405px,#f5f400 406px,#ffc800 407px,#ff4600 410px,#ff2000 411px,#f00 412px,#ec0000 413px,#c30000 414px,#a90000 415px,#9a0000 416px,#960000 417px,#900 418px,#a50000 419px,#bd0000 420px,#e20000 421px,#f00 422px,#ff1800 423px,#f60 425px,#ffeb00 428px,#caff00 429px,#96ff09 430px,#58ff16 431px,#1bff3a 432px,#0fff7f 433px,#05ffa8 434px,#00ffcd 435px,#00e9ef 436px,#00ceff 437px,#0089ff 440px,#0056ff 443px,#0023ff 447px,#0008ff 450px,#0000fa 451px,#0000d5 457px,#00b 464px)"></i>
<i style="background:linear-gradient(90deg,#00008d 0,#000097 35px,#0000ab 52px,#0000ba 63px,#0000b2 73px,#00009e 90px,#00009b 117px,#0000b7 207px,#0000c3 214px,#0000d7 218px,#0000ec 220px,#0002fc 221px,#0018ff 222px,#0037ff 223px,#0061ff 224px,#009cff 225px,#00e8f1 226px,#04ffab 227px,#06ffa2 228px,#00e5f4 229px,#0053ff 230px,#0000c0 231px,#0030ff 232px,#00fed8 233px,#8aff0c 234px,#bfff00 235px,#8eff0b 236px,#13ff6d 237px,#00eeea 238px,#0097ff 239px,#005eff 240px,#0037ff 241px,#001bff 242px,#0006ff 243px,#0000f1 244px,#0000d4 247px,#0000c0 252px,#0000b2 263px,#00009f 335px,#0000a7 357px,#0000ba 370px,#0000d6 379px,#0000f7 385px,#0004fe 386px,#0032ff 391px,#0069ff 395px,#00a2ff 398px,#00d2ff 400px,#00eeea 401px,#00ffc7 402px,#11ff79 404px,#1cff2f 405px,#63ff15 406px,#9cff08 407px,#d1ff00 408px,#ffe600 409px,#ff6200 412px,#ff1500 414px,#f00 415px,#ba0000 417px,#a30000 418px,#980000 419px,#960000 420px,#9b0000 421px,#a00 422px,#c50000 423px,#e00 424px,#f00 425px,#ff2100 426px,#ff7000 428px,#ffc800 430px,#f4f500 431px,#bfff00 432px,#8bff0c 433px,#46ff19 434px,#18ff4a 435px,#0dff87 436px,#03ffaf 437px,#00ffd3 438px,#00e4f5 439px,#00c9ff 440px,#0086ff 443px,#0053ff 446px,#02f 450px,#0007ff 453px,#0000f9 454px,#0000d5 460px,#0000c4 464px)"></i>
<i style="background:linear-gradient(90deg,#00008d 0,#000098 34px,#0000af 52px,#0000b9 62px,#0000a9 76px,#00009b 94px,#00009d 128px,#0000b7 207px,#0000c4 214px,#0000d2 217px,#0000e4 219px,#0000f1 220px,#0009ff 221px,#0020ff 222px,#0042ff 223px,#006fff 224px,#00b0ff 225px,#00fcd9 226px,#07ffa0 227px,#04ffa8 228px,#00c1ff 229px,#003aff 230px,#0000bd 231px,#001cff 232px,#00c6ff 233px,#4bff18 234px,#bcff00 235px,#a3ff06 236px,#1bff36 237px,#00ffcd 238px,#00abff 239px,#006aff 240px,#0040ff 241px,#02f 242px,#000cff 243px,#0000f5 244px,#0000df 246px,#0000c7 250px,#0000b7 258px,#00a 286px,#00009e 340px,#0000a8 361px,#0000bd 374px,#0000d8 382px,#0000fa 388px,#0007ff 389px,#0036ff 394px,#005fff 397px,#0094ff 400px,#00dbff 403px,#00f8df 404px,#0fb 405px,#09ff95 406px,#14ff65 407px,#29ff1d 408px,#7aff11 409px,#acff03 410px,#e1ff00 411px,#ffd800 412px,#ff5600 415px,#ff0c00 417px,#f00 418px,#d30000 419px,#b30000 420px,#9f0000 421px,#970000 422px,#960000 423px,#9d0000 424px,#af0000 425px,#cd0000 426px,#f90000 427px,#ff0700 428px,#ff5000 430px,#ffd100 433px,#e9fe00 434px,#b4ff01 435px,#81ff0f 436px,#36ff1b 437px,#16ff59 438px,#0bff8e 439px,#01ffb5 440px,#00fcd9 441px,#00dffa 442px,#00adff 444px,#0071ff 447px,#04f 450px,#0017ff 454px,#0006ff 456px,#0000f8 457px,#0000d5 463px,#0000d0 464px)"></i>
</b></div>
<div class="frame" style="left:141px;top:58px;width:464px;height:177px"></div>
<div class="cb" style="left:608px;top:58px"></div>
<div class="frame" style="left:608px;top:58px;width:23px;height:177px"></div>
<div class="cl" style="left:636px;top:227.3px">0</div>
<div class="cbt" style="left:628px;top:190.2px"></div>
<div class="cl" style="left:636px;top:183.1px">0.25</div>
<div class="cbt" style="left:628px;top:146.0px"></div>
<div class="cl" style="left:636px;top:138.8px">0.5</div>
<div class="cbt" style="left:628px;top:101.8px"></div>
<div class="cl" style="left:636px;top:94.5px">0.75</div>
<div class="tk tky" style="left:107.5px;top:49.8px">15</div>
<div class="tk tky" style="left:107.5px;top:79.3px">10</div>
<div class="tk tky" style="left:107.5px;top:108.8px">5</div>
<div class="tk tky" style="left:107.5px;top:138.3px">0</div>
<div class="tk tky" style="left:107.5px;top:167.8px"><span class="m">−</span>5</div>
<div class="tk tky" style="left:107.5px;top:197.3px"><span class="m">−</span>10</div>
<div class="tk tky" style="left:107.5px;top:226.8px"><span class="m">−</span>15</div>
<div class="tk tkx" style="left:121.0px;top:236.7px"><span class="m">−</span>10</div>
<div class="tk tkx" style="left:237.0px;top:236.7px"><span class="m">−</span>5</div>
<div class="tk tkx" style="left:353.0px;top:236.7px">0</div>
<div class="tk tkx" style="left:469.0px;top:236.7px">5</div>
<div class="tk tkx" style="left:585.0px;top:236.7px">10</div>
<div class="rot tr" style="left:661.6px;top:224.6px">TRANSMITTANCE</div>
<div class="rot eps" style="left:94.1px;top:154.7px;line-height:24px"><span style="font-size:21.5px">ε</span><span style="font-size:14.3px;font-style:normal;position:relative;top:2.6px;left:-.6px">1</span></div>
<div class="frame" style="left:141px;top:270px;width:464px;height:177px"></div>
<div class="cb" style="left:608px;top:270px"></div>
<div class="frame" style="left:608px;top:270px;width:23px;height:177px"></div>
<div class="cl" style="left:636px;top:439.3px">0</div>
<div class="cbt" style="left:628px;top:402.2px"></div>
<div class="cl" style="left:636px;top:395.1px">0.25</div>
<div class="cbt" style="left:628px;top:358.0px"></div>
<div class="cl" style="left:636px;top:350.8px">0.5</div>
<div class="cbt" style="left:628px;top:313.8px"></div>
<div class="cl" style="left:636px;top:306.6px">0.75</div>
<div class="tk tky" style="left:107.5px;top:261.8px">15</div>
<div class="tk tky" style="left:107.5px;top:291.3px">10</div>
<div class="tk tky" style="left:107.5px;top:320.8px">5</div>
<div class="tk tky" style="left:107.5px;top:350.3px">0</div>
<div class="tk tky" style="left:107.5px;top:379.8px"><span class="m">−</span>5</div>
<div class="tk tky" style="left:107.5px;top:409.3px"><span class="m">−</span>10</div>
<div class="tk tky" style="left:107.5px;top:438.8px"><span class="m">−</span>15</div>
<div class="tk tkx" style="left:121.0px;top:448.7px"><span class="m">−</span>10</div>
<div class="tk tkx" style="left:237.0px;top:448.7px"><span class="m">−</span>5</div>
<div class="tk tkx" style="left:353.0px;top:448.7px">0</div>
<div class="tk tkx" style="left:469.0px;top:448.7px">5</div>
<div class="tk tkx" style="left:585.0px;top:448.7px">10</div>
<div class="rot tr" style="left:661.6px;top:436.6px">TRANSMITTANCE</div>
<div class="rot eps" style="left:94.1px;top:366.7px;line-height:24px"><span style="font-size:21.5px">ε</span><span style="font-size:14.3px;font-style:normal;position:relative;top:2.6px;left:-.6px">1</span></div>
<div class="abs eps" style="left:352.5px;top:455.2px;width:40px;text-align:center;font-size:22px;line-height:24px">ε</div>
<div class="rot sh" style="left:285px;top:214.2px">Blue shift</div>
<div class="rot sh" style="left:285px;top:422.8px">Red shift</div>
<svg class="abs" style="left:0;top:0" width="780" height="500" viewBox="0 0 780 500"><g fill="#fff"><rect x="321" y="94" width="3.4" height="112.3"/><path d="M322.7 78.7 L329.5 96 L315.9 96 Z"/><rect x="320.3" y="295.8" width="3.4" height="113"/><path d="M322 422.7 L328.8 407.5 L315.2 407.5 Z"/></g></svg>
</body>
</html>
